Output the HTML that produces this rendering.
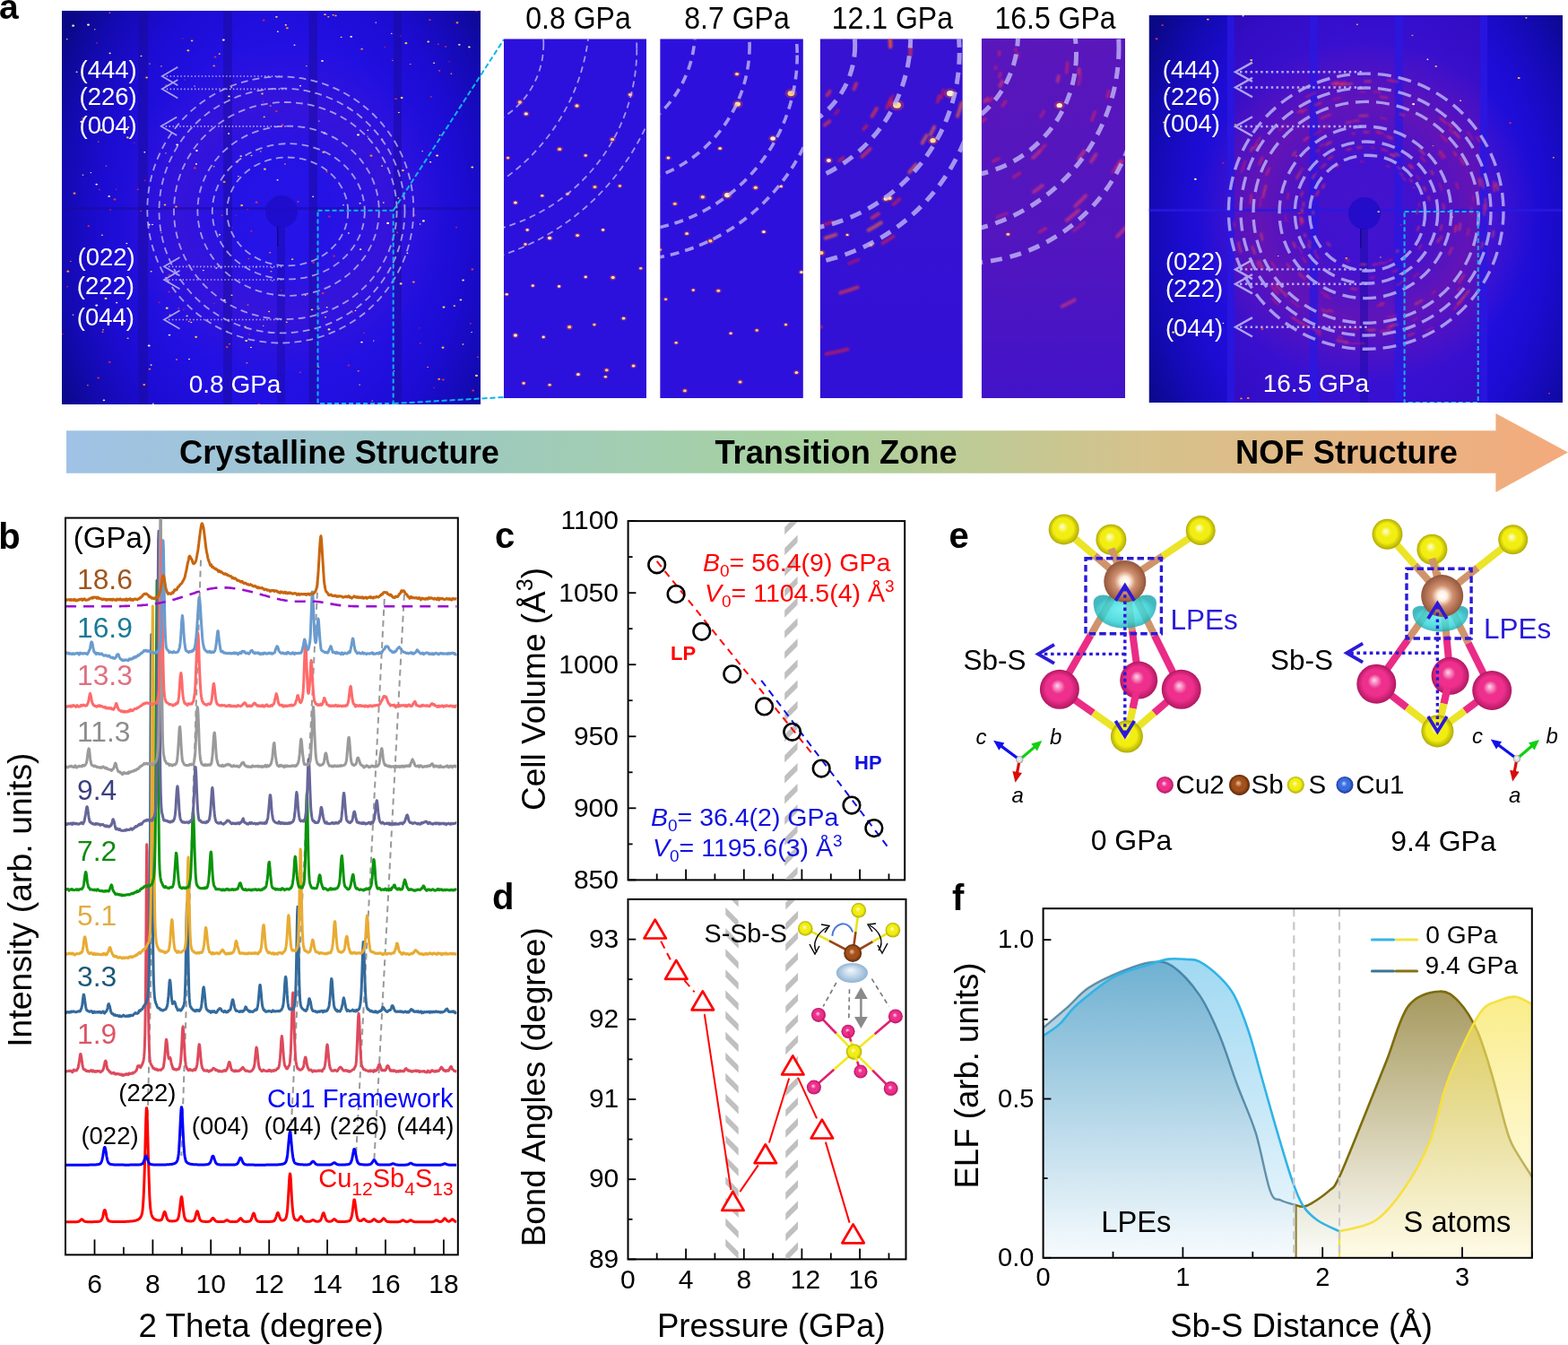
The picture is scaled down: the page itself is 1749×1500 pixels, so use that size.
<!DOCTYPE html>
<html><head><meta charset="utf-8"><title>Figure</title><style>html,body{margin:0;padding:0;background:#fff;}svg{display:block;}</style></head><body>
<svg width="1749" height="1500" viewBox="0 0 1749 1500" font-family="'Liberation Sans', Arial, sans-serif">
<defs><radialGradient id="spS" cx="0.5" cy="0.5" r="0.5" fx="0.44" fy="0.4"><stop offset="0" stop-color="#ffffd8"/><stop offset="0.36" stop-color="#f2ee12"/><stop offset="0.66" stop-color="#f2ee12"/><stop offset="1" stop-color="#b0aa00"/></radialGradient>
<radialGradient id="spSb" cx="0.5" cy="0.5" r="0.5" fx="0.44" fy="0.4"><stop offset="0" stop-color="#fff4ea"/><stop offset="0.36" stop-color="#c88c68"/><stop offset="0.66" stop-color="#c88c68"/><stop offset="1" stop-color="#8a5236"/></radialGradient>
<radialGradient id="spSbd" cx="0.5" cy="0.5" r="0.5" fx="0.44" fy="0.4"><stop offset="0" stop-color="#f0c0a0"/><stop offset="0.36" stop-color="#a4501a"/><stop offset="0.66" stop-color="#a4501a"/><stop offset="1" stop-color="#5a2808"/></radialGradient>
<radialGradient id="spCu2" cx="0.5" cy="0.5" r="0.5" fx="0.44" fy="0.4"><stop offset="0" stop-color="#ffd8ec"/><stop offset="0.36" stop-color="#ee2f8c"/><stop offset="0.66" stop-color="#ee2f8c"/><stop offset="1" stop-color="#b01862"/></radialGradient>
<radialGradient id="spCu1" cx="0.5" cy="0.5" r="0.5" fx="0.44" fy="0.4"><stop offset="0" stop-color="#c0d8ff"/><stop offset="0.36" stop-color="#3a6ee0"/><stop offset="0.66" stop-color="#3a6ee0"/><stop offset="1" stop-color="#1a3490"/></radialGradient>
<radialGradient id="spW" cx="0.5" cy="0.5" r="0.5" fx="0.44" fy="0.4"><stop offset="0" stop-color="#ffffff"/><stop offset="0.36" stop-color="#e0e0e0"/><stop offset="0.66" stop-color="#e0e0e0"/><stop offset="1" stop-color="#909090"/></radialGradient>
<radialGradient id="spSbC" cx="0.5" cy="0.5" r="0.5" fx="0.5" fy="0.5"><stop offset="0" stop-color="#ffffff"/><stop offset="0.22" stop-color="#fff0e0"/><stop offset="0.5" stop-color="#d09070"/><stop offset="0.95" stop-color="#9a5c40"/><stop offset="1" stop-color="#8a5236"/></radialGradient>
<radialGradient id="lobe" cx="0.5" cy="0.5" r="0.5" fx="0.5" fy="0.4"><stop offset="0" stop-color="#60f0f0"/><stop offset="0.7" stop-color="#30d4d8"/><stop offset="1" stop-color="#1aa8b0"/></radialGradient>
<radialGradient id="lobe2" cx="0.5" cy="0.5" r="0.5" fx="0.45" fy="0.35"><stop offset="0" stop-color="#f4f8fc"/><stop offset="0.5" stop-color="#c4d8ea"/><stop offset="1" stop-color="#90b4d4"/></radialGradient>
<clipPath id="clipL"><rect x="69" y="12" width="467" height="439"/></clipPath>
<radialGradient id="bgL" gradientUnits="userSpaceOnUse" cx="0" cy="0" r="1" gradientTransform="translate(316 248) scale(289.5 403.9)"><stop offset="0" stop-color="#2614e8"/><stop offset="0.5" stop-color="#2210e2"/><stop offset="0.7" stop-color="#1c0cd2"/><stop offset="0.85" stop-color="#140ab2"/><stop offset="1" stop-color="#0a0884"/></radialGradient>
<radialGradient id="tnL" gradientUnits="userSpaceOnUse" cx="316" cy="234" r="185.6"><stop offset="0.3" stop-color="#a020a0" stop-opacity="0"/><stop offset="0.62" stop-color="#a020a0" stop-opacity="0.14"/><stop offset="1" stop-color="#a020a0" stop-opacity="0"/></radialGradient>
<clipPath id="clipR"><rect x="1281.5" y="17" width="461.5" height="432"/></clipPath>
<radialGradient id="bgR" gradientUnits="userSpaceOnUse" cx="0" cy="0" r="1" gradientTransform="translate(1524 250) scale(286.1 397.4)"><stop offset="0" stop-color="#2614e8"/><stop offset="0.5" stop-color="#2210e2"/><stop offset="0.7" stop-color="#1c0cd2"/><stop offset="0.85" stop-color="#140ab2"/><stop offset="1" stop-color="#0a0884"/></radialGradient>
<radialGradient id="tnR" gradientUnits="userSpaceOnUse" cx="1524" cy="236" r="191.6"><stop offset="0.3" stop-color="#c02080" stop-opacity="0"/><stop offset="0.62" stop-color="#c02080" stop-opacity="0.3"/><stop offset="1" stop-color="#c02080" stop-opacity="0"/></radialGradient>
<linearGradient id="mtR" gradientUnits="userSpaceOnUse" x1="0" y1="17" x2="0" y2="449"><stop offset="0" stop-color="#8a1090" stop-opacity="0.2"/><stop offset="0.45" stop-color="#8a1090" stop-opacity="0.3"/><stop offset="1" stop-color="#8a1090" stop-opacity="0.2"/></linearGradient>
<filter id="fblur" x="-20%" y="-20%" width="140%" height="140%"><feGaussianBlur stdDeviation="1.3"/></filter>
<clipPath id="sclip1"><rect x="561.9" y="43.3" width="159.1" height="400.7"/></clipPath>
<clipPath id="sclip2"><rect x="736.2" y="43.3" width="159.7" height="400.7"/></clipPath>
<clipPath id="sclip3"><rect x="914.7" y="43.3" width="159.1" height="400.7"/></clipPath>
<linearGradient id="stt3" x1="0" y1="0" x2="0" y2="1"><stop offset="0" stop-color="#8020a0" stop-opacity="0.12"/><stop offset="0.55" stop-color="#8020a0" stop-opacity="0.096"/><stop offset="1" stop-color="#8020a0" stop-opacity="0.03"/></linearGradient>
<clipPath id="sclip4"><rect x="1094.8" y="42.7" width="160.2" height="401.3"/></clipPath>
<linearGradient id="stt4" x1="0" y1="0" x2="0" y2="1"><stop offset="0" stop-color="#9a2098" stop-opacity="0.32"/><stop offset="0.55" stop-color="#9a2098" stop-opacity="0.256"/><stop offset="1" stop-color="#9a2098" stop-opacity="0.08"/></linearGradient>
<linearGradient id="abar" gradientUnits="userSpaceOnUse" x1="74" y1="0" x2="1749" y2="0"><stop offset="0" stop-color="#a0c2e6"/><stop offset="0.28" stop-color="#9ecabe"/><stop offset="0.5" stop-color="#a8d29e"/><stop offset="0.72" stop-color="#d6c28c"/><stop offset="1" stop-color="#f4aa7c"/></linearGradient>
<clipPath id="bclip"><rect x="74" y="578.6" width="435.8" height="819.8"/></clipPath>
<clipPath id="hc1"><rect x="875.2" y="582.1" width="14.4" height="398.3"/></clipPath>
<clipPath id="hc2"><rect x="809.3" y="1003.9" width="14.4" height="399.5"/></clipPath>
<clipPath id="hc3"><rect x="876.3" y="1003.9" width="13.8" height="399.5"/></clipPath>
<linearGradient id="g9" gradientUnits="userSpaceOnUse" x1="0" y1="1060" x2="0" y2="1402"><stop offset="0" stop-color="#2a7aa6" stop-opacity="1"/><stop offset="1" stop-color="#ffffff" stop-opacity="1"/></linearGradient>
<linearGradient id="gs9" gradientUnits="userSpaceOnUse" x1="0" y1="1060" x2="0" y2="1402"><stop offset="0" stop-color="#7e6c18" stop-opacity="1"/><stop offset="1" stop-color="#fffef8" stop-opacity="1"/></linearGradient>
<linearGradient id="g0" gradientUnits="userSpaceOnUse" x1="0" y1="1060" x2="0" y2="1402"><stop offset="0" stop-color="#9ed8f2" stop-opacity="1"/><stop offset="1" stop-color="#f0f8fd" stop-opacity="1"/></linearGradient>
<linearGradient id="gs0" gradientUnits="userSpaceOnUse" x1="0" y1="1060" x2="0" y2="1402"><stop offset="0" stop-color="#f6e03a" stop-opacity="1"/><stop offset="1" stop-color="#fff8d0" stop-opacity="0.6"/></linearGradient></defs>
<rect width="1749" height="1500" fill="#fff"/>
<g clip-path="url(#clipL)">
<rect x="69" y="12" width="467" height="439" fill="url(#bgL)"/>
<rect x="69" y="12" width="467" height="439" fill="url(#tnL)"/>
<rect x="154" y="12" width="11" height="439" fill="#1a0a9a" opacity="0.5"/>
<rect x="249" y="12" width="10" height="439" fill="#1a0a9a" opacity="0.5"/>
<rect x="344.5" y="12" width="9.5" height="439" fill="#1a0a9a" opacity="0.5"/>
<rect x="439" y="12" width="9" height="439" fill="#1a0a9a" opacity="0.5"/>
<rect x="69" y="231" width="467" height="3" fill="#1a0a9a" opacity="0.5"/>
<circle cx="314" cy="236" r="18" fill="#1e0cc8" opacity="0.85"/>
<rect x="309" y="253" width="9" height="198" fill="#1a0aa8" opacity="0.5"/>
<rect x="309" y="253" width="1.5" height="22" fill="#10067a" opacity="0.8"/>
<ellipse cx="280.3" cy="257.7" rx="1.3" ry="0.9" fill="#c02060"/>
<ellipse cx="280" cy="387.4" rx="1" ry="0.7" fill="#fff0b0"/>
<ellipse cx="444.4" cy="220.9" rx="1" ry="0.7" fill="#ffffe0"/>
<ellipse cx="113" cy="145.2" rx="1.5" ry="1.1" fill="#ffe070"/>
<ellipse cx="447.1" cy="316.4" rx="1.5" ry="1.1" fill="#ffe070"/>
<ellipse cx="527.7" cy="435.5" rx="1.5" ry="1.1" fill="#e03050"/>
<ellipse cx="372.6" cy="285.6" rx="1.5" ry="1.1" fill="#c02060"/>
<ellipse cx="98.5" cy="27.7" rx="1.5" ry="1.1" fill="#fff0b0"/>
<ellipse cx="83" cy="215.7" rx="1.5" ry="1.1" fill="#ff9030"/>
<ellipse cx="462.4" cy="239.9" rx="1.1" ry="0.8" fill="#e03050"/>
<ellipse cx="302.4" cy="302.8" rx="1.1" ry="0.8" fill="#ff9030"/>
<ellipse cx="259" cy="254" rx="0.8" ry="0.6" fill="#c02060"/>
<ellipse cx="399.5" cy="150.4" rx="1.5" ry="1.1" fill="#fff0b0"/>
<ellipse cx="204" cy="42.8" rx="0.8" ry="0.6" fill="#c02060"/>
<ellipse cx="256" cy="383.7" rx="0.8" ry="0.6" fill="#ff9030"/>
<ellipse cx="516.4" cy="384" rx="1" ry="0.7" fill="#ffe070"/>
<ellipse cx="166.9" cy="411.6" rx="1.3" ry="0.9" fill="#ff9030"/>
<ellipse cx="526.8" cy="186.5" rx="1.5" ry="1.1" fill="#ffe070"/>
<ellipse cx="363" cy="353.8" rx="1.1" ry="0.8" fill="#ffc040"/>
<ellipse cx="109.7" cy="158" rx="0.8" ry="0.6" fill="#ff9030"/>
<ellipse cx="131.9" cy="322.4" rx="0.8" ry="0.6" fill="#ffe070"/>
<ellipse cx="286.1" cy="225.7" rx="1.5" ry="1.1" fill="#e03050"/>
<ellipse cx="157" cy="235.4" rx="1" ry="0.7" fill="#e03050"/>
<ellipse cx="264.8" cy="180.5" rx="1.3" ry="0.9" fill="#ff9030"/>
<ellipse cx="531.4" cy="12.2" rx="1.5" ry="1.1" fill="#c02060"/>
<ellipse cx="211" cy="400.5" rx="1" ry="0.7" fill="#fff0b0"/>
<ellipse cx="253.1" cy="387.1" rx="1.5" ry="1.1" fill="#e03050"/>
<ellipse cx="115.9" cy="446.3" rx="1.3" ry="0.9" fill="#fff0b0"/>
<ellipse cx="189.6" cy="351.2" rx="1.1" ry="0.8" fill="#ffc040"/>
<ellipse cx="249.3" cy="44.6" rx="1.5" ry="1.1" fill="#fff0b0"/>
<ellipse cx="366.3" cy="18.8" rx="1.1" ry="0.8" fill="#ffc040"/>
<ellipse cx="359.5" cy="67.9" rx="1.3" ry="0.9" fill="#ffffe0"/>
<ellipse cx="457.7" cy="71.6" rx="1" ry="0.7" fill="#ff9030"/>
<ellipse cx="361.9" cy="148.4" rx="1.5" ry="1.1" fill="#fff0b0"/>
<ellipse cx="185.5" cy="95.3" rx="1.5" ry="1.1" fill="#e03050"/>
<ellipse cx="160.8" cy="429.1" rx="1.5" ry="1.1" fill="#ff9030"/>
<ellipse cx="105.7" cy="32.8" rx="0.8" ry="0.6" fill="#ffe070"/>
<ellipse cx="308.3" cy="124" rx="1.3" ry="0.9" fill="#e03050"/>
<ellipse cx="189" cy="373.6" rx="1.3" ry="0.9" fill="#ffffe0"/>
<ellipse cx="206" cy="89" rx="0.8" ry="0.6" fill="#e03050"/>
<ellipse cx="128" cy="222.4" rx="1.5" ry="1.1" fill="#e03050"/>
<ellipse cx="355.9" cy="135" rx="0.8" ry="0.6" fill="#fff0b0"/>
<ellipse cx="101.3" cy="192.6" rx="0.8" ry="0.6" fill="#fff0b0"/>
<ellipse cx="90.8" cy="135.8" rx="1.5" ry="1.1" fill="#ffffe0"/>
<ellipse cx="523.4" cy="52.5" rx="1.3" ry="0.9" fill="#fff0b0"/>
<ellipse cx="526.9" cy="300.4" rx="1.5" ry="1.1" fill="#e03050"/>
<ellipse cx="341.9" cy="73.6" rx="0.8" ry="0.6" fill="#ffe070"/>
<ellipse cx="290.7" cy="168.9" rx="0.8" ry="0.6" fill="#ffc040"/>
<ellipse cx="78.9" cy="291.3" rx="0.8" ry="0.6" fill="#ff9030"/>
<ellipse cx="410.1" cy="152" rx="0.8" ry="0.6" fill="#ffe070"/>
<ellipse cx="280.6" cy="173.5" rx="1" ry="0.7" fill="#ffe070"/>
<ellipse cx="439.5" cy="413.7" rx="0.8" ry="0.6" fill="#ffc040"/>
<ellipse cx="389" cy="407.5" rx="1.3" ry="0.9" fill="#c02060"/>
<ellipse cx="510" cy="25.3" rx="1.5" ry="1.1" fill="#ff9030"/>
<ellipse cx="75.8" cy="302.7" rx="1.5" ry="1.1" fill="#ff9030"/>
<ellipse cx="74.8" cy="43.7" rx="0.8" ry="0.6" fill="#ffe070"/>
<ellipse cx="532.9" cy="398.2" rx="1.1" ry="0.8" fill="#e03050"/>
<ellipse cx="250.4" cy="334.7" rx="1.3" ry="0.9" fill="#ffffe0"/>
<ellipse cx="274.7" cy="380" rx="1.5" ry="1.1" fill="#ffe070"/>
<ellipse cx="419.3" cy="25.1" rx="0.8" ry="0.6" fill="#ffffe0"/>
<ellipse cx="293.6" cy="113.1" rx="0.8" ry="0.6" fill="#e03050"/>
<ellipse cx="301.2" cy="281.8" rx="1.1" ry="0.8" fill="#ff9030"/>
<ellipse cx="487.6" cy="173.5" rx="1.5" ry="1.1" fill="#fff0b0"/>
<ellipse cx="163.6" cy="86.5" rx="1.3" ry="0.9" fill="#ffc040"/>
<ellipse cx="301.7" cy="118" rx="1.1" ry="0.8" fill="#ff9030"/>
<ellipse cx="161.7" cy="201.2" rx="1" ry="0.7" fill="#c02060"/>
<ellipse cx="480.1" cy="180.8" rx="1.1" ry="0.8" fill="#ffffe0"/>
<ellipse cx="167" cy="71.1" rx="0.8" ry="0.6" fill="#ffc040"/>
<ellipse cx="401.1" cy="429.1" rx="1" ry="0.7" fill="#ffc040"/>
<ellipse cx="121.7" cy="218.9" rx="1.3" ry="0.9" fill="#fff0b0"/>
<ellipse cx="247.6" cy="240.3" rx="1.1" ry="0.8" fill="#e03050"/>
<ellipse cx="403.5" cy="381.6" rx="1.3" ry="0.9" fill="#ffffe0"/>
<ellipse cx="218.6" cy="375.8" rx="1.5" ry="1.1" fill="#ffc040"/>
<ellipse cx="88.4" cy="323.1" rx="1.1" ry="0.8" fill="#ffffe0"/>
<ellipse cx="213.3" cy="359.5" rx="1" ry="0.7" fill="#ffe070"/>
<ellipse cx="258.2" cy="95.4" rx="1.1" ry="0.8" fill="#c02060"/>
<ellipse cx="179.9" cy="73.8" rx="0.8" ry="0.6" fill="#ffe070"/>
<ellipse cx="277.5" cy="288.6" rx="1.1" ry="0.8" fill="#e03050"/>
<ellipse cx="516.6" cy="312.5" rx="1.3" ry="0.9" fill="#fff0b0"/>
<ellipse cx="188.6" cy="325.5" rx="1.3" ry="0.9" fill="#c02060"/>
<ellipse cx="318.8" cy="27.9" rx="1.1" ry="0.8" fill="#fff0b0"/>
<ellipse cx="432.6" cy="248.9" rx="1.5" ry="1.1" fill="#ffffe0"/>
<ellipse cx="355.9" cy="344" rx="1" ry="0.7" fill="#ff9030"/>
<ellipse cx="109.7" cy="421.4" rx="1.3" ry="0.9" fill="#e03050"/>
<ellipse cx="129.7" cy="211.1" rx="0.8" ry="0.6" fill="#e03050"/>
<ellipse cx="245" cy="261.7" rx="1.1" ry="0.8" fill="#ffffe0"/>
<ellipse cx="285.6" cy="297.9" rx="0.8" ry="0.6" fill="#fff0b0"/>
<ellipse cx="406.1" cy="371.3" rx="0.8" ry="0.6" fill="#e03050"/>
<ellipse cx="168.6" cy="407.1" rx="1.1" ry="0.8" fill="#ffe070"/>
<ellipse cx="319.8" cy="359.2" rx="1.1" ry="0.8" fill="#ffc040"/>
<ellipse cx="494" cy="387.7" rx="1.5" ry="1.1" fill="#ffc040"/>
<ellipse cx="107.7" cy="205.6" rx="1.3" ry="0.9" fill="#ffffe0"/>
<ellipse cx="427.8" cy="226" rx="1" ry="0.7" fill="#ffe070"/>
<ellipse cx="446.9" cy="40.1" rx="0.8" ry="0.6" fill="#c02060"/>
<ellipse cx="149.7" cy="159.1" rx="1" ry="0.7" fill="#c02060"/>
<ellipse cx="288.8" cy="450.9" rx="1.5" ry="1.1" fill="#e03050"/>
<ellipse cx="461.3" cy="314.6" rx="1.5" ry="1.1" fill="#ff9030"/>
<ellipse cx="512.3" cy="49.8" rx="1.3" ry="0.9" fill="#fff0b0"/>
<ellipse cx="315" cy="139.4" rx="1.5" ry="1.1" fill="#e03050"/>
<ellipse cx="367.4" cy="241.5" rx="1.5" ry="1.1" fill="#c02060"/>
<ellipse cx="188.8" cy="306.7" rx="1.5" ry="1.1" fill="#c02060"/>
<ellipse cx="166.2" cy="385.5" rx="1.5" ry="1.1" fill="#ffffe0"/>
<ellipse cx="196.5" cy="230.5" rx="1.5" ry="1.1" fill="#ff9030"/>
<ellipse cx="122.4" cy="14.2" rx="0.8" ry="0.6" fill="#ff9030"/>
<ellipse cx="320.4" cy="31.3" rx="1.5" ry="1.1" fill="#ff9030"/>
<ellipse cx="443.1" cy="259.1" rx="0.8" ry="0.6" fill="#ff9030"/>
<ellipse cx="391.7" cy="40.9" rx="1.3" ry="0.9" fill="#ffffe0"/>
<ellipse cx="262.2" cy="432.1" rx="1.1" ry="0.8" fill="#ff9030"/>
<ellipse cx="184" cy="228.4" rx="1.3" ry="0.9" fill="#ffc040"/>
<ellipse cx="489.7" cy="422.8" rx="1.5" ry="1.1" fill="#ff9030"/>
<ellipse cx="217.1" cy="96" rx="0.8" ry="0.6" fill="#ffffe0"/>
<ellipse cx="501.1" cy="68.8" rx="0.8" ry="0.6" fill="#c02060"/>
<ellipse cx="85.6" cy="80.3" rx="1.1" ry="0.8" fill="#ffe070"/>
<ellipse cx="219.4" cy="168" rx="1.3" ry="0.9" fill="#ffffe0"/>
<ellipse cx="118" cy="332.9" rx="1.5" ry="1.1" fill="#ffe070"/>
<ellipse cx="360.2" cy="327.1" rx="1.5" ry="1.1" fill="#e03050"/>
<ellipse cx="479.4" cy="22.2" rx="1.3" ry="0.9" fill="#e03050"/>
<ellipse cx="454.4" cy="282.3" rx="1" ry="0.7" fill="#ffffe0"/>
<ellipse cx="472.4" cy="246.4" rx="1.5" ry="1.1" fill="#fff0b0"/>
<ellipse cx="170" cy="250.4" rx="1" ry="0.7" fill="#ffffe0"/>
<ellipse cx="177.7" cy="337.2" rx="1.1" ry="0.8" fill="#c02060"/>
<ellipse cx="490.6" cy="150.7" rx="1" ry="0.7" fill="#ffc040"/>
<ellipse cx="170.9" cy="450.3" rx="1" ry="0.7" fill="#ffe070"/>
<ellipse cx="484.1" cy="70.2" rx="1.1" ry="0.8" fill="#ffe070"/>
<ellipse cx="250.1" cy="202.9" rx="1.5" ry="1.1" fill="#ff9030"/>
<ellipse cx="437.9" cy="67.3" rx="0.8" ry="0.6" fill="#ff9030"/>
<ellipse cx="113.9" cy="262.2" rx="1.1" ry="0.8" fill="#ffc040"/>
<ellipse cx="122.9" cy="234" rx="1.1" ry="0.8" fill="#c02060"/>
<ellipse cx="303.8" cy="313" rx="0.8" ry="0.6" fill="#fff0b0"/>
<ellipse cx="294.1" cy="22.7" rx="1.5" ry="1.1" fill="#c02060"/>
<ellipse cx="355.4" cy="409.3" rx="1" ry="0.7" fill="#ff9030"/>
<ellipse cx="157.5" cy="62.5" rx="1" ry="0.7" fill="#fff0b0"/>
<ellipse cx="531.5" cy="418.9" rx="1.5" ry="1.1" fill="#ffe070"/>
<ellipse cx="97.9" cy="429.7" rx="0.8" ry="0.6" fill="#ff9030"/>
<ellipse cx="426.1" cy="155.5" rx="1.3" ry="0.9" fill="#ff9030"/>
<ellipse cx="309.6" cy="200.8" rx="1.1" ry="0.8" fill="#ffffe0"/>
<ellipse cx="75.2" cy="319.8" rx="1" ry="0.7" fill="#c02060"/>
<ellipse cx="153.7" cy="211.3" rx="1.1" ry="0.8" fill="#e03050"/>
<ellipse cx="258.3" cy="97.7" rx="0.8" ry="0.6" fill="#fff0b0"/>
<ellipse cx="308.4" cy="18.8" rx="1.3" ry="0.9" fill="#ffe070"/>
<ellipse cx="335" cy="95.8" rx="1.1" ry="0.8" fill="#ffffe0"/>
<ellipse cx="444.9" cy="125.4" rx="1" ry="0.7" fill="#ffe070"/>
<ellipse cx="449.4" cy="190.1" rx="1.5" ry="1.1" fill="#ffc040"/>
<ellipse cx="393.5" cy="348.8" rx="1" ry="0.7" fill="#c02060"/>
<ellipse cx="258.5" cy="329.2" rx="1.1" ry="0.8" fill="#ffe070"/>
<ellipse cx="209.9" cy="56.3" rx="1.5" ry="1.1" fill="#ffc040"/>
<ellipse cx="92.1" cy="131.8" rx="1.1" ry="0.8" fill="#e03050"/>
<ellipse cx="226.8" cy="301.6" rx="1" ry="0.7" fill="#ffffe0"/>
<ellipse cx="317.9" cy="183" rx="1" ry="0.7" fill="#ff9030"/>
<ellipse cx="396.5" cy="346.4" rx="0.8" ry="0.6" fill="#ffffe0"/>
<ellipse cx="122.6" cy="59.4" rx="1.1" ry="0.8" fill="#fff0b0"/>
<ellipse cx="276.2" cy="233.6" rx="1" ry="0.7" fill="#c02060"/>
<ellipse cx="371.6" cy="16.7" rx="1.1" ry="0.8" fill="#ffc040"/>
<ellipse cx="197.7" cy="161.6" rx="1.5" ry="1.1" fill="#ffffe0"/>
<ellipse cx="263.1" cy="240.6" rx="0.8" ry="0.6" fill="#c02060"/>
<ellipse cx="367" cy="367.4" rx="1.5" ry="1.1" fill="#ffe070"/>
<ellipse cx="348" cy="345.3" rx="1.3" ry="0.9" fill="#ffe070"/>
<ellipse cx="503.4" cy="82.2" rx="1" ry="0.7" fill="#ff9030"/>
<ellipse cx="468.6" cy="249.9" rx="0.8" ry="0.6" fill="#ffffe0"/>
<ellipse cx="269.6" cy="229.1" rx="1.5" ry="1.1" fill="#ffc040"/>
<ellipse cx="255.1" cy="149.1" rx="1.1" ry="0.8" fill="#ffffe0"/>
<ellipse cx="294.7" cy="130.4" rx="1.1" ry="0.8" fill="#ffc040"/>
<ellipse cx="81.5" cy="351.1" rx="0.8" ry="0.6" fill="#ffffe0"/>
<ellipse cx="364.6" cy="191.5" rx="1.3" ry="0.9" fill="#e03050"/>
<ellipse cx="93.7" cy="150.3" rx="0.8" ry="0.6" fill="#ff9030"/>
<ellipse cx="340.7" cy="329.4" rx="0.8" ry="0.6" fill="#ffc040"/>
<ellipse cx="441.5" cy="110.2" rx="1.3" ry="0.9" fill="#e03050"/>
<ellipse cx="186.2" cy="343.7" rx="1.5" ry="1.1" fill="#ffe070"/>
<ellipse cx="115" cy="367.7" rx="1" ry="0.7" fill="#ff9030"/>
<ellipse cx="526.1" cy="370.5" rx="0.8" ry="0.6" fill="#ffffe0"/>
<ellipse cx="92.5" cy="195.1" rx="1" ry="0.7" fill="#ffe070"/>
<ellipse cx="471.1" cy="168.6" rx="0.8" ry="0.6" fill="#fff0b0"/>
<ellipse cx="238.7" cy="73.4" rx="1.3" ry="0.9" fill="#ff9030"/>
<ellipse cx="349.7" cy="292.8" rx="1.3" ry="0.9" fill="#e03050"/>
<ellipse cx="239" cy="338.6" rx="1" ry="0.7" fill="#c02060"/>
<ellipse cx="513.9" cy="334.4" rx="1.3" ry="0.9" fill="#fff0b0"/>
<ellipse cx="122.2" cy="403.9" rx="1.5" ry="1.1" fill="#c02060"/>
<ellipse cx="360.9" cy="169.7" rx="1.5" ry="1.1" fill="#ffc040"/>
<ellipse cx="388.9" cy="260" rx="1" ry="0.7" fill="#ffffe0"/>
<ellipse cx="364.7" cy="342.7" rx="1" ry="0.7" fill="#fff0b0"/>
<ellipse cx="303.5" cy="298.6" rx="0.8" ry="0.6" fill="#fff0b0"/>
<ellipse cx="362.5" cy="16.2" rx="1.3" ry="0.9" fill="#ffc040"/>
<ellipse cx="81.6" cy="28.7" rx="1.5" ry="1.1" fill="#fff0b0"/>
<ellipse cx="199" cy="343.8" rx="1" ry="0.7" fill="#e03050"/>
<ellipse cx="326.1" cy="289.1" rx="1.3" ry="0.9" fill="#ffc040"/>
<ellipse cx="292.5" cy="104.5" rx="1.3" ry="0.9" fill="#ffc040"/>
<ellipse cx="416.8" cy="380.1" rx="0.8" ry="0.6" fill="#ffe070"/>
<ellipse cx="277.9" cy="372.9" rx="1" ry="0.7" fill="#c02060"/>
<ellipse cx="276.5" cy="340.1" rx="1" ry="0.7" fill="#ff9030"/>
<ellipse cx="241.3" cy="299" rx="1.1" ry="0.8" fill="#ffffe0"/>
<ellipse cx="204.8" cy="345.2" rx="1" ry="0.7" fill="#c02060"/>
<ellipse cx="268.7" cy="174.1" rx="1.3" ry="0.9" fill="#ffe070"/>
<ellipse cx="477.7" cy="46.5" rx="1.3" ry="0.9" fill="#ffe070"/>
<ellipse cx="332.5" cy="224.9" rx="1.3" ry="0.9" fill="#e03050"/>
<ellipse cx="208.6" cy="352.4" rx="1.1" ry="0.8" fill="#ffe070"/>
<ellipse cx="168.6" cy="302.7" rx="1.1" ry="0.8" fill="#ffe070"/>
<ellipse cx="300.1" cy="347.5" rx="1.1" ry="0.8" fill="#ffc040"/>
<ellipse cx="480.8" cy="108" rx="1.1" ry="0.8" fill="#e03050"/>
<ellipse cx="240.1" cy="63.5" rx="1.3" ry="0.9" fill="#e03050"/>
<ellipse cx="334.9" cy="415.2" rx="1.1" ry="0.8" fill="#e03050"/>
<ellipse cx="273.5" cy="364.5" rx="1.3" ry="0.9" fill="#ffc040"/>
<ellipse cx="217.3" cy="187.4" rx="1.5" ry="1.1" fill="#e03050"/>
<ellipse cx="185" cy="170.8" rx="0.8" ry="0.6" fill="#ffc040"/>
<ellipse cx="238.7" cy="185.7" rx="1" ry="0.7" fill="#ff9030"/>
<ellipse cx="414" cy="173.7" rx="1.5" ry="1.1" fill="#ff9030"/>
<ellipse cx="141.3" cy="271.5" rx="1" ry="0.7" fill="#fff0b0"/>
<ellipse cx="110.9" cy="211.5" rx="1.1" ry="0.8" fill="#c02060"/>
<ellipse cx="448.1" cy="109.1" rx="1.5" ry="1.1" fill="#ffe070"/>
<ellipse cx="143.1" cy="141.9" rx="1.3" ry="0.9" fill="#ffe070"/>
<ellipse cx="98.9" cy="252.1" rx="1.5" ry="1.1" fill="#c02060"/>
<ellipse cx="108.2" cy="47.9" rx="0.8" ry="0.6" fill="#e03050"/>
<ellipse cx="488.9" cy="49.2" rx="1" ry="0.7" fill="#e03050"/>
<ellipse cx="114.5" cy="370.3" rx="1" ry="0.7" fill="#ff9030"/>
<ellipse cx="401.6" cy="226.7" rx="1.1" ry="0.8" fill="#ffffe0"/>
<ellipse cx="426.1" cy="185.1" rx="1.1" ry="0.8" fill="#ffc040"/>
<ellipse cx="383" cy="228.7" rx="0.8" ry="0.6" fill="#ffffe0"/>
<ellipse cx="399.7" cy="413.7" rx="1.1" ry="0.8" fill="#ff9030"/>
<ellipse cx="467.6" cy="365.8" rx="0.8" ry="0.6" fill="#c02060"/>
<ellipse cx="484" cy="432.5" rx="0.8" ry="0.6" fill="#e03050"/>
<ellipse cx="313.6" cy="323.7" rx="0.8" ry="0.6" fill="#c02060"/>
<ellipse cx="265.9" cy="196.6" rx="1" ry="0.7" fill="#fff0b0"/>
<ellipse cx="415.2" cy="447.1" rx="1" ry="0.7" fill="#ff9030"/>
<ellipse cx="218.9" cy="182.9" rx="1.1" ry="0.8" fill="#ffffe0"/>
<ellipse cx="197" cy="401" rx="1.1" ry="0.8" fill="#ff9030"/>
<ellipse cx="410.3" cy="145.2" rx="1" ry="0.7" fill="#fff0b0"/>
<ellipse cx="495" cy="342.6" rx="1.5" ry="1.1" fill="#ffe070"/>
<ellipse cx="293.7" cy="363.4" rx="0.8" ry="0.6" fill="#ffc040"/>
<ellipse cx="161.3" cy="169.7" rx="1" ry="0.7" fill="#ffffe0"/>
<ellipse cx="349.2" cy="219.2" rx="1" ry="0.7" fill="#ffffe0"/>
<ellipse cx="275.4" cy="404.7" rx="1" ry="0.7" fill="#ff9030"/>
<ellipse cx="494.3" cy="423.5" rx="1.5" ry="1.1" fill="#e03050"/>
<ellipse cx="508.9" cy="253.6" rx="1.1" ry="0.8" fill="#c02060"/>
<ellipse cx="295.4" cy="188.7" rx="1.5" ry="1.1" fill="#ffc040"/>
<ellipse cx="429.4" cy="52.6" rx="1" ry="0.7" fill="#c02060"/>
<ellipse cx="255.5" cy="107.4" rx="1.3" ry="0.9" fill="#fff0b0"/>
<ellipse cx="524.8" cy="360.9" rx="1.1" ry="0.8" fill="#c02060"/>
<ellipse cx="436.8" cy="37.4" rx="0.8" ry="0.6" fill="#fff0b0"/>
<ellipse cx="477.2" cy="409.4" rx="1" ry="0.7" fill="#ff9030"/>
<ellipse cx="402.1" cy="278.1" rx="1.3" ry="0.9" fill="#fff0b0"/>
<ellipse cx="142.3" cy="153.3" rx="1.5" ry="1.1" fill="#ffc040"/>
<ellipse cx="130.2" cy="337.6" rx="1.1" ry="0.8" fill="#ffffe0"/>
<ellipse cx="309.9" cy="35.2" rx="1" ry="0.7" fill="#ffffe0"/>
<ellipse cx="69.6" cy="372.6" rx="1" ry="0.7" fill="#c02060"/>
<ellipse cx="452.9" cy="48.2" rx="1.5" ry="1.1" fill="#ffc040"/>
<ellipse cx="403.6" cy="54.7" rx="1.3" ry="0.9" fill="#ff9030"/>
<ellipse cx="107.7" cy="340.6" rx="1.5" ry="1.1" fill="#ffffe0"/>
<ellipse cx="210.8" cy="358.5" rx="1" ry="0.7" fill="#ff9030"/>
<ellipse cx="497.1" cy="51.9" rx="1.3" ry="0.9" fill="#c02060"/>
<ellipse cx="166.3" cy="250.5" rx="1.3" ry="0.9" fill="#ffffe0"/>
<ellipse cx="142.6" cy="377.3" rx="1.1" ry="0.8" fill="#ffc040"/>
<ellipse cx="214.1" cy="45.4" rx="1.3" ry="0.9" fill="#ffc040"/>
<ellipse cx="380.6" cy="41.4" rx="1" ry="0.7" fill="#ffe070"/>
<ellipse cx="118.4" cy="185.1" rx="0.8" ry="0.6" fill="#ff9030"/>
<ellipse cx="374.4" cy="17.4" rx="1.3" ry="0.9" fill="#ff9030"/>
<ellipse cx="179.9" cy="259.6" rx="0.8" ry="0.6" fill="#ff9030"/>
<ellipse cx="468.8" cy="382.7" rx="1" ry="0.7" fill="#e03050"/>
<ellipse cx="490" cy="78.8" rx="1.3" ry="0.9" fill="#e03050"/>
<ellipse cx="506.8" cy="341.1" rx="1.3" ry="0.9" fill="#ffc040"/>
<ellipse cx="328.5" cy="50.2" rx="1" ry="0.7" fill="#fff0b0"/>
<ellipse cx="244.8" cy="60.1" rx="1.1" ry="0.8" fill="#ffc040"/>
<ellipse cx="320.7" cy="235.9" rx="67.5" ry="60.4" fill="none" stroke="#b4acf4" stroke-opacity="0.88" stroke-width="1.8" stroke-dasharray="7.8 5.3"/>
<ellipse cx="321.8" cy="235.8" rx="85" ry="75.6" fill="none" stroke="#b4acf4" stroke-opacity="0.88" stroke-width="1.8" stroke-dasharray="7.8 5.3"/>
<ellipse cx="321.6" cy="235.2" rx="101.2" ry="94.6" fill="none" stroke="#b4acf4" stroke-opacity="0.88" stroke-width="1.8" stroke-dasharray="7.8 5.3"/>
<ellipse cx="318.3" cy="235" rx="124.3" ry="121" fill="none" stroke="#b4acf4" stroke-opacity="0.88" stroke-width="1.8" stroke-dasharray="7.8 5.3"/>
<ellipse cx="314.5" cy="235" rx="137" ry="136.4" fill="none" stroke="#b4acf4" stroke-opacity="0.88" stroke-width="1.8" stroke-dasharray="7.8 5.3"/>
<ellipse cx="312.8" cy="234" rx="148.5" ry="148.5" fill="none" stroke="#b4acf4" stroke-opacity="0.88" stroke-width="1.8" stroke-dasharray="7.8 5.3"/>
<path d="M185.8 85 L311.7 85" stroke="#b4acf4" stroke-width="1.7" stroke-dasharray="1.4 2.5" fill="none"/>
<path d="M198.3 74.8 L180.8 85 L198.3 95.2" stroke="#aca4f2" stroke-width="1.7" fill="none"/>
<path d="M185.8 99.3 L320.5 99.3" stroke="#b4acf4" stroke-width="1.7" stroke-dasharray="1.4 2.5" fill="none"/>
<path d="M198.3 89.1 L180.8 99.3 L198.3 109.5" stroke="#aca4f2" stroke-width="1.7" fill="none"/>
<path d="M184.7 140.8 L321.6 140.8" stroke="#b4acf4" stroke-width="1.7" stroke-dasharray="1.4 2.5" fill="none"/>
<path d="M197.2 130.6 L179.7 140.8 L197.2 151" stroke="#aca4f2" stroke-width="1.7" fill="none"/>
<path d="M188 297.3 L315 297.3" stroke="#b4acf4" stroke-width="1.7" stroke-dasharray="1.4 2.5" fill="none"/>
<path d="M200.5 287.1 L183 297.3 L200.5 307.5" stroke="#aca4f2" stroke-width="1.7" fill="none"/>
<path d="M188 312 L317 312" stroke="#b4acf4" stroke-width="1.7" stroke-dasharray="1.4 2.5" fill="none"/>
<path d="M200.5 301.8 L183 312 L200.5 322.2" stroke="#aca4f2" stroke-width="1.7" fill="none"/>
<path d="M188 356.5 L314 356.5" stroke="#b4acf4" stroke-width="1.7" stroke-dasharray="1.4 2.5" fill="none"/>
<path d="M200.5 346.3 L183 356.5 L200.5 366.7" stroke="#aca4f2" stroke-width="1.7" fill="none"/>
<text x="88.5" y="86.8" font-size="27.5" fill="#fff">(444)</text>
<text x="88.5" y="117.4" font-size="27.5" fill="#fff">(226)</text>
<text x="88.5" y="148.7" font-size="27.5" fill="#fff">(004)</text>
<text x="86.5" y="296.4" font-size="27.5" fill="#fff">(022)</text>
<text x="85.8" y="328.2" font-size="27.5" fill="#fff">(222)</text>
<text x="85.8" y="363.4" font-size="27.5" fill="#fff">(044)</text>
<text x="210.7" y="438" font-size="28" fill="#fff">0.8 GPa</text>
<rect x="354.5" y="234.8" width="84.2" height="215.2" fill="none" stroke="#10b4ec" stroke-width="2" stroke-dasharray="5 3"/>
</g>
<g clip-path="url(#clipR)">
<rect x="1281.5" y="17" width="461.5" height="432" fill="url(#bgR)"/>
<rect x="1281.5" y="17" width="461.5" height="432" fill="url(#tnR)"/>
<rect x="1376.5" y="17" width="274.5" height="432" fill="url(#mtR)"/>
<rect x="1368.8" y="17" width="8" height="432" fill="#2a18e0" opacity="0.8"/>
<rect x="1460.8" y="17" width="9" height="432" fill="#2a18e0" opacity="0.8"/>
<rect x="1555.8" y="17" width="9" height="432" fill="#2a18e0" opacity="0.8"/>
<rect x="1651" y="17" width="8" height="432" fill="#2a18e0" opacity="0.8"/>
<rect x="1281.5" y="233" width="461.5" height="3" fill="#2a18e0" opacity="0.8"/>
<circle cx="1522" cy="238" r="18" fill="#1e0cc8" opacity="0.85"/>
<rect x="1517" y="255" width="9" height="194" fill="#1a0aa8" opacity="0.5"/>
<rect x="1517" y="255" width="1.5" height="22" fill="#10067a" opacity="0.8"/>
<ellipse cx="1500.5" cy="301" rx="1.1" ry="0.8" fill="#e03050"/>
<ellipse cx="1347.3" cy="21.7" rx="1.3" ry="0.9" fill="#ffc040"/>
<ellipse cx="1408" cy="367.1" rx="1.5" ry="1.1" fill="#e03050"/>
<ellipse cx="1386.6" cy="17.7" rx="1" ry="0.7" fill="#ffffe0"/>
<ellipse cx="1732.9" cy="175.8" rx="1" ry="0.7" fill="#ffc040"/>
<ellipse cx="1308.6" cy="370.7" rx="1.5" ry="1.1" fill="#ffe070"/>
<ellipse cx="1598.5" cy="162.6" rx="0.8" ry="0.6" fill="#ff9030"/>
<ellipse cx="1290.1" cy="43.3" rx="1.5" ry="1.1" fill="#e03050"/>
<ellipse cx="1384.5" cy="444.4" rx="1.3" ry="0.9" fill="#ff9030"/>
<ellipse cx="1333.4" cy="199.8" rx="1.5" ry="1.1" fill="#fff0b0"/>
<ellipse cx="1425.7" cy="285.5" rx="0.8" ry="0.6" fill="#fff0b0"/>
<ellipse cx="1537.7" cy="236.1" rx="1.3" ry="0.9" fill="#ffe070"/>
<ellipse cx="1561.8" cy="305.6" rx="1.3" ry="0.9" fill="#ff9030"/>
<ellipse cx="1562.7" cy="250.8" rx="0.8" ry="0.6" fill="#e03050"/>
<ellipse cx="1728" cy="438.8" rx="1.1" ry="0.8" fill="#e03050"/>
<ellipse cx="1446" cy="173.9" rx="1.3" ry="0.9" fill="#e03050"/>
<ellipse cx="1592.4" cy="66.2" rx="1.1" ry="0.8" fill="#fff0b0"/>
<ellipse cx="1449.2" cy="237.9" rx="1.5" ry="1.1" fill="#c02060"/>
<ellipse cx="1364.3" cy="181.6" rx="1.3" ry="0.9" fill="#c02060"/>
<ellipse cx="1296.6" cy="28.1" rx="1.3" ry="0.9" fill="#e03050"/>
<ellipse cx="1301.6" cy="105.3" rx="0.8" ry="0.6" fill="#ffffe0"/>
<ellipse cx="1629.1" cy="112.3" rx="1.1" ry="0.8" fill="#ffe070"/>
<ellipse cx="1298.5" cy="136.5" rx="1.5" ry="1.1" fill="#ffc040"/>
<ellipse cx="1575.4" cy="39.5" rx="1.1" ry="0.8" fill="#ff9030"/>
<ellipse cx="1377.9" cy="138.8" rx="1.3" ry="0.9" fill="#ff9030"/>
<ellipse cx="1392.2" cy="444" rx="1.5" ry="1.1" fill="#ff9030"/>
<ellipse cx="1449.6" cy="98.7" rx="1" ry="0.7" fill="#e03050"/>
<ellipse cx="1702.4" cy="19.9" rx="1.1" ry="0.8" fill="#ffc040"/>
<ellipse cx="1364.4" cy="360.4" rx="0.8" ry="0.6" fill="#ffffe0"/>
<ellipse cx="1395.7" cy="67.1" rx="1.5" ry="1.1" fill="#ffc040"/>
<ellipse cx="1513.9" cy="27.3" rx="1.1" ry="0.8" fill="#ffc040"/>
<ellipse cx="1576.6" cy="116.2" rx="1.5" ry="1.1" fill="#ffffe0"/>
<ellipse cx="1501.8" cy="287.9" rx="1.3" ry="0.9" fill="#ffc040"/>
<ellipse cx="1694.2" cy="87" rx="1.5" ry="1.1" fill="#ffc040"/>
<ellipse cx="1684.5" cy="137.2" rx="1.5" ry="1.1" fill="#c02060"/>
<ellipse cx="1577" cy="209.3" rx="1" ry="0.7" fill="#c02060"/>
<ellipse cx="1620.2" cy="242.1" rx="0.8" ry="0.6" fill="#ffe070"/>
<ellipse cx="1601.8" cy="73.9" rx="1.3" ry="0.9" fill="#ffc040"/>
<ellipse cx="1345.4" cy="103.5" rx="0.8" ry="0.6" fill="#ff9030"/>
<ellipse cx="1539.9" cy="286.9" rx="0.8" ry="0.6" fill="#ffc040"/>
<g filter="url(#fblur)"><path d="M1461.8 271.2 A71.5 71.5 0 0 1 1460.2 268.3" stroke="#ff3050" stroke-opacity="0.5" stroke-width="2.4" stroke-linecap="round" fill="none"/>
<path d="M1666 202.6 A145.8 145.8 0 0 1 1667.2 208.4" stroke="#ff3050" stroke-opacity="0.5" stroke-width="2.4" stroke-linecap="round" fill="none"/>
<path d="M1425.4 339.6 A143 143 0 0 1 1418.9 333" stroke="#e02060" stroke-opacity="0.5" stroke-width="2.4" stroke-linecap="round" fill="none"/>
<path d="M1532.2 309.3 A73.8 73.8 0 0 1 1529 309.6" stroke="#e02060" stroke-opacity="0.5" stroke-width="2.4" stroke-linecap="round" fill="none"/>
<path d="M1516.4 129.3 A107 107 0 0 1 1525.2 129" stroke="#ff5040" stroke-opacity="0.5" stroke-width="2.4" stroke-linecap="round" fill="none"/>
<path d="M1465.2 220.8 A60.7 60.7 0 0 1 1466.4 216.7" stroke="#c01880" stroke-opacity="0.5" stroke-width="2.4" stroke-linecap="round" fill="none"/>
<path d="M1547 185 A55.9 55.9 0 0 1 1548.9 185.9" stroke="#e02060" stroke-opacity="0.5" stroke-width="2.4" stroke-linecap="round" fill="none"/>
<path d="M1510.2 135 A102 102 0 0 1 1515.7 134.4" stroke="#ff3050" stroke-opacity="0.5" stroke-width="2.4" stroke-linecap="round" fill="none"/>
<path d="M1452.3 249.7 A73 73 0 0 1 1451.4 244" stroke="#e02060" stroke-opacity="0.5" stroke-width="2.4" stroke-linecap="round" fill="none"/>
<path d="M1457.6 108 A144.2 144.2 0 0 1 1467.8 103.2" stroke="#e02060" stroke-opacity="0.5" stroke-width="2.4" stroke-linecap="round" fill="none"/>
<path d="M1469.6 214.9 A58.4 58.4 0 0 1 1470.8 212" stroke="#c01880" stroke-opacity="0.5" stroke-width="2.4" stroke-linecap="round" fill="none"/>
<path d="M1461.3 276 A74.3 74.3 0 0 1 1459.4 272.7" stroke="#ff5040" stroke-opacity="0.5" stroke-width="2.4" stroke-linecap="round" fill="none"/>
<path d="M1641.3 232.2 A117.3 117.3 0 0 1 1641.3 238.4" stroke="#e02060" stroke-opacity="0.5" stroke-width="2.4" stroke-linecap="round" fill="none"/>
<path d="M1495.4 95.3 A143.6 143.6 0 0 1 1508.1 93.3" stroke="#ff5040" stroke-opacity="0.5" stroke-width="2.4" stroke-linecap="round" fill="none"/>
<path d="M1468.9 217.9 A57.9 57.9 0 0 1 1470.4 213.9" stroke="#ff3050" stroke-opacity="0.5" stroke-width="2.4" stroke-linecap="round" fill="none"/>
<path d="M1412.7 194.8 A118.7 118.7 0 0 1 1415.8 187.4" stroke="#ff3050" stroke-opacity="0.5" stroke-width="2.4" stroke-linecap="round" fill="none"/>
<path d="M1448.8 342 A130 130 0 0 1 1440 335.2" stroke="#c01880" stroke-opacity="0.5" stroke-width="2.4" stroke-linecap="round" fill="none"/>
<path d="M1473 373.4 A146.6 146.6 0 0 1 1468 371.5" stroke="#e02060" stroke-opacity="0.5" stroke-width="2.4" stroke-linecap="round" fill="none"/>
<path d="M1394.2 298.4 A144 144 0 0 1 1391.8 293.2" stroke="#e02060" stroke-opacity="0.5" stroke-width="2.4" stroke-linecap="round" fill="none"/>
<path d="M1451.8 125.4 A132.1 132.1 0 0 1 1456.8 122.3" stroke="#ff3050" stroke-opacity="0.5" stroke-width="2.4" stroke-linecap="round" fill="none"/>
<path d="M1622.4 147.2 A132.5 132.5 0 0 1 1627.5 153.2" stroke="#ff5040" stroke-opacity="0.5" stroke-width="2.4" stroke-linecap="round" fill="none"/>
<path d="M1616.9 144.4 A130.5 130.5 0 0 1 1620.5 148.2" stroke="#e02060" stroke-opacity="0.5" stroke-width="2.4" stroke-linecap="round" fill="none"/>
<path d="M1539.8 131.4 A105.8 105.8 0 0 1 1546 132.5" stroke="#c01880" stroke-opacity="0.5" stroke-width="2.4" stroke-linecap="round" fill="none"/>
<path d="M1491.3 185.6 A60.1 60.1 0 0 1 1492.9 184.5" stroke="#ff3050" stroke-opacity="0.5" stroke-width="2.4" stroke-linecap="round" fill="none"/>
<path d="M1573 184.1 A71.4 71.4 0 0 1 1576.4 187.6" stroke="#ff3050" stroke-opacity="0.5" stroke-width="2.4" stroke-linecap="round" fill="none"/>
<path d="M1451.2 245.7 A73.5 73.5 0 0 1 1450.8 242.4" stroke="#ff5040" stroke-opacity="0.5" stroke-width="2.4" stroke-linecap="round" fill="none"/>
<path d="M1573 200.1 A60.7 60.7 0 0 1 1574.8 202.7" stroke="#ff3050" stroke-opacity="0.5" stroke-width="2.4" stroke-linecap="round" fill="none"/>
<path d="M1444.8 275.7 A88.6 88.6 0 0 1 1442.4 270.5" stroke="#ff5040" stroke-opacity="0.5" stroke-width="2.4" stroke-linecap="round" fill="none"/>
<path d="M1451.1 190.7 A85.8 85.8 0 0 1 1452.9 188" stroke="#e02060" stroke-opacity="0.5" stroke-width="2.4" stroke-linecap="round" fill="none"/>
<path d="M1624.7 206 A105.1 105.1 0 0 1 1625.6 209.2" stroke="#c01880" stroke-opacity="0.5" stroke-width="2.4" stroke-linecap="round" fill="none"/>
<path d="M1649.5 200.1 A130.5 130.5 0 0 1 1651.3 207.1" stroke="#ff5040" stroke-opacity="0.5" stroke-width="2.4" stroke-linecap="round" fill="none"/>
<path d="M1647.3 152.9 A148.8 148.8 0 0 1 1650.4 157.6" stroke="#e02060" stroke-opacity="0.5" stroke-width="2.4" stroke-linecap="round" fill="none"/>
<path d="M1624.3 252.1 A101.6 101.6 0 0 1 1623.2 257.8" stroke="#ff3050" stroke-opacity="0.5" stroke-width="2.4" stroke-linecap="round" fill="none"/>
<path d="M1490.3 186.1 A60.2 60.2 0 0 1 1492.2 184.9" stroke="#c01880" stroke-opacity="0.5" stroke-width="2.4" stroke-linecap="round" fill="none"/>
<path d="M1543.7 338.1 A104 104 0 0 1 1539.6 338.8" stroke="#ff3050" stroke-opacity="0.5" stroke-width="2.4" stroke-linecap="round" fill="none"/>
<path d="M1487.9 95.3 A145.3 145.3 0 0 1 1496.8 93.3" stroke="#e02060" stroke-opacity="0.5" stroke-width="2.4" stroke-linecap="round" fill="none"/>
<path d="M1607.7 151.1 A119.3 119.3 0 0 1 1614 157.7" stroke="#e02060" stroke-opacity="0.5" stroke-width="2.4" stroke-linecap="round" fill="none"/>
<path d="M1619.6 276.3 A103.8 103.8 0 0 1 1616.3 283.4" stroke="#ff3050" stroke-opacity="0.5" stroke-width="2.4" stroke-linecap="round" fill="none"/>
<path d="M1521.3 383.2 A147.3 147.3 0 0 1 1510.8 382.7" stroke="#c01880" stroke-opacity="0.5" stroke-width="2.4" stroke-linecap="round" fill="none"/>
<path d="M1425 319.1 A129.3 129.3 0 0 1 1421.1 314.2" stroke="#c01880" stroke-opacity="0.5" stroke-width="2.4" stroke-linecap="round" fill="none"/>
<path d="M1384.9 191.5 A146 146 0 0 1 1389.3 179.6" stroke="#e02060" stroke-opacity="0.5" stroke-width="2.4" stroke-linecap="round" fill="none"/>
<path d="M1405.6 229.9 A118.6 118.6 0 0 1 1406.3 221.1" stroke="#c01880" stroke-opacity="0.5" stroke-width="2.4" stroke-linecap="round" fill="none"/>
<path d="M1436 221.6 A89.2 89.2 0 0 1 1437.1 216" stroke="#e02060" stroke-opacity="0.5" stroke-width="2.4" stroke-linecap="round" fill="none"/>
<path d="M1642.6 218.6 A119.9 119.9 0 0 1 1643.4 224.7" stroke="#c01880" stroke-opacity="0.5" stroke-width="2.4" stroke-linecap="round" fill="none"/>
<path d="M1629.3 320.5 A135 135 0 0 1 1626.3 324" stroke="#e02060" stroke-opacity="0.5" stroke-width="2.4" stroke-linecap="round" fill="none"/>
<path d="M1532.3 102.4 A133.9 133.9 0 0 1 1539.9 103.1" stroke="#e02060" stroke-opacity="0.5" stroke-width="2.4" stroke-linecap="round" fill="none"/>
<path d="M1399.7 282.9 A132.9 132.9 0 0 1 1397 275.2" stroke="#ff5040" stroke-opacity="0.5" stroke-width="2.4" stroke-linecap="round" fill="none"/>
<path d="M1624.2 251.8 A101.4 101.4 0 0 1 1622.8 258.8" stroke="#e02060" stroke-opacity="0.5" stroke-width="2.4" stroke-linecap="round" fill="none"/>
<path d="M1464.2 198.4 A70.7 70.7 0 0 1 1466.3 195.2" stroke="#ff5040" stroke-opacity="0.5" stroke-width="2.4" stroke-linecap="round" fill="none"/>
<path d="M1438.8 298.7 A105.8 105.8 0 0 1 1435.8 294.4" stroke="#ff3050" stroke-opacity="0.5" stroke-width="2.4" stroke-linecap="round" fill="none"/>
<path d="M1447.9 125.1 A134.5 134.5 0 0 1 1451.6 122.7" stroke="#ff3050" stroke-opacity="0.5" stroke-width="2.4" stroke-linecap="round" fill="none"/>
<path d="M1442.3 172.9 A103.2 103.2 0 0 1 1445 169.5" stroke="#ff5040" stroke-opacity="0.5" stroke-width="2.4" stroke-linecap="round" fill="none"/>
<path d="M1426.9 145.4 A132.8 132.8 0 0 1 1433.9 138.5" stroke="#c01880" stroke-opacity="0.5" stroke-width="2.4" stroke-linecap="round" fill="none"/>
<path d="M1452.1 236.6 A71.9 71.9 0 0 1 1452.2 233.1" stroke="#ff5040" stroke-opacity="0.5" stroke-width="2.4" stroke-linecap="round" fill="none"/>
<path d="M1488.9 94.1 A146.1 146.1 0 0 1 1501 91.7" stroke="#ff3050" stroke-opacity="0.5" stroke-width="2.4" stroke-linecap="round" fill="none"/>
<path d="M1585.2 175.3 A86.2 86.2 0 0 1 1589.5 179.9" stroke="#e02060" stroke-opacity="0.5" stroke-width="2.4" stroke-linecap="round" fill="none"/>
<path d="M1409.1 219.7 A116.1 116.1 0 0 1 1410.4 212.1" stroke="#ff5040" stroke-opacity="0.5" stroke-width="2.4" stroke-linecap="round" fill="none"/>
<path d="M1656.7 221.8 A133.5 133.5 0 0 1 1657.4 233.7" stroke="#ff3050" stroke-opacity="0.5" stroke-width="2.4" stroke-linecap="round" fill="none"/>
<path d="M1467 117.4 A131.6 131.6 0 0 1 1473.3 114.6" stroke="#ff3050" stroke-opacity="0.5" stroke-width="2.4" stroke-linecap="round" fill="none"/>
<path d="M1608.1 251.3 A85.5 85.5 0 0 1 1607 256.4" stroke="#ff3050" stroke-opacity="0.5" stroke-width="2.4" stroke-linecap="round" fill="none"/>
<path d="M1533.6 367.7 A132 132 0 0 1 1524.2 368" stroke="#ff5040" stroke-opacity="0.5" stroke-width="2.4" stroke-linecap="round" fill="none"/>
<path d="M1451 251.4 A74.6 74.6 0 0 1 1450.2 247.3" stroke="#c01880" stroke-opacity="0.5" stroke-width="2.4" stroke-linecap="round" fill="none"/>
<path d="M1426.6 322.2 A130 130 0 0 1 1422.8 317.6" stroke="#ff3050" stroke-opacity="0.5" stroke-width="2.4" stroke-linecap="round" fill="none"/>
<path d="M1549.7 171.7 A69.2 69.2 0 0 1 1555.1 174.2" stroke="#c01880" stroke-opacity="0.5" stroke-width="2.4" stroke-linecap="round" fill="none"/>
<path d="M1475.4 209.3 A55.4 55.4 0 0 1 1476.9 206.7" stroke="#ff5040" stroke-opacity="0.5" stroke-width="2.4" stroke-linecap="round" fill="none"/>
<path d="M1655.5 228.4 A131.7 131.7 0 0 1 1655.6 239.8" stroke="#ff3050" stroke-opacity="0.5" stroke-width="2.4" stroke-linecap="round" fill="none"/>
<path d="M1546.3 292.6 A60.8 60.8 0 0 1 1543.3 293.7" stroke="#e02060" stroke-opacity="0.5" stroke-width="2.4" stroke-linecap="round" fill="none"/>
<path d="M1446.4 199 A86 86 0 0 1 1449.8 192.6" stroke="#ff5040" stroke-opacity="0.5" stroke-width="2.4" stroke-linecap="round" fill="none"/>
<path d="M1480.8 348 A120 120 0 0 1 1474.7 345.4" stroke="#ff3050" stroke-opacity="0.5" stroke-width="2.4" stroke-linecap="round" fill="none"/>
<path d="M1556.4 171.2 A72.4 72.4 0 0 1 1560.5 173.4" stroke="#ff5040" stroke-opacity="0.5" stroke-width="2.4" stroke-linecap="round" fill="none"/>
<path d="M1399.5 165.4 A143.1 143.1 0 0 1 1402 161.1" stroke="#ff3050" stroke-opacity="0.5" stroke-width="2.4" stroke-linecap="round" fill="none"/>
<path d="M1551.6 172.4 A69.4 69.4 0 0 1 1555.8 174.4" stroke="#ff5040" stroke-opacity="0.5" stroke-width="2.4" stroke-linecap="round" fill="none"/>
<path d="M1477 142 A105.1 105.1 0 0 1 1480.7 140.3" stroke="#ff3050" stroke-opacity="0.5" stroke-width="2.4" stroke-linecap="round" fill="none"/>
<path d="M1468.7 169.2 A86.7 86.7 0 0 1 1470.8 167.5" stroke="#e02060" stroke-opacity="0.5" stroke-width="2.4" stroke-linecap="round" fill="none"/>
<path d="M1394.9 226.5 A129.4 129.4 0 0 1 1395.9 217.4" stroke="#ff3050" stroke-opacity="0.5" stroke-width="2.4" stroke-linecap="round" fill="none"/>
<path d="M1604.8 267.3 A86.6 86.6 0 0 1 1603.7 269.8" stroke="#ff5040" stroke-opacity="0.5" stroke-width="2.4" stroke-linecap="round" fill="none"/>
<path d="M1473.1 162.9 A89.1 89.1 0 0 1 1476 160.9" stroke="#e02060" stroke-opacity="0.5" stroke-width="2.4" stroke-linecap="round" fill="none"/>
<path d="M1451.6 218.1 A74.6 74.6 0 0 1 1452.7 214.2" stroke="#ff3050" stroke-opacity="0.5" stroke-width="2.4" stroke-linecap="round" fill="none"/>
<path d="M1404.6 298.3 A134.7 134.7 0 0 1 1401.6 292.3" stroke="#ff3050" stroke-opacity="0.5" stroke-width="2.4" stroke-linecap="round" fill="none"/>
<path d="M1514 164.7 A72 72 0 0 1 1518.7 164.2" stroke="#ff3050" stroke-opacity="0.5" stroke-width="2.4" stroke-linecap="round" fill="none"/>
<path d="M1464.8 238.3 A59.3 59.3 0 0 1 1464.7 236" stroke="#ff5040" stroke-opacity="0.5" stroke-width="2.4" stroke-linecap="round" fill="none"/>
<path d="M1497.6 376.6 A143.1 143.1 0 0 1 1492.9 375.7" stroke="#e02060" stroke-opacity="0.5" stroke-width="2.4" stroke-linecap="round" fill="none"/>
<path d="M1605.6 204.8 A87.3 87.3 0 0 1 1608 211.9" stroke="#c01880" stroke-opacity="0.5" stroke-width="2.4" stroke-linecap="round" fill="none"/>
<path d="M1552 289.6 A60.5 60.5 0 0 1 1549.5 290.8" stroke="#e02060" stroke-opacity="0.5" stroke-width="2.4" stroke-linecap="round" fill="none"/>
<path d="M1522.6 90.7 A145.3 145.3 0 0 1 1528.6 90.8" stroke="#ff5040" stroke-opacity="0.5" stroke-width="2.4" stroke-linecap="round" fill="none"/>
<path d="M1453.9 229.5 A70.4 70.4 0 0 1 1454.3 226.2" stroke="#ff5040" stroke-opacity="0.5" stroke-width="2.4" stroke-linecap="round" fill="none"/>
<path d="M1652.3 198.8 A133.6 133.6 0 0 1 1655 209.7" stroke="#ff3050" stroke-opacity="0.5" stroke-width="2.4" stroke-linecap="round" fill="none"/>
<path d="M1461.5 319.9 A104.6 104.6 0 0 1 1455.8 315.3" stroke="#c01880" stroke-opacity="0.5" stroke-width="2.4" stroke-linecap="round" fill="none"/>
<path d="M1638.1 255.5 A115.8 115.8 0 0 1 1636.9 261.8" stroke="#e02060" stroke-opacity="0.5" stroke-width="2.4" stroke-linecap="round" fill="none"/>
<path d="M1517.1 102.7 A133.4 133.4 0 0 1 1522.8 102.6" stroke="#c01880" stroke-opacity="0.5" stroke-width="2.4" stroke-linecap="round" fill="none"/>
<path d="M1585.9 335 A116.8 116.8 0 0 1 1578.8 339.1" stroke="#ff5040" stroke-opacity="0.5" stroke-width="2.4" stroke-linecap="round" fill="none"/>
<path d="M1577.1 372 A146 146 0 0 1 1571.2 374.1" stroke="#ff3050" stroke-opacity="0.5" stroke-width="2.4" stroke-linecap="round" fill="none"/>
<path d="M1542.4 340.4 A106 106 0 0 1 1536.2 341.3" stroke="#e02060" stroke-opacity="0.5" stroke-width="2.4" stroke-linecap="round" fill="none"/>
<path d="M1556.9 351.6 A120.2 120.2 0 0 1 1547.9 353.8" stroke="#c01880" stroke-opacity="0.5" stroke-width="2.4" stroke-linecap="round" fill="none"/>
<path d="M1486.3 347.4 A117.6 117.6 0 0 1 1482.1 345.9" stroke="#ff3050" stroke-opacity="0.5" stroke-width="2.4" stroke-linecap="round" fill="none"/>
<path d="M1468.1 280.2 A71.3 71.3 0 0 1 1466.8 278.5" stroke="#c01880" stroke-opacity="0.5" stroke-width="2.4" stroke-linecap="round" fill="none"/>
<path d="M1408.2 267.4 A120 120 0 0 1 1406.5 260.5" stroke="#ff5040" stroke-opacity="0.5" stroke-width="2.4" stroke-linecap="round" fill="none"/>
<path d="M1435.2 330 A129.3 129.3 0 0 1 1428 322.7" stroke="#ff5040" stroke-opacity="0.5" stroke-width="2.4" stroke-linecap="round" fill="none"/>
<path d="M1456.6 292.2 A87.8 87.8 0 0 1 1452.9 287.5" stroke="#e02060" stroke-opacity="0.5" stroke-width="2.4" stroke-linecap="round" fill="none"/>
<path d="M1638.4 324.3 A144.5 144.5 0 0 1 1632.1 332" stroke="#ff5040" stroke-opacity="0.5" stroke-width="2.4" stroke-linecap="round" fill="none"/>
<path d="M1637.2 147.4 A143.7 143.7 0 0 1 1642.8 155.1" stroke="#c01880" stroke-opacity="0.5" stroke-width="2.4" stroke-linecap="round" fill="none"/>
<path d="M1472.9 370 A143.5 143.5 0 0 1 1463.9 366.3" stroke="#ff3050" stroke-opacity="0.5" stroke-width="2.4" stroke-linecap="round" fill="none"/>
<path d="M1510.2 383.3 A148 148 0 0 1 1499.8 382" stroke="#c01880" stroke-opacity="0.5" stroke-width="2.4" stroke-linecap="round" fill="none"/>
<path d="M1558.8 361.6 A130.3 130.3 0 0 1 1551.2 363.4" stroke="#ff5040" stroke-opacity="0.5" stroke-width="2.4" stroke-linecap="round" fill="none"/>
<path d="M1580.1 195.5 A69.2 69.2 0 0 1 1583.3 200.4" stroke="#c01880" stroke-opacity="0.5" stroke-width="2.4" stroke-linecap="round" fill="none"/>
<path d="M1559.5 279.5 A56.2 56.2 0 0 1 1558 280.7" stroke="#ff5040" stroke-opacity="0.5" stroke-width="2.4" stroke-linecap="round" fill="none"/>
<path d="M1564.8 198 A55.7 55.7 0 0 1 1567.3 200.9" stroke="#e02060" stroke-opacity="0.5" stroke-width="2.4" stroke-linecap="round" fill="none"/>
<path d="M1487.2 110.9 A130.4 130.4 0 0 1 1494.6 109" stroke="#c01880" stroke-opacity="0.5" stroke-width="2.4" stroke-linecap="round" fill="none"/>
<path d="M1455 157.1 A104.8 104.8 0 0 1 1459.2 153.6" stroke="#c01880" stroke-opacity="0.5" stroke-width="2.4" stroke-linecap="round" fill="none"/>
<path d="M1454.6 156.5 A105.5 105.5 0 0 1 1459.3 152.7" stroke="#ff3050" stroke-opacity="0.5" stroke-width="2.4" stroke-linecap="round" fill="none"/>
<path d="M1628.9 249.2 A105.7 105.7 0 0 1 1627.8 256.3" stroke="#ff5040" stroke-opacity="0.5" stroke-width="2.4" stroke-linecap="round" fill="none"/>
<path d="M1400.6 161.1 A144.3 144.3 0 0 1 1405.7 153.3" stroke="#e02060" stroke-opacity="0.5" stroke-width="2.4" stroke-linecap="round" fill="none"/>
<path d="M1568.7 311.7 A87.9 87.9 0 0 1 1562.7 315" stroke="#c01880" stroke-opacity="0.5" stroke-width="2.4" stroke-linecap="round" fill="none"/>
<path d="M1552.3 363.9 A131 131 0 0 1 1548 364.7" stroke="#ff3050" stroke-opacity="0.5" stroke-width="2.4" stroke-linecap="round" fill="none"/>
<path d="M1474.3 186.8 A69.9 69.9 0 0 1 1478.4 183" stroke="#ff3050" stroke-opacity="0.5" stroke-width="2.4" stroke-linecap="round" fill="none"/>
<path d="M1411 211.1 A115.7 115.7 0 0 1 1412 207" stroke="#ff5040" stroke-opacity="0.5" stroke-width="2.4" stroke-linecap="round" fill="none"/>
<path d="M1541.3 293 A59.6 59.6 0 0 1 1537.1 294.1" stroke="#e02060" stroke-opacity="0.5" stroke-width="2.4" stroke-linecap="round" fill="none"/>
<path d="M1535.3 294.6 A59.7 59.7 0 0 1 1531.6 295.2" stroke="#ff3050" stroke-opacity="0.5" stroke-width="2.4" stroke-linecap="round" fill="none"/>
<path d="M1541.2 166.5 A71.6 71.6 0 0 1 1547.1 168.2" stroke="#e02060" stroke-opacity="0.5" stroke-width="2.4" stroke-linecap="round" fill="none"/>
<path d="M1481.3 329.5 A102.8 102.8 0 0 1 1473.5 325.6" stroke="#c01880" stroke-opacity="0.5" stroke-width="2.4" stroke-linecap="round" fill="none"/>
<path d="M1395.2 168.3 A145.5 145.5 0 0 1 1397.5 164.1" stroke="#ff5040" stroke-opacity="0.5" stroke-width="2.4" stroke-linecap="round" fill="none"/>
<path d="M1377.1 252.5 A147.8 147.8 0 0 1 1376.6 247.8" stroke="#e02060" stroke-opacity="0.5" stroke-width="2.4" stroke-linecap="round" fill="none"/>
<path d="M1548.4 89.2 A148.8 148.8 0 0 1 1559.1 91.4" stroke="#ff3050" stroke-opacity="0.5" stroke-width="2.4" stroke-linecap="round" fill="none"/>
<path d="M1479.2 161.4 A87 87 0 0 1 1484.5 158.4" stroke="#ff5040" stroke-opacity="0.5" stroke-width="2.4" stroke-linecap="round" fill="none"/>
<path d="M1632.3 332 A144.8 144.8 0 0 1 1625.8 338.9" stroke="#ff5040" stroke-opacity="0.5" stroke-width="2.4" stroke-linecap="round" fill="none"/>
<path d="M1582.2 304.6 A89.9 89.9 0 0 1 1577 308.6" stroke="#c01880" stroke-opacity="0.5" stroke-width="2.4" stroke-linecap="round" fill="none"/>
<path d="M1513.2 322.7 A87.3 87.3 0 0 1 1507.1 321.7" stroke="#ff3050" stroke-opacity="0.5" stroke-width="2.4" stroke-linecap="round" fill="none"/>
<path d="M1561.9 193.1 A57.2 57.2 0 0 1 1564.2 195.3" stroke="#e02060" stroke-opacity="0.5" stroke-width="2.4" stroke-linecap="round" fill="none"/>
<path d="M1551 368.1 A134.8 134.8 0 0 1 1539.9 369.9" stroke="#ff3050" stroke-opacity="0.5" stroke-width="2.4" stroke-linecap="round" fill="none"/>
<path d="M1504.5 290.6 A58 58 0 0 1 1501.8 289.6" stroke="#ff3050" stroke-opacity="0.5" stroke-width="2.4" stroke-linecap="round" fill="none"/>
<path d="M1391.5 303 A148.5 148.5 0 0 1 1388.8 297.4" stroke="#e02060" stroke-opacity="0.5" stroke-width="2.4" stroke-linecap="round" fill="none"/>
<path d="M1571.6 184.3 A70.3 70.3 0 0 1 1574.2 186.8" stroke="#ff3050" stroke-opacity="0.5" stroke-width="2.4" stroke-linecap="round" fill="none"/>
<path d="M1384.2 281.2 A146.9 146.9 0 0 1 1381.3 270.7" stroke="#ff5040" stroke-opacity="0.5" stroke-width="2.4" stroke-linecap="round" fill="none"/>
<path d="M1465.4 196.5 A70.7 70.7 0 0 1 1468.7 192" stroke="#c01880" stroke-opacity="0.5" stroke-width="2.4" stroke-linecap="round" fill="none"/>
<path d="M1455.3 311.2 A101.9 101.9 0 0 1 1449.2 305.1" stroke="#ff3050" stroke-opacity="0.5" stroke-width="2.4" stroke-linecap="round" fill="none"/>
<path d="M1536.3 147.8 A89.1 89.1 0 0 1 1542.5 148.9" stroke="#e02060" stroke-opacity="0.5" stroke-width="2.4" stroke-linecap="round" fill="none"/>
<path d="M1580.5 234.8 A56.5 56.5 0 0 1 1580.5 237.6" stroke="#ff5040" stroke-opacity="0.5" stroke-width="2.4" stroke-linecap="round" fill="none"/>
<path d="M1597.9 365.2 A148.9 148.9 0 0 1 1590.9 369" stroke="#c01880" stroke-opacity="0.5" stroke-width="2.4" stroke-linecap="round" fill="none"/>
<path d="M1609.9 227.6 A86.3 86.3 0 0 1 1610.3 234.1" stroke="#ff3050" stroke-opacity="0.5" stroke-width="2.4" stroke-linecap="round" fill="none"/>
<path d="M1666 258 A143.7 143.7 0 0 1 1665 264" stroke="#ff5040" stroke-opacity="0.5" stroke-width="2.4" stroke-linecap="round" fill="none"/>
<path d="M1502.4 167.3 A72 72 0 0 1 1506.7 166.1" stroke="#ff3050" stroke-opacity="0.5" stroke-width="2.4" stroke-linecap="round" fill="none"/>
<path d="M1425.6 327.5 A134.4 134.4 0 0 1 1418.1 318.8" stroke="#ff3050" stroke-opacity="0.5" stroke-width="2.4" stroke-linecap="round" fill="none"/>
<path d="M1600.5 324.9 A117.3 117.3 0 0 1 1597.8 327.2" stroke="#e02060" stroke-opacity="0.5" stroke-width="2.4" stroke-linecap="round" fill="none"/>
<path d="M1530 164.5 A71.7 71.7 0 0 1 1532.4 164.8" stroke="#c01880" stroke-opacity="0.5" stroke-width="2.4" stroke-linecap="round" fill="none"/>
<path d="M1475.4 208.1 A56.1 56.1 0 0 1 1477.4 204.8" stroke="#c01880" stroke-opacity="0.5" stroke-width="2.4" stroke-linecap="round" fill="none"/>
<path d="M1624.6 204 A105.6 105.6 0 0 1 1626.5 210.4" stroke="#c01880" stroke-opacity="0.5" stroke-width="2.4" stroke-linecap="round" fill="none"/>
<path d="M1452.4 281.9 A85 85 0 0 1 1449.1 276.2" stroke="#c01880" stroke-opacity="0.5" stroke-width="2.4" stroke-linecap="round" fill="none"/>
<path d="M1483.8 332.7 A104.8 104.8 0 0 1 1477 329.6" stroke="#c01880" stroke-opacity="0.5" stroke-width="2.4" stroke-linecap="round" fill="none"/>
<path d="M1482.1 177.2 A72.2 72.2 0 0 1 1486.2 174.5" stroke="#ff3050" stroke-opacity="0.5" stroke-width="2.4" stroke-linecap="round" fill="none"/>
<path d="M1633 306.8 A130 130 0 0 1 1627.2 315" stroke="#ff3050" stroke-opacity="0.5" stroke-width="2.4" stroke-linecap="round" fill="none"/>
<path d="M1582.6 252.3 A60.8 60.8 0 0 1 1581.1 256.8" stroke="#ff3050" stroke-opacity="0.5" stroke-width="2.4" stroke-linecap="round" fill="none"/>
<path d="M1561.7 127.2 A115.2 115.2 0 0 1 1566.1 128.8" stroke="#ff3050" stroke-opacity="0.5" stroke-width="2.4" stroke-linecap="round" fill="none"/>
<path d="M1460.8 365.1 A143.8 143.8 0 0 1 1451.5 360.2" stroke="#ff3050" stroke-opacity="0.5" stroke-width="2.4" stroke-linecap="round" fill="none"/>
<path d="M1517.7 180.3 A56 56 0 0 1 1520.7 180.1" stroke="#c01880" stroke-opacity="0.5" stroke-width="2.4" stroke-linecap="round" fill="none"/>
<path d="M1469.3 284.8 A73.4 73.4 0 0 1 1465.6 280.5" stroke="#c01880" stroke-opacity="0.5" stroke-width="2.4" stroke-linecap="round" fill="none"/>
<path d="M1654.1 270.3 A134.6 134.6 0 0 1 1652.3 276.5" stroke="#ff3050" stroke-opacity="0.5" stroke-width="2.4" stroke-linecap="round" fill="none"/>
<path d="M1535.2 146.8 A89.9 89.9 0 0 1 1538.8 147.3" stroke="#e02060" stroke-opacity="0.5" stroke-width="2.4" stroke-linecap="round" fill="none"/>
<path d="M1629.2 176.7 A120.8 120.8 0 0 1 1632.5 182.9" stroke="#ff3050" stroke-opacity="0.5" stroke-width="2.4" stroke-linecap="round" fill="none"/>
<path d="M1456.1 263.7 A73.3 73.3 0 0 1 1455.3 261.5" stroke="#ff5040" stroke-opacity="0.5" stroke-width="2.4" stroke-linecap="round" fill="none"/>
<path d="M1501.6 137 A101.5 101.5 0 0 1 1507.5 135.8" stroke="#ff3050" stroke-opacity="0.5" stroke-width="2.4" stroke-linecap="round" fill="none"/>
<path d="M1630.3 336.5 A146.3 146.3 0 0 1 1622.1 344.5" stroke="#e02060" stroke-opacity="0.5" stroke-width="2.4" stroke-linecap="round" fill="none"/>
<path d="M1508.4 149.3 A88.1 88.1 0 0 1 1511.1 148.8" stroke="#e02060" stroke-opacity="0.5" stroke-width="2.4" stroke-linecap="round" fill="none"/>
<path d="M1669.2 203.8 A148.7 148.7 0 0 1 1670.8 212" stroke="#ff5040" stroke-opacity="0.5" stroke-width="2.4" stroke-linecap="round" fill="none"/>
<path d="M1583.5 167.2 A90.9 90.9 0 0 1 1588.6 172" stroke="#ff5040" stroke-opacity="0.5" stroke-width="2.4" stroke-linecap="round" fill="none"/>
<path d="M1404.4 183.6 A130.6 130.6 0 0 1 1408.2 175.6" stroke="#ff3050" stroke-opacity="0.5" stroke-width="2.4" stroke-linecap="round" fill="none"/>
<path d="M1596.6 190.9 A85.4 85.4 0 0 1 1598.3 193.8" stroke="#ff5040" stroke-opacity="0.5" stroke-width="2.4" stroke-linecap="round" fill="none"/>
<path d="M1514.4 366.5 A130.9 130.9 0 0 1 1507.7 365.9" stroke="#e02060" stroke-opacity="0.5" stroke-width="2.4" stroke-linecap="round" fill="none"/>
<path d="M1607.7 263.8 A88.2 88.2 0 0 1 1606.7 266.7" stroke="#ff3050" stroke-opacity="0.5" stroke-width="2.4" stroke-linecap="round" fill="none"/>
<path d="M1453.3 248.3 A71.8 71.8 0 0 1 1452.7 243.9" stroke="#ff3050" stroke-opacity="0.5" stroke-width="2.4" stroke-linecap="round" fill="none"/>
<path d="M1499.6 366 A132.3 132.3 0 0 1 1494.2 364.9" stroke="#c01880" stroke-opacity="0.5" stroke-width="2.4" stroke-linecap="round" fill="none"/>
<path d="M1521.5 147.3 A88.7 88.7 0 0 1 1527 147.4" stroke="#ff3050" stroke-opacity="0.5" stroke-width="2.4" stroke-linecap="round" fill="none"/>
<path d="M1616 138 A134.4 134.4 0 0 1 1620.1 142" stroke="#ff3050" stroke-opacity="0.5" stroke-width="2.4" stroke-linecap="round" fill="none"/>
<path d="M1621.8 169.7 A118.2 118.2 0 0 1 1624.1 173.3" stroke="#ff3050" stroke-opacity="0.5" stroke-width="2.4" stroke-linecap="round" fill="none"/>
<path d="M1434.6 246.7 A90 90 0 0 1 1434.1 240.8" stroke="#c01880" stroke-opacity="0.5" stroke-width="2.4" stroke-linecap="round" fill="none"/>
<path d="M1585.5 273.4 A72 72 0 0 1 1582.9 277.4" stroke="#e02060" stroke-opacity="0.5" stroke-width="2.4" stroke-linecap="round" fill="none"/>
<path d="M1665.9 207.2 A144.8 144.8 0 0 1 1667 213.2" stroke="#ff3050" stroke-opacity="0.5" stroke-width="2.4" stroke-linecap="round" fill="none"/>
<path d="M1539.8 107.9 A129.1 129.1 0 0 1 1547.5 109.1" stroke="#ff3050" stroke-opacity="0.5" stroke-width="2.4" stroke-linecap="round" fill="none"/>
<path d="M1408.8 299.6 A131.6 131.6 0 0 1 1404.6 291.3" stroke="#ff5040" stroke-opacity="0.5" stroke-width="2.4" stroke-linecap="round" fill="none"/>
<path d="M1561.7 316.3 A88.7 88.7 0 0 1 1558.3 317.8" stroke="#c01880" stroke-opacity="0.5" stroke-width="2.4" stroke-linecap="round" fill="none"/>
<path d="M1604.5 170.9 A103.5 103.5 0 0 1 1608.8 176.7" stroke="#c01880" stroke-opacity="0.5" stroke-width="2.4" stroke-linecap="round" fill="none"/>
<path d="M1606.8 132.2 A132.8 132.8 0 0 1 1612.9 137.3" stroke="#ff3050" stroke-opacity="0.5" stroke-width="2.4" stroke-linecap="round" fill="none"/>
<path d="M1523.3 295 A59 59 0 0 1 1518.1 294.7" stroke="#ff5040" stroke-opacity="0.5" stroke-width="2.4" stroke-linecap="round" fill="none"/>
<path d="M1474.3 131.9 A115.3 115.3 0 0 1 1483.5 128" stroke="#ff3050" stroke-opacity="0.5" stroke-width="2.4" stroke-linecap="round" fill="none"/>
<path d="M1450.9 360.2 A144.1 144.1 0 0 1 1441.5 354.1" stroke="#ff3050" stroke-opacity="0.5" stroke-width="2.4" stroke-linecap="round" fill="none"/>
<path d="M1558.4 301.1 A73.6 73.6 0 0 1 1554 303.2" stroke="#e02060" stroke-opacity="0.5" stroke-width="2.4" stroke-linecap="round" fill="none"/>
<path d="M1559.1 186.4 A60.7 60.7 0 0 1 1561.9 188.6" stroke="#ff3050" stroke-opacity="0.5" stroke-width="2.4" stroke-linecap="round" fill="none"/>
<path d="M1470.5 288.2 A74.8 74.8 0 0 1 1468 285.6" stroke="#e02060" stroke-opacity="0.5" stroke-width="2.4" stroke-linecap="round" fill="none"/>
<path d="M1588.4 208.8 A69.9 69.9 0 0 1 1589.7 212.3" stroke="#ff5040" stroke-opacity="0.5" stroke-width="2.4" stroke-linecap="round" fill="none"/>
<path d="M1593.5 219.5 A71.4 71.4 0 0 1 1594.2 223" stroke="#ff3050" stroke-opacity="0.5" stroke-width="2.4" stroke-linecap="round" fill="none"/>
<path d="M1580.5 355.4 A132.1 132.1 0 0 1 1576.1 357.4" stroke="#c01880" stroke-opacity="0.5" stroke-width="2.4" stroke-linecap="round" fill="none"/>
<path d="M1483.1 273.8 A55.7 55.7 0 0 1 1480.6 270.9" stroke="#ff5040" stroke-opacity="0.5" stroke-width="2.4" stroke-linecap="round" fill="none"/>
<path d="M1502.7 381.8 A147.4 147.4 0 0 1 1491.3 379.7" stroke="#ff5040" stroke-opacity="0.5" stroke-width="2.4" stroke-linecap="round" fill="none"/>
<path d="M1582.8 226.8 A59.5 59.5 0 0 1 1583.3 230.5" stroke="#c01880" stroke-opacity="0.5" stroke-width="2.4" stroke-linecap="round" fill="none"/>
<path d="M1452.9 236.7 A71.1 71.1 0 0 1 1452.9 233.2" stroke="#e02060" stroke-opacity="0.5" stroke-width="2.4" stroke-linecap="round" fill="none"/>
<path d="M1466.5 150.1 A103.4 103.4 0 0 1 1473.5 145.8" stroke="#c01880" stroke-opacity="0.5" stroke-width="2.4" stroke-linecap="round" fill="none"/>
<path d="M1422.3 299.3 A119.8 119.8 0 0 1 1418.2 292.2" stroke="#e02060" stroke-opacity="0.5" stroke-width="2.4" stroke-linecap="round" fill="none"/>
<path d="M1485.4 93.4 A147.8 147.8 0 0 1 1492 91.7" stroke="#ff5040" stroke-opacity="0.5" stroke-width="2.4" stroke-linecap="round" fill="none"/>
<path d="M1548.2 152.8 A86.6 86.6 0 0 1 1552.8 154.3" stroke="#ff5040" stroke-opacity="0.5" stroke-width="2.4" stroke-linecap="round" fill="none"/>
<path d="M1606.1 168.4 A106.4 106.4 0 0 1 1611.4 175.4" stroke="#ff3050" stroke-opacity="0.5" stroke-width="2.4" stroke-linecap="round" fill="none"/>
<path d="M1544.7 151.3 A87.2 87.2 0 0 1 1551 153.1" stroke="#c01880" stroke-opacity="0.5" stroke-width="2.4" stroke-linecap="round" fill="none"/></g>
<ellipse cx="1525.2" cy="237.6" rx="64.4" ry="64.4" fill="none" stroke="#b4acf4" stroke-opacity="0.88" stroke-width="3.4" stroke-dasharray="15 8"/>
<ellipse cx="1524" cy="237" rx="79.7" ry="79" fill="none" stroke="#b4acf4" stroke-opacity="0.88" stroke-width="3.4" stroke-dasharray="15 8"/>
<ellipse cx="1522.9" cy="236.8" rx="95.8" ry="95.8" fill="none" stroke="#b4acf4" stroke-opacity="0.88" stroke-width="3.4" stroke-dasharray="15 8"/>
<ellipse cx="1523.7" cy="236.8" rx="125.7" ry="123.4" fill="none" stroke="#b4acf4" stroke-opacity="0.88" stroke-width="3.4" stroke-dasharray="15 8"/>
<ellipse cx="1523.5" cy="236" rx="139.5" ry="138" fill="none" stroke="#b4acf4" stroke-opacity="0.88" stroke-width="3.4" stroke-dasharray="15 8"/>
<ellipse cx="1523.7" cy="235.7" rx="153.3" ry="153.6" fill="none" stroke="#b4acf4" stroke-opacity="0.88" stroke-width="3.4" stroke-dasharray="15 8"/>
<path d="M1383 80.3 L1522 80.3" stroke="#b4acf4" stroke-width="2.4" stroke-dasharray="2.4 3.4" fill="none"/>
<path d="M1397 69.6 L1378 80.3 L1397 91" stroke="#aca4f2" stroke-width="2.4" fill="none"/>
<path d="M1383 97.5 L1522 97.5" stroke="#b4acf4" stroke-width="2.4" stroke-dasharray="2.4 3.4" fill="none"/>
<path d="M1397 86.8 L1378 97.5 L1397 108.2" stroke="#aca4f2" stroke-width="2.4" fill="none"/>
<path d="M1383 141 L1522 141" stroke="#b4acf4" stroke-width="2.4" stroke-dasharray="2.4 3.4" fill="none"/>
<path d="M1397 130.3 L1378 141 L1397 151.7" stroke="#aca4f2" stroke-width="2.4" fill="none"/>
<path d="M1383 300.4 L1525 300.4" stroke="#b4acf4" stroke-width="2.4" stroke-dasharray="2.4 3.4" fill="none"/>
<path d="M1397 289.7 L1378 300.4 L1397 311.1" stroke="#aca4f2" stroke-width="2.4" fill="none"/>
<path d="M1383 316.7 L1525 316.7" stroke="#b4acf4" stroke-width="2.4" stroke-dasharray="2.4 3.4" fill="none"/>
<path d="M1397 306 L1378 316.7 L1397 327.4" stroke="#aca4f2" stroke-width="2.4" fill="none"/>
<path d="M1383 364.8 L1525 364.8" stroke="#b4acf4" stroke-width="2.4" stroke-dasharray="2.4 3.4" fill="none"/>
<path d="M1397 354.1 L1378 364.8 L1397 375.5" stroke="#aca4f2" stroke-width="2.4" fill="none"/>
<text x="1296.8" y="87.4" font-size="27.5" fill="#fff">(444)</text>
<text x="1296.8" y="116.8" font-size="27.5" fill="#fff">(226)</text>
<text x="1296.8" y="147.3" font-size="27.5" fill="#fff">(004)</text>
<text x="1299.9" y="300.6" font-size="27.5" fill="#fff">(022)</text>
<text x="1299.9" y="331" font-size="27.5" fill="#fff">(222)</text>
<text x="1299.9" y="375.3" font-size="27.5" fill="#fff">(044)</text>
<text x="1408.7" y="436.8" font-size="28" fill="#fff">16.5 GPa</text>
<rect x="1566.6" y="236" width="82.1" height="213" fill="none" stroke="#10b4ec" stroke-width="2" stroke-dasharray="5 3"/>
</g>
<path d="M438.7 234.8 L562 44 M438.7 450 L562 443" stroke="#10b4ec" stroke-width="2" stroke-dasharray="6 3" fill="none"/>
<g clip-path="url(#sclip1)">
<rect x="561.9" y="43.3" width="159.1" height="400.7" fill="#2c10dc"/>
<ellipse cx="703" cy="105.6" rx="3.8" ry="3.1" fill="#ff502055"/>
<ellipse cx="643.5" cy="118" rx="3.8" ry="3.1" fill="#ff502055"/>
<ellipse cx="683.1" cy="155.4" rx="3.8" ry="3.1" fill="#ff502055"/>
<ellipse cx="624.2" cy="166.4" rx="3.8" ry="3.1" fill="#ff502055"/>
<ellipse cx="613.1" cy="265.5" rx="3.8" ry="3.1" fill="#ff502055"/>
<ellipse cx="683.7" cy="309.5" rx="3.8" ry="3.1" fill="#ff502055"/>
<ellipse cx="635.2" cy="364.8" rx="3.8" ry="3.1" fill="#ff502055"/>
<ellipse cx="574.9" cy="374" rx="3.8" ry="3.1" fill="#ff502055"/>
<ellipse cx="586.8" cy="126.9" rx="3.8" ry="3.1" fill="#ff502055"/>
<ellipse cx="579.9" cy="113.9" rx="3.8" ry="3.1" fill="#ff502055"/>
<ellipse cx="574.9" cy="225.9" rx="3.4" ry="2.7" fill="#ff502055"/>
<ellipse cx="663.5" cy="208.5" rx="3.4" ry="2.7" fill="#ff502055"/>
<ellipse cx="644.1" cy="262.4" rx="3.4" ry="2.7" fill="#ff502055"/>
<ellipse cx="695.6" cy="355.1" rx="3.4" ry="2.7" fill="#ff502055"/>
<ellipse cx="706.6" cy="408" rx="3.4" ry="2.7" fill="#ff502055"/>
<ellipse cx="644.9" cy="417.4" rx="3.4" ry="2.7" fill="#ff502055"/>
<ellipse cx="676.7" cy="412.7" rx="3.4" ry="2.7" fill="#ff502055"/>
<ellipse cx="653.2" cy="173.4" rx="2.9" ry="2.3" fill="#ff502055"/>
<ellipse cx="566.6" cy="176.1" rx="2.9" ry="2.3" fill="#ff502055"/>
<ellipse cx="604.8" cy="218.2" rx="2.9" ry="2.3" fill="#ff502055"/>
<ellipse cx="633" cy="216.2" rx="2.9" ry="2.3" fill="#ff502055"/>
<ellipse cx="691.4" cy="207.4" rx="2.9" ry="2.3" fill="#ff502055"/>
<ellipse cx="672.6" cy="256.4" rx="2.9" ry="2.3" fill="#ff502055"/>
<ellipse cx="586" cy="272.4" rx="2.9" ry="2.3" fill="#ff502055"/>
<ellipse cx="588.2" cy="256.4" rx="2.9" ry="2.3" fill="#ff502055"/>
<ellipse cx="714.7" cy="299.3" rx="2.9" ry="2.3" fill="#ff502055"/>
<ellipse cx="653.2" cy="308.9" rx="2.9" ry="2.3" fill="#ff502055"/>
<ellipse cx="623.6" cy="319.4" rx="2.9" ry="2.3" fill="#ff502055"/>
<ellipse cx="594.3" cy="318.6" rx="2.9" ry="2.3" fill="#ff502055"/>
<ellipse cx="565.2" cy="328.3" rx="2.9" ry="2.3" fill="#ff502055"/>
<ellipse cx="662.9" cy="362.1" rx="2.9" ry="2.3" fill="#ff502055"/>
<ellipse cx="606.2" cy="375.9" rx="2.9" ry="2.3" fill="#ff502055"/>
<ellipse cx="675.4" cy="420.2" rx="2.9" ry="2.3" fill="#ff502055"/>
<ellipse cx="613.1" cy="429.3" rx="2.9" ry="2.3" fill="#ff502055"/>
<ellipse cx="584.1" cy="427.4" rx="2.9" ry="2.3" fill="#ff502055"/>
<ellipse cx="703" cy="105.6" rx="2.1" ry="1.7" fill="#ffe090"/>
<ellipse cx="643.5" cy="118" rx="2.1" ry="1.7" fill="#ffe090"/>
<ellipse cx="683.1" cy="155.4" rx="2.1" ry="1.7" fill="#ffd070"/>
<ellipse cx="624.2" cy="166.4" rx="2.1" ry="1.7" fill="#ffd070"/>
<ellipse cx="613.1" cy="265.5" rx="2.1" ry="1.7" fill="#fff4c0"/>
<ellipse cx="683.7" cy="309.5" rx="2.1" ry="1.7" fill="#ffe090"/>
<ellipse cx="635.2" cy="364.8" rx="2.1" ry="1.7" fill="#ffd070"/>
<ellipse cx="574.9" cy="374" rx="2.1" ry="1.7" fill="#fff4c0"/>
<ellipse cx="586.8" cy="126.9" rx="2.1" ry="1.7" fill="#fff4c0"/>
<ellipse cx="579.9" cy="113.9" rx="2.1" ry="1.7" fill="#ffd070"/>
<ellipse cx="574.9" cy="225.9" rx="1.9" ry="1.5" fill="#fff4c0"/>
<ellipse cx="663.5" cy="208.5" rx="1.9" ry="1.5" fill="#ffd070"/>
<ellipse cx="644.1" cy="262.4" rx="1.9" ry="1.5" fill="#ffe090"/>
<ellipse cx="695.6" cy="355.1" rx="1.9" ry="1.5" fill="#ffe090"/>
<ellipse cx="706.6" cy="408" rx="1.9" ry="1.5" fill="#ffe090"/>
<ellipse cx="644.9" cy="417.4" rx="1.9" ry="1.5" fill="#fff4c0"/>
<ellipse cx="676.7" cy="412.7" rx="1.9" ry="1.5" fill="#ffd070"/>
<ellipse cx="653.2" cy="173.4" rx="1.6" ry="1.3" fill="#ffe090"/>
<ellipse cx="566.6" cy="176.1" rx="1.6" ry="1.3" fill="#ffd070"/>
<ellipse cx="604.8" cy="218.2" rx="1.6" ry="1.3" fill="#fff4c0"/>
<ellipse cx="633" cy="216.2" rx="1.6" ry="1.3" fill="#ffe090"/>
<ellipse cx="691.4" cy="207.4" rx="1.6" ry="1.3" fill="#ffd070"/>
<ellipse cx="672.6" cy="256.4" rx="1.6" ry="1.3" fill="#fff4c0"/>
<ellipse cx="586" cy="272.4" rx="1.6" ry="1.3" fill="#ffe090"/>
<ellipse cx="588.2" cy="256.4" rx="1.6" ry="1.3" fill="#fff4c0"/>
<ellipse cx="714.7" cy="299.3" rx="1.6" ry="1.3" fill="#ffd070"/>
<ellipse cx="653.2" cy="308.9" rx="1.6" ry="1.3" fill="#fff4c0"/>
<ellipse cx="623.6" cy="319.4" rx="1.6" ry="1.3" fill="#fff4c0"/>
<ellipse cx="594.3" cy="318.6" rx="1.6" ry="1.3" fill="#fff4c0"/>
<ellipse cx="565.2" cy="328.3" rx="1.6" ry="1.3" fill="#fff4c0"/>
<ellipse cx="662.9" cy="362.1" rx="1.6" ry="1.3" fill="#ffd070"/>
<ellipse cx="606.2" cy="375.9" rx="1.6" ry="1.3" fill="#fff4c0"/>
<ellipse cx="675.4" cy="420.2" rx="1.6" ry="1.3" fill="#ffe090"/>
<ellipse cx="613.1" cy="429.3" rx="1.6" ry="1.3" fill="#ffe090"/>
<ellipse cx="584.1" cy="427.4" rx="1.6" ry="1.3" fill="#ffe090"/>
<circle cx="509.6" cy="49.1" r="96.7" fill="none" stroke="#c0b6f6" stroke-opacity="0.8" stroke-width="1.8" stroke-dasharray="7 5"/>
<circle cx="432.2" cy="15" r="225.6" fill="none" stroke="#c0b6f6" stroke-opacity="0.8" stroke-width="1.8" stroke-dasharray="7 5"/>
<circle cx="502.8" cy="54.7" r="207.5" fill="none" stroke="#c0b6f6" stroke-opacity="0.8" stroke-width="1.8" stroke-dasharray="7 5"/>
<circle cx="474.4" cy="27.4" r="271.1" fill="none" stroke="#c0b6f6" stroke-opacity="0.8" stroke-width="1.8" stroke-dasharray="7 5"/>
</g>
<text transform="translate(645 31.8) scale(1 1.09)" font-size="32" fill="#000" text-anchor="middle">0.8 GPa</text>
<g clip-path="url(#sclip2)">
<rect x="736.2" y="43.3" width="159.7" height="400.7" fill="#2e10dc"/>
<ellipse cx="882.3" cy="104.2" rx="6.8" ry="5.4" fill="#ff502055"/>
<ellipse cx="822.8" cy="116.1" rx="5.9" ry="4.7" fill="#ff502055"/>
<ellipse cx="811.2" cy="217.6" rx="5.9" ry="4.7" fill="#ff502055"/>
<ellipse cx="862.1" cy="154.5" rx="5" ry="4" fill="#ff502055"/>
<ellipse cx="783.8" cy="219.8" rx="4.1" ry="3.2" fill="#ff502055"/>
<ellipse cx="792.4" cy="268.8" rx="4.1" ry="3.2" fill="#ff502055"/>
<ellipse cx="842.8" cy="209.3" rx="3.8" ry="3.1" fill="#ff502055"/>
<ellipse cx="822" cy="82.6" rx="3.8" ry="3.1" fill="#ff502055"/>
<ellipse cx="882.3" cy="104.2" rx="3.8" ry="3" fill="#ffd070"/>
<ellipse cx="803.2" cy="165.6" rx="3.4" ry="2.7" fill="#ff502055"/>
<ellipse cx="745.4" cy="176.1" rx="3.4" ry="2.7" fill="#ff502055"/>
<ellipse cx="752.8" cy="227.3" rx="3.4" ry="2.7" fill="#ff502055"/>
<ellipse cx="851.9" cy="258.6" rx="3.4" ry="2.7" fill="#ff502055"/>
<ellipse cx="766.1" cy="260.5" rx="3.4" ry="2.7" fill="#ff502055"/>
<ellipse cx="894" cy="303.4" rx="3.4" ry="2.7" fill="#ff502055"/>
<ellipse cx="801.3" cy="324.2" rx="3.4" ry="2.7" fill="#ff502055"/>
<ellipse cx="825.6" cy="426" rx="3.4" ry="2.7" fill="#ff502055"/>
<ellipse cx="763.9" cy="435.7" rx="3.4" ry="2.7" fill="#ff502055"/>
<ellipse cx="888.4" cy="415.5" rx="3.4" ry="2.7" fill="#ff502055"/>
<ellipse cx="822.8" cy="116.1" rx="3.2" ry="2.6" fill="#ffe090"/>
<ellipse cx="811.2" cy="217.6" rx="3.2" ry="2.6" fill="#fff4c0"/>
<ellipse cx="871.3" cy="207.9" rx="2.9" ry="2.3" fill="#ff502055"/>
<ellipse cx="736.2" cy="278.5" rx="2.9" ry="2.3" fill="#ff502055"/>
<ellipse cx="773.3" cy="323.6" rx="2.9" ry="2.3" fill="#ff502055"/>
<ellipse cx="742.6" cy="333.8" rx="2.9" ry="2.3" fill="#ff502055"/>
<ellipse cx="876.5" cy="362.1" rx="2.9" ry="2.3" fill="#ff502055"/>
<ellipse cx="815.1" cy="371.7" rx="2.9" ry="2.3" fill="#ff502055"/>
<ellipse cx="754.2" cy="382.3" rx="2.9" ry="2.3" fill="#ff502055"/>
<ellipse cx="844.2" cy="368.4" rx="2.9" ry="2.3" fill="#ff502055"/>
<ellipse cx="862.1" cy="154.5" rx="2.8" ry="2.2" fill="#fff4c0"/>
<ellipse cx="783.8" cy="219.8" rx="2.2" ry="1.8" fill="#ffe090"/>
<ellipse cx="792.4" cy="268.8" rx="2.2" ry="1.8" fill="#ffd070"/>
<ellipse cx="842.8" cy="209.3" rx="2.1" ry="1.7" fill="#ffe090"/>
<ellipse cx="822" cy="82.6" rx="2.1" ry="1.7" fill="#ffe090"/>
<ellipse cx="803.2" cy="165.6" rx="1.9" ry="1.5" fill="#ffe090"/>
<ellipse cx="745.4" cy="176.1" rx="1.9" ry="1.5" fill="#ffe090"/>
<ellipse cx="752.8" cy="227.3" rx="1.9" ry="1.5" fill="#ffd070"/>
<ellipse cx="851.9" cy="258.6" rx="1.9" ry="1.5" fill="#fff4c0"/>
<ellipse cx="766.1" cy="260.5" rx="1.9" ry="1.5" fill="#ffe090"/>
<ellipse cx="894" cy="303.4" rx="1.9" ry="1.5" fill="#ffe090"/>
<ellipse cx="801.3" cy="324.2" rx="1.9" ry="1.5" fill="#ffd070"/>
<ellipse cx="825.6" cy="426" rx="1.9" ry="1.5" fill="#ffd070"/>
<ellipse cx="763.9" cy="435.7" rx="1.9" ry="1.5" fill="#ffd070"/>
<ellipse cx="888.4" cy="415.5" rx="1.9" ry="1.5" fill="#ffe090"/>
<ellipse cx="871.3" cy="207.9" rx="1.6" ry="1.3" fill="#fff4c0"/>
<ellipse cx="736.2" cy="278.5" rx="1.6" ry="1.3" fill="#ffd070"/>
<ellipse cx="773.3" cy="323.6" rx="1.6" ry="1.3" fill="#ffe090"/>
<ellipse cx="742.6" cy="333.8" rx="1.6" ry="1.3" fill="#ffd070"/>
<ellipse cx="876.5" cy="362.1" rx="1.6" ry="1.3" fill="#ffd070"/>
<ellipse cx="815.1" cy="371.7" rx="1.6" ry="1.3" fill="#fff4c0"/>
<ellipse cx="754.2" cy="382.3" rx="1.6" ry="1.3" fill="#ffe090"/>
<ellipse cx="844.2" cy="368.4" rx="1.6" ry="1.3" fill="#ffd070"/>
<circle cx="647.9" cy="34.4" r="127.4" fill="none" stroke="#c0b6f6" stroke-opacity="0.8" stroke-width="3.6" stroke-dasharray="10 7"/>
<circle cx="681.2" cy="50.7" r="154.9" fill="none" stroke="#c0b6f6" stroke-opacity="0.8" stroke-width="3.6" stroke-dasharray="10 7"/>
<circle cx="692.3" cy="61.6" r="196.9" fill="none" stroke="#c0b6f6" stroke-opacity="0.8" stroke-width="3.6" stroke-dasharray="10 7"/>
<circle cx="693.9" cy="65.7" r="225.1" fill="none" stroke="#c0b6f6" stroke-opacity="0.8" stroke-width="3.6" stroke-dasharray="10 7"/>
</g>
<text transform="translate(822 31.8) scale(1 1.09)" font-size="32" fill="#000" text-anchor="middle">8.7 GPa</text>
<g clip-path="url(#sclip3)">
<rect x="914.7" y="43.3" width="159.1" height="400.7" fill="#2e10d8"/>
<rect x="914.7" y="43.3" width="159.1" height="400.7" fill="url(#stt3)"/>
<g filter="url(#fblur)"><path d="M873.9 132.8 A78.8 78.8 0 0 1 871 133.3" stroke="#e02040" stroke-opacity="0.6" stroke-width="4" stroke-linecap="round" fill="none"/>
<path d="M925.3 135.2 A103.7 103.7 0 0 1 919.9 139.4" stroke="#ff4030" stroke-opacity="0.6" stroke-width="4" stroke-linecap="round" fill="none"/>
<path d="M960.2 32.1 A103.9 103.9 0 0 1 960.9 35.4" stroke="#ff4030" stroke-opacity="0.6" stroke-width="4" stroke-linecap="round" fill="none"/>
<path d="M1003.4 222.2 A220.5 220.5 0 0 1 996.5 227.9" stroke="#e02040" stroke-opacity="0.6" stroke-width="4" stroke-linecap="round" fill="none"/>
<path d="M842.6 137.9 A84.1 84.1 0 0 1 838.5 137" stroke="#ff4030" stroke-opacity="0.6" stroke-width="4" stroke-linecap="round" fill="none"/>
<path d="M977.9 120.8 A135.7 135.7 0 0 1 972.5 129.9" stroke="#ff4030" stroke-opacity="0.6" stroke-width="4" stroke-linecap="round" fill="none"/>
<path d="M996.7 263.7 A249.7 249.7 0 0 1 984.5 271.3" stroke="#e02040" stroke-opacity="0.6" stroke-width="4" stroke-linecap="round" fill="none"/>
<path d="M1170.5 54.3 A311.4 311.4 0 0 1 1170.3 66" stroke="#ff7030" stroke-opacity="0.6" stroke-width="4" stroke-linecap="round" fill="none"/>
<path d="M908.4 113.9 A76.5 76.5 0 0 1 905.3 116.3" stroke="#ff4030" stroke-opacity="0.6" stroke-width="4" stroke-linecap="round" fill="none"/>
<path d="M895.3 189.1 A138.5 138.5 0 0 1 890 190.4" stroke="#ff4030" stroke-opacity="0.6" stroke-width="4" stroke-linecap="round" fill="none"/>
<path d="M1042.2 141.5 A202.4 202.4 0 0 1 1038 150" stroke="#ff7030" stroke-opacity="0.6" stroke-width="4" stroke-linecap="round" fill="none"/>
<path d="M865.5 261.4 A206 206 0 0 1 849.4 261.3" stroke="#e02040" stroke-opacity="0.6" stroke-width="4" stroke-linecap="round" fill="none"/>
<path d="M830.2 339 A285 285 0 0 1 813.8 336.8" stroke="#c01860" stroke-opacity="0.6" stroke-width="4" stroke-linecap="round" fill="none"/>
<path d="M941.7 35.5 A85 85 0 0 1 942.9 41.3" stroke="#c01860" stroke-opacity="0.6" stroke-width="4" stroke-linecap="round" fill="none"/>
<path d="M957.4 289.7 A254.1 254.1 0 0 1 947 293.8" stroke="#c01860" stroke-opacity="0.6" stroke-width="4" stroke-linecap="round" fill="none"/>
<path d="M840.9 294.2 A239.4 239.4 0 0 1 832.4 293.4" stroke="#ff4030" stroke-opacity="0.6" stroke-width="4" stroke-linecap="round" fill="none"/>
<path d="M1094.2 211.7 A282.4 282.4 0 0 1 1089 219.3" stroke="#e02040" stroke-opacity="0.6" stroke-width="4" stroke-linecap="round" fill="none"/>
<path d="M818.1 191.7 A142.3 142.3 0 0 1 813.2 190.2" stroke="#ff4030" stroke-opacity="0.6" stroke-width="4" stroke-linecap="round" fill="none"/>
<path d="M899.3 185 A135.7 135.7 0 0 1 889.8 187.6" stroke="#ff7030" stroke-opacity="0.6" stroke-width="4" stroke-linecap="round" fill="none"/>
<path d="M869.7 133.7 A79 79 0 0 1 866.3 134.1" stroke="#c01860" stroke-opacity="0.6" stroke-width="4" stroke-linecap="round" fill="none"/>
<path d="M983 248.3 A229.3 229.3 0 0 1 968.7 256.8" stroke="#ff7030" stroke-opacity="0.6" stroke-width="4" stroke-linecap="round" fill="none"/>
<path d="M911.6 143.8 A102.8 102.8 0 0 1 906.7 146.5" stroke="#e02040" stroke-opacity="0.6" stroke-width="4" stroke-linecap="round" fill="none"/>
<path d="M880.8 198.4 A144.6 144.6 0 0 1 873.1 199.4" stroke="#ff4030" stroke-opacity="0.6" stroke-width="4" stroke-linecap="round" fill="none"/>
<path d="M901.5 119.1 A76.6 76.6 0 0 1 898.2 121.3" stroke="#e02040" stroke-opacity="0.6" stroke-width="4" stroke-linecap="round" fill="none"/>
<path d="M855.8 154.1 A98.7 98.7 0 0 1 852.6 154" stroke="#ff4030" stroke-opacity="0.6" stroke-width="4" stroke-linecap="round" fill="none"/>
<path d="M877.4 336.4 A281.5 281.5 0 0 1 864.7 336.9" stroke="#ff4030" stroke-opacity="0.6" stroke-width="4" stroke-linecap="round" fill="none"/>
<path d="M932.4 261.7 A218.9 218.9 0 0 1 920.7 265.5" stroke="#ff7030" stroke-opacity="0.6" stroke-width="4" stroke-linecap="round" fill="none"/>
<path d="M898.6 186.4 A136.8 136.8 0 0 1 891.6 188.4" stroke="#ff7030" stroke-opacity="0.6" stroke-width="4" stroke-linecap="round" fill="none"/>
<path d="M1015.5 51 A156.5 156.5 0 0 1 1015.4 61.8" stroke="#ff4030" stroke-opacity="0.6" stroke-width="4" stroke-linecap="round" fill="none"/>
<path d="M940.8 176.2 A145.8 145.8 0 0 1 936.1 179.2" stroke="#e02040" stroke-opacity="0.6" stroke-width="4" stroke-linecap="round" fill="none"/>
<path d="M1109.9 57.8 A250.9 250.9 0 0 1 1109.5 70.1" stroke="#c01860" stroke-opacity="0.6" stroke-width="4" stroke-linecap="round" fill="none"/>
<path d="M900.1 185.4 A136.2 136.2 0 0 1 892.6 187.5" stroke="#ff4030" stroke-opacity="0.6" stroke-width="4" stroke-linecap="round" fill="none"/>
<path d="M945.6 389.5 A345 345 0 0 1 921.5 394.8" stroke="#e02040" stroke-opacity="0.6" stroke-width="4" stroke-linecap="round" fill="none"/>
<path d="M838.7 260.3 A205.8 205.8 0 0 1 829.9 259.2" stroke="#ff4030" stroke-opacity="0.6" stroke-width="4" stroke-linecap="round" fill="none"/>
<path d="M1033.6 151 A199 199 0 0 1 1028.6 159.6" stroke="#ff7030" stroke-opacity="0.6" stroke-width="4" stroke-linecap="round" fill="none"/>
<path d="M1052.3 100.3 A198.4 198.4 0 0 1 1050 109.2" stroke="#c01860" stroke-opacity="0.6" stroke-width="4" stroke-linecap="round" fill="none"/>
<path d="M1112.8 42 A254.1 254.1 0 0 1 1113.1 52.4" stroke="#ff4030" stroke-opacity="0.6" stroke-width="4" stroke-linecap="round" fill="none"/>
<path d="M1109.6 291.3 A344.1 344.1 0 0 1 1096.3 304.7" stroke="#c01860" stroke-opacity="0.6" stroke-width="4" stroke-linecap="round" fill="none"/>
<path d="M1088.5 2.8 A235.4 235.4 0 0 1 1091 15.2" stroke="#c01860" stroke-opacity="0.6" stroke-width="4" stroke-linecap="round" fill="none"/>
<path d="M1130.6 -24.9 A283.2 283.2 0 0 1 1132.9 -16.7" stroke="#ff7030" stroke-opacity="0.6" stroke-width="4" stroke-linecap="round" fill="none"/>
<path d="M995.8 107.1 A146.2 146.2 0 0 1 991.5 117.3" stroke="#c01860" stroke-opacity="0.6" stroke-width="4" stroke-linecap="round" fill="none"/>
<path d="M807.4 248.2 A199.5 199.5 0 0 1 799.3 245.8" stroke="#ff4030" stroke-opacity="0.6" stroke-width="4" stroke-linecap="round" fill="none"/>
<path d="M915.4 364.5 A314.2 314.2 0 0 1 892.9 367.8" stroke="#ff4030" stroke-opacity="0.6" stroke-width="4" stroke-linecap="round" fill="none"/>
<path d="M908 116.4 A78.2 78.2 0 0 1 903.2 120" stroke="#ff7030" stroke-opacity="0.6" stroke-width="4" stroke-linecap="round" fill="none"/>
<path d="M1072.7 114.9 A221.8 221.8 0 0 1 1068 129.6" stroke="#ff7030" stroke-opacity="0.6" stroke-width="4" stroke-linecap="round" fill="none"/>
<path d="M840.3 290.4 A235.6 235.6 0 0 1 824.3 288.5" stroke="#e02040" stroke-opacity="0.6" stroke-width="4" stroke-linecap="round" fill="none"/>
<path d="M784.7 360.3 A313.8 313.8 0 0 1 772 356.9" stroke="#ff7030" stroke-opacity="0.6" stroke-width="4" stroke-linecap="round" fill="none"/>
<path d="M1088.1 126.4 A239.8 239.8 0 0 1 1085.5 134.5" stroke="#e02040" stroke-opacity="0.6" stroke-width="4" stroke-linecap="round" fill="none"/>
<path d="M970.6 166.2 A157.2 157.2 0 0 1 961.4 174.7" stroke="#ff4030" stroke-opacity="0.6" stroke-width="4" stroke-linecap="round" fill="none"/>
<path d="M1118.8 161.6 A280.6 280.6 0 0 1 1115.3 169.9" stroke="#ff7030" stroke-opacity="0.6" stroke-width="4" stroke-linecap="round" fill="none"/>
<path d="M966.4 140.4 A136.9 136.9 0 0 1 963.2 144.3" stroke="#e02040" stroke-opacity="0.6" stroke-width="4" stroke-linecap="round" fill="none"/>
<path d="M1021.5 183.7 A207 207 0 0 1 1014.3 192.2" stroke="#ff7030" stroke-opacity="0.6" stroke-width="4" stroke-linecap="round" fill="none"/>
<path d="M832.6 292.5 A238.5 238.5 0 0 1 815.8 290" stroke="#c01860" stroke-opacity="0.6" stroke-width="4" stroke-linecap="round" fill="none"/>
<path d="M993 41.7 A134.7 134.7 0 0 1 993.7 51.5" stroke="#e02040" stroke-opacity="0.6" stroke-width="4" stroke-linecap="round" fill="none"/>
<path d="M814.2 396.3 A343.8 343.8 0 0 1 798.6 393.9" stroke="#ff7030" stroke-opacity="0.6" stroke-width="4" stroke-linecap="round" fill="none"/>
<path d="M831 188.7 A136.2 136.2 0 0 1 822.5 186.7" stroke="#ff7030" stroke-opacity="0.6" stroke-width="4" stroke-linecap="round" fill="none"/>
<path d="M925.8 101.8 A81.3 81.3 0 0 1 922.5 106.2" stroke="#ff4030" stroke-opacity="0.6" stroke-width="4" stroke-linecap="round" fill="none"/>
<path d="M903.1 368.5 A316.1 316.1 0 0 1 878.6 371" stroke="#c01860" stroke-opacity="0.6" stroke-width="4" stroke-linecap="round" fill="none"/>
<path d="M1047.7 107 A195.6 195.6 0 0 1 1045.8 113.5" stroke="#e02040" stroke-opacity="0.6" stroke-width="4" stroke-linecap="round" fill="none"/>
<path d="M955.1 93.2 A103.2 103.2 0 0 1 952.4 99.4" stroke="#ff4030" stroke-opacity="0.6" stroke-width="4" stroke-linecap="round" fill="none"/>
<path d="M934.9 123.4 A101.8 101.8 0 0 1 931.9 126.6" stroke="#c01860" stroke-opacity="0.6" stroke-width="4" stroke-linecap="round" fill="none"/>
<path d="M1176.3 185.5 A342.9 342.9 0 0 1 1170.3 199.2" stroke="#ff7030" stroke-opacity="0.6" stroke-width="4" stroke-linecap="round" fill="none"/>
<path d="M1141.6 193.2 A314.4 314.4 0 0 1 1136 204.2" stroke="#ff4030" stroke-opacity="0.6" stroke-width="4" stroke-linecap="round" fill="none"/>
<path d="M817.1 394.8 A341.9 341.9 0 0 1 804.1 392.9" stroke="#e02040" stroke-opacity="0.6" stroke-width="4" stroke-linecap="round" fill="none"/>
<path d="M1101.9 126.6 A253.1 253.1 0 0 1 1096.4 143.2" stroke="#ff7030" stroke-opacity="0.6" stroke-width="4" stroke-linecap="round" fill="none"/>
<path d="M992.6 43.1 A134.2 134.2 0 0 1 993.1 52.5" stroke="#ff7030" stroke-opacity="0.6" stroke-width="4" stroke-linecap="round" fill="none"/>
<path d="M929 247.3 A204.3 204.3 0 0 1 918.5 250.8" stroke="#e02040" stroke-opacity="0.6" stroke-width="4" stroke-linecap="round" fill="none"/>
<path d="M993.4 110.7 A145.3 145.3 0 0 1 989.1 120.3" stroke="#e02040" stroke-opacity="0.6" stroke-width="4" stroke-linecap="round" fill="none"/>
<path d="M956.6 320.4 A282.3 282.3 0 0 1 937.2 326.7" stroke="#ff4030" stroke-opacity="0.6" stroke-width="4" stroke-linecap="round" fill="none"/>
<path d="M979.9 238.3 A219.2 219.2 0 0 1 972.7 242.9" stroke="#ff4030" stroke-opacity="0.6" stroke-width="4" stroke-linecap="round" fill="none"/></g>
<ellipse cx="1000.5" cy="117.2" rx="7.9" ry="6.3" fill="#ff502055"/>
<ellipse cx="1060" cy="104.2" rx="7.2" ry="5.8" fill="#ff502055"/>
<ellipse cx="1040.6" cy="156.7" rx="5.9" ry="4.7" fill="#ff502055"/>
<ellipse cx="924.4" cy="178.9" rx="4.5" ry="3.6" fill="#ff502055"/>
<ellipse cx="988" cy="221.8" rx="4.5" ry="3.6" fill="#ff502055"/>
<ellipse cx="992.2" cy="220.9" rx="4.5" ry="3.6" fill="#ff502055"/>
<ellipse cx="916.1" cy="282.1" rx="4.5" ry="3.6" fill="#ff502055"/>
<ellipse cx="1000.5" cy="117.2" rx="4.4" ry="3.5" fill="#ffe090"/>
<ellipse cx="1060" cy="104.2" rx="4" ry="3.2" fill="#fff4c0"/>
<ellipse cx="971.4" cy="273" rx="3.6" ry="2.9" fill="#ff502055"/>
<ellipse cx="1040.6" cy="156.7" rx="3.2" ry="2.6" fill="#ffe090"/>
<ellipse cx="945.1" cy="261.9" rx="2.7" ry="2.2" fill="#ff502055"/>
<ellipse cx="924.4" cy="178.9" rx="2.5" ry="2" fill="#fff4c0"/>
<ellipse cx="988" cy="221.8" rx="2.5" ry="2" fill="#fff4c0"/>
<ellipse cx="992.2" cy="220.9" rx="2.5" ry="2" fill="#ffe090"/>
<ellipse cx="916.1" cy="282.1" rx="2.5" ry="2" fill="#ffd070"/>
<ellipse cx="971.4" cy="273" rx="2" ry="1.6" fill="#ffd070"/>
<ellipse cx="945.1" cy="261.9" rx="1.5" ry="1.2" fill="#ffe090"/>
<circle cx="853.5" cy="50.7" r="100.2" fill="none" stroke="#c0b6f6" stroke-opacity="0.8" stroke-width="5" stroke-dasharray="13 9"/>
<circle cx="844.2" cy="40.5" r="171.5" fill="none" stroke="#c0b6f6" stroke-opacity="0.8" stroke-width="5" stroke-dasharray="13 9"/>
<circle cx="871" cy="58.9" r="199.2" fill="none" stroke="#c0b6f6" stroke-opacity="0.8" stroke-width="5" stroke-dasharray="13 9"/>
<circle cx="867.4" cy="71.7" r="225.2" fill="none" stroke="#c0b6f6" stroke-opacity="0.8" stroke-width="5" stroke-dasharray="13 9"/>
</g>
<text transform="translate(995.4 31.8) scale(1 1.09)" font-size="32" fill="#000" text-anchor="middle">12.1 GPa</text>
<g clip-path="url(#sclip4)">
<rect x="1094.8" y="42.7" width="160.2" height="401.3" fill="#3a12cc"/>
<rect x="1094.8" y="42.7" width="160.2" height="401.3" fill="url(#stt4)"/>
<g filter="url(#fblur)"><path d="M993.3 234.3 A180.7 180.7 0 0 1 980.6 229.6" stroke="#ff4060" stroke-opacity="0.5" stroke-width="4" stroke-linecap="round" fill="none"/>
<path d="M1264.8 134.8 A227.7 227.7 0 0 1 1261.4 144.1" stroke="#c02080" stroke-opacity="0.5" stroke-width="4" stroke-linecap="round" fill="none"/>
<path d="M1091.3 338.9 A279.8 279.8 0 0 1 1073.8 341" stroke="#e02060" stroke-opacity="0.5" stroke-width="4" stroke-linecap="round" fill="none"/>
<path d="M992.1 246.2 A192.4 192.4 0 0 1 977.8 241.1" stroke="#ff4060" stroke-opacity="0.5" stroke-width="4" stroke-linecap="round" fill="none"/>
<path d="M1078.1 142.2 A85 85 0 0 1 1073.3 143.8" stroke="#e02060" stroke-opacity="0.5" stroke-width="4" stroke-linecap="round" fill="none"/>
<path d="M1271.4 232.1 A279.9 279.9 0 0 1 1263.7 241.7" stroke="#c02080" stroke-opacity="0.5" stroke-width="4" stroke-linecap="round" fill="none"/>
<path d="M1164.3 124.2 A130.9 130.9 0 0 1 1160.8 130.4" stroke="#c02080" stroke-opacity="0.5" stroke-width="4" stroke-linecap="round" fill="none"/>
<path d="M1278.6 43.3 A230.4 230.4 0 0 1 1279.1 51.8" stroke="#e02060" stroke-opacity="0.5" stroke-width="4" stroke-linecap="round" fill="none"/>
<path d="M1110.8 74.6 A63.1 63.1 0 0 1 1110.4 76.5" stroke="#c02080" stroke-opacity="0.5" stroke-width="4" stroke-linecap="round" fill="none"/>
<path d="M1059.1 147.8 A86.1 86.1 0 0 1 1056.3 148.1" stroke="#ff4060" stroke-opacity="0.5" stroke-width="4" stroke-linecap="round" fill="none"/>
<path d="M1132.7 54.4 A84.1 84.1 0 0 1 1132.9 57" stroke="#c02080" stroke-opacity="0.5" stroke-width="4" stroke-linecap="round" fill="none"/>
<path d="M1236.7 101.8 A191.9 191.9 0 0 1 1235.2 108.2" stroke="#e02060" stroke-opacity="0.5" stroke-width="4" stroke-linecap="round" fill="none"/>
<path d="M1209.4 168.4 A192.4 192.4 0 0 1 1203.2 177.3" stroke="#ff4060" stroke-opacity="0.5" stroke-width="4" stroke-linecap="round" fill="none"/>
<path d="M1242.6 9 A200.9 200.9 0 0 1 1245.2 19.4" stroke="#e02060" stroke-opacity="0.5" stroke-width="4" stroke-linecap="round" fill="none"/>
<path d="M1074.6 146.8 A88.3 88.3 0 0 1 1069 148.3" stroke="#c02080" stroke-opacity="0.5" stroke-width="4" stroke-linecap="round" fill="none"/>
<path d="M1056.9 373.7 A311.4 311.4 0 0 1 1032.2 373.3" stroke="#c02080" stroke-opacity="0.5" stroke-width="4" stroke-linecap="round" fill="none"/>
<path d="M1121.8 113.2 A88.8 88.8 0 0 1 1118.3 117.8" stroke="#e02060" stroke-opacity="0.5" stroke-width="4" stroke-linecap="round" fill="none"/>
<path d="M1166.4 254.8 A225.5 225.5 0 0 1 1159.6 258.8" stroke="#e02060" stroke-opacity="0.5" stroke-width="4" stroke-linecap="round" fill="none"/>
<path d="M1082.8 191.1 A133.1 133.1 0 0 1 1074.5 193" stroke="#ff4060" stroke-opacity="0.5" stroke-width="4" stroke-linecap="round" fill="none"/>
<path d="M977.7 332.1 A279 279 0 0 1 966 328.8" stroke="#e02060" stroke-opacity="0.5" stroke-width="4" stroke-linecap="round" fill="none"/>
<path d="M1249 179.5 A231.8 231.8 0 0 1 1240.9 192.3" stroke="#c02080" stroke-opacity="0.5" stroke-width="4" stroke-linecap="round" fill="none"/>
<path d="M1221.3 125 A183.4 183.4 0 0 1 1217.9 133.9" stroke="#e02060" stroke-opacity="0.5" stroke-width="4" stroke-linecap="round" fill="none"/>
<path d="M1180.8 85 A133.8 133.8 0 0 1 1179.7 90.5" stroke="#ff4060" stroke-opacity="0.5" stroke-width="4" stroke-linecap="round" fill="none"/>
<path d="M979.9 283.6 A231.8 231.8 0 0 1 967.4 279.3" stroke="#c02080" stroke-opacity="0.5" stroke-width="4" stroke-linecap="round" fill="none"/>
<path d="M1135.3 59.6 A86.4 86.4 0 0 1 1135.3 63.9" stroke="#c02080" stroke-opacity="0.5" stroke-width="4" stroke-linecap="round" fill="none"/>
<path d="M1106.6 109.4 A74.4 74.4 0 0 1 1103.3 113.1" stroke="#e02060" stroke-opacity="0.5" stroke-width="4" stroke-linecap="round" fill="none"/>
<path d="M1222.5 172.1 A205.4 205.4 0 0 1 1217 180.3" stroke="#ff4060" stroke-opacity="0.5" stroke-width="4" stroke-linecap="round" fill="none"/>
<path d="M1356 91 A308.4 308.4 0 0 1 1353.5 111" stroke="#e02060" stroke-opacity="0.5" stroke-width="4" stroke-linecap="round" fill="none"/>
<path d="M1203.3 234.6 A231.2 231.2 0 0 1 1189.7 245.8" stroke="#ff4060" stroke-opacity="0.5" stroke-width="4" stroke-linecap="round" fill="none"/>
<path d="M988.4 305.1 A250.2 250.2 0 0 1 980.6 303" stroke="#c02080" stroke-opacity="0.5" stroke-width="4" stroke-linecap="round" fill="none"/>
<path d="M1272.1 100.9 A226.5 226.5 0 0 1 1269.9 112" stroke="#ff4060" stroke-opacity="0.5" stroke-width="4" stroke-linecap="round" fill="none"/>
<path d="M1047.8 201.7 A139.4 139.4 0 0 1 1039.4 201.4" stroke="#e02060" stroke-opacity="0.5" stroke-width="4" stroke-linecap="round" fill="none"/>
<path d="M1198.7 334.4 A310.6 310.6 0 0 1 1184.6 341.7" stroke="#ff4060" stroke-opacity="0.5" stroke-width="4" stroke-linecap="round" fill="none"/>
<path d="M1048.6 341.6 A279.3 279.3 0 0 1 1038.9 341.4" stroke="#ff4060" stroke-opacity="0.5" stroke-width="4" stroke-linecap="round" fill="none"/>
<path d="M1211.3 218 A225 225 0 0 1 1199.2 229.8" stroke="#ff4060" stroke-opacity="0.5" stroke-width="4" stroke-linecap="round" fill="none"/>
<path d="M1101.4 110.1 A70.9 70.9 0 0 1 1098.6 113" stroke="#ff4060" stroke-opacity="0.5" stroke-width="4" stroke-linecap="round" fill="none"/>
<path d="M1028 124 A65.1 65.1 0 0 1 1023.7 122.4" stroke="#c02080" stroke-opacity="0.5" stroke-width="4" stroke-linecap="round" fill="none"/>
<path d="M1079.6 120.8 A66 66 0 0 1 1076.6 122.3" stroke="#ff4060" stroke-opacity="0.5" stroke-width="4" stroke-linecap="round" fill="none"/>
<path d="M1137.5 193.2 A158 158 0 0 1 1130.7 197.5" stroke="#e02060" stroke-opacity="0.5" stroke-width="4" stroke-linecap="round" fill="none"/>
<path d="M1113.9 176.7 A131.5 131.5 0 0 1 1108.1 179.8" stroke="#e02060" stroke-opacity="0.5" stroke-width="4" stroke-linecap="round" fill="none"/>
<path d="M1251.3 179.6 A233.9 233.9 0 0 1 1246.2 187.9" stroke="#ff4060" stroke-opacity="0.5" stroke-width="4" stroke-linecap="round" fill="none"/>
<path d="M1089.8 281 A222.5 222.5 0 0 1 1075.2 283.3" stroke="#ff4060" stroke-opacity="0.5" stroke-width="4" stroke-linecap="round" fill="none"/>
<path d="M1209.2 248.2 A245.4 245.4 0 0 1 1197.9 257.4" stroke="#c02080" stroke-opacity="0.5" stroke-width="4" stroke-linecap="round" fill="none"/>
<path d="M1099.2 132.6 A86.4 86.4 0 0 1 1094.5 135.8" stroke="#e02060" stroke-opacity="0.5" stroke-width="4" stroke-linecap="round" fill="none"/>
<path d="M1159.6 168.8 A153.6 153.6 0 0 1 1152.2 176" stroke="#ff4060" stroke-opacity="0.5" stroke-width="4" stroke-linecap="round" fill="none"/>
<path d="M1114.5 58 A65.7 65.7 0 0 1 1114.7 61.2" stroke="#e02060" stroke-opacity="0.5" stroke-width="4" stroke-linecap="round" fill="none"/>
<path d="M982.5 257.1 A205.7 205.7 0 0 1 970.3 252.5" stroke="#c02080" stroke-opacity="0.5" stroke-width="4" stroke-linecap="round" fill="none"/>
<path d="M1203.8 76.9 A155.6 155.6 0 0 1 1203.2 82.1" stroke="#ff4060" stroke-opacity="0.5" stroke-width="4" stroke-linecap="round" fill="none"/>
<path d="M1165.7 161.9 A153.4 153.4 0 0 1 1161.3 166.9" stroke="#e02060" stroke-opacity="0.5" stroke-width="4" stroke-linecap="round" fill="none"/>
<path d="M1117.7 90.9 A74.5 74.5 0 0 1 1115.4 96" stroke="#ff4060" stroke-opacity="0.5" stroke-width="4" stroke-linecap="round" fill="none"/>
<path d="M1205.1 82.6 A157.5 157.5 0 0 1 1203.2 94.3" stroke="#c02080" stroke-opacity="0.5" stroke-width="4" stroke-linecap="round" fill="none"/>
<path d="M1038.4 136.4 A74.8 74.8 0 0 1 1032.7 135.4" stroke="#ff4060" stroke-opacity="0.5" stroke-width="4" stroke-linecap="round" fill="none"/>
<path d="M1080.8 265.7 A205.8 205.8 0 0 1 1071.2 267" stroke="#e02060" stroke-opacity="0.5" stroke-width="4" stroke-linecap="round" fill="none"/>
<path d="M1257.1 252.1 A281.7 281.7 0 0 1 1246.1 263.6" stroke="#ff4060" stroke-opacity="0.5" stroke-width="4" stroke-linecap="round" fill="none"/>
<path d="M1122.9 238.1 A190.7 190.7 0 0 1 1112 242.3" stroke="#c02080" stroke-opacity="0.5" stroke-width="4" stroke-linecap="round" fill="none"/>
<path d="M1190.6 70.1 A141.9 141.9 0 0 1 1189.6 81" stroke="#e02060" stroke-opacity="0.5" stroke-width="4" stroke-linecap="round" fill="none"/>
<path d="M1322.3 11.7 A278 278 0 0 1 1325.2 31.3" stroke="#ff4060" stroke-opacity="0.5" stroke-width="4" stroke-linecap="round" fill="none"/>
<path d="M1025.6 200.6 A140.2 140.2 0 0 1 1019.5 199.4" stroke="#ff4060" stroke-opacity="0.5" stroke-width="4" stroke-linecap="round" fill="none"/>
<path d="M1116 81.8 A69.9 69.9 0 0 1 1114.8 85.7" stroke="#e02060" stroke-opacity="0.5" stroke-width="4" stroke-linecap="round" fill="none"/>
<path d="M1162.7 206.9 A184 184 0 0 1 1152.9 214.1" stroke="#ff4060" stroke-opacity="0.5" stroke-width="4" stroke-linecap="round" fill="none"/></g>
<ellipse cx="1181.7" cy="117.5" rx="5.9" ry="4.7" fill="#ff502055"/>
<ellipse cx="1181.7" cy="117.5" rx="3.2" ry="2.6" fill="#fff4c0"/>
<ellipse cx="1124.4" cy="261.3" rx="3.1" ry="2.5" fill="#ff502055"/>
<ellipse cx="1124.4" cy="261.3" rx="1.8" ry="1.4" fill="#ffe090"/>
<circle cx="1018.2" cy="38.5" r="117.3" fill="none" stroke="#c0b6f6" stroke-opacity="0.8" stroke-width="5" stroke-dasharray="13 9"/>
<circle cx="1063.5" cy="60.3" r="137" fill="none" stroke="#c0b6f6" stroke-opacity="0.8" stroke-width="5" stroke-dasharray="13 9"/>
<circle cx="1039.8" cy="53.1" r="208.2" fill="none" stroke="#c0b6f6" stroke-opacity="0.8" stroke-width="5" stroke-dasharray="13 9"/>
<circle cx="1074.3" cy="97.4" r="196.1" fill="none" stroke="#c0b6f6" stroke-opacity="0.8" stroke-width="5" stroke-dasharray="13 9"/>
</g>
<text transform="translate(1177 31.8) scale(1 1.09)" font-size="32" fill="#000" text-anchor="middle">16.5 GPa</text>
<text x="-1" y="21.3" font-size="39" fill="#000" font-weight="bold">a</text>
<path d="M74 480.3 L1668.4 480.3 L1668.4 461 L1749 504.5 L1668.4 549 L1668.4 527.8 L74 527.8 Z" fill="url(#abar)"/>
<text x="378.5" y="517" font-size="36.3" fill="#000" text-anchor="middle" font-weight="bold">Crystalline Structure</text>
<text x="932.5" y="517" font-size="36.3" fill="#000" text-anchor="middle" font-weight="bold">Transition Zone</text>
<text x="1502" y="517" font-size="36.3" fill="#000" text-anchor="middle" font-weight="bold">NOF Structure</text>
<rect x="73" y="577.6" width="437.8" height="821.8" fill="none" stroke="#000" stroke-width="2"/>
<path d="M105.5 1399.4 V1382.4" stroke="#000" stroke-width="1.8"/>
<text x="105.5" y="1442.2" font-size="30" fill="#000" text-anchor="middle">6</text>
<path d="M137.9 1399.4 V1390.7" stroke="#000" stroke-width="1.8"/>
<path d="M170.4 1399.4 V1382.4" stroke="#000" stroke-width="1.8"/>
<text x="170.4" y="1442.2" font-size="30" fill="#000" text-anchor="middle">8</text>
<path d="M202.8 1399.4 V1390.7" stroke="#000" stroke-width="1.8"/>
<path d="M235.2 1399.4 V1382.4" stroke="#000" stroke-width="1.8"/>
<text x="235.2" y="1442.2" font-size="30" fill="#000" text-anchor="middle">10</text>
<path d="M267.7 1399.4 V1390.7" stroke="#000" stroke-width="1.8"/>
<path d="M300.2 1399.4 V1382.4" stroke="#000" stroke-width="1.8"/>
<text x="300.2" y="1442.2" font-size="30" fill="#000" text-anchor="middle">12</text>
<path d="M332.6 1399.4 V1390.7" stroke="#000" stroke-width="1.8"/>
<path d="M365.1 1399.4 V1382.4" stroke="#000" stroke-width="1.8"/>
<text x="365.1" y="1442.2" font-size="30" fill="#000" text-anchor="middle">14</text>
<path d="M397.5 1399.4 V1390.7" stroke="#000" stroke-width="1.8"/>
<path d="M430 1399.4 V1382.4" stroke="#000" stroke-width="1.8"/>
<text x="430" y="1442.2" font-size="30" fill="#000" text-anchor="middle">16</text>
<path d="M462.4 1399.4 V1390.7" stroke="#000" stroke-width="1.8"/>
<path d="M494.9 1399.4 V1382.4" stroke="#000" stroke-width="1.8"/>
<text x="494.9" y="1442.2" font-size="30" fill="#000" text-anchor="middle">18</text>
<text x="291.3" y="1490.5" font-size="36.8" fill="#000" text-anchor="middle">2 Theta (degree)</text>
<text transform="translate(34.6 1003.6) rotate(-90)" font-size="37.4" text-anchor="middle">Intensity (arb. units)</text>
<text x="-1.8" y="612" font-size="40" fill="#000" font-weight="bold">b</text>
<g clip-path="url(#bclip)">
<path d="M180 578 L163.6 1296.8" stroke="#999" stroke-width="2" stroke-dasharray="7 5" fill="none"/>
<path d="M224 624.6 L202.3 1289" stroke="#999" stroke-width="2" stroke-dasharray="7 5" fill="none"/>
<path d="M354.5 648.8 L324.5 1263.7" stroke="#999" stroke-width="2" stroke-dasharray="7 5" fill="none"/>
<path d="M428.8 667.9 L397 1291.7" stroke="#999" stroke-width="2" stroke-dasharray="7 5" fill="none"/>
<path d="M450.9 662.8 L417.3 1295.5" stroke="#999" stroke-width="2" stroke-dasharray="7 5" fill="none"/>
<path d="M73.0 1362.8 L73.4 1362.8 L73.8 1362.8 L74.2 1362.8 L74.6 1362.8 L74.9 1362.8 L75.3 1362.8 L75.7 1362.8 L76.1 1362.8 L76.5 1362.8 L76.9 1362.8 L77.3 1362.8 L77.7 1362.8 L78.1 1362.8 L78.5 1362.8 L78.8 1362.8 L79.2 1362.8 L79.6 1362.8 L80.0 1362.8 L80.4 1362.8 L80.8 1362.8 L81.2 1362.8 L81.6 1362.8 L82.0 1362.8 L82.3 1362.8 L82.7 1362.8 L83.1 1362.8 L83.5 1362.7 L83.9 1362.7 L84.3 1362.7 L84.7 1362.7 L85.1 1362.7 L85.5 1362.7 L85.9 1362.7 L86.2 1362.6 L86.6 1362.6 L87.0 1362.5 L87.4 1362.4 L87.8 1362.3 L88.2 1362.1 L88.6 1361.8 L89.0 1361.5 L89.4 1361.2 L89.7 1360.8 L90.1 1360.4 L90.5 1360.1 L90.9 1359.8 L91.3 1359.8 L91.7 1360.0 L92.1 1360.3 L92.5 1360.7 L92.9 1361.0 L93.2 1361.4 L93.6 1361.7 L94.0 1362.0 L94.4 1362.2 L94.8 1362.3 L95.2 1362.4 L95.6 1362.5 L96.0 1362.6 L96.4 1362.6 L96.8 1362.6 L97.1 1362.6 L97.5 1362.7 L97.9 1362.7 L98.3 1362.7 L98.7 1362.7 L99.1 1362.7 L99.5 1362.7 L99.9 1362.7 L100.3 1362.7 L100.6 1362.7 L101.0 1362.7 L101.4 1362.7 L101.8 1362.7 L102.2 1362.7 L102.6 1362.7 L103.0 1362.7 L103.4 1362.7 L103.8 1362.7 L104.2 1362.6 L104.5 1362.6 L104.9 1362.6 L105.3 1362.6 L105.7 1362.6 L106.1 1362.6 L106.5 1362.6 L106.9 1362.6 L107.3 1362.5 L107.7 1362.5 L108.0 1362.5 L108.4 1362.5 L108.8 1362.4 L109.2 1362.4 L109.6 1362.4 L110.0 1362.3 L110.4 1362.3 L110.8 1362.2 L111.2 1362.1 L111.6 1362.0 L111.9 1361.8 L112.3 1361.6 L112.7 1361.3 L113.1 1360.8 L113.5 1360.2 L113.9 1359.3 L114.3 1358.2 L114.7 1356.8 L115.1 1355.2 L115.4 1353.4 L115.8 1351.7 L116.2 1350.2 L116.6 1349.4 L117.0 1349.4 L117.4 1350.2 L117.8 1351.6 L118.2 1353.4 L118.6 1355.2 L118.9 1356.8 L119.3 1358.2 L119.7 1359.3 L120.1 1360.2 L120.5 1360.8 L120.9 1361.3 L121.3 1361.6 L121.7 1361.8 L122.1 1361.9 L122.5 1362.1 L122.8 1362.1 L123.2 1362.2 L123.6 1362.3 L124.0 1362.3 L124.4 1362.3 L124.8 1362.4 L125.2 1362.4 L125.6 1362.4 L126.0 1362.4 L126.3 1362.4 L126.7 1362.5 L127.1 1362.5 L127.5 1362.5 L127.9 1362.5 L128.3 1362.5 L128.7 1362.5 L129.1 1362.5 L129.5 1362.5 L129.9 1362.5 L130.2 1362.5 L130.6 1362.5 L131.0 1362.5 L131.4 1362.5 L131.8 1362.5 L132.2 1362.5 L132.6 1362.5 L133.0 1362.5 L133.4 1362.5 L133.7 1362.5 L134.1 1362.5 L134.5 1362.5 L134.9 1362.5 L135.3 1362.5 L135.7 1362.5 L136.1 1362.5 L136.5 1362.5 L136.9 1362.5 L137.3 1362.4 L137.6 1362.4 L138.0 1362.4 L138.4 1362.4 L138.8 1362.4 L139.2 1362.4 L139.6 1362.4 L140.0 1362.4 L140.4 1362.4 L140.8 1362.3 L141.1 1362.3 L141.5 1362.3 L141.9 1362.3 L142.3 1362.3 L142.7 1362.2 L143.1 1362.2 L143.5 1362.2 L143.9 1362.2 L144.3 1362.1 L144.6 1362.1 L145.0 1362.1 L145.4 1362.1 L145.8 1362.0 L146.2 1362.0 L146.6 1362.0 L147.0 1361.9 L147.4 1361.9 L147.8 1361.8 L148.2 1361.8 L148.5 1361.7 L148.9 1361.7 L149.3 1361.6 L149.7 1361.5 L150.1 1361.4 L150.5 1361.4 L150.9 1361.3 L151.3 1361.2 L151.7 1361.1 L152.0 1361.0 L152.4 1360.8 L152.8 1360.7 L153.2 1360.5 L153.6 1360.3 L154.0 1360.1 L154.4 1359.9 L154.8 1359.7 L155.2 1359.4 L155.6 1359.1 L155.9 1358.7 L156.3 1358.3 L156.7 1357.7 L157.1 1357.1 L157.5 1356.3 L157.9 1355.3 L158.3 1353.9 L158.7 1352.0 L159.1 1349.3 L159.4 1345.5 L159.8 1340.3 L160.2 1333.4 L160.6 1324.4 L161.0 1313.3 L161.4 1300.0 L161.8 1285.1 L162.2 1269.5 L162.6 1254.6 L163.0 1242.5 L163.3 1235.7 L163.7 1235.7 L164.1 1242.5 L164.5 1254.6 L164.9 1269.4 L165.3 1285.1 L165.7 1300.0 L166.1 1313.2 L166.5 1324.4 L166.8 1333.4 L167.2 1340.3 L167.6 1345.5 L168.0 1349.2 L168.4 1351.9 L168.8 1353.8 L169.2 1355.2 L169.6 1356.2 L170.0 1357.0 L170.3 1357.6 L170.7 1358.1 L171.1 1358.6 L171.5 1358.9 L171.9 1359.3 L172.3 1359.5 L172.7 1359.8 L173.1 1360.0 L173.5 1360.2 L173.9 1360.3 L174.2 1360.5 L174.6 1360.6 L175.0 1360.7 L175.4 1360.8 L175.8 1360.9 L176.2 1360.9 L176.6 1361.0 L177.0 1361.0 L177.4 1361.1 L177.7 1361.1 L178.1 1361.1 L178.5 1361.0 L178.9 1360.9 L179.3 1360.8 L179.7 1360.5 L180.1 1360.2 L180.5 1359.7 L180.9 1358.9 L181.3 1358.0 L181.6 1356.8 L182.0 1355.5 L182.4 1354.1 L182.8 1352.8 L183.2 1351.8 L183.6 1351.4 L184.0 1351.7 L184.4 1352.5 L184.8 1353.8 L185.1 1355.2 L185.5 1356.6 L185.9 1357.9 L186.3 1358.9 L186.7 1359.7 L187.1 1360.4 L187.5 1360.8 L187.9 1361.1 L188.3 1361.4 L188.7 1361.5 L189.0 1361.6 L189.4 1361.7 L189.8 1361.8 L190.2 1361.8 L190.6 1361.8 L191.0 1361.8 L191.4 1361.9 L191.8 1361.9 L192.2 1361.9 L192.5 1361.9 L192.9 1361.8 L193.3 1361.8 L193.7 1361.8 L194.1 1361.8 L194.5 1361.7 L194.9 1361.7 L195.3 1361.6 L195.7 1361.5 L196.1 1361.4 L196.4 1361.3 L196.8 1361.1 L197.2 1360.9 L197.6 1360.6 L198.0 1360.1 L198.4 1359.5 L198.8 1358.6 L199.2 1357.2 L199.6 1355.4 L199.9 1353.1 L200.3 1350.2 L200.7 1346.8 L201.1 1343.2 L201.5 1339.6 L201.9 1336.6 L202.3 1334.8 L202.7 1334.8 L203.1 1336.6 L203.4 1339.6 L203.8 1343.2 L204.2 1346.8 L204.6 1350.2 L205.0 1353.1 L205.4 1355.5 L205.8 1357.3 L206.2 1358.6 L206.6 1359.5 L207.0 1360.2 L207.3 1360.6 L207.7 1361.0 L208.1 1361.2 L208.5 1361.4 L208.9 1361.5 L209.3 1361.6 L209.7 1361.7 L210.1 1361.7 L210.5 1361.8 L210.8 1361.8 L211.2 1361.9 L211.6 1361.9 L212.0 1361.9 L212.4 1361.9 L212.8 1361.9 L213.2 1361.9 L213.6 1361.9 L214.0 1361.9 L214.4 1361.8 L214.7 1361.7 L215.1 1361.6 L215.5 1361.4 L215.9 1361.2 L216.3 1360.8 L216.7 1360.2 L217.1 1359.5 L217.5 1358.5 L217.9 1357.3 L218.2 1355.8 L218.6 1354.3 L219.0 1352.7 L219.4 1351.4 L219.8 1350.7 L220.2 1350.7 L220.6 1351.5 L221.0 1352.7 L221.4 1354.3 L221.8 1355.9 L222.1 1357.3 L222.5 1358.6 L222.9 1359.6 L223.3 1360.4 L223.7 1360.9 L224.1 1361.3 L224.5 1361.6 L224.9 1361.8 L225.3 1362.0 L225.6 1362.1 L226.0 1362.1 L226.4 1362.2 L226.8 1362.2 L227.2 1362.3 L227.6 1362.3 L228.0 1362.3 L228.4 1362.4 L228.8 1362.4 L229.1 1362.4 L229.5 1362.4 L229.9 1362.4 L230.3 1362.4 L230.7 1362.4 L231.1 1362.4 L231.5 1362.4 L231.9 1362.4 L232.3 1362.4 L232.7 1362.3 L233.0 1362.3 L233.4 1362.2 L233.8 1362.0 L234.2 1361.8 L234.6 1361.6 L235.0 1361.2 L235.4 1360.8 L235.8 1360.3 L236.2 1359.7 L236.5 1359.1 L236.9 1358.7 L237.3 1358.4 L237.7 1358.4 L238.1 1358.7 L238.5 1359.2 L238.9 1359.7 L239.3 1360.3 L239.7 1360.8 L240.1 1361.3 L240.4 1361.6 L240.8 1361.9 L241.2 1362.1 L241.6 1362.2 L242.0 1362.3 L242.4 1362.4 L242.8 1362.5 L243.2 1362.5 L243.6 1362.5 L243.9 1362.5 L244.3 1362.6 L244.7 1362.6 L245.1 1362.6 L245.5 1362.6 L245.9 1362.6 L246.3 1362.6 L246.7 1362.6 L247.1 1362.6 L247.5 1362.6 L247.8 1362.6 L248.2 1362.6 L248.6 1362.5 L249.0 1362.5 L249.4 1362.4 L249.8 1362.3 L250.2 1362.2 L250.6 1362.0 L251.0 1361.8 L251.3 1361.6 L251.7 1361.3 L252.1 1361.1 L252.5 1360.9 L252.9 1360.7 L253.3 1360.7 L253.7 1360.9 L254.1 1361.1 L254.5 1361.3 L254.8 1361.6 L255.2 1361.8 L255.6 1362.0 L256.0 1362.2 L256.4 1362.3 L256.8 1362.4 L257.2 1362.5 L257.6 1362.5 L258.0 1362.6 L258.4 1362.6 L258.7 1362.6 L259.1 1362.6 L259.5 1362.6 L259.9 1362.6 L260.3 1362.6 L260.7 1362.6 L261.1 1362.6 L261.5 1362.6 L261.9 1362.6 L262.2 1362.5 L262.6 1362.5 L263.0 1362.5 L263.4 1362.5 L263.8 1362.4 L264.2 1362.3 L264.6 1362.2 L265.0 1362.0 L265.4 1361.8 L265.8 1361.4 L266.1 1361.0 L266.5 1360.6 L266.9 1360.0 L267.3 1359.5 L267.7 1359.1 L268.1 1358.8 L268.5 1358.7 L268.9 1358.9 L269.3 1359.3 L269.6 1359.8 L270.0 1360.4 L270.4 1360.8 L270.8 1361.3 L271.2 1361.6 L271.6 1361.9 L272.0 1362.1 L272.4 1362.2 L272.8 1362.3 L273.2 1362.3 L273.5 1362.4 L273.9 1362.4 L274.3 1362.4 L274.7 1362.4 L275.1 1362.4 L275.5 1362.4 L275.9 1362.4 L276.3 1362.3 L276.7 1362.3 L277.0 1362.3 L277.4 1362.2 L277.8 1362.1 L278.2 1362.0 L278.6 1361.8 L279.0 1361.6 L279.4 1361.2 L279.8 1360.7 L280.2 1360.0 L280.6 1359.1 L280.9 1358.1 L281.3 1356.9 L281.7 1355.6 L282.1 1354.4 L282.5 1353.5 L282.9 1353.0 L283.3 1353.3 L283.7 1354.0 L284.1 1355.2 L284.4 1356.4 L284.8 1357.7 L285.2 1358.8 L285.6 1359.7 L286.0 1360.5 L286.4 1361.1 L286.8 1361.5 L287.2 1361.8 L287.6 1362.0 L287.9 1362.1 L288.3 1362.2 L288.7 1362.3 L289.1 1362.3 L289.5 1362.4 L289.9 1362.4 L290.3 1362.4 L290.7 1362.4 L291.1 1362.5 L291.5 1362.5 L291.8 1362.5 L292.2 1362.5 L292.6 1362.5 L293.0 1362.5 L293.4 1362.5 L293.8 1362.5 L294.2 1362.5 L294.6 1362.5 L295.0 1362.5 L295.3 1362.5 L295.7 1362.5 L296.1 1362.5 L296.5 1362.5 L296.9 1362.5 L297.3 1362.5 L297.7 1362.5 L298.1 1362.5 L298.5 1362.5 L298.9 1362.5 L299.2 1362.5 L299.6 1362.5 L300.0 1362.5 L300.4 1362.4 L300.8 1362.4 L301.2 1362.4 L301.6 1362.4 L302.0 1362.3 L302.4 1362.3 L302.7 1362.3 L303.1 1362.2 L303.5 1362.2 L303.9 1362.1 L304.3 1362.1 L304.7 1362.0 L305.1 1361.8 L305.5 1361.6 L305.9 1361.4 L306.3 1361.0 L306.6 1360.5 L307.0 1359.8 L307.4 1358.9 L307.8 1357.8 L308.2 1356.6 L308.6 1355.3 L309.0 1354.0 L309.4 1352.9 L309.8 1352.4 L310.1 1352.5 L310.5 1353.1 L310.9 1354.2 L311.3 1355.5 L311.7 1356.8 L312.1 1357.9 L312.5 1358.9 L312.9 1359.6 L313.3 1360.2 L313.6 1360.5 L314.0 1360.8 L314.4 1360.9 L314.8 1361.0 L315.2 1361.0 L315.6 1360.9 L316.0 1360.9 L316.4 1360.8 L316.8 1360.6 L317.2 1360.4 L317.5 1360.2 L317.9 1359.8 L318.3 1359.4 L318.7 1358.7 L319.1 1357.8 L319.5 1356.5 L319.9 1354.6 L320.3 1351.9 L320.7 1348.3 L321.0 1343.6 L321.4 1337.8 L321.8 1331.2 L322.2 1324.0 L322.6 1317.2 L323.0 1311.7 L323.4 1308.9 L323.8 1309.5 L324.2 1313.3 L324.6 1319.4 L324.9 1326.4 L325.3 1333.5 L325.7 1339.9 L326.1 1345.3 L326.5 1349.6 L326.9 1352.9 L327.3 1355.3 L327.7 1357.0 L328.1 1358.2 L328.4 1359.0 L328.8 1359.6 L329.2 1360.0 L329.6 1360.3 L330.0 1360.5 L330.4 1360.7 L330.8 1360.8 L331.2 1360.9 L331.6 1360.9 L332.0 1360.9 L332.3 1360.7 L332.7 1360.5 L333.1 1360.2 L333.5 1359.7 L333.9 1359.2 L334.3 1358.5 L334.7 1357.8 L335.1 1357.2 L335.5 1356.7 L335.8 1356.6 L336.2 1356.8 L336.6 1357.3 L337.0 1358.0 L337.4 1358.8 L337.8 1359.5 L338.2 1360.2 L338.6 1360.7 L339.0 1361.2 L339.3 1361.5 L339.7 1361.7 L340.1 1361.9 L340.5 1362.0 L340.9 1362.1 L341.3 1362.2 L341.7 1362.2 L342.1 1362.2 L342.5 1362.3 L342.9 1362.3 L343.2 1362.3 L343.6 1362.3 L344.0 1362.3 L344.4 1362.3 L344.8 1362.3 L345.2 1362.2 L345.6 1362.2 L346.0 1362.1 L346.4 1361.9 L346.7 1361.8 L347.1 1361.6 L347.5 1361.3 L347.9 1361.0 L348.3 1360.8 L348.7 1360.6 L349.1 1360.5 L349.5 1360.6 L349.9 1360.7 L350.3 1361.0 L350.6 1361.2 L351.0 1361.5 L351.4 1361.7 L351.8 1361.9 L352.2 1362.0 L352.6 1362.1 L353.0 1362.2 L353.4 1362.2 L353.8 1362.2 L354.1 1362.2 L354.5 1362.2 L354.9 1362.2 L355.3 1362.1 L355.7 1362.0 L356.1 1361.9 L356.5 1361.7 L356.9 1361.5 L357.3 1361.1 L357.7 1360.6 L358.0 1359.9 L358.4 1359.0 L358.8 1357.9 L359.2 1356.6 L359.6 1355.3 L360.0 1354.1 L360.4 1353.1 L360.8 1352.7 L361.2 1352.9 L361.5 1353.7 L361.9 1354.9 L362.3 1356.2 L362.7 1357.5 L363.1 1358.6 L363.5 1359.6 L363.9 1360.4 L364.3 1361.0 L364.7 1361.4 L365.0 1361.7 L365.4 1361.9 L365.8 1362.0 L366.2 1362.1 L366.6 1362.2 L367.0 1362.2 L367.4 1362.2 L367.8 1362.2 L368.2 1362.2 L368.6 1362.2 L368.9 1362.1 L369.3 1362.0 L369.7 1361.9 L370.1 1361.7 L370.5 1361.4 L370.9 1361.1 L371.3 1360.7 L371.7 1360.3 L372.1 1360.0 L372.4 1359.7 L372.8 1359.6 L373.2 1359.7 L373.6 1360.0 L374.0 1360.4 L374.4 1360.8 L374.8 1361.1 L375.2 1361.5 L375.6 1361.8 L376.0 1362.0 L376.3 1362.1 L376.7 1362.3 L377.1 1362.3 L377.5 1362.4 L377.9 1362.4 L378.3 1362.5 L378.7 1362.5 L379.1 1362.5 L379.5 1362.5 L379.8 1362.5 L380.2 1362.5 L380.6 1362.5 L381.0 1362.5 L381.4 1362.5 L381.8 1362.5 L382.2 1362.5 L382.6 1362.5 L383.0 1362.5 L383.4 1362.5 L383.7 1362.4 L384.1 1362.4 L384.5 1362.4 L384.9 1362.4 L385.3 1362.4 L385.7 1362.3 L386.1 1362.3 L386.5 1362.2 L386.9 1362.2 L387.2 1362.2 L387.6 1362.1 L388.0 1362.0 L388.4 1361.9 L388.8 1361.8 L389.2 1361.7 L389.6 1361.6 L390.0 1361.3 L390.4 1361.1 L390.8 1360.6 L391.1 1360.1 L391.5 1359.2 L391.9 1358.0 L392.3 1356.4 L392.7 1354.3 L393.1 1351.8 L393.5 1348.7 L393.9 1345.4 L394.3 1342.2 L394.6 1339.5 L395.0 1338.0 L395.4 1338.0 L395.8 1339.5 L396.2 1342.2 L396.6 1345.4 L397.0 1348.7 L397.4 1351.7 L397.8 1354.3 L398.1 1356.4 L398.5 1358.0 L398.9 1359.2 L399.3 1360.0 L399.7 1360.6 L400.1 1361.0 L400.5 1361.2 L400.9 1361.4 L401.3 1361.5 L401.7 1361.6 L402.0 1361.6 L402.4 1361.6 L402.8 1361.5 L403.2 1361.3 L403.6 1361.1 L404.0 1360.8 L404.4 1360.4 L404.8 1360.1 L405.2 1359.8 L405.5 1359.5 L405.9 1359.4 L406.3 1359.6 L406.7 1359.8 L407.1 1360.2 L407.5 1360.6 L407.9 1361.0 L408.3 1361.4 L408.7 1361.7 L409.1 1361.9 L409.4 1362.1 L409.8 1362.2 L410.2 1362.3 L410.6 1362.3 L411.0 1362.4 L411.4 1362.4 L411.8 1362.4 L412.2 1362.4 L412.6 1362.4 L412.9 1362.3 L413.3 1362.3 L413.7 1362.2 L414.1 1362.0 L414.5 1361.8 L414.9 1361.5 L415.3 1361.2 L415.7 1360.8 L416.1 1360.5 L416.5 1360.1 L416.8 1359.8 L417.2 1359.7 L417.6 1359.7 L418.0 1360.0 L418.4 1360.3 L418.8 1360.7 L419.2 1361.1 L419.6 1361.5 L420.0 1361.7 L420.3 1362.0 L420.7 1362.1 L421.1 1362.3 L421.5 1362.3 L421.9 1362.4 L422.3 1362.4 L422.7 1362.4 L423.1 1362.4 L423.5 1362.3 L423.8 1362.3 L424.2 1362.2 L424.6 1362.0 L425.0 1361.8 L425.4 1361.4 L425.8 1361.0 L426.2 1360.6 L426.6 1360.1 L427.0 1359.5 L427.4 1359.1 L427.7 1358.8 L428.1 1358.8 L428.5 1359.0 L428.9 1359.4 L429.3 1359.9 L429.7 1360.4 L430.1 1360.9 L430.5 1361.4 L430.9 1361.7 L431.2 1362.0 L431.6 1362.2 L432.0 1362.3 L432.4 1362.4 L432.8 1362.5 L433.2 1362.6 L433.6 1362.6 L434.0 1362.6 L434.4 1362.6 L434.8 1362.7 L435.1 1362.7 L435.5 1362.7 L435.9 1362.7 L436.3 1362.7 L436.7 1362.7 L437.1 1362.7 L437.5 1362.7 L437.9 1362.7 L438.3 1362.7 L438.6 1362.7 L439.0 1362.7 L439.4 1362.7 L439.8 1362.7 L440.2 1362.7 L440.6 1362.7 L441.0 1362.7 L441.4 1362.7 L441.8 1362.7 L442.2 1362.7 L442.5 1362.7 L442.9 1362.7 L443.3 1362.7 L443.7 1362.7 L444.1 1362.7 L444.5 1362.7 L444.9 1362.6 L445.3 1362.6 L445.7 1362.5 L446.0 1362.4 L446.4 1362.3 L446.8 1362.2 L447.2 1362.0 L447.6 1361.7 L448.0 1361.5 L448.4 1361.2 L448.8 1361.0 L449.2 1360.8 L449.5 1360.8 L449.9 1360.9 L450.3 1361.1 L450.7 1361.4 L451.1 1361.6 L451.5 1361.9 L451.9 1362.1 L452.3 1362.2 L452.7 1362.3 L453.1 1362.4 L453.4 1362.5 L453.8 1362.5 L454.2 1362.5 L454.6 1362.4 L455.0 1362.3 L455.4 1362.2 L455.8 1362.0 L456.2 1361.8 L456.6 1361.6 L456.9 1361.3 L457.3 1361.1 L457.7 1360.9 L458.1 1360.8 L458.5 1360.9 L458.9 1361.0 L459.3 1361.3 L459.7 1361.5 L460.1 1361.8 L460.5 1362.0 L460.8 1362.2 L461.2 1362.4 L461.6 1362.5 L462.0 1362.6 L462.4 1362.6 L462.8 1362.7 L463.2 1362.7 L463.6 1362.7 L464.0 1362.7 L464.3 1362.8 L464.7 1362.8 L465.1 1362.8 L465.5 1362.8 L465.9 1362.8 L466.3 1362.8 L466.7 1362.8 L467.1 1362.8 L467.5 1362.8 L467.9 1362.8 L468.2 1362.8 L468.6 1362.8 L469.0 1362.8 L469.4 1362.8 L469.8 1362.8 L470.2 1362.8 L470.6 1362.8 L471.0 1362.8 L471.4 1362.8 L471.7 1362.8 L472.1 1362.8 L472.5 1362.8 L472.9 1362.8 L473.3 1362.8 L473.7 1362.8 L474.1 1362.8 L474.5 1362.8 L474.9 1362.8 L475.3 1362.8 L475.6 1362.8 L476.0 1362.8 L476.4 1362.8 L476.8 1362.8 L477.2 1362.8 L477.6 1362.8 L478.0 1362.8 L478.4 1362.8 L478.8 1362.8 L479.1 1362.8 L479.5 1362.8 L479.9 1362.8 L480.3 1362.8 L480.7 1362.7 L481.1 1362.7 L481.5 1362.7 L481.9 1362.7 L482.3 1362.7 L482.6 1362.6 L483.0 1362.5 L483.4 1362.4 L483.8 1362.3 L484.2 1362.1 L484.6 1361.9 L485.0 1361.7 L485.4 1361.4 L485.8 1361.2 L486.2 1360.9 L486.5 1360.8 L486.9 1360.8 L487.3 1360.9 L487.7 1361.1 L488.1 1361.4 L488.5 1361.6 L488.9 1361.9 L489.3 1362.0 L489.7 1362.2 L490.0 1362.3 L490.4 1362.4 L490.8 1362.4 L491.2 1362.4 L491.6 1362.4 L492.0 1362.3 L492.4 1362.2 L492.8 1362.0 L493.2 1361.8 L493.6 1361.5 L493.9 1361.1 L494.3 1360.6 L494.7 1360.1 L495.1 1359.6 L495.5 1359.1 L495.9 1358.8 L496.3 1358.8 L496.7 1359.0 L497.1 1359.4 L497.4 1359.9 L497.8 1360.4 L498.2 1360.9 L498.6 1361.3 L499.0 1361.6 L499.4 1361.9 L499.8 1362.0 L500.2 1362.1 L500.6 1362.2 L501.0 1362.1 L501.3 1362.0 L501.7 1361.9 L502.1 1361.6 L502.5 1361.3 L502.9 1361.0 L503.3 1360.6 L503.7 1360.2 L504.1 1359.9 L504.5 1359.8 L504.8 1359.8 L505.2 1360.1 L505.6 1360.4 L506.0 1360.8 L506.4 1361.2 L506.8 1361.5 L507.2 1361.9 L507.6 1362.1 L508.0 1362.3 L508.3 1362.4 L508.7 1362.5 L509.1 1362.6" stroke="#ff0000" stroke-width="3" fill="none" stroke-linejoin="round"/>
<path d="M73.0 1299.3 L73.4 1299.3 L73.8 1299.3 L74.2 1299.3 L74.6 1299.3 L74.9 1299.3 L75.3 1299.3 L75.7 1299.3 L76.1 1299.3 L76.5 1299.3 L76.9 1299.3 L77.3 1299.3 L77.7 1299.3 L78.1 1299.3 L78.5 1299.3 L78.8 1299.3 L79.2 1299.3 L79.6 1299.3 L80.0 1299.3 L80.4 1299.3 L80.8 1299.3 L81.2 1299.3 L81.6 1299.3 L82.0 1299.3 L82.3 1299.3 L82.7 1299.3 L83.1 1299.3 L83.5 1299.2 L83.9 1299.2 L84.3 1299.2 L84.7 1299.2 L85.1 1299.2 L85.5 1299.2 L85.9 1299.2 L86.2 1299.2 L86.6 1299.2 L87.0 1299.2 L87.4 1299.2 L87.8 1299.2 L88.2 1299.2 L88.6 1299.2 L89.0 1299.2 L89.4 1299.2 L89.7 1299.2 L90.1 1299.2 L90.5 1299.2 L90.9 1299.2 L91.3 1299.2 L91.7 1299.2 L92.1 1299.2 L92.5 1299.2 L92.9 1299.2 L93.2 1299.2 L93.6 1299.2 L94.0 1299.2 L94.4 1299.2 L94.8 1299.2 L95.2 1299.2 L95.6 1299.2 L96.0 1299.2 L96.4 1299.2 L96.8 1299.2 L97.1 1299.2 L97.5 1299.2 L97.9 1299.2 L98.3 1299.2 L98.7 1299.2 L99.1 1299.2 L99.5 1299.1 L99.9 1299.1 L100.3 1299.1 L100.6 1299.1 L101.0 1299.1 L101.4 1299.1 L101.8 1299.1 L102.2 1299.1 L102.6 1299.1 L103.0 1299.1 L103.4 1299.1 L103.8 1299.0 L104.2 1299.0 L104.5 1299.0 L104.9 1299.0 L105.3 1299.0 L105.7 1299.0 L106.1 1298.9 L106.5 1298.9 L106.9 1298.9 L107.3 1298.9 L107.7 1298.8 L108.0 1298.8 L108.4 1298.7 L108.8 1298.7 L109.2 1298.6 L109.6 1298.6 L110.0 1298.5 L110.4 1298.4 L110.8 1298.3 L111.2 1298.1 L111.6 1297.9 L111.9 1297.6 L112.3 1297.2 L112.7 1296.6 L113.1 1295.8 L113.5 1294.7 L113.9 1293.3 L114.3 1291.5 L114.7 1289.5 L115.1 1287.1 L115.4 1284.7 L115.8 1282.4 L116.2 1280.5 L116.6 1279.4 L117.0 1279.4 L117.4 1280.5 L117.8 1282.4 L118.2 1284.7 L118.6 1287.1 L118.9 1289.5 L119.3 1291.5 L119.7 1293.3 L120.1 1294.7 L120.5 1295.8 L120.9 1296.6 L121.3 1297.1 L121.7 1297.6 L122.1 1297.9 L122.5 1298.1 L122.8 1298.2 L123.2 1298.4 L123.6 1298.5 L124.0 1298.5 L124.4 1298.6 L124.8 1298.7 L125.2 1298.7 L125.6 1298.8 L126.0 1298.8 L126.3 1298.8 L126.7 1298.9 L127.1 1298.9 L127.5 1298.9 L127.9 1298.9 L128.3 1299.0 L128.7 1299.0 L129.1 1299.0 L129.5 1299.0 L129.9 1299.0 L130.2 1299.0 L130.6 1299.0 L131.0 1299.1 L131.4 1299.1 L131.8 1299.1 L132.2 1299.1 L132.6 1299.1 L133.0 1299.1 L133.4 1299.1 L133.7 1299.1 L134.1 1299.1 L134.5 1299.1 L134.9 1299.1 L135.3 1299.1 L135.7 1299.1 L136.1 1299.1 L136.5 1299.1 L136.9 1299.1 L137.3 1299.1 L137.6 1299.1 L138.0 1299.1 L138.4 1299.1 L138.8 1299.2 L139.2 1299.2 L139.6 1299.2 L140.0 1299.2 L140.4 1299.2 L140.8 1299.2 L141.1 1299.2 L141.5 1299.2 L141.9 1299.2 L142.3 1299.2 L142.7 1299.2 L143.1 1299.2 L143.5 1299.2 L143.9 1299.2 L144.3 1299.2 L144.6 1299.1 L145.0 1299.1 L145.4 1299.1 L145.8 1299.1 L146.2 1299.1 L146.6 1299.1 L147.0 1299.1 L147.4 1299.1 L147.8 1299.1 L148.2 1299.1 L148.5 1299.1 L148.9 1299.1 L149.3 1299.1 L149.7 1299.1 L150.1 1299.1 L150.5 1299.1 L150.9 1299.1 L151.3 1299.1 L151.7 1299.1 L152.0 1299.1 L152.4 1299.0 L152.8 1299.0 L153.2 1299.0 L153.6 1299.0 L154.0 1299.0 L154.4 1299.0 L154.8 1298.9 L155.2 1298.9 L155.6 1298.9 L155.9 1298.8 L156.3 1298.8 L156.7 1298.7 L157.1 1298.7 L157.5 1298.6 L157.9 1298.4 L158.3 1298.2 L158.7 1298.0 L159.1 1297.6 L159.4 1297.1 L159.8 1296.5 L160.2 1295.6 L160.6 1294.7 L161.0 1293.5 L161.4 1292.3 L161.8 1291.1 L162.2 1290.1 L162.6 1289.4 L163.0 1289.2 L163.3 1289.6 L163.7 1290.4 L164.1 1291.5 L164.5 1292.7 L164.9 1293.9 L165.3 1295.0 L165.7 1295.9 L166.1 1296.7 L166.5 1297.3 L166.8 1297.7 L167.2 1298.0 L167.6 1298.3 L168.0 1298.4 L168.4 1298.6 L168.8 1298.6 L169.2 1298.7 L169.6 1298.8 L170.0 1298.8 L170.3 1298.8 L170.7 1298.9 L171.1 1298.9 L171.5 1298.9 L171.9 1298.9 L172.3 1298.9 L172.7 1299.0 L173.1 1299.0 L173.5 1299.0 L173.9 1299.0 L174.2 1299.0 L174.6 1299.0 L175.0 1299.0 L175.4 1299.0 L175.8 1299.0 L176.2 1299.0 L176.6 1299.0 L177.0 1299.0 L177.4 1299.0 L177.7 1299.0 L178.1 1299.0 L178.5 1299.0 L178.9 1299.0 L179.3 1299.0 L179.7 1299.0 L180.1 1299.0 L180.5 1299.0 L180.9 1299.0 L181.3 1299.0 L181.6 1299.0 L182.0 1299.0 L182.4 1299.0 L182.8 1298.9 L183.2 1298.9 L183.6 1298.9 L184.0 1298.9 L184.4 1298.9 L184.8 1298.9 L185.1 1298.9 L185.5 1298.9 L185.9 1298.8 L186.3 1298.8 L186.7 1298.8 L187.1 1298.8 L187.5 1298.8 L187.9 1298.7 L188.3 1298.7 L188.7 1298.7 L189.0 1298.6 L189.4 1298.6 L189.8 1298.6 L190.2 1298.5 L190.6 1298.5 L191.0 1298.4 L191.4 1298.4 L191.8 1298.3 L192.2 1298.2 L192.5 1298.2 L192.9 1298.1 L193.3 1298.0 L193.7 1297.9 L194.1 1297.8 L194.5 1297.6 L194.9 1297.4 L195.3 1297.3 L195.7 1297.0 L196.1 1296.8 L196.4 1296.5 L196.8 1296.0 L197.2 1295.5 L197.6 1294.8 L198.0 1293.7 L198.4 1292.2 L198.8 1290.0 L199.2 1286.9 L199.6 1282.7 L199.9 1277.3 L200.3 1270.6 L200.7 1262.7 L201.1 1254.2 L201.5 1245.8 L201.9 1238.8 L202.3 1234.8 L202.7 1234.8 L203.1 1238.8 L203.4 1245.8 L203.8 1254.2 L204.2 1262.7 L204.6 1270.6 L205.0 1277.3 L205.4 1282.7 L205.8 1286.9 L206.2 1290.0 L206.6 1292.2 L207.0 1293.7 L207.3 1294.7 L207.7 1295.5 L208.1 1296.0 L208.5 1296.4 L208.9 1296.8 L209.3 1297.0 L209.7 1297.3 L210.1 1297.4 L210.5 1297.6 L210.8 1297.7 L211.2 1297.9 L211.6 1298.0 L212.0 1298.1 L212.4 1298.2 L212.8 1298.2 L213.2 1298.3 L213.6 1298.4 L214.0 1298.4 L214.4 1298.5 L214.7 1298.5 L215.1 1298.6 L215.5 1298.6 L215.9 1298.6 L216.3 1298.7 L216.7 1298.7 L217.1 1298.7 L217.5 1298.7 L217.9 1298.8 L218.2 1298.8 L218.6 1298.8 L219.0 1298.8 L219.4 1298.8 L219.8 1298.8 L220.2 1298.9 L220.6 1298.9 L221.0 1298.9 L221.4 1298.9 L221.8 1298.9 L222.1 1298.9 L222.5 1298.9 L222.9 1298.9 L223.3 1298.9 L223.7 1298.9 L224.1 1298.9 L224.5 1298.9 L224.9 1298.9 L225.3 1298.9 L225.6 1298.9 L226.0 1298.9 L226.4 1298.9 L226.8 1298.9 L227.2 1298.9 L227.6 1298.9 L228.0 1298.9 L228.4 1298.9 L228.8 1298.9 L229.1 1298.8 L229.5 1298.8 L229.9 1298.8 L230.3 1298.8 L230.7 1298.7 L231.1 1298.7 L231.5 1298.6 L231.9 1298.6 L232.3 1298.4 L232.7 1298.3 L233.0 1298.1 L233.4 1297.8 L233.8 1297.4 L234.2 1296.9 L234.6 1296.2 L235.0 1295.3 L235.4 1294.3 L235.8 1293.1 L236.2 1291.9 L236.5 1290.7 L236.9 1289.8 L237.3 1289.2 L237.7 1289.2 L238.1 1289.8 L238.5 1290.7 L238.9 1291.9 L239.3 1293.1 L239.7 1294.3 L240.1 1295.3 L240.4 1296.2 L240.8 1296.9 L241.2 1297.4 L241.6 1297.8 L242.0 1298.1 L242.4 1298.3 L242.8 1298.5 L243.2 1298.6 L243.6 1298.7 L243.9 1298.7 L244.3 1298.8 L244.7 1298.8 L245.1 1298.9 L245.5 1298.9 L245.9 1298.9 L246.3 1298.9 L246.7 1299.0 L247.1 1299.0 L247.5 1299.0 L247.8 1299.0 L248.2 1299.0 L248.6 1299.0 L249.0 1299.0 L249.4 1299.0 L249.8 1299.1 L250.2 1299.1 L250.6 1299.1 L251.0 1299.1 L251.3 1299.1 L251.7 1299.1 L252.1 1299.1 L252.5 1299.1 L252.9 1299.1 L253.3 1299.1 L253.7 1299.1 L254.1 1299.1 L254.5 1299.1 L254.8 1299.1 L255.2 1299.1 L255.6 1299.1 L256.0 1299.1 L256.4 1299.1 L256.8 1299.1 L257.2 1299.1 L257.6 1299.1 L258.0 1299.0 L258.4 1299.0 L258.7 1299.0 L259.1 1299.0 L259.5 1299.0 L259.9 1299.0 L260.3 1299.0 L260.7 1298.9 L261.1 1298.9 L261.5 1298.9 L261.9 1298.9 L262.2 1298.8 L262.6 1298.8 L263.0 1298.7 L263.4 1298.6 L263.8 1298.4 L264.2 1298.2 L264.6 1297.9 L265.0 1297.5 L265.4 1296.9 L265.8 1296.2 L266.1 1295.4 L266.5 1294.5 L266.9 1293.5 L267.3 1292.6 L267.7 1291.8 L268.1 1291.3 L268.5 1291.2 L268.9 1291.6 L269.3 1292.3 L269.6 1293.2 L270.0 1294.2 L270.4 1295.1 L270.8 1296.0 L271.2 1296.7 L271.6 1297.3 L272.0 1297.8 L272.4 1298.1 L272.8 1298.3 L273.2 1298.5 L273.5 1298.6 L273.9 1298.7 L274.3 1298.8 L274.7 1298.9 L275.1 1298.9 L275.5 1298.9 L275.9 1299.0 L276.3 1299.0 L276.7 1299.0 L277.0 1299.0 L277.4 1299.0 L277.8 1299.1 L278.2 1299.1 L278.6 1299.1 L279.0 1299.1 L279.4 1299.1 L279.8 1299.1 L280.2 1299.1 L280.6 1299.1 L280.9 1299.1 L281.3 1299.1 L281.7 1299.1 L282.1 1299.1 L282.5 1299.1 L282.9 1299.1 L283.3 1299.1 L283.7 1299.2 L284.1 1299.2 L284.4 1299.2 L284.8 1299.2 L285.2 1299.2 L285.6 1299.2 L286.0 1299.2 L286.4 1299.2 L286.8 1299.2 L287.2 1299.2 L287.6 1299.2 L287.9 1299.2 L288.3 1299.2 L288.7 1299.2 L289.1 1299.2 L289.5 1299.2 L289.9 1299.2 L290.3 1299.2 L290.7 1299.2 L291.1 1299.2 L291.5 1299.2 L291.8 1299.2 L292.2 1299.2 L292.6 1299.2 L293.0 1299.2 L293.4 1299.2 L293.8 1299.2 L294.2 1299.2 L294.6 1299.2 L295.0 1299.2 L295.3 1299.2 L295.7 1299.2 L296.1 1299.2 L296.5 1299.1 L296.9 1299.1 L297.3 1299.1 L297.7 1299.1 L298.1 1299.1 L298.5 1299.1 L298.9 1299.1 L299.2 1299.1 L299.6 1299.1 L300.0 1299.1 L300.4 1299.1 L300.8 1299.1 L301.2 1299.1 L301.6 1299.1 L302.0 1299.1 L302.4 1299.1 L302.7 1299.1 L303.1 1299.1 L303.5 1299.1 L303.9 1299.1 L304.3 1299.1 L304.7 1299.1 L305.1 1299.0 L305.5 1299.0 L305.9 1299.0 L306.3 1299.0 L306.6 1299.0 L307.0 1299.0 L307.4 1299.0 L307.8 1299.0 L308.2 1299.0 L308.6 1298.9 L309.0 1298.9 L309.4 1298.9 L309.8 1298.9 L310.1 1298.9 L310.5 1298.8 L310.9 1298.8 L311.3 1298.8 L311.7 1298.7 L312.1 1298.7 L312.5 1298.7 L312.9 1298.6 L313.3 1298.6 L313.6 1298.5 L314.0 1298.5 L314.4 1298.4 L314.8 1298.3 L315.2 1298.3 L315.6 1298.2 L316.0 1298.0 L316.4 1297.9 L316.8 1297.8 L317.2 1297.6 L317.5 1297.3 L317.9 1297.0 L318.3 1296.6 L318.7 1296.0 L319.1 1295.2 L319.5 1294.0 L319.9 1292.5 L320.3 1290.4 L320.7 1287.7 L321.0 1284.3 L321.4 1280.4 L321.8 1276.0 L322.2 1271.5 L322.6 1267.3 L323.0 1264.0 L323.4 1262.4 L323.8 1262.7 L324.2 1265.0 L324.6 1268.7 L324.9 1273.0 L325.3 1277.5 L325.7 1281.8 L326.1 1285.5 L326.5 1288.6 L326.9 1291.1 L327.3 1293.0 L327.7 1294.5 L328.1 1295.5 L328.4 1296.2 L328.8 1296.7 L329.2 1297.1 L329.6 1297.4 L330.0 1297.6 L330.4 1297.8 L330.8 1297.9 L331.2 1298.1 L331.6 1298.2 L332.0 1298.3 L332.3 1298.3 L332.7 1298.4 L333.1 1298.5 L333.5 1298.5 L333.9 1298.6 L334.3 1298.6 L334.7 1298.7 L335.1 1298.7 L335.5 1298.7 L335.8 1298.8 L336.2 1298.8 L336.6 1298.8 L337.0 1298.8 L337.4 1298.8 L337.8 1298.9 L338.2 1298.9 L338.6 1298.9 L339.0 1298.9 L339.3 1298.9 L339.7 1298.9 L340.1 1298.9 L340.5 1298.9 L340.9 1298.9 L341.3 1298.9 L341.7 1298.9 L342.1 1298.9 L342.5 1298.9 L342.9 1298.9 L343.2 1298.9 L343.6 1298.8 L344.0 1298.8 L344.4 1298.7 L344.8 1298.6 L345.2 1298.5 L345.6 1298.3 L346.0 1298.1 L346.4 1297.8 L346.7 1297.4 L347.1 1297.0 L347.5 1296.5 L347.9 1296.1 L348.3 1295.6 L348.7 1295.3 L349.1 1295.2 L349.5 1295.2 L349.9 1295.5 L350.3 1295.9 L350.6 1296.4 L351.0 1296.9 L351.4 1297.3 L351.8 1297.7 L352.2 1298.1 L352.6 1298.3 L353.0 1298.5 L353.4 1298.7 L353.8 1298.8 L354.1 1298.9 L354.5 1298.9 L354.9 1299.0 L355.3 1299.0 L355.7 1299.0 L356.1 1299.0 L356.5 1299.0 L356.9 1299.1 L357.3 1299.1 L357.7 1299.1 L358.0 1299.1 L358.4 1299.1 L358.8 1299.1 L359.2 1299.1 L359.6 1299.1 L360.0 1299.1 L360.4 1299.1 L360.8 1299.1 L361.2 1299.1 L361.5 1299.1 L361.9 1299.1 L362.3 1299.1 L362.7 1299.1 L363.1 1299.1 L363.5 1299.1 L363.9 1299.1 L364.3 1299.1 L364.7 1299.1 L365.0 1299.1 L365.4 1299.1 L365.8 1299.1 L366.2 1299.1 L366.6 1299.1 L367.0 1299.0 L367.4 1299.0 L367.8 1299.0 L368.2 1298.9 L368.6 1298.9 L368.9 1298.8 L369.3 1298.7 L369.7 1298.5 L370.1 1298.3 L370.5 1298.1 L370.9 1297.8 L371.3 1297.5 L371.7 1297.2 L372.1 1296.9 L372.4 1296.7 L372.8 1296.7 L373.2 1296.7 L373.6 1296.9 L374.0 1297.2 L374.4 1297.5 L374.8 1297.8 L375.2 1298.1 L375.6 1298.3 L376.0 1298.5 L376.3 1298.6 L376.7 1298.8 L377.1 1298.8 L377.5 1298.9 L377.9 1298.9 L378.3 1299.0 L378.7 1299.0 L379.1 1299.0 L379.5 1299.0 L379.8 1299.0 L380.2 1299.0 L380.6 1299.0 L381.0 1299.0 L381.4 1299.0 L381.8 1299.0 L382.2 1299.0 L382.6 1299.0 L383.0 1299.0 L383.4 1299.0 L383.7 1298.9 L384.1 1298.9 L384.5 1298.9 L384.9 1298.9 L385.3 1298.9 L385.7 1298.8 L386.1 1298.8 L386.5 1298.8 L386.9 1298.7 L387.2 1298.7 L387.6 1298.7 L388.0 1298.6 L388.4 1298.5 L388.8 1298.4 L389.2 1298.3 L389.6 1298.2 L390.0 1298.0 L390.4 1297.7 L390.8 1297.3 L391.1 1296.8 L391.5 1296.1 L391.9 1295.1 L392.3 1293.8 L392.7 1292.3 L393.1 1290.4 L393.5 1288.3 L393.9 1286.1 L394.3 1284.0 L394.6 1282.3 L395.0 1281.4 L395.4 1281.4 L395.8 1282.3 L396.2 1284.0 L396.6 1286.1 L397.0 1288.3 L397.4 1290.4 L397.8 1292.3 L398.1 1293.8 L398.5 1295.1 L398.9 1296.1 L399.3 1296.8 L399.7 1297.3 L400.1 1297.7 L400.5 1298.0 L400.9 1298.2 L401.3 1298.3 L401.7 1298.4 L402.0 1298.5 L402.4 1298.6 L402.8 1298.6 L403.2 1298.7 L403.6 1298.7 L404.0 1298.8 L404.4 1298.8 L404.8 1298.8 L405.2 1298.8 L405.5 1298.9 L405.9 1298.9 L406.3 1298.9 L406.7 1298.9 L407.1 1298.9 L407.5 1298.9 L407.9 1298.9 L408.3 1298.9 L408.7 1298.9 L409.1 1298.9 L409.4 1298.9 L409.8 1298.9 L410.2 1298.9 L410.6 1298.9 L411.0 1298.9 L411.4 1298.8 L411.8 1298.8 L412.2 1298.7 L412.6 1298.6 L412.9 1298.5 L413.3 1298.3 L413.7 1298.1 L414.1 1297.8 L414.5 1297.3 L414.9 1296.8 L415.3 1296.2 L415.7 1295.6 L416.1 1294.9 L416.5 1294.3 L416.8 1293.8 L417.2 1293.6 L417.6 1293.7 L418.0 1294.1 L418.4 1294.7 L418.8 1295.4 L419.2 1296.0 L419.6 1296.7 L420.0 1297.2 L420.3 1297.7 L420.7 1298.0 L421.1 1298.3 L421.5 1298.5 L421.9 1298.7 L422.3 1298.8 L422.7 1298.9 L423.1 1298.9 L423.5 1299.0 L423.8 1299.0 L424.2 1299.0 L424.6 1299.0 L425.0 1299.0 L425.4 1299.1 L425.8 1299.1 L426.2 1299.1 L426.6 1299.1 L427.0 1299.1 L427.4 1299.1 L427.7 1299.1 L428.1 1299.1 L428.5 1299.1 L428.9 1299.1 L429.3 1299.1 L429.7 1299.1 L430.1 1299.1 L430.5 1299.1 L430.9 1299.1 L431.2 1299.1 L431.6 1299.1 L432.0 1299.1 L432.4 1299.1 L432.8 1299.1 L433.2 1299.1 L433.6 1299.1 L434.0 1299.1 L434.4 1299.0 L434.8 1298.9 L435.1 1298.9 L435.5 1298.8 L435.9 1298.6 L436.3 1298.5 L436.7 1298.3 L437.1 1298.1 L437.5 1297.9 L437.9 1297.8 L438.3 1297.7 L438.6 1297.8 L439.0 1297.8 L439.4 1298.0 L439.8 1298.2 L440.2 1298.4 L440.6 1298.5 L441.0 1298.7 L441.4 1298.8 L441.8 1298.9 L442.2 1299.0 L442.5 1299.0 L442.9 1299.1 L443.3 1299.1 L443.7 1299.1 L444.1 1299.2 L444.5 1299.2 L444.9 1299.2 L445.3 1299.2 L445.7 1299.2 L446.0 1299.2 L446.4 1299.2 L446.8 1299.2 L447.2 1299.2 L447.6 1299.2 L448.0 1299.2 L448.4 1299.2 L448.8 1299.2 L449.2 1299.2 L449.5 1299.2 L449.9 1299.2 L450.3 1299.2 L450.7 1299.2 L451.1 1299.2 L451.5 1299.2 L451.9 1299.2 L452.3 1299.1 L452.7 1299.1 L453.1 1299.1 L453.4 1299.1 L453.8 1299.0 L454.2 1299.0 L454.6 1298.9 L455.0 1298.8 L455.4 1298.6 L455.8 1298.4 L456.2 1298.2 L456.6 1298.0 L456.9 1297.7 L457.3 1297.5 L457.7 1297.3 L458.1 1297.3 L458.5 1297.3 L458.9 1297.4 L459.3 1297.7 L459.7 1297.9 L460.1 1298.1 L460.5 1298.4 L460.8 1298.6 L461.2 1298.7 L461.6 1298.8 L462.0 1298.9 L462.4 1299.0 L462.8 1299.1 L463.2 1299.1 L463.6 1299.1 L464.0 1299.2 L464.3 1299.2 L464.7 1299.2 L465.1 1299.2 L465.5 1299.2 L465.9 1299.2 L466.3 1299.2 L466.7 1299.2 L467.1 1299.2 L467.5 1299.2 L467.9 1299.2 L468.2 1299.2 L468.6 1299.2 L469.0 1299.2 L469.4 1299.2 L469.8 1299.2 L470.2 1299.2 L470.6 1299.2 L471.0 1299.3 L471.4 1299.3 L471.7 1299.3 L472.1 1299.3 L472.5 1299.3 L472.9 1299.3 L473.3 1299.3 L473.7 1299.3 L474.1 1299.3 L474.5 1299.3 L474.9 1299.3 L475.3 1299.3 L475.6 1299.3 L476.0 1299.3 L476.4 1299.3 L476.8 1299.3 L477.2 1299.3 L477.6 1299.3 L478.0 1299.3 L478.4 1299.3 L478.8 1299.3 L479.1 1299.3 L479.5 1299.3 L479.9 1299.3 L480.3 1299.3 L480.7 1299.3 L481.1 1299.3 L481.5 1299.3 L481.9 1299.3 L482.3 1299.3 L482.6 1299.3 L483.0 1299.3 L483.4 1299.3 L483.8 1299.3 L484.2 1299.3 L484.6 1299.3 L485.0 1299.3 L485.4 1299.3 L485.8 1299.3 L486.2 1299.3 L486.5 1299.2 L486.9 1299.2 L487.3 1299.2 L487.7 1299.2 L488.1 1299.2 L488.5 1299.2 L488.9 1299.2 L489.3 1299.2 L489.7 1299.2 L490.0 1299.2 L490.4 1299.2 L490.8 1299.2 L491.2 1299.2 L491.6 1299.1 L492.0 1299.1 L492.4 1299.0 L492.8 1299.0 L493.2 1298.9 L493.6 1298.7 L493.9 1298.6 L494.3 1298.4 L494.7 1298.2 L495.1 1298.0 L495.5 1297.9 L495.9 1297.8 L496.3 1297.8 L496.7 1297.9 L497.1 1298.0 L497.4 1298.2 L497.8 1298.3 L498.2 1298.5 L498.6 1298.7 L499.0 1298.8 L499.4 1298.9 L499.8 1299.0 L500.2 1299.1 L500.6 1299.1 L501.0 1299.2 L501.3 1299.2 L501.7 1299.2 L502.1 1299.2 L502.5 1299.2 L502.9 1299.2 L503.3 1299.2 L503.7 1299.2 L504.1 1299.2 L504.5 1299.2 L504.8 1299.3 L505.2 1299.3 L505.6 1299.3 L506.0 1299.3 L506.4 1299.3 L506.8 1299.3 L507.2 1299.3 L507.6 1299.3 L508.0 1299.3 L508.3 1299.3 L508.7 1299.3 L509.1 1299.3" stroke="#0000ff" stroke-width="3" fill="none" stroke-linejoin="round"/>
<path d="M73.0 1194.1 L73.4 1194.5 L73.8 1194.9 L74.2 1194.9 L74.6 1194.7 L74.9 1194.6 L75.3 1194.7 L75.7 1194.5 L76.1 1194.6 L76.5 1194.6 L76.9 1194.2 L77.3 1194.4 L77.7 1194.3 L78.1 1194.5 L78.5 1194.1 L78.8 1194.7 L79.2 1194.7 L79.6 1194.4 L80.0 1194.4 L80.4 1194.9 L80.8 1195.8 L81.2 1195.4 L81.6 1194.2 L82.0 1193.4 L82.3 1193.0 L82.7 1193.5 L83.1 1193.4 L83.5 1193.9 L83.9 1193.7 L84.3 1194.0 L84.7 1194.0 L85.1 1194.0 L85.5 1193.8 L85.9 1193.1 L86.2 1192.6 L86.6 1191.7 L87.0 1191.2 L87.4 1189.5 L87.8 1187.7 L88.2 1184.9 L88.6 1182.3 L89.0 1179.2 L89.4 1176.8 L89.7 1175.4 L90.1 1175.6 L90.5 1177.5 L90.9 1180.1 L91.3 1183.1 L91.7 1185.9 L92.1 1188.4 L92.5 1190.3 L92.9 1191.7 L93.2 1192.4 L93.6 1192.8 L94.0 1193.0 L94.4 1192.7 L94.8 1192.9 L95.2 1193.1 L95.6 1193.9 L96.0 1194.3 L96.4 1194.5 L96.8 1194.2 L97.1 1194.3 L97.5 1194.3 L97.9 1194.7 L98.3 1194.3 L98.7 1194.7 L99.1 1194.7 L99.5 1195.0 L99.9 1194.5 L100.3 1194.3 L100.6 1194.4 L101.0 1194.2 L101.4 1194.3 L101.8 1193.6 L102.2 1194.3 L102.6 1194.2 L103.0 1195.1 L103.4 1195.0 L103.8 1194.6 L104.2 1193.9 L104.5 1194.2 L104.9 1194.8 L105.3 1195.2 L105.7 1195.3 L106.1 1195.3 L106.5 1195.2 L106.9 1194.6 L107.3 1195.1 L107.7 1194.9 L108.0 1194.9 L108.4 1194.4 L108.8 1194.9 L109.2 1194.8 L109.6 1194.5 L110.0 1194.5 L110.4 1194.6 L110.8 1194.6 L111.2 1195.0 L111.6 1195.0 L111.9 1195.7 L112.3 1195.4 L112.7 1195.3 L113.1 1194.8 L113.5 1194.5 L113.9 1194.5 L114.3 1194.0 L114.7 1193.3 L115.1 1192.7 L115.4 1191.8 L115.8 1190.8 L116.2 1188.2 L116.6 1186.5 L117.0 1184.5 L117.4 1183.7 L117.8 1183.1 L118.2 1183.6 L118.6 1185.1 L118.9 1187.4 L119.3 1189.7 L119.7 1192.0 L120.1 1192.7 L120.5 1193.0 L120.9 1193.1 L121.3 1193.9 L121.7 1194.7 L122.1 1195.3 L122.5 1195.1 L122.8 1195.4 L123.2 1195.6 L123.6 1196.5 L124.0 1197.0 L124.4 1197.0 L124.8 1197.1 L125.2 1197.1 L125.6 1196.9 L126.0 1196.7 L126.3 1196.2 L126.7 1196.2 L127.1 1196.4 L127.5 1197.4 L127.9 1197.9 L128.3 1198.0 L128.7 1197.6 L129.1 1197.2 L129.5 1197.5 L129.9 1197.7 L130.2 1198.1 L130.6 1197.6 L131.0 1197.4 L131.4 1197.5 L131.8 1197.5 L132.2 1197.5 L132.6 1197.7 L133.0 1198.1 L133.4 1198.5 L133.7 1198.3 L134.1 1198.1 L134.5 1198.8 L134.9 1198.6 L135.3 1198.9 L135.7 1198.0 L136.1 1198.2 L136.5 1198.8 L136.9 1199.2 L137.3 1199.5 L137.6 1199.1 L138.0 1198.7 L138.4 1198.7 L138.8 1199.0 L139.2 1198.8 L139.6 1198.4 L140.0 1197.8 L140.4 1198.1 L140.8 1198.4 L141.1 1198.4 L141.5 1198.0 L141.9 1197.6 L142.3 1197.8 L142.7 1198.2 L143.1 1198.6 L143.5 1198.3 L143.9 1197.7 L144.3 1196.8 L144.6 1196.9 L145.0 1196.9 L145.4 1197.5 L145.8 1197.5 L146.2 1197.3 L146.6 1197.0 L147.0 1196.9 L147.4 1197.3 L147.8 1197.3 L148.2 1197.2 L148.5 1196.4 L148.9 1196.0 L149.3 1196.0 L149.7 1195.8 L150.1 1196.0 L150.5 1195.4 L150.9 1195.1 L151.3 1194.7 L151.7 1194.1 L152.0 1193.9 L152.4 1193.2 L152.8 1191.8 L153.2 1190.3 L153.6 1188.9 L154.0 1188.8 L154.4 1188.7 L154.8 1188.4 L155.2 1188.4 L155.6 1188.9 L155.9 1189.9 L156.3 1190.2 L156.7 1190.5 L157.1 1189.8 L157.5 1189.3 L157.9 1188.0 L158.3 1187.8 L158.7 1186.8 L159.1 1186.0 L159.4 1185.0 L159.8 1183.6 L160.2 1181.8 L160.6 1178.7 L161.0 1174.3 L161.4 1166.3 L161.8 1151.4 L162.2 1126.0 L162.6 1086.0 L163.0 1033.1 L163.3 977.2 L163.7 941.8 L164.1 949.7 L164.5 995.4 L164.9 1052.3 L165.3 1101.9 L165.7 1136.7 L166.1 1158.6 L166.5 1170.4 L166.8 1177.7 L167.2 1181.4 L167.6 1184.3 L168.0 1185.8 L168.4 1186.6 L168.8 1187.9 L169.2 1188.3 L169.6 1188.9 L170.0 1189.1 L170.3 1190.2 L170.7 1191.2 L171.1 1191.4 L171.5 1191.7 L171.9 1191.3 L172.3 1191.9 L172.7 1192.0 L173.1 1192.6 L173.5 1192.8 L173.9 1192.5 L174.2 1192.5 L174.6 1192.2 L175.0 1193.1 L175.4 1193.4 L175.8 1193.6 L176.2 1193.5 L176.6 1193.2 L177.0 1193.1 L177.4 1193.1 L177.7 1193.2 L178.1 1193.3 L178.5 1193.1 L178.9 1193.4 L179.3 1193.5 L179.7 1193.3 L180.1 1192.6 L180.5 1192.4 L180.9 1191.9 L181.3 1191.8 L181.6 1191.4 L182.0 1190.8 L182.4 1189.4 L182.8 1187.1 L183.2 1183.8 L183.6 1180.3 L184.0 1175.4 L184.4 1170.6 L184.8 1164.9 L185.1 1161.2 L185.5 1159.2 L185.9 1160.4 L186.3 1163.2 L186.7 1167.8 L187.1 1172.2 L187.5 1176.2 L187.9 1178.9 L188.3 1180.6 L188.7 1180.9 L189.0 1180.3 L189.4 1179.5 L189.8 1179.4 L190.2 1180.6 L190.6 1182.7 L191.0 1185.1 L191.4 1187.0 L191.8 1188.1 L192.2 1189.3 L192.5 1190.3 L192.9 1191.9 L193.3 1191.8 L193.7 1192.5 L194.1 1191.8 L194.5 1192.8 L194.9 1192.3 L195.3 1192.7 L195.7 1192.5 L196.1 1192.8 L196.4 1193.3 L196.8 1193.2 L197.2 1192.8 L197.6 1192.4 L198.0 1192.5 L198.4 1192.3 L198.8 1192.5 L199.2 1192.0 L199.6 1192.1 L199.9 1191.4 L200.3 1190.3 L200.7 1188.8 L201.1 1186.9 L201.5 1184.2 L201.9 1179.5 L202.3 1173.4 L202.7 1165.8 L203.1 1158.0 L203.4 1150.6 L203.8 1145.8 L204.2 1144.8 L204.6 1149.0 L205.0 1155.6 L205.4 1163.7 L205.8 1170.7 L206.2 1177.1 L206.6 1182.1 L207.0 1185.7 L207.3 1188.0 L207.7 1189.6 L208.1 1190.2 L208.5 1191.3 L208.9 1192.2 L209.3 1192.8 L209.7 1193.1 L210.1 1193.2 L210.5 1193.8 L210.8 1193.7 L211.2 1193.2 L211.6 1192.4 L212.0 1192.5 L212.4 1192.9 L212.8 1193.3 L213.2 1193.5 L213.6 1193.3 L214.0 1193.5 L214.4 1193.8 L214.7 1194.1 L215.1 1193.8 L215.5 1193.5 L215.9 1193.4 L216.3 1192.8 L216.7 1192.4 L217.1 1192.6 L217.5 1192.9 L217.9 1193.4 L218.2 1192.5 L218.6 1191.9 L219.0 1190.4 L219.4 1189.3 L219.8 1187.5 L220.2 1184.4 L220.6 1180.5 L221.0 1175.5 L221.4 1171.0 L221.8 1166.9 L222.1 1164.7 L222.5 1165.0 L222.9 1167.9 L223.3 1172.5 L223.7 1177.1 L224.1 1181.5 L224.5 1185.1 L224.9 1187.9 L225.3 1189.7 L225.6 1191.0 L226.0 1191.7 L226.4 1192.1 L226.8 1192.9 L227.2 1193.6 L227.6 1194.1 L228.0 1194.0 L228.4 1193.6 L228.8 1194.0 L229.1 1194.0 L229.5 1194.1 L229.9 1194.2 L230.3 1194.2 L230.7 1194.0 L231.1 1193.6 L231.5 1194.0 L231.9 1194.5 L232.3 1194.6 L232.7 1194.5 L233.0 1195.2 L233.4 1194.8 L233.8 1194.8 L234.2 1194.0 L234.6 1194.1 L235.0 1193.8 L235.4 1193.8 L235.8 1193.9 L236.2 1193.6 L236.5 1193.0 L236.9 1192.6 L237.3 1192.1 L237.7 1191.6 L238.1 1191.3 L238.5 1191.7 L238.9 1191.9 L239.3 1192.0 L239.7 1192.3 L240.1 1193.0 L240.4 1193.4 L240.8 1193.6 L241.2 1193.4 L241.6 1193.6 L242.0 1193.1 L242.4 1193.4 L242.8 1193.8 L243.2 1194.5 L243.6 1194.7 L243.9 1194.9 L244.3 1194.7 L244.7 1194.7 L245.1 1194.2 L245.5 1194.6 L245.9 1194.9 L246.3 1194.9 L246.7 1195.0 L247.1 1194.7 L247.5 1194.9 L247.8 1195.0 L248.2 1195.0 L248.6 1194.7 L249.0 1194.1 L249.4 1194.1 L249.8 1193.7 L250.2 1194.0 L250.6 1193.7 L251.0 1194.2 L251.3 1194.2 L251.7 1194.4 L252.1 1194.0 L252.5 1193.1 L252.9 1192.6 L253.3 1192.1 L253.7 1191.2 L254.1 1189.7 L254.5 1188.3 L254.8 1186.8 L255.2 1185.3 L255.6 1184.4 L256.0 1184.4 L256.4 1185.3 L256.8 1186.9 L257.2 1188.6 L257.6 1191.0 L258.0 1191.9 L258.4 1193.2 L258.7 1193.0 L259.1 1193.7 L259.5 1193.5 L259.9 1194.1 L260.3 1194.1 L260.7 1194.7 L261.1 1194.5 L261.5 1194.8 L261.9 1194.4 L262.2 1194.7 L262.6 1193.7 L263.0 1194.0 L263.4 1194.0 L263.8 1194.5 L264.2 1194.7 L264.6 1194.3 L265.0 1194.5 L265.4 1194.2 L265.8 1194.3 L266.1 1194.0 L266.5 1194.3 L266.9 1194.4 L267.3 1194.1 L267.7 1193.4 L268.1 1192.8 L268.5 1193.1 L268.9 1192.7 L269.3 1192.5 L269.6 1191.8 L270.0 1191.2 L270.4 1190.6 L270.8 1190.3 L271.2 1190.7 L271.6 1191.2 L272.0 1192.0 L272.4 1192.6 L272.8 1193.0 L273.2 1193.3 L273.5 1193.9 L273.9 1194.2 L274.3 1194.4 L274.7 1194.2 L275.1 1194.1 L275.5 1193.9 L275.9 1194.2 L276.3 1194.5 L276.7 1194.7 L277.0 1194.7 L277.4 1194.9 L277.8 1194.9 L278.2 1195.0 L278.6 1194.9 L279.0 1195.1 L279.4 1194.9 L279.8 1194.8 L280.2 1194.6 L280.6 1194.3 L280.9 1193.7 L281.3 1193.6 L281.7 1193.0 L282.1 1192.8 L282.5 1191.8 L282.9 1191.3 L283.3 1190.2 L283.7 1188.4 L284.1 1185.7 L284.4 1182.6 L284.8 1178.7 L285.2 1174.4 L285.6 1170.4 L286.0 1168.1 L286.4 1168.6 L286.8 1171.1 L287.2 1175.0 L287.6 1179.0 L287.9 1182.8 L288.3 1186.1 L288.7 1188.4 L289.1 1190.3 L289.5 1191.6 L289.9 1192.3 L290.3 1192.9 L290.7 1193.3 L291.1 1193.6 L291.5 1194.0 L291.8 1194.5 L292.2 1194.6 L292.6 1194.7 L293.0 1193.8 L293.4 1193.7 L293.8 1193.1 L294.2 1193.3 L294.6 1193.6 L295.0 1193.9 L295.3 1194.0 L295.7 1194.3 L296.1 1194.2 L296.5 1194.6 L296.9 1194.6 L297.3 1194.6 L297.7 1194.5 L298.1 1194.4 L298.5 1194.3 L298.9 1194.6 L299.2 1194.6 L299.6 1194.6 L300.0 1193.4 L300.4 1193.2 L300.8 1193.2 L301.2 1194.2 L301.6 1193.6 L302.0 1194.0 L302.4 1194.5 L302.7 1195.0 L303.1 1194.8 L303.5 1194.2 L303.9 1194.1 L304.3 1193.8 L304.7 1193.9 L305.1 1193.8 L305.5 1194.4 L305.9 1193.6 L306.3 1193.5 L306.6 1193.3 L307.0 1193.5 L307.4 1193.7 L307.8 1193.3 L308.2 1193.2 L308.6 1192.6 L309.0 1191.9 L309.4 1191.6 L309.8 1191.4 L310.1 1191.6 L310.5 1191.2 L310.9 1190.3 L311.3 1188.7 L311.7 1186.2 L312.1 1183.1 L312.5 1179.2 L312.9 1173.7 L313.3 1167.6 L313.6 1161.3 L314.0 1157.4 L314.4 1155.4 L314.8 1157.9 L315.2 1162.1 L315.6 1168.3 L316.0 1173.7 L316.4 1179.1 L316.8 1183.0 L317.2 1185.9 L317.5 1187.8 L317.9 1188.8 L318.3 1189.5 L318.7 1189.9 L319.1 1190.7 L319.5 1191.7 L319.9 1191.9 L320.3 1191.9 L320.7 1191.5 L321.0 1191.1 L321.4 1190.2 L321.8 1189.3 L322.2 1188.7 L322.6 1188.5 L323.0 1186.8 L323.4 1184.4 L323.8 1179.8 L324.2 1174.4 L324.6 1166.0 L324.9 1155.8 L325.3 1143.1 L325.7 1129.6 L326.1 1116.6 L326.5 1108.0 L326.9 1107.1 L327.3 1114.3 L327.7 1126.4 L328.1 1140.1 L328.4 1152.8 L328.8 1164.0 L329.2 1172.5 L329.6 1179.0 L330.0 1183.2 L330.4 1186.1 L330.8 1187.6 L331.2 1189.2 L331.6 1190.6 L332.0 1191.7 L332.3 1191.7 L332.7 1191.7 L333.1 1192.0 L333.5 1192.7 L333.9 1193.0 L334.3 1193.1 L334.7 1193.3 L335.1 1193.2 L335.5 1193.2 L335.8 1192.8 L336.2 1192.7 L336.6 1192.7 L337.0 1192.1 L337.4 1191.6 L337.8 1191.0 L338.2 1190.4 L338.6 1189.4 L339.0 1187.0 L339.3 1184.8 L339.7 1182.6 L340.1 1180.7 L340.5 1179.2 L340.9 1179.0 L341.3 1180.6 L341.7 1183.1 L342.1 1185.4 L342.5 1187.8 L342.9 1189.1 L343.2 1190.6 L343.6 1190.7 L344.0 1192.1 L344.4 1192.6 L344.8 1193.5 L345.2 1193.4 L345.6 1193.2 L346.0 1193.1 L346.4 1193.2 L346.7 1193.2 L347.1 1193.1 L347.5 1193.5 L347.9 1194.2 L348.3 1194.9 L348.7 1195.2 L349.1 1195.0 L349.5 1195.0 L349.9 1194.6 L350.3 1194.1 L350.6 1193.9 L351.0 1194.3 L351.4 1194.5 L351.8 1194.5 L352.2 1194.2 L352.6 1194.5 L353.0 1194.8 L353.4 1194.6 L353.8 1194.3 L354.1 1194.3 L354.5 1194.1 L354.9 1194.1 L355.3 1194.0 L355.7 1193.8 L356.1 1194.3 L356.5 1194.0 L356.9 1194.3 L357.3 1193.9 L357.7 1193.9 L358.0 1193.7 L358.4 1194.2 L358.8 1194.5 L359.2 1194.8 L359.6 1194.2 L360.0 1193.5 L360.4 1192.7 L360.8 1192.1 L361.2 1191.8 L361.5 1191.7 L361.9 1190.4 L362.3 1188.8 L362.7 1186.5 L363.1 1183.8 L363.5 1179.5 L363.9 1174.3 L364.3 1169.9 L364.7 1166.2 L365.0 1165.0 L365.4 1165.9 L365.8 1170.3 L366.2 1174.4 L366.6 1179.1 L367.0 1183.0 L367.4 1186.9 L367.8 1189.2 L368.2 1190.9 L368.6 1191.8 L368.9 1192.5 L369.3 1193.1 L369.7 1193.8 L370.1 1194.3 L370.5 1194.2 L370.9 1194.3 L371.3 1194.0 L371.7 1193.9 L372.1 1193.9 L372.4 1194.2 L372.8 1194.0 L373.2 1194.1 L373.6 1193.4 L374.0 1193.8 L374.4 1193.7 L374.8 1193.9 L375.2 1194.0 L375.6 1194.2 L376.0 1194.7 L376.3 1194.3 L376.7 1193.9 L377.1 1193.2 L377.5 1192.4 L377.9 1192.0 L378.3 1191.5 L378.7 1190.9 L379.1 1190.5 L379.5 1190.1 L379.8 1190.4 L380.2 1190.3 L380.6 1190.8 L381.0 1191.2 L381.4 1191.9 L381.8 1192.0 L382.2 1193.0 L382.6 1193.2 L383.0 1193.9 L383.4 1194.3 L383.7 1194.2 L384.1 1194.3 L384.5 1193.9 L384.9 1193.8 L385.3 1193.8 L385.7 1193.6 L386.1 1194.2 L386.5 1194.3 L386.9 1194.2 L387.2 1193.9 L387.6 1194.1 L388.0 1194.7 L388.4 1194.9 L388.8 1194.9 L389.2 1194.4 L389.6 1194.9 L390.0 1194.7 L390.4 1195.2 L390.8 1194.7 L391.1 1194.6 L391.5 1194.5 L391.9 1193.9 L392.3 1193.9 L392.7 1193.6 L393.1 1193.3 L393.5 1192.9 L393.9 1192.5 L394.3 1192.5 L394.6 1192.6 L395.0 1192.2 L395.4 1191.1 L395.8 1190.2 L396.2 1189.5 L396.6 1189.0 L397.0 1187.0 L397.4 1183.2 L397.8 1177.7 L398.1 1169.9 L398.5 1161.0 L398.9 1150.7 L399.3 1141.0 L399.7 1133.0 L400.1 1130.3 L400.5 1133.1 L400.9 1141.0 L401.3 1151.1 L401.7 1161.6 L402.0 1170.4 L402.4 1177.2 L402.8 1182.7 L403.2 1186.4 L403.6 1188.7 L404.0 1189.6 L404.4 1190.3 L404.8 1191.1 L405.2 1192.1 L405.5 1192.7 L405.9 1192.8 L406.3 1192.5 L406.7 1192.7 L407.1 1192.8 L407.5 1193.3 L407.9 1193.6 L408.3 1193.8 L408.7 1193.9 L409.1 1193.9 L409.4 1193.9 L409.8 1193.9 L410.2 1194.3 L410.6 1194.4 L411.0 1194.7 L411.4 1194.7 L411.8 1194.3 L412.2 1194.3 L412.6 1193.9 L412.9 1194.8 L413.3 1194.6 L413.7 1194.4 L414.1 1193.8 L414.5 1194.0 L414.9 1194.0 L415.3 1194.3 L415.7 1194.4 L416.1 1194.9 L416.5 1195.4 L416.8 1195.0 L417.2 1194.4 L417.6 1193.4 L418.0 1193.6 L418.4 1193.8 L418.8 1194.4 L419.2 1194.1 L419.6 1193.8 L420.0 1193.7 L420.3 1193.3 L420.7 1192.6 L421.1 1191.2 L421.5 1190.4 L421.9 1189.8 L422.3 1188.6 L422.7 1187.5 L423.1 1186.7 L423.5 1186.9 L423.8 1187.8 L424.2 1188.9 L424.6 1190.2 L425.0 1191.4 L425.4 1192.6 L425.8 1193.6 L426.2 1193.8 L426.6 1193.9 L427.0 1193.6 L427.4 1193.7 L427.7 1193.8 L428.1 1193.4 L428.5 1193.6 L428.9 1193.5 L429.3 1193.9 L429.7 1193.6 L430.1 1193.5 L430.5 1192.6 L430.9 1191.9 L431.2 1190.6 L431.6 1189.5 L432.0 1188.6 L432.4 1188.5 L432.8 1188.8 L433.2 1189.2 L433.6 1189.8 L434.0 1191.2 L434.4 1191.8 L434.8 1192.9 L435.1 1193.5 L435.5 1194.1 L435.9 1194.3 L436.3 1194.0 L436.7 1194.3 L437.1 1193.8 L437.5 1193.8 L437.9 1193.8 L438.3 1194.4 L438.6 1194.6 L439.0 1194.6 L439.4 1194.3 L439.8 1193.7 L440.2 1194.2 L440.6 1194.3 L441.0 1194.5 L441.4 1194.7 L441.8 1195.2 L442.2 1195.3 L442.5 1194.7 L442.9 1194.6 L443.3 1194.5 L443.7 1194.8 L444.1 1195.0 L444.5 1195.2 L444.9 1194.9 L445.3 1194.3 L445.7 1194.3 L446.0 1194.1 L446.4 1194.6 L446.8 1194.4 L447.2 1194.9 L447.6 1194.4 L448.0 1194.6 L448.4 1194.3 L448.8 1194.7 L449.2 1194.6 L449.5 1194.6 L449.9 1194.8 L450.3 1194.8 L450.7 1194.6 L451.1 1193.8 L451.5 1193.0 L451.9 1192.5 L452.3 1192.0 L452.7 1191.7 L453.1 1191.6 L453.4 1192.5 L453.8 1193.0 L454.2 1193.0 L454.6 1193.0 L455.0 1193.2 L455.4 1194.1 L455.8 1194.3 L456.2 1194.1 L456.6 1194.1 L456.9 1194.2 L457.3 1194.5 L457.7 1194.4 L458.1 1194.1 L458.5 1194.9 L458.9 1195.1 L459.3 1195.2 L459.7 1194.8 L460.1 1195.0 L460.5 1195.1 L460.8 1194.7 L461.2 1194.5 L461.6 1194.2 L462.0 1194.2 L462.4 1194.2 L462.8 1194.4 L463.2 1194.5 L463.6 1194.1 L464.0 1193.9 L464.3 1194.5 L464.7 1194.7 L465.1 1194.8 L465.5 1194.4 L465.9 1194.1 L466.3 1194.4 L466.7 1194.0 L467.1 1194.9 L467.5 1195.0 L467.9 1195.5 L468.2 1195.1 L468.6 1194.7 L469.0 1194.5 L469.4 1194.7 L469.8 1194.9 L470.2 1195.0 L470.6 1195.1 L471.0 1195.1 L471.4 1195.1 L471.7 1194.7 L472.1 1194.7 L472.5 1194.4 L472.9 1194.6 L473.3 1194.5 L473.7 1195.2 L474.1 1195.5 L474.5 1195.6 L474.9 1195.5 L475.3 1195.4 L475.6 1195.5 L476.0 1196.0 L476.4 1195.6 L476.8 1195.1 L477.2 1194.1 L477.6 1194.3 L478.0 1194.6 L478.4 1195.3 L478.8 1195.4 L479.1 1195.8 L479.5 1195.4 L479.9 1195.7 L480.3 1195.3 L480.7 1194.4 L481.1 1194.1 L481.5 1193.8 L481.9 1194.4 L482.3 1193.8 L482.6 1193.8 L483.0 1194.5 L483.4 1194.6 L483.8 1194.7 L484.2 1194.5 L484.6 1194.7 L485.0 1195.2 L485.4 1194.9 L485.8 1194.7 L486.2 1194.2 L486.5 1194.6 L486.9 1194.9 L487.3 1194.9 L487.7 1194.3 L488.1 1194.2 L488.5 1194.3 L488.9 1194.6 L489.3 1194.4 L489.7 1193.7 L490.0 1193.1 L490.4 1193.0 L490.8 1192.6 L491.2 1192.2 L491.6 1191.0 L492.0 1190.8 L492.4 1190.1 L492.8 1190.6 L493.2 1190.9 L493.6 1191.4 L493.9 1192.3 L494.3 1192.8 L494.7 1193.8 L495.1 1193.8 L495.5 1194.1 L495.9 1193.5 L496.3 1193.6 L496.7 1194.0 L497.1 1194.7 L497.4 1194.7 L497.8 1194.4 L498.2 1194.1 L498.6 1193.9 L499.0 1193.5 L499.4 1193.9 L499.8 1194.2 L500.2 1194.2 L500.6 1194.0 L501.0 1193.1 L501.3 1192.6 L501.7 1191.4 L502.1 1190.7 L502.5 1190.1 L502.9 1189.4 L503.3 1189.5 L503.7 1190.2 L504.1 1191.3 L504.5 1192.5 L504.8 1192.6 L505.2 1193.0 L505.6 1192.9 L506.0 1193.6 L506.4 1194.1 L506.8 1194.5 L507.2 1194.4 L507.6 1194.5 L508.0 1194.4 L508.3 1194.6 L508.7 1195.1 L509.1 1195.3" stroke="#dd4a5c" stroke-width="3" fill="none" stroke-linejoin="round"/>
<path d="M73.0 1128.2 L73.4 1128.3 L73.8 1129.5 L74.2 1129.4 L74.6 1129.4 L74.9 1128.8 L75.3 1128.7 L75.7 1128.5 L76.1 1128.7 L76.5 1129.0 L76.9 1129.2 L77.3 1128.7 L77.7 1128.4 L78.1 1128.6 L78.5 1129.0 L78.8 1129.0 L79.2 1128.2 L79.6 1127.9 L80.0 1128.3 L80.4 1128.4 L80.8 1128.5 L81.2 1128.1 L81.6 1128.0 L82.0 1127.7 L82.3 1127.9 L82.7 1128.1 L83.1 1128.4 L83.5 1128.4 L83.9 1128.8 L84.3 1128.6 L84.7 1128.7 L85.1 1128.6 L85.5 1128.6 L85.9 1128.4 L86.2 1128.3 L86.6 1128.1 L87.0 1127.7 L87.4 1128.0 L87.8 1127.7 L88.2 1128.0 L88.6 1127.8 L89.0 1128.0 L89.4 1127.7 L89.7 1126.7 L90.1 1126.4 L90.5 1125.4 L90.9 1124.4 L91.3 1122.7 L91.7 1120.8 L92.1 1117.8 L92.5 1114.2 L92.9 1110.9 L93.2 1109.2 L93.6 1109.3 L94.0 1111.2 L94.4 1113.7 L94.8 1117.1 L95.2 1120.0 L95.6 1122.6 L96.0 1124.6 L96.4 1125.5 L96.8 1126.7 L97.1 1126.9 L97.5 1127.0 L97.9 1127.3 L98.3 1127.6 L98.7 1127.8 L99.1 1128.0 L99.5 1128.1 L99.9 1128.4 L100.3 1128.1 L100.6 1127.8 L101.0 1127.9 L101.4 1127.7 L101.8 1127.6 L102.2 1127.6 L102.6 1128.2 L103.0 1128.7 L103.4 1129.4 L103.8 1129.0 L104.2 1129.3 L104.5 1128.6 L104.9 1128.3 L105.3 1128.1 L105.7 1128.6 L106.1 1129.2 L106.5 1128.7 L106.9 1128.8 L107.3 1128.7 L107.7 1129.1 L108.0 1129.0 L108.4 1128.6 L108.8 1128.8 L109.2 1128.7 L109.6 1129.0 L110.0 1128.5 L110.4 1128.9 L110.8 1128.7 L111.2 1128.9 L111.6 1128.3 L111.9 1128.6 L112.3 1129.2 L112.7 1129.6 L113.1 1129.5 L113.5 1129.0 L113.9 1128.9 L114.3 1128.7 L114.7 1128.1 L115.1 1128.1 L115.4 1128.1 L115.8 1129.3 L116.2 1129.8 L116.6 1130.1 L117.0 1129.5 L117.4 1128.7 L117.8 1128.7 L118.2 1128.3 L118.6 1127.8 L118.9 1127.1 L119.3 1126.4 L119.7 1125.1 L120.1 1123.5 L120.5 1121.0 L120.9 1120.0 L121.3 1119.5 L121.7 1120.5 L122.1 1121.5 L122.5 1122.8 L122.8 1124.4 L123.2 1126.2 L123.6 1127.9 L124.0 1128.8 L124.4 1129.7 L124.8 1130.4 L125.2 1130.6 L125.6 1130.3 L126.0 1130.5 L126.3 1131.2 L126.7 1131.6 L127.1 1132.2 L127.5 1131.9 L127.9 1131.9 L128.3 1131.6 L128.7 1132.3 L129.1 1132.7 L129.5 1132.7 L129.9 1132.4 L130.2 1132.4 L130.6 1132.5 L131.0 1132.4 L131.4 1132.5 L131.8 1132.9 L132.2 1133.4 L132.6 1133.6 L133.0 1133.3 L133.4 1133.0 L133.7 1132.7 L134.1 1133.2 L134.5 1133.7 L134.9 1133.8 L135.3 1133.7 L135.7 1133.4 L136.1 1133.6 L136.5 1133.3 L136.9 1132.9 L137.3 1132.3 L137.6 1132.0 L138.0 1132.5 L138.4 1132.6 L138.8 1133.1 L139.2 1132.9 L139.6 1133.2 L140.0 1133.2 L140.4 1133.6 L140.8 1133.3 L141.1 1133.0 L141.5 1132.8 L141.9 1133.2 L142.3 1133.2 L142.7 1133.5 L143.1 1132.8 L143.5 1132.8 L143.9 1132.3 L144.3 1132.6 L144.6 1132.9 L145.0 1133.2 L145.4 1133.1 L145.8 1132.2 L146.2 1132.0 L146.6 1132.1 L147.0 1132.4 L147.4 1132.5 L147.8 1132.6 L148.2 1132.6 L148.5 1132.0 L148.9 1131.6 L149.3 1130.9 L149.7 1130.8 L150.1 1130.4 L150.5 1130.3 L150.9 1129.6 L151.3 1130.0 L151.7 1130.3 L152.0 1130.3 L152.4 1130.0 L152.8 1129.9 L153.2 1130.4 L153.6 1130.1 L154.0 1129.9 L154.4 1129.2 L154.8 1128.2 L155.2 1127.2 L155.6 1126.9 L155.9 1127.5 L156.3 1127.5 L156.7 1127.2 L157.1 1126.2 L157.5 1125.8 L157.9 1125.8 L158.3 1125.4 L158.7 1125.4 L159.1 1124.7 L159.4 1124.3 L159.8 1123.2 L160.2 1122.1 L160.6 1122.3 L161.0 1121.8 L161.4 1121.4 L161.8 1120.3 L162.2 1119.6 L162.6 1119.3 L163.0 1118.2 L163.3 1117.2 L163.7 1116.0 L164.1 1114.9 L164.5 1113.2 L164.9 1110.7 L165.3 1106.7 L165.7 1101.2 L166.1 1091.1 L166.5 1073.2 L166.8 1040.7 L167.2 987.0 L167.6 909.2 L168.0 815.6 L168.4 733.9 L168.8 707.8 L169.2 757.2 L169.6 847.7 L170.0 938.6 L170.3 1009.3 L170.7 1056.0 L171.1 1082.7 L171.5 1096.9 L171.9 1105.1 L172.3 1110.4 L172.7 1114.1 L173.1 1116.4 L173.5 1117.8 L173.9 1118.9 L174.2 1119.7 L174.6 1120.6 L175.0 1121.7 L175.4 1122.7 L175.8 1123.7 L176.2 1123.8 L176.6 1124.2 L177.0 1124.3 L177.4 1124.6 L177.7 1124.5 L178.1 1124.8 L178.5 1125.5 L178.9 1126.3 L179.3 1126.3 L179.7 1126.1 L180.1 1126.0 L180.5 1126.5 L180.9 1126.8 L181.3 1127.1 L181.6 1126.9 L182.0 1127.0 L182.4 1126.6 L182.8 1126.4 L183.2 1126.2 L183.6 1125.9 L184.0 1125.9 L184.4 1125.7 L184.8 1125.6 L185.1 1124.9 L185.5 1124.4 L185.9 1123.3 L186.3 1122.8 L186.7 1120.7 L187.1 1118.4 L187.5 1114.7 L187.9 1110.9 L188.3 1105.1 L188.7 1099.7 L189.0 1094.8 L189.4 1093.0 L189.8 1093.7 L190.2 1097.1 L190.6 1102.4 L191.0 1108.1 L191.4 1112.6 L191.8 1116.4 L192.2 1118.2 L192.5 1119.5 L192.9 1119.1 L193.3 1118.6 L193.7 1117.9 L194.1 1117.2 L194.5 1117.0 L194.9 1117.4 L195.3 1118.6 L195.7 1119.9 L196.1 1121.3 L196.4 1122.7 L196.8 1123.3 L197.2 1123.9 L197.6 1125.0 L198.0 1125.9 L198.4 1126.8 L198.8 1126.4 L199.2 1126.4 L199.6 1126.0 L199.9 1126.0 L200.3 1125.8 L200.7 1126.1 L201.1 1126.8 L201.5 1127.2 L201.9 1127.2 L202.3 1126.4 L202.7 1126.1 L203.1 1125.2 L203.4 1124.7 L203.8 1123.6 L204.2 1123.5 L204.6 1122.2 L205.0 1121.6 L205.4 1119.4 L205.8 1116.9 L206.2 1110.9 L206.6 1101.2 L207.0 1086.9 L207.3 1067.5 L207.7 1044.2 L208.1 1021.1 L208.5 1007.6 L208.9 1010.3 L209.3 1028.0 L209.7 1051.1 L210.1 1074.0 L210.5 1092.4 L210.8 1105.5 L211.2 1113.2 L211.6 1118.0 L212.0 1120.7 L212.4 1122.6 L212.8 1123.0 L213.2 1123.5 L213.6 1124.6 L214.0 1124.8 L214.4 1125.4 L214.7 1125.4 L215.1 1126.2 L215.5 1126.4 L215.9 1126.8 L216.3 1127.1 L216.7 1126.8 L217.1 1127.0 L217.5 1127.6 L217.9 1127.9 L218.2 1127.5 L218.6 1126.7 L219.0 1126.4 L219.4 1126.7 L219.8 1126.9 L220.2 1127.2 L220.6 1126.6 L221.0 1126.4 L221.4 1126.7 L221.8 1127.3 L222.1 1127.5 L222.5 1127.5 L222.9 1126.6 L223.3 1126.2 L223.7 1125.1 L224.1 1124.6 L224.5 1122.5 L224.9 1120.0 L225.3 1116.8 L225.6 1113.2 L226.0 1109.1 L226.4 1104.8 L226.8 1101.6 L227.2 1100.9 L227.6 1102.5 L228.0 1106.2 L228.4 1110.1 L228.8 1114.2 L229.1 1117.9 L229.5 1121.3 L229.9 1123.4 L230.3 1125.2 L230.7 1125.8 L231.1 1126.4 L231.5 1126.4 L231.9 1127.0 L232.3 1127.4 L232.7 1128.0 L233.0 1127.7 L233.4 1127.6 L233.8 1127.5 L234.2 1128.4 L234.6 1128.4 L235.0 1129.3 L235.4 1128.5 L235.8 1128.6 L236.2 1127.7 L236.5 1128.5 L236.9 1128.7 L237.3 1128.6 L237.7 1128.3 L238.1 1127.9 L238.5 1127.7 L238.9 1127.5 L239.3 1128.1 L239.7 1128.7 L240.1 1129.1 L240.4 1128.9 L240.8 1129.1 L241.2 1129.3 L241.6 1129.1 L242.0 1128.6 L242.4 1127.7 L242.8 1127.2 L243.2 1126.2 L243.6 1126.2 L243.9 1125.9 L244.3 1125.6 L244.7 1124.8 L245.1 1124.6 L245.5 1124.8 L245.9 1125.0 L246.3 1125.0 L246.7 1125.9 L247.1 1126.7 L247.5 1127.4 L247.8 1127.6 L248.2 1127.5 L248.6 1127.8 L249.0 1127.8 L249.4 1128.7 L249.8 1128.4 L250.2 1128.1 L250.6 1127.5 L251.0 1127.4 L251.3 1128.3 L251.7 1128.4 L252.1 1129.0 L252.5 1128.5 L252.9 1128.2 L253.3 1128.2 L253.7 1128.4 L254.1 1128.7 L254.5 1127.6 L254.8 1127.3 L255.2 1127.0 L255.6 1127.3 L256.0 1126.9 L256.4 1126.5 L256.8 1126.2 L257.2 1125.4 L257.6 1123.4 L258.0 1121.1 L258.4 1118.9 L258.7 1117.5 L259.1 1115.8 L259.5 1114.8 L259.9 1115.1 L260.3 1116.4 L260.7 1118.7 L261.1 1120.7 L261.5 1122.7 L261.9 1124.1 L262.2 1125.0 L262.6 1126.1 L263.0 1126.8 L263.4 1127.4 L263.8 1127.5 L264.2 1127.2 L264.6 1127.3 L265.0 1127.5 L265.4 1127.7 L265.8 1127.7 L266.1 1128.0 L266.5 1128.2 L266.9 1128.5 L267.3 1127.9 L267.7 1128.0 L268.1 1127.6 L268.5 1128.3 L268.9 1128.2 L269.3 1128.1 L269.6 1127.8 L270.0 1127.5 L270.4 1128.2 L270.8 1128.0 L271.2 1128.1 L271.6 1127.2 L272.0 1127.2 L272.4 1126.5 L272.8 1126.3 L273.2 1124.9 L273.5 1124.2 L273.9 1122.9 L274.3 1123.1 L274.7 1123.8 L275.1 1124.9 L275.5 1125.8 L275.9 1126.0 L276.3 1126.6 L276.7 1126.9 L277.0 1127.3 L277.4 1127.0 L277.8 1127.8 L278.2 1128.2 L278.6 1128.4 L279.0 1127.7 L279.4 1127.8 L279.8 1128.0 L280.2 1128.3 L280.6 1128.1 L280.9 1128.1 L281.3 1128.2 L281.7 1128.5 L282.1 1128.5 L282.5 1127.9 L282.9 1127.8 L283.3 1127.3 L283.7 1127.1 L284.1 1126.7 L284.4 1126.2 L284.8 1126.6 L285.2 1126.0 L285.6 1126.4 L286.0 1126.3 L286.4 1126.1 L286.8 1124.6 L287.2 1123.1 L287.6 1121.0 L287.9 1118.9 L288.3 1115.2 L288.7 1110.8 L289.1 1105.8 L289.5 1101.2 L289.9 1098.4 L290.3 1098.6 L290.7 1101.6 L291.1 1106.1 L291.5 1110.0 L291.8 1114.3 L292.2 1118.2 L292.6 1121.5 L293.0 1123.0 L293.4 1124.4 L293.8 1125.5 L294.2 1126.6 L294.6 1126.6 L295.0 1126.2 L295.3 1126.8 L295.7 1127.6 L296.1 1128.2 L296.5 1127.8 L296.9 1128.1 L297.3 1128.3 L297.7 1128.3 L298.1 1127.9 L298.5 1127.6 L298.9 1127.9 L299.2 1127.6 L299.6 1127.6 L300.0 1127.6 L300.4 1127.5 L300.8 1127.8 L301.2 1127.8 L301.6 1127.8 L302.0 1127.8 L302.4 1128.0 L302.7 1128.5 L303.1 1128.6 L303.5 1127.9 L303.9 1127.6 L304.3 1126.9 L304.7 1127.2 L305.1 1127.3 L305.5 1127.9 L305.9 1128.0 L306.3 1128.0 L306.6 1127.6 L307.0 1127.9 L307.4 1127.9 L307.8 1127.9 L308.2 1127.7 L308.6 1127.8 L309.0 1127.8 L309.4 1127.5 L309.8 1127.4 L310.1 1127.5 L310.5 1127.8 L310.9 1127.5 L311.3 1127.5 L311.7 1127.6 L312.1 1127.8 L312.5 1127.4 L312.9 1126.8 L313.3 1126.7 L313.6 1126.5 L314.0 1126.1 L314.4 1125.2 L314.8 1124.3 L315.2 1123.5 L315.6 1122.0 L316.0 1120.1 L316.4 1116.3 L316.8 1111.7 L317.2 1106.0 L317.5 1099.9 L317.9 1094.5 L318.3 1090.2 L318.7 1089.4 L319.1 1091.0 L319.5 1095.8 L319.9 1101.9 L320.3 1109.2 L320.7 1114.3 L321.0 1118.2 L321.4 1120.3 L321.8 1123.0 L322.2 1124.0 L322.6 1125.2 L323.0 1125.2 L323.4 1125.6 L323.8 1125.2 L324.2 1125.6 L324.6 1125.2 L324.9 1125.6 L325.3 1125.1 L325.7 1125.8 L326.1 1126.0 L326.5 1125.6 L326.9 1125.1 L327.3 1124.3 L327.7 1124.0 L328.1 1123.1 L328.4 1121.6 L328.8 1119.7 L329.2 1116.0 L329.6 1109.4 L330.0 1098.7 L330.4 1082.7 L330.8 1062.3 L331.2 1038.6 L331.6 1018.8 L332.0 1011.2 L332.3 1020.0 L332.7 1040.2 L333.1 1062.4 L333.5 1082.7 L333.9 1098.3 L334.3 1109.0 L334.7 1115.6 L335.1 1119.1 L335.5 1121.4 L335.8 1122.4 L336.2 1123.4 L336.6 1123.8 L337.0 1124.6 L337.4 1124.9 L337.8 1125.6 L338.2 1125.6 L338.6 1126.0 L339.0 1126.1 L339.3 1126.5 L339.7 1126.8 L340.1 1126.7 L340.5 1127.2 L340.9 1126.7 L341.3 1127.4 L341.7 1126.6 L342.1 1126.6 L342.5 1125.1 L342.9 1123.9 L343.2 1122.4 L343.6 1120.8 L344.0 1118.5 L344.4 1115.7 L344.8 1113.8 L345.2 1113.8 L345.6 1115.0 L346.0 1116.6 L346.4 1117.3 L346.7 1119.6 L347.1 1121.8 L347.5 1124.2 L347.9 1125.1 L348.3 1126.2 L348.7 1126.7 L349.1 1127.5 L349.5 1127.5 L349.9 1127.5 L350.3 1127.7 L350.6 1127.8 L351.0 1127.7 L351.4 1127.5 L351.8 1127.8 L352.2 1128.4 L352.6 1128.1 L353.0 1128.3 L353.4 1128.3 L353.8 1129.0 L354.1 1128.9 L354.5 1128.4 L354.9 1128.0 L355.3 1127.8 L355.7 1128.1 L356.1 1128.3 L356.5 1128.5 L356.9 1128.3 L357.3 1127.8 L357.7 1127.7 L358.0 1127.8 L358.4 1127.7 L358.8 1127.3 L359.2 1127.3 L359.6 1128.0 L360.0 1128.2 L360.4 1128.8 L360.8 1128.1 L361.2 1128.1 L361.5 1127.2 L361.9 1127.6 L362.3 1127.3 L362.7 1128.0 L363.1 1127.8 L363.5 1127.8 L363.9 1127.2 L364.3 1126.9 L364.7 1127.3 L365.0 1126.8 L365.4 1126.3 L365.8 1125.1 L366.2 1124.4 L366.6 1123.6 L367.0 1122.0 L367.4 1119.1 L367.8 1115.7 L368.2 1111.1 L368.6 1106.4 L368.9 1099.9 L369.3 1094.7 L369.7 1091.6 L370.1 1092.2 L370.5 1095.9 L370.9 1101.4 L371.3 1107.9 L371.7 1113.2 L372.1 1117.4 L372.4 1120.2 L372.8 1122.8 L373.2 1124.1 L373.6 1124.8 L374.0 1125.6 L374.4 1126.4 L374.8 1126.9 L375.2 1126.2 L375.6 1126.3 L376.0 1127.1 L376.3 1127.9 L376.7 1127.9 L377.1 1127.3 L377.5 1127.5 L377.9 1127.5 L378.3 1127.7 L378.7 1127.8 L379.1 1128.1 L379.5 1127.7 L379.8 1126.9 L380.2 1126.2 L380.6 1125.3 L381.0 1124.2 L381.4 1122.4 L381.8 1120.8 L382.2 1118.8 L382.6 1116.3 L383.0 1114.1 L383.4 1112.9 L383.7 1113.7 L384.1 1115.3 L384.5 1117.6 L384.9 1119.8 L385.3 1121.8 L385.7 1123.9 L386.1 1124.8 L386.5 1126.2 L386.9 1126.7 L387.2 1127.6 L387.6 1127.1 L388.0 1126.6 L388.4 1126.5 L388.8 1127.0 L389.2 1127.0 L389.6 1127.2 L390.0 1127.6 L390.4 1127.8 L390.8 1127.5 L391.1 1127.5 L391.5 1127.3 L391.9 1127.3 L392.3 1127.0 L392.7 1126.8 L393.1 1126.8 L393.5 1126.2 L393.9 1126.8 L394.3 1126.9 L394.6 1127.6 L395.0 1127.4 L395.4 1127.1 L395.8 1126.9 L396.2 1127.5 L396.6 1127.9 L397.0 1128.0 L397.4 1127.3 L397.8 1126.4 L398.1 1126.8 L398.5 1126.9 L398.9 1127.2 L399.3 1126.3 L399.7 1125.9 L400.1 1125.6 L400.5 1125.4 L400.9 1124.4 L401.3 1122.9 L401.7 1121.0 L402.0 1118.8 L402.4 1115.3 L402.8 1109.9 L403.2 1101.9 L403.6 1091.8 L404.0 1080.0 L404.4 1068.0 L404.8 1056.8 L405.2 1050.6 L405.5 1051.6 L405.9 1059.7 L406.3 1071.1 L406.7 1083.3 L407.1 1095.0 L407.5 1104.6 L407.9 1112.1 L408.3 1116.7 L408.7 1120.0 L409.1 1122.6 L409.4 1123.7 L409.8 1124.6 L410.2 1125.2 L410.6 1125.7 L411.0 1126.1 L411.4 1125.8 L411.8 1126.4 L412.2 1126.6 L412.6 1127.0 L412.9 1127.6 L413.3 1128.0 L413.7 1127.9 L414.1 1127.6 L414.5 1127.3 L414.9 1127.5 L415.3 1128.2 L415.7 1128.2 L416.1 1128.5 L416.5 1128.3 L416.8 1128.6 L417.2 1128.8 L417.6 1128.4 L418.0 1128.6 L418.4 1127.7 L418.8 1127.9 L419.2 1127.8 L419.6 1128.5 L420.0 1129.1 L420.3 1129.2 L420.7 1129.2 L421.1 1128.7 L421.5 1129.1 L421.9 1128.8 L422.3 1128.4 L422.7 1127.9 L423.1 1127.8 L423.5 1128.0 L423.8 1128.0 L424.2 1127.9 L424.6 1127.5 L425.0 1126.8 L425.4 1126.5 L425.8 1126.6 L426.2 1125.2 L426.6 1124.0 L427.0 1123.3 L427.4 1123.7 L427.7 1123.9 L428.1 1124.0 L428.5 1125.3 L428.9 1125.8 L429.3 1126.3 L429.7 1126.4 L430.1 1127.1 L430.5 1127.6 L430.9 1127.8 L431.2 1127.9 L431.6 1128.4 L432.0 1128.1 L432.4 1128.2 L432.8 1127.5 L433.2 1127.4 L433.6 1127.1 L434.0 1126.8 L434.4 1126.6 L434.8 1126.8 L435.1 1126.6 L435.5 1126.3 L435.9 1125.7 L436.3 1124.7 L436.7 1123.4 L437.1 1121.8 L437.5 1121.8 L437.9 1121.6 L438.3 1122.3 L438.6 1122.6 L439.0 1123.5 L439.4 1125.0 L439.8 1125.8 L440.2 1127.0 L440.6 1127.3 L441.0 1128.0 L441.4 1128.2 L441.8 1128.2 L442.2 1128.0 L442.5 1127.9 L442.9 1128.3 L443.3 1128.0 L443.7 1128.3 L444.1 1128.1 L444.5 1128.4 L444.9 1128.3 L445.3 1128.1 L445.7 1128.2 L446.0 1127.7 L446.4 1127.8 L446.8 1127.7 L447.2 1128.4 L447.6 1128.4 L448.0 1128.3 L448.4 1128.0 L448.8 1128.3 L449.2 1128.8 L449.5 1128.9 L449.9 1128.7 L450.3 1128.9 L450.7 1128.4 L451.1 1128.4 L451.5 1128.0 L451.9 1128.6 L452.3 1128.6 L452.7 1128.1 L453.1 1128.2 L453.4 1128.3 L453.8 1129.1 L454.2 1129.0 L454.6 1128.4 L455.0 1128.3 L455.4 1128.2 L455.8 1129.0 L456.2 1128.8 L456.6 1128.5 L456.9 1127.8 L457.3 1127.5 L457.7 1126.9 L458.1 1126.1 L458.5 1125.6 L458.9 1125.8 L459.3 1126.3 L459.7 1126.0 L460.1 1126.6 L460.5 1126.5 L460.8 1127.5 L461.2 1127.6 L461.6 1127.9 L462.0 1128.2 L462.4 1127.9 L462.8 1128.5 L463.2 1128.2 L463.6 1128.2 L464.0 1128.3 L464.3 1127.8 L464.7 1128.0 L465.1 1128.3 L465.5 1128.5 L465.9 1128.2 L466.3 1127.7 L466.7 1128.2 L467.1 1128.6 L467.5 1129.0 L467.9 1128.9 L468.2 1128.8 L468.6 1128.4 L469.0 1128.2 L469.4 1127.8 L469.8 1128.2 L470.2 1129.0 L470.6 1129.8 L471.0 1129.1 L471.4 1128.5 L471.7 1128.6 L472.1 1129.1 L472.5 1129.4 L472.9 1128.7 L473.3 1128.6 L473.7 1128.6 L474.1 1128.8 L474.5 1128.6 L474.9 1128.7 L475.3 1128.6 L475.6 1128.4 L476.0 1128.3 L476.4 1128.8 L476.8 1128.7 L477.2 1128.6 L477.6 1128.4 L478.0 1128.4 L478.4 1128.0 L478.8 1128.6 L479.1 1129.0 L479.5 1129.3 L479.9 1128.8 L480.3 1128.5 L480.7 1128.1 L481.1 1128.2 L481.5 1128.7 L481.9 1129.0 L482.3 1129.0 L482.6 1128.2 L483.0 1128.2 L483.4 1128.0 L483.8 1128.2 L484.2 1128.5 L484.6 1128.6 L485.0 1128.9 L485.4 1128.6 L485.8 1128.1 L486.2 1127.9 L486.5 1127.8 L486.9 1128.2 L487.3 1128.3 L487.7 1128.6 L488.1 1128.2 L488.5 1128.5 L488.9 1128.5 L489.3 1128.7 L489.7 1128.3 L490.0 1128.5 L490.4 1128.6 L490.8 1129.0 L491.2 1129.2 L491.6 1128.8 L492.0 1128.5 L492.4 1128.5 L492.8 1129.0 L493.2 1129.0 L493.6 1128.7 L493.9 1128.7 L494.3 1128.5 L494.7 1128.4 L495.1 1128.1 L495.5 1128.0 L495.9 1127.8 L496.3 1127.4 L496.7 1127.0 L497.1 1126.2 L497.4 1125.9 L497.8 1125.4 L498.2 1125.5 L498.6 1125.0 L499.0 1125.6 L499.4 1126.4 L499.8 1127.4 L500.2 1128.2 L500.6 1128.3 L501.0 1128.4 L501.3 1128.0 L501.7 1128.1 L502.1 1128.4 L502.5 1128.4 L502.9 1128.6 L503.3 1128.3 L503.7 1128.2 L504.1 1127.8 L504.5 1128.0 L504.8 1128.5 L505.2 1128.5 L505.6 1128.0 L506.0 1127.8 L506.4 1128.0 L506.8 1128.8 L507.2 1129.0 L507.6 1129.7 L508.0 1129.3 L508.3 1129.3 L508.7 1128.8 L509.1 1128.6" stroke="#336a9c" stroke-width="3" fill="none" stroke-linejoin="round"/>
<path d="M73.0 1063.8 L73.4 1063.7 L73.8 1064.3 L74.2 1063.9 L74.6 1064.4 L74.9 1063.9 L75.3 1064.1 L75.7 1063.9 L76.1 1063.2 L76.5 1063.3 L76.9 1063.0 L77.3 1063.4 L77.7 1063.6 L78.1 1063.3 L78.5 1063.7 L78.8 1063.1 L79.2 1063.7 L79.6 1063.9 L80.0 1063.8 L80.4 1063.5 L80.8 1063.1 L81.2 1063.3 L81.6 1063.3 L82.0 1063.6 L82.3 1064.4 L82.7 1064.9 L83.1 1065.1 L83.5 1065.1 L83.9 1064.8 L84.3 1064.4 L84.7 1063.9 L85.1 1063.6 L85.5 1063.5 L85.9 1063.6 L86.2 1063.6 L86.6 1063.7 L87.0 1063.8 L87.4 1063.8 L87.8 1063.7 L88.2 1063.6 L88.6 1063.5 L89.0 1062.9 L89.4 1062.6 L89.7 1062.6 L90.1 1062.9 L90.5 1062.8 L90.9 1061.8 L91.3 1062.0 L91.7 1061.1 L92.1 1060.4 L92.5 1057.7 L92.9 1056.0 L93.2 1052.8 L93.6 1049.8 L94.0 1046.6 L94.4 1045.1 L94.8 1044.9 L95.2 1046.0 L95.6 1048.6 L96.0 1051.1 L96.4 1053.9 L96.8 1056.5 L97.1 1058.5 L97.5 1059.9 L97.9 1060.9 L98.3 1062.1 L98.7 1062.4 L99.1 1063.1 L99.5 1063.1 L99.9 1063.6 L100.3 1063.2 L100.6 1062.7 L101.0 1063.2 L101.4 1063.0 L101.8 1063.0 L102.2 1062.7 L102.6 1063.2 L103.0 1063.8 L103.4 1063.9 L103.8 1064.2 L104.2 1064.5 L104.5 1064.5 L104.9 1064.1 L105.3 1063.1 L105.7 1063.4 L106.1 1064.0 L106.5 1064.5 L106.9 1064.4 L107.3 1063.8 L107.7 1063.9 L108.0 1064.2 L108.4 1064.5 L108.8 1064.2 L109.2 1063.8 L109.6 1063.9 L110.0 1063.9 L110.4 1064.4 L110.8 1064.3 L111.2 1064.5 L111.6 1064.5 L111.9 1064.7 L112.3 1064.8 L112.7 1064.5 L113.1 1064.3 L113.5 1064.4 L113.9 1064.7 L114.3 1064.9 L114.7 1064.0 L115.1 1063.9 L115.4 1063.3 L115.8 1064.3 L116.2 1063.8 L116.6 1063.9 L117.0 1063.6 L117.4 1064.2 L117.8 1064.9 L118.2 1064.7 L118.6 1064.8 L118.9 1064.7 L119.3 1064.3 L119.7 1063.1 L120.1 1062.2 L120.5 1061.8 L120.9 1061.2 L121.3 1059.7 L121.7 1058.2 L122.1 1057.1 L122.5 1056.6 L122.8 1056.5 L123.2 1057.5 L123.6 1059.0 L124.0 1060.7 L124.4 1061.4 L124.8 1062.4 L125.2 1063.5 L125.6 1064.2 L126.0 1065.1 L126.3 1065.7 L126.7 1066.2 L127.1 1065.9 L127.5 1065.7 L127.9 1066.8 L128.3 1067.0 L128.7 1067.1 L129.1 1066.5 L129.5 1066.6 L129.9 1066.5 L130.2 1066.6 L130.6 1067.1 L131.0 1068.0 L131.4 1068.1 L131.8 1068.1 L132.2 1067.9 L132.6 1068.2 L133.0 1068.0 L133.4 1067.7 L133.7 1067.4 L134.1 1067.8 L134.5 1067.8 L134.9 1067.8 L135.3 1068.2 L135.7 1068.3 L136.1 1069.0 L136.5 1068.6 L136.9 1068.5 L137.3 1067.8 L137.6 1067.7 L138.0 1068.2 L138.4 1068.3 L138.8 1068.6 L139.2 1068.2 L139.6 1068.4 L140.0 1067.7 L140.4 1067.8 L140.8 1068.0 L141.1 1068.1 L141.5 1068.1 L141.9 1068.1 L142.3 1068.4 L142.7 1068.6 L143.1 1068.1 L143.5 1067.5 L143.9 1067.2 L144.3 1067.5 L144.6 1067.7 L145.0 1067.5 L145.4 1066.8 L145.8 1066.8 L146.2 1066.8 L146.6 1067.1 L147.0 1067.4 L147.4 1067.7 L147.8 1067.6 L148.2 1067.1 L148.5 1066.7 L148.9 1066.6 L149.3 1066.3 L149.7 1066.3 L150.1 1066.4 L150.5 1066.3 L150.9 1066.0 L151.3 1065.3 L151.7 1065.5 L152.0 1064.8 L152.4 1065.1 L152.8 1065.0 L153.2 1065.0 L153.6 1064.0 L154.0 1063.6 L154.4 1063.1 L154.8 1062.9 L155.2 1062.2 L155.6 1062.4 L155.9 1063.1 L156.3 1063.4 L156.7 1063.3 L157.1 1062.2 L157.5 1061.5 L157.9 1061.1 L158.3 1060.8 L158.7 1060.9 L159.1 1060.2 L159.4 1060.1 L159.8 1059.0 L160.2 1058.7 L160.6 1058.3 L161.0 1058.4 L161.4 1058.6 L161.8 1058.0 L162.2 1057.7 L162.6 1057.0 L163.0 1056.3 L163.3 1055.6 L163.7 1054.9 L164.1 1054.0 L164.5 1053.3 L164.9 1052.3 L165.3 1052.1 L165.7 1051.4 L166.1 1050.1 L166.5 1048.2 L166.8 1045.8 L167.2 1041.1 L167.6 1032.8 L168.0 1017.5 L168.4 990.1 L168.8 944.1 L169.2 875.5 L169.6 791.0 L170.0 710.9 L170.3 676.0 L170.7 711.0 L171.1 791.4 L171.5 876.8 L171.9 945.8 L172.3 992.2 L172.7 1019.7 L173.1 1034.0 L173.5 1042.3 L173.9 1046.6 L174.2 1050.1 L174.6 1052.2 L175.0 1054.2 L175.4 1055.4 L175.8 1056.3 L176.2 1057.0 L176.6 1057.7 L177.0 1058.7 L177.4 1059.6 L177.7 1059.6 L178.1 1059.6 L178.5 1060.4 L178.9 1061.0 L179.3 1060.8 L179.7 1060.1 L180.1 1060.3 L180.5 1060.8 L180.9 1061.1 L181.3 1061.2 L181.6 1061.5 L182.0 1061.3 L182.4 1061.4 L182.8 1061.1 L183.2 1062.0 L183.6 1062.1 L184.0 1062.7 L184.4 1062.1 L184.8 1062.1 L185.1 1061.9 L185.5 1062.2 L185.9 1061.9 L186.3 1061.3 L186.7 1061.1 L187.1 1060.7 L187.5 1060.6 L187.9 1060.0 L188.3 1059.2 L188.7 1057.5 L189.0 1055.9 L189.4 1052.8 L189.8 1048.7 L190.2 1043.0 L190.6 1037.2 L191.0 1031.7 L191.4 1027.1 L191.8 1025.6 L192.2 1027.2 L192.5 1031.4 L192.9 1037.2 L193.3 1043.1 L193.7 1048.7 L194.1 1052.9 L194.5 1056.0 L194.9 1057.9 L195.3 1059.4 L195.7 1060.0 L196.1 1060.5 L196.4 1060.5 L196.8 1061.4 L197.2 1061.9 L197.6 1062.4 L198.0 1062.2 L198.4 1061.7 L198.8 1060.9 L199.2 1060.8 L199.6 1061.2 L199.9 1061.9 L200.3 1062.1 L200.7 1062.0 L201.1 1062.0 L201.5 1062.1 L201.9 1062.1 L202.3 1061.9 L202.7 1061.4 L203.1 1061.4 L203.4 1060.9 L203.8 1060.6 L204.2 1060.2 L204.6 1060.1 L205.0 1059.9 L205.4 1059.6 L205.8 1058.8 L206.2 1057.7 L206.6 1056.2 L207.0 1053.3 L207.3 1049.3 L207.7 1042.2 L208.1 1031.6 L208.5 1015.2 L208.9 995.4 L209.3 974.7 L209.7 959.1 L210.1 956.1 L210.5 967.8 L210.8 988.4 L211.2 1009.2 L211.6 1026.7 L212.0 1039.4 L212.4 1048.2 L212.8 1053.5 L213.2 1055.9 L213.6 1057.5 L214.0 1058.7 L214.4 1060.0 L214.7 1060.2 L215.1 1060.2 L215.5 1060.6 L215.9 1061.5 L216.3 1062.1 L216.7 1062.0 L217.1 1062.0 L217.5 1062.2 L217.9 1062.3 L218.2 1062.5 L218.6 1062.7 L219.0 1063.2 L219.4 1063.3 L219.8 1063.3 L220.2 1062.9 L220.6 1062.6 L221.0 1062.7 L221.4 1062.4 L221.8 1062.8 L222.1 1062.3 L222.5 1062.9 L222.9 1062.6 L223.3 1062.6 L223.7 1062.0 L224.1 1062.0 L224.5 1062.1 L224.9 1062.4 L225.3 1062.0 L225.6 1061.6 L226.0 1060.9 L226.4 1059.6 L226.8 1058.2 L227.2 1055.9 L227.6 1053.7 L228.0 1050.3 L228.4 1046.1 L228.8 1041.1 L229.1 1036.8 L229.5 1034.5 L229.9 1034.9 L230.3 1038.0 L230.7 1041.4 L231.1 1045.5 L231.5 1049.1 L231.9 1053.3 L232.3 1055.8 L232.7 1058.1 L233.0 1059.3 L233.4 1060.9 L233.8 1062.0 L234.2 1062.2 L234.6 1062.3 L235.0 1062.2 L235.4 1062.9 L235.8 1063.5 L236.2 1063.9 L236.5 1063.4 L236.9 1062.4 L237.3 1062.4 L237.7 1062.8 L238.1 1063.7 L238.5 1063.9 L238.9 1063.7 L239.3 1063.5 L239.7 1063.3 L240.1 1063.0 L240.4 1062.9 L240.8 1063.3 L241.2 1063.1 L241.6 1062.9 L242.0 1062.6 L242.4 1062.9 L242.8 1063.2 L243.2 1063.0 L243.6 1063.5 L243.9 1063.4 L244.3 1063.8 L244.7 1063.4 L245.1 1063.0 L245.5 1062.6 L245.9 1061.8 L246.3 1061.5 L246.7 1061.1 L247.1 1060.9 L247.5 1060.2 L247.8 1059.4 L248.2 1059.3 L248.6 1059.6 L249.0 1059.9 L249.4 1061.0 L249.8 1061.4 L250.2 1062.3 L250.6 1062.3 L251.0 1063.1 L251.3 1062.8 L251.7 1063.5 L252.1 1063.7 L252.5 1064.2 L252.9 1063.5 L253.3 1063.5 L253.7 1063.3 L254.1 1063.2 L254.5 1063.1 L254.8 1063.9 L255.2 1064.0 L255.6 1063.8 L256.0 1063.1 L256.4 1063.0 L256.8 1062.7 L257.2 1062.8 L257.6 1063.0 L258.0 1063.4 L258.4 1063.1 L258.7 1063.0 L259.1 1062.5 L259.5 1062.6 L259.9 1062.2 L260.3 1061.8 L260.7 1060.7 L261.1 1059.7 L261.5 1058.8 L261.9 1057.0 L262.2 1055.2 L262.6 1052.2 L263.0 1050.5 L263.4 1049.4 L263.8 1050.2 L264.2 1051.3 L264.6 1053.6 L265.0 1055.3 L265.4 1057.3 L265.8 1057.8 L266.1 1059.1 L266.5 1060.4 L266.9 1062.0 L267.3 1062.9 L267.7 1063.5 L268.1 1063.1 L268.5 1062.9 L268.9 1062.9 L269.3 1063.1 L269.6 1063.2 L270.0 1062.7 L270.4 1062.8 L270.8 1063.2 L271.2 1063.4 L271.6 1063.3 L272.0 1063.0 L272.4 1063.0 L272.8 1063.6 L273.2 1063.8 L273.5 1063.9 L273.9 1063.3 L274.3 1063.3 L274.7 1063.4 L275.1 1063.1 L275.5 1063.2 L275.9 1063.1 L276.3 1064.0 L276.7 1063.7 L277.0 1063.4 L277.4 1063.0 L277.8 1062.9 L278.2 1062.7 L278.6 1063.0 L279.0 1062.9 L279.4 1063.5 L279.8 1063.2 L280.2 1063.5 L280.6 1062.9 L280.9 1063.5 L281.3 1063.2 L281.7 1063.5 L282.1 1063.1 L282.5 1063.2 L282.9 1062.8 L283.3 1062.8 L283.7 1063.0 L284.1 1063.6 L284.4 1063.3 L284.8 1063.2 L285.2 1062.5 L285.6 1062.9 L286.0 1063.1 L286.4 1063.3 L286.8 1063.4 L287.2 1063.8 L287.6 1064.0 L287.9 1063.9 L288.3 1062.8 L288.7 1062.4 L289.1 1061.7 L289.5 1061.5 L289.9 1061.7 L290.3 1060.9 L290.7 1059.8 L291.1 1057.8 L291.5 1056.3 L291.8 1053.4 L292.2 1049.2 L292.6 1044.0 L293.0 1038.5 L293.4 1034.2 L293.8 1031.7 L294.2 1031.6 L294.6 1034.3 L295.0 1038.2 L295.3 1043.2 L295.7 1048.1 L296.1 1052.5 L296.5 1055.7 L296.9 1057.7 L297.3 1059.3 L297.7 1060.2 L298.1 1061.0 L298.5 1061.2 L298.9 1062.4 L299.2 1062.8 L299.6 1062.7 L300.0 1062.4 L300.4 1062.0 L300.8 1062.0 L301.2 1062.4 L301.6 1062.9 L302.0 1063.3 L302.4 1063.3 L302.7 1063.5 L303.1 1063.7 L303.5 1063.8 L303.9 1063.6 L304.3 1063.3 L304.7 1062.7 L305.1 1063.0 L305.5 1063.2 L305.9 1064.4 L306.3 1064.2 L306.6 1064.0 L307.0 1063.3 L307.4 1063.3 L307.8 1063.5 L308.2 1063.6 L308.6 1064.0 L309.0 1064.0 L309.4 1064.3 L309.8 1063.6 L310.1 1063.1 L310.5 1062.5 L310.9 1062.9 L311.3 1062.6 L311.7 1062.5 L312.1 1062.6 L312.5 1062.9 L312.9 1062.9 L313.3 1062.6 L313.6 1062.5 L314.0 1062.9 L314.4 1063.2 L314.8 1063.7 L315.2 1063.0 L315.6 1062.8 L316.0 1062.4 L316.4 1061.7 L316.8 1061.1 L317.2 1060.5 L317.5 1060.5 L317.9 1060.3 L318.3 1059.0 L318.7 1057.5 L319.1 1055.2 L319.5 1052.1 L319.9 1047.4 L320.3 1041.3 L320.7 1035.3 L321.0 1029.1 L321.4 1023.7 L321.8 1020.8 L322.2 1021.9 L322.6 1026.8 L323.0 1033.8 L323.4 1040.3 L323.8 1046.3 L324.2 1050.5 L324.6 1054.8 L324.9 1056.8 L325.3 1058.7 L325.7 1059.3 L326.1 1060.1 L326.5 1059.8 L326.9 1059.6 L327.3 1059.5 L327.7 1059.7 L328.1 1060.1 L328.4 1060.2 L328.8 1060.6 L329.2 1060.3 L329.6 1060.7 L330.0 1059.9 L330.4 1059.6 L330.8 1058.5 L331.2 1057.7 L331.6 1057.0 L332.0 1055.5 L332.3 1052.5 L332.7 1046.7 L333.1 1037.3 L333.5 1023.7 L333.9 1005.0 L334.3 982.4 L334.7 960.4 L335.1 947.0 L335.5 949.8 L335.8 966.3 L336.2 989.5 L336.6 1011.6 L337.0 1029.0 L337.4 1041.1 L337.8 1048.6 L338.2 1053.2 L338.6 1055.5 L339.0 1057.0 L339.3 1058.4 L339.7 1059.7 L340.1 1060.2 L340.5 1060.4 L340.9 1060.1 L341.3 1060.7 L341.7 1061.1 L342.1 1061.2 L342.5 1061.4 L342.9 1061.7 L343.2 1062.2 L343.6 1062.0 L344.0 1062.2 L344.4 1062.0 L344.8 1061.7 L345.2 1061.6 L345.6 1061.3 L346.0 1060.7 L346.4 1059.2 L346.7 1057.2 L347.1 1055.9 L347.5 1053.8 L347.9 1051.5 L348.3 1049.5 L348.7 1048.1 L349.1 1048.8 L349.5 1049.6 L349.9 1052.2 L350.3 1054.5 L350.6 1056.8 L351.0 1058.0 L351.4 1059.3 L351.8 1060.3 L352.2 1061.5 L352.6 1061.4 L353.0 1061.8 L353.4 1061.6 L353.8 1061.7 L354.1 1061.9 L354.5 1062.2 L354.9 1062.5 L355.3 1062.3 L355.7 1062.7 L356.1 1063.4 L356.5 1063.6 L356.9 1063.3 L357.3 1062.9 L357.7 1062.5 L358.0 1062.6 L358.4 1062.6 L358.8 1062.8 L359.2 1063.0 L359.6 1063.0 L360.0 1063.3 L360.4 1063.1 L360.8 1063.1 L361.2 1063.3 L361.5 1063.5 L361.9 1063.7 L362.3 1063.8 L362.7 1063.5 L363.1 1063.5 L363.5 1063.4 L363.9 1064.0 L364.3 1063.9 L364.7 1063.9 L365.0 1063.3 L365.4 1062.9 L365.8 1062.6 L366.2 1062.8 L366.6 1063.1 L367.0 1062.7 L367.4 1062.6 L367.8 1062.2 L368.2 1062.4 L368.6 1062.6 L368.9 1062.0 L369.3 1061.2 L369.7 1059.9 L370.1 1059.3 L370.5 1057.9 L370.9 1055.1 L371.3 1051.9 L371.7 1047.6 L372.1 1042.9 L372.4 1037.3 L372.8 1031.9 L373.2 1028.1 L373.6 1027.6 L374.0 1029.7 L374.4 1035.5 L374.8 1040.6 L375.2 1047.0 L375.6 1051.0 L376.0 1054.9 L376.3 1056.9 L376.7 1058.1 L377.1 1059.8 L377.5 1060.2 L377.9 1061.3 L378.3 1061.2 L378.7 1061.6 L379.1 1061.5 L379.5 1061.7 L379.8 1061.9 L380.2 1061.9 L380.6 1062.2 L381.0 1062.2 L381.4 1061.8 L381.8 1061.3 L382.2 1061.4 L382.6 1061.2 L383.0 1060.7 L383.4 1060.0 L383.7 1059.4 L384.1 1059.1 L384.5 1057.5 L384.9 1055.1 L385.3 1051.6 L385.7 1048.2 L386.1 1045.8 L386.5 1044.6 L386.9 1044.2 L387.2 1044.8 L387.6 1046.6 L388.0 1050.3 L388.4 1053.1 L388.8 1055.9 L389.2 1057.1 L389.6 1059.1 L390.0 1059.7 L390.4 1061.7 L390.8 1062.1 L391.1 1062.9 L391.5 1062.8 L391.9 1063.2 L392.3 1062.3 L392.7 1062.2 L393.1 1062.7 L393.5 1063.2 L393.9 1063.3 L394.3 1062.9 L394.6 1062.8 L395.0 1062.3 L395.4 1062.1 L395.8 1062.2 L396.2 1062.6 L396.6 1063.1 L397.0 1063.4 L397.4 1063.6 L397.8 1063.2 L398.1 1063.2 L398.5 1062.9 L398.9 1062.7 L399.3 1062.8 L399.7 1063.0 L400.1 1063.1 L400.5 1062.6 L400.9 1062.6 L401.3 1063.1 L401.7 1063.1 L402.0 1063.3 L402.4 1062.8 L402.8 1063.1 L403.2 1062.5 L403.6 1062.7 L404.0 1062.0 L404.4 1062.1 L404.8 1061.0 L405.2 1061.0 L405.5 1059.5 L405.9 1058.8 L406.3 1057.3 L406.7 1056.0 L407.1 1053.5 L407.5 1048.6 L407.9 1043.2 L408.3 1036.0 L408.7 1029.6 L409.1 1023.7 L409.4 1021.2 L409.8 1022.9 L410.2 1027.6 L410.6 1033.9 L411.0 1040.8 L411.4 1047.2 L411.8 1051.8 L412.2 1054.7 L412.6 1057.7 L412.9 1059.5 L413.3 1060.9 L413.7 1060.7 L414.1 1061.2 L414.5 1061.6 L414.9 1061.8 L415.3 1061.7 L415.7 1061.5 L416.1 1061.9 L416.5 1062.2 L416.8 1062.1 L417.2 1062.2 L417.6 1062.6 L418.0 1063.0 L418.4 1063.3 L418.8 1062.9 L419.2 1063.3 L419.6 1063.2 L420.0 1063.1 L420.3 1063.2 L420.7 1063.2 L421.1 1063.4 L421.5 1063.1 L421.9 1063.4 L422.3 1063.3 L422.7 1063.5 L423.1 1063.1 L423.5 1063.1 L423.8 1062.9 L424.2 1062.9 L424.6 1062.8 L425.0 1063.0 L425.4 1063.4 L425.8 1064.0 L426.2 1064.4 L426.6 1064.3 L427.0 1064.1 L427.4 1064.5 L427.7 1064.2 L428.1 1063.9 L428.5 1063.1 L428.9 1063.1 L429.3 1063.6 L429.7 1063.2 L430.1 1063.4 L430.5 1063.3 L430.9 1063.8 L431.2 1064.0 L431.6 1064.3 L432.0 1064.3 L432.4 1063.6 L432.8 1063.3 L433.2 1063.2 L433.6 1063.3 L434.0 1063.1 L434.4 1063.5 L434.8 1063.3 L435.1 1063.4 L435.5 1063.4 L435.9 1064.0 L436.3 1063.6 L436.7 1063.3 L437.1 1063.2 L437.5 1063.1 L437.9 1062.9 L438.3 1062.6 L438.6 1063.0 L439.0 1063.1 L439.4 1062.7 L439.8 1062.2 L440.2 1060.8 L440.6 1060.0 L441.0 1058.7 L441.4 1058.1 L441.8 1055.9 L442.2 1053.8 L442.5 1052.0 L442.9 1051.9 L443.3 1052.2 L443.7 1053.6 L444.1 1055.5 L444.5 1057.7 L444.9 1059.8 L445.3 1060.7 L445.7 1061.6 L446.0 1061.7 L446.4 1062.1 L446.8 1062.2 L447.2 1063.1 L447.6 1063.6 L448.0 1064.2 L448.4 1064.2 L448.8 1064.3 L449.2 1063.7 L449.5 1063.1 L449.9 1062.5 L450.3 1062.7 L450.7 1062.8 L451.1 1063.3 L451.5 1063.5 L451.9 1063.8 L452.3 1064.0 L452.7 1064.2 L453.1 1064.1 L453.4 1063.5 L453.8 1063.5 L454.2 1063.8 L454.6 1063.9 L455.0 1063.7 L455.4 1063.8 L455.8 1064.1 L456.2 1064.8 L456.6 1064.2 L456.9 1064.3 L457.3 1064.0 L457.7 1064.0 L458.1 1064.0 L458.5 1063.3 L458.9 1063.5 L459.3 1063.2 L459.7 1063.8 L460.1 1063.4 L460.5 1063.3 L460.8 1062.7 L461.2 1062.3 L461.6 1062.5 L462.0 1061.8 L462.4 1061.1 L462.8 1060.1 L463.2 1060.0 L463.6 1059.6 L464.0 1059.8 L464.3 1060.1 L464.7 1060.7 L465.1 1060.7 L465.5 1061.1 L465.9 1062.1 L466.3 1062.5 L466.7 1062.7 L467.1 1062.5 L467.5 1063.1 L467.9 1063.7 L468.2 1064.0 L468.6 1063.8 L469.0 1063.8 L469.4 1063.9 L469.8 1063.9 L470.2 1063.5 L470.6 1063.6 L471.0 1064.3 L471.4 1064.5 L471.7 1064.8 L472.1 1064.7 L472.5 1064.4 L472.9 1063.9 L473.3 1063.8 L473.7 1064.1 L474.1 1064.2 L474.5 1063.7 L474.9 1063.4 L475.3 1063.2 L475.6 1064.0 L476.0 1064.2 L476.4 1064.4 L476.8 1063.8 L477.2 1063.9 L477.6 1063.9 L478.0 1064.0 L478.4 1063.7 L478.8 1063.3 L479.1 1062.8 L479.5 1062.8 L479.9 1062.9 L480.3 1063.2 L480.7 1063.8 L481.1 1063.7 L481.5 1063.9 L481.9 1063.6 L482.3 1064.3 L482.6 1064.3 L483.0 1063.5 L483.4 1063.2 L483.8 1062.8 L484.2 1063.3 L484.6 1063.1 L485.0 1063.4 L485.4 1063.8 L485.8 1063.8 L486.2 1063.8 L486.5 1064.1 L486.9 1064.5 L487.3 1064.0 L487.7 1063.4 L488.1 1062.9 L488.5 1063.1 L488.9 1063.2 L489.3 1063.7 L489.7 1063.3 L490.0 1063.5 L490.4 1063.1 L490.8 1063.7 L491.2 1063.3 L491.6 1063.4 L492.0 1063.8 L492.4 1064.6 L492.8 1064.8 L493.2 1064.2 L493.6 1063.4 L493.9 1063.2 L494.3 1063.5 L494.7 1063.7 L495.1 1063.6 L495.5 1063.7 L495.9 1064.1 L496.3 1064.1 L496.7 1063.7 L497.1 1063.1 L497.4 1062.9 L497.8 1063.3 L498.2 1063.3 L498.6 1064.1 L499.0 1063.9 L499.4 1064.0 L499.8 1063.7 L500.2 1064.1 L500.6 1063.9 L501.0 1063.7 L501.3 1063.4 L501.7 1063.5 L502.1 1063.2 L502.5 1063.5 L502.9 1063.8 L503.3 1064.0 L503.7 1063.4 L504.1 1063.0 L504.5 1063.5 L504.8 1063.9 L505.2 1063.9 L505.6 1063.4 L506.0 1063.3 L506.4 1063.9 L506.8 1063.7 L507.2 1063.9 L507.6 1063.7 L508.0 1063.8 L508.3 1063.9 L508.7 1064.2 L509.1 1064.3" stroke="#e8ab32" stroke-width="3" fill="none" stroke-linejoin="round"/>
<path d="M73.0 992.4 L73.4 992.4 L73.8 992.1 L74.2 991.9 L74.6 991.8 L74.9 991.5 L75.3 991.7 L75.7 991.4 L76.1 992.1 L76.5 992.5 L76.9 993.2 L77.3 992.8 L77.7 992.6 L78.1 992.1 L78.5 992.1 L78.8 992.0 L79.2 991.7 L79.6 991.6 L80.0 991.6 L80.4 992.5 L80.8 992.3 L81.2 992.0 L81.6 992.1 L82.0 992.4 L82.3 992.6 L82.7 992.7 L83.1 992.8 L83.5 992.4 L83.9 992.4 L84.3 992.2 L84.7 992.1 L85.1 991.8 L85.5 992.0 L85.9 992.4 L86.2 992.1 L86.6 991.9 L87.0 992.3 L87.4 992.6 L87.8 992.7 L88.2 992.3 L88.6 991.8 L89.0 991.8 L89.4 991.8 L89.7 991.5 L90.1 991.4 L90.5 991.4 L90.9 991.8 L91.3 991.6 L91.7 990.9 L92.1 990.4 L92.5 989.7 L92.9 989.0 L93.2 987.8 L93.6 985.4 L94.0 982.2 L94.4 979.0 L94.8 976.1 L95.2 973.8 L95.6 972.5 L96.0 973.1 L96.4 975.3 L96.8 978.6 L97.1 981.8 L97.5 984.5 L97.9 986.1 L98.3 987.8 L98.7 989.3 L99.1 990.2 L99.5 990.2 L99.9 990.7 L100.3 991.3 L100.6 992.2 L101.0 991.9 L101.4 992.0 L101.8 991.9 L102.2 992.3 L102.6 992.0 L103.0 992.2 L103.4 992.2 L103.8 992.2 L104.2 992.5 L104.5 992.6 L104.9 992.7 L105.3 992.2 L105.7 992.0 L106.1 992.8 L106.5 992.8 L106.9 992.8 L107.3 992.3 L107.7 993.1 L108.0 993.0 L108.4 992.5 L108.8 991.8 L109.2 991.8 L109.6 992.4 L110.0 992.6 L110.4 993.1 L110.8 993.3 L111.2 993.5 L111.6 993.6 L111.9 993.5 L112.3 993.7 L112.7 993.6 L113.1 993.5 L113.5 993.3 L113.9 993.6 L114.3 993.5 L114.7 994.1 L115.1 993.8 L115.4 993.9 L115.8 994.1 L116.2 994.3 L116.6 994.1 L117.0 993.4 L117.4 993.5 L117.8 994.0 L118.2 994.1 L118.6 993.9 L118.9 993.6 L119.3 993.7 L119.7 993.5 L120.1 993.6 L120.5 993.8 L120.9 994.1 L121.3 994.1 L121.7 993.3 L122.1 992.6 L122.5 991.2 L122.8 990.5 L123.2 989.1 L123.6 988.3 L124.0 987.1 L124.4 986.9 L124.8 987.5 L125.2 989.2 L125.6 991.0 L126.0 992.6 L126.3 993.3 L126.7 994.3 L127.1 994.7 L127.5 995.3 L127.9 995.8 L128.3 996.3 L128.7 997.4 L129.1 997.5 L129.5 997.3 L129.9 997.1 L130.2 997.0 L130.6 997.1 L131.0 996.9 L131.4 997.2 L131.8 997.5 L132.2 997.8 L132.6 997.9 L133.0 997.4 L133.4 997.4 L133.7 997.6 L134.1 998.2 L134.5 998.1 L134.9 997.7 L135.3 998.0 L135.7 998.4 L136.1 998.9 L136.5 998.5 L136.9 998.0 L137.3 997.9 L137.6 998.3 L138.0 998.6 L138.4 998.6 L138.8 998.6 L139.2 998.3 L139.6 998.4 L140.0 998.1 L140.4 998.0 L140.8 998.0 L141.1 997.7 L141.5 998.0 L141.9 997.8 L142.3 997.8 L142.7 997.7 L143.1 997.5 L143.5 997.8 L143.9 998.0 L144.3 998.0 L144.6 997.8 L145.0 997.3 L145.4 997.1 L145.8 996.9 L146.2 997.1 L146.6 996.8 L147.0 996.8 L147.4 996.2 L147.8 996.1 L148.2 996.4 L148.5 996.7 L148.9 996.7 L149.3 995.9 L149.7 995.7 L150.1 995.2 L150.5 995.1 L150.9 995.2 L151.3 995.3 L151.7 995.3 L152.0 995.2 L152.4 994.1 L152.8 993.7 L153.2 993.6 L153.6 994.6 L154.0 994.5 L154.4 994.0 L154.8 993.8 L155.2 994.0 L155.6 993.6 L155.9 993.0 L156.3 992.2 L156.7 991.9 L157.1 991.2 L157.5 991.4 L157.9 990.9 L158.3 991.1 L158.7 990.6 L159.1 990.2 L159.4 990.2 L159.8 989.7 L160.2 989.7 L160.6 988.7 L161.0 988.8 L161.4 988.4 L161.8 988.5 L162.2 987.9 L162.6 987.9 L163.0 987.9 L163.3 988.3 L163.7 988.4 L164.1 988.8 L164.5 988.1 L164.9 987.7 L165.3 987.6 L165.7 987.5 L166.1 987.7 L166.5 987.7 L166.8 988.2 L167.2 987.9 L167.6 987.3 L168.0 987.2 L168.4 986.9 L168.8 986.6 L169.2 986.0 L169.6 985.8 L170.0 984.9 L170.3 983.5 L170.7 982.1 L171.1 980.7 L171.5 978.6 L171.9 974.9 L172.3 969.6 L172.7 959.1 L173.1 940.5 L173.5 907.1 L173.9 855.4 L174.2 783.3 L174.6 704.4 L175.0 647.6 L175.4 647.9 L175.8 705.3 L176.2 784.1 L176.6 856.0 L177.0 908.6 L177.4 941.0 L177.7 959.3 L178.1 969.4 L178.5 975.0 L178.9 978.4 L179.3 981.1 L179.7 982.7 L180.1 984.2 L180.5 984.4 L180.9 985.2 L181.3 986.2 L181.6 987.2 L182.0 988.0 L182.4 988.5 L182.8 988.5 L183.2 989.5 L183.6 989.8 L184.0 989.5 L184.4 989.0 L184.8 988.7 L185.1 989.5 L185.5 989.8 L185.9 989.9 L186.3 989.9 L186.7 990.0 L187.1 990.3 L187.5 990.4 L187.9 990.5 L188.3 990.7 L188.7 990.6 L189.0 990.0 L189.4 989.8 L189.8 989.7 L190.2 989.7 L190.6 989.4 L191.0 989.8 L191.4 989.7 L191.8 989.7 L192.2 989.3 L192.5 989.1 L192.9 987.9 L193.3 986.6 L193.7 984.5 L194.1 981.9 L194.5 977.3 L194.9 972.0 L195.3 966.5 L195.7 960.7 L196.1 955.1 L196.4 951.3 L196.8 951.6 L197.2 954.7 L197.6 960.2 L198.0 966.1 L198.4 972.6 L198.8 977.6 L199.2 981.7 L199.6 984.5 L199.9 986.7 L200.3 988.3 L200.7 989.4 L201.1 989.8 L201.5 990.2 L201.9 990.1 L202.3 990.5 L202.7 990.2 L203.1 990.8 L203.4 990.5 L203.8 990.5 L204.2 989.9 L204.6 990.2 L205.0 990.1 L205.4 990.4 L205.8 990.1 L206.2 990.4 L206.6 990.8 L207.0 990.7 L207.3 990.5 L207.7 989.7 L208.1 990.0 L208.5 989.7 L208.9 989.8 L209.3 989.6 L209.7 989.8 L210.1 989.2 L210.5 988.5 L210.8 987.1 L211.2 985.9 L211.6 984.0 L212.0 982.2 L212.4 979.2 L212.8 974.6 L213.2 967.0 L213.6 956.3 L214.0 943.1 L214.4 929.6 L214.7 916.6 L215.1 907.1 L215.5 904.2 L215.9 909.6 L216.3 921.2 L216.7 934.7 L217.1 948.2 L217.5 959.8 L217.9 969.1 L218.2 976.2 L218.6 980.7 L219.0 984.6 L219.4 986.3 L219.8 987.4 L220.2 987.7 L220.6 988.5 L221.0 989.1 L221.4 989.3 L221.8 989.8 L222.1 990.2 L222.5 990.0 L222.9 990.4 L223.3 990.5 L223.7 990.6 L224.1 990.7 L224.5 990.8 L224.9 990.7 L225.3 990.4 L225.6 990.5 L226.0 990.5 L226.4 990.7 L226.8 990.7 L227.2 990.7 L227.6 990.1 L228.0 990.3 L228.4 990.6 L228.8 990.9 L229.1 990.1 L229.5 989.8 L229.9 989.9 L230.3 989.8 L230.7 990.2 L231.1 989.5 L231.5 988.8 L231.9 986.7 L232.3 984.9 L232.7 982.8 L233.0 979.0 L233.4 974.3 L233.8 967.9 L234.2 961.2 L234.6 955.5 L235.0 950.6 L235.4 950.0 L235.8 952.4 L236.2 958.7 L236.5 965.4 L236.9 971.8 L237.3 977.2 L237.7 982.0 L238.1 985.1 L238.5 987.2 L238.9 987.9 L239.3 988.8 L239.7 989.4 L240.1 990.0 L240.4 990.8 L240.8 991.6 L241.2 991.8 L241.6 991.8 L242.0 991.3 L242.4 991.7 L242.8 991.8 L243.2 991.8 L243.6 991.5 L243.9 991.7 L244.3 991.8 L244.7 991.7 L245.1 991.8 L245.5 992.2 L245.9 992.2 L246.3 992.0 L246.7 992.0 L247.1 992.2 L247.5 992.9 L247.8 992.7 L248.2 992.5 L248.6 991.8 L249.0 992.5 L249.4 992.7 L249.8 992.7 L250.2 992.3 L250.6 992.2 L251.0 992.8 L251.3 992.6 L251.7 992.4 L252.1 991.7 L252.5 991.5 L252.9 991.6 L253.3 991.4 L253.7 992.1 L254.1 992.0 L254.5 992.4 L254.8 991.7 L255.2 992.0 L255.6 992.1 L256.0 992.6 L256.4 992.4 L256.8 992.5 L257.2 992.1 L257.6 992.0 L258.0 991.8 L258.4 991.9 L258.7 992.3 L259.1 991.8 L259.5 991.6 L259.9 991.8 L260.3 992.0 L260.7 992.5 L261.1 992.1 L261.5 992.2 L261.9 991.9 L262.2 992.1 L262.6 992.2 L263.0 991.9 L263.4 991.6 L263.8 991.5 L264.2 991.8 L264.6 991.5 L265.0 991.5 L265.4 990.4 L265.8 989.8 L266.1 988.7 L266.5 987.7 L266.9 986.3 L267.3 985.2 L267.7 984.7 L268.1 984.8 L268.5 985.9 L268.9 986.7 L269.3 988.2 L269.6 989.2 L270.0 990.5 L270.4 991.1 L270.8 991.5 L271.2 991.9 L271.6 992.3 L272.0 992.0 L272.4 992.5 L272.8 992.4 L273.2 992.4 L273.5 991.8 L273.9 991.6 L274.3 992.3 L274.7 992.7 L275.1 992.9 L275.5 992.8 L275.9 992.7 L276.3 992.5 L276.7 992.1 L277.0 992.0 L277.4 992.3 L277.8 992.5 L278.2 992.5 L278.6 992.1 L279.0 992.2 L279.4 992.4 L279.8 992.8 L280.2 993.0 L280.6 992.7 L280.9 992.7 L281.3 992.2 L281.7 992.0 L282.1 991.9 L282.5 992.1 L282.9 992.4 L283.3 992.3 L283.7 992.3 L284.1 991.9 L284.4 992.1 L284.8 991.8 L285.2 991.9 L285.6 991.7 L286.0 992.3 L286.4 992.7 L286.8 992.8 L287.2 992.5 L287.6 992.5 L287.9 992.0 L288.3 992.0 L288.7 991.7 L289.1 992.0 L289.5 992.2 L289.9 992.7 L290.3 992.8 L290.7 992.8 L291.1 992.2 L291.5 992.1 L291.8 992.3 L292.2 992.4 L292.6 992.2 L293.0 991.3 L293.4 991.0 L293.8 991.1 L294.2 991.3 L294.6 991.1 L295.0 990.2 L295.3 989.7 L295.7 989.6 L296.1 989.9 L296.5 989.4 L296.9 988.1 L297.3 986.2 L297.7 984.1 L298.1 981.3 L298.5 977.9 L298.9 973.8 L299.2 968.9 L299.6 964.2 L300.0 961.7 L300.4 961.4 L300.8 965.0 L301.2 969.5 L301.6 974.7 L302.0 978.3 L302.4 982.1 L302.7 985.2 L303.1 987.5 L303.5 989.1 L303.9 989.8 L304.3 990.5 L304.7 990.5 L305.1 990.7 L305.5 990.9 L305.9 991.2 L306.3 991.2 L306.6 991.5 L307.0 991.0 L307.4 992.1 L307.8 991.7 L308.2 992.2 L308.6 991.5 L309.0 991.7 L309.4 991.4 L309.8 991.7 L310.1 991.9 L310.5 992.2 L310.9 991.9 L311.3 991.9 L311.7 991.7 L312.1 991.8 L312.5 992.2 L312.9 992.3 L313.3 992.4 L313.6 991.9 L314.0 991.2 L314.4 991.0 L314.8 990.7 L315.2 991.5 L315.6 991.5 L316.0 991.3 L316.4 991.3 L316.8 991.7 L317.2 992.5 L317.5 992.7 L317.9 992.1 L318.3 992.1 L318.7 991.7 L319.1 991.9 L319.5 991.5 L319.9 991.3 L320.3 991.5 L320.7 991.3 L321.0 991.6 L321.4 991.7 L321.8 991.9 L322.2 991.9 L322.6 991.9 L323.0 991.8 L323.4 990.8 L323.8 990.6 L324.2 990.0 L324.6 990.4 L324.9 989.4 L325.3 989.3 L325.7 988.0 L326.1 986.5 L326.5 984.3 L326.9 981.4 L327.3 978.8 L327.7 974.1 L328.1 968.7 L328.4 962.6 L328.8 957.6 L329.2 955.3 L329.6 956.0 L330.0 960.0 L330.4 965.5 L330.8 971.0 L331.2 976.2 L331.6 980.1 L332.0 983.1 L332.3 984.9 L332.7 986.7 L333.1 988.3 L333.5 989.3 L333.9 989.5 L334.3 989.2 L334.7 988.7 L335.1 988.9 L335.5 989.7 L335.8 989.7 L336.2 990.1 L336.6 989.4 L337.0 990.0 L337.4 988.9 L337.8 988.5 L338.2 987.4 L338.6 986.9 L339.0 985.3 L339.3 982.7 L339.7 978.2 L340.1 970.7 L340.5 959.7 L340.9 943.9 L341.3 924.1 L341.7 902.1 L342.1 886.5 L342.5 884.3 L342.9 897.3 L343.2 917.2 L343.6 937.9 L344.0 955.5 L344.4 968.4 L344.8 977.2 L345.2 981.9 L345.6 984.9 L346.0 986.2 L346.4 987.4 L346.7 988.1 L347.1 989.2 L347.5 989.7 L347.9 990.2 L348.3 990.0 L348.7 990.4 L349.1 990.6 L349.5 990.5 L349.9 990.2 L350.3 990.4 L350.6 990.7 L351.0 990.9 L351.4 990.7 L351.8 990.7 L352.2 990.8 L352.6 990.7 L353.0 990.7 L353.4 989.8 L353.8 988.9 L354.1 987.1 L354.5 986.1 L354.9 984.3 L355.3 982.0 L355.7 979.0 L356.1 976.8 L356.5 975.8 L356.9 975.9 L357.3 977.6 L357.7 980.5 L358.0 983.1 L358.4 984.9 L358.8 986.2 L359.2 987.5 L359.6 988.6 L360.0 989.7 L360.4 990.6 L360.8 991.5 L361.2 991.4 L361.5 990.8 L361.9 990.5 L362.3 990.7 L362.7 990.9 L363.1 991.1 L363.5 991.1 L363.9 991.6 L364.3 991.9 L364.7 992.1 L365.0 992.3 L365.4 992.7 L365.8 992.8 L366.2 992.2 L366.6 991.8 L367.0 991.9 L367.4 992.2 L367.8 991.5 L368.2 991.2 L368.6 990.6 L368.9 991.0 L369.3 991.5 L369.7 992.1 L370.1 991.7 L370.5 991.0 L370.9 991.3 L371.3 991.8 L371.7 991.5 L372.1 991.6 L372.4 991.6 L372.8 991.8 L373.2 991.1 L373.6 991.1 L374.0 991.4 L374.4 991.4 L374.8 991.1 L375.2 990.8 L375.6 990.9 L376.0 990.6 L376.3 990.5 L376.7 989.5 L377.1 989.3 L377.5 988.2 L377.9 987.4 L378.3 985.5 L378.7 983.5 L379.1 980.0 L379.5 975.5 L379.8 970.2 L380.2 964.5 L380.6 958.8 L381.0 955.3 L381.4 954.4 L381.8 957.8 L382.2 962.4 L382.6 968.8 L383.0 974.5 L383.4 979.5 L383.7 983.5 L384.1 985.7 L384.5 987.7 L384.9 988.6 L385.3 989.4 L385.7 989.4 L386.1 990.0 L386.5 989.9 L386.9 990.9 L387.2 991.1 L387.6 991.7 L388.0 991.7 L388.4 991.9 L388.8 991.6 L389.2 991.6 L389.6 991.1 L390.0 990.7 L390.4 989.4 L390.8 988.5 L391.1 987.3 L391.5 985.7 L391.9 983.3 L392.3 981.1 L392.7 978.9 L393.1 977.1 L393.5 975.4 L393.9 975.3 L394.3 976.7 L394.6 979.6 L395.0 982.2 L395.4 984.4 L395.8 986.4 L396.2 988.5 L396.6 989.6 L397.0 990.4 L397.4 991.0 L397.8 991.2 L398.1 990.8 L398.5 990.5 L398.9 990.9 L399.3 991.6 L399.7 991.8 L400.1 992.0 L400.5 992.2 L400.9 992.4 L401.3 992.5 L401.7 992.3 L402.0 992.1 L402.4 991.8 L402.8 992.1 L403.2 992.0 L403.6 992.3 L404.0 992.3 L404.4 992.4 L404.8 992.6 L405.2 992.4 L405.5 993.0 L405.9 992.7 L406.3 992.4 L406.7 991.7 L407.1 991.8 L407.5 992.2 L407.9 992.0 L408.3 991.6 L408.7 990.9 L409.1 991.7 L409.4 991.3 L409.8 991.5 L410.2 991.4 L410.6 991.6 L411.0 991.2 L411.4 990.6 L411.8 990.7 L412.2 991.3 L412.6 990.9 L412.9 990.2 L413.3 989.2 L413.7 988.6 L414.1 987.0 L414.5 984.7 L414.9 981.2 L415.3 976.6 L415.7 971.5 L416.1 965.7 L416.5 961.4 L416.8 958.4 L417.2 959.0 L417.6 961.9 L418.0 966.6 L418.4 972.7 L418.8 978.4 L419.2 983.3 L419.6 986.1 L420.0 987.6 L420.3 989.0 L420.7 990.1 L421.1 990.9 L421.5 991.2 L421.9 990.6 L422.3 991.0 L422.7 990.5 L423.1 990.6 L423.5 990.5 L423.8 991.1 L424.2 991.8 L424.6 992.0 L425.0 992.2 L425.4 992.6 L425.8 992.3 L426.2 992.0 L426.6 991.9 L427.0 991.8 L427.4 992.2 L427.7 992.2 L428.1 992.4 L428.5 992.4 L428.9 991.7 L429.3 991.4 L429.7 991.0 L430.1 991.2 L430.5 991.9 L430.9 992.4 L431.2 992.7 L431.6 991.9 L432.0 991.9 L432.4 991.6 L432.8 992.6 L433.2 992.5 L433.6 992.9 L434.0 992.0 L434.4 991.6 L434.8 991.5 L435.1 991.6 L435.5 992.2 L435.9 992.6 L436.3 992.3 L436.7 991.0 L437.1 989.9 L437.5 989.8 L437.9 989.8 L438.3 989.9 L438.6 989.0 L439.0 988.5 L439.4 987.2 L439.8 987.0 L440.2 987.0 L440.6 988.4 L441.0 989.3 L441.4 990.5 L441.8 990.6 L442.2 990.9 L442.5 991.0 L442.9 992.0 L443.3 991.8 L443.7 992.0 L444.1 991.5 L444.5 991.3 L444.9 990.8 L445.3 990.8 L445.7 991.3 L446.0 992.0 L446.4 992.2 L446.8 992.1 L447.2 991.8 L447.6 991.6 L448.0 992.0 L448.4 991.7 L448.8 991.3 L449.2 990.3 L449.5 988.6 L449.9 987.1 L450.3 985.3 L450.7 983.7 L451.1 982.2 L451.5 981.1 L451.9 981.9 L452.3 982.9 L452.7 984.5 L453.1 985.9 L453.4 987.3 L453.8 988.9 L454.2 989.6 L454.6 990.2 L455.0 990.7 L455.4 991.5 L455.8 992.3 L456.2 992.4 L456.6 992.2 L456.9 992.4 L457.3 992.2 L457.7 991.9 L458.1 991.5 L458.5 991.7 L458.9 992.0 L459.3 992.3 L459.7 992.4 L460.1 992.4 L460.5 992.2 L460.8 992.6 L461.2 993.1 L461.6 993.2 L462.0 993.1 L462.4 992.9 L462.8 993.3 L463.2 993.2 L463.6 993.2 L464.0 992.6 L464.3 992.9 L464.7 992.6 L465.1 992.6 L465.5 992.0 L465.9 992.3 L466.3 992.1 L466.7 992.3 L467.1 992.1 L467.5 992.3 L467.9 992.5 L468.2 992.4 L468.6 992.4 L469.0 992.0 L469.4 991.7 L469.8 991.2 L470.2 991.0 L470.6 990.4 L471.0 990.6 L471.4 989.9 L471.7 989.0 L472.1 988.0 L472.5 987.9 L472.9 988.3 L473.3 989.4 L473.7 990.0 L474.1 991.6 L474.5 991.7 L474.9 992.1 L475.3 992.6 L475.6 993.2 L476.0 993.3 L476.4 992.7 L476.8 992.2 L477.2 991.9 L477.6 992.0 L478.0 992.3 L478.4 992.0 L478.8 992.3 L479.1 992.0 L479.5 992.7 L479.9 992.6 L480.3 992.8 L480.7 992.9 L481.1 992.6 L481.5 992.5 L481.9 992.0 L482.3 991.9 L482.6 991.7 L483.0 991.9 L483.4 992.1 L483.8 992.5 L484.2 992.4 L484.6 993.1 L485.0 993.2 L485.4 993.1 L485.8 993.0 L486.2 992.7 L486.5 992.7 L486.9 992.3 L487.3 992.6 L487.7 992.5 L488.1 992.0 L488.5 991.4 L488.9 992.0 L489.3 992.1 L489.7 992.6 L490.0 991.8 L490.4 992.3 L490.8 991.9 L491.2 992.0 L491.6 992.2 L492.0 992.0 L492.4 992.4 L492.8 991.9 L493.2 992.3 L493.6 992.4 L493.9 993.0 L494.3 993.0 L494.7 992.7 L495.1 992.6 L495.5 992.2 L495.9 992.2 L496.3 992.3 L496.7 992.7 L497.1 992.8 L497.4 992.4 L497.8 992.3 L498.2 992.2 L498.6 992.2 L499.0 992.2 L499.4 992.5 L499.8 992.7 L500.2 992.7 L500.6 992.8 L501.0 992.6 L501.3 992.5 L501.7 992.9 L502.1 992.7 L502.5 992.8 L502.9 992.2 L503.3 992.2 L503.7 992.3 L504.1 992.2 L504.5 992.7 L504.8 993.0 L505.2 993.0 L505.6 992.6 L506.0 992.5 L506.4 992.8 L506.8 992.2 L507.2 992.3 L507.6 991.8 L508.0 992.1 L508.3 992.2 L508.7 992.5 L509.1 992.8" stroke="#0a940a" stroke-width="3" fill="none" stroke-linejoin="round"/>
<path d="M73.0 918.2 L73.4 918.1 L73.8 918.6 L74.2 919.1 L74.6 919.1 L74.9 919.5 L75.3 918.9 L75.7 919.1 L76.1 918.4 L76.5 918.5 L76.9 918.4 L77.3 918.9 L77.7 918.7 L78.1 918.8 L78.5 918.3 L78.8 918.3 L79.2 918.0 L79.6 918.2 L80.0 918.9 L80.4 919.5 L80.8 919.2 L81.2 918.4 L81.6 917.7 L82.0 918.1 L82.3 918.6 L82.7 918.7 L83.1 918.3 L83.5 918.0 L83.9 918.3 L84.3 918.9 L84.7 918.9 L85.1 918.6 L85.5 918.4 L85.9 918.5 L86.2 918.9 L86.6 918.7 L87.0 919.0 L87.4 919.1 L87.8 919.2 L88.2 918.7 L88.6 918.7 L89.0 918.5 L89.4 918.6 L89.7 918.0 L90.1 918.1 L90.5 917.4 L90.9 917.4 L91.3 917.2 L91.7 917.8 L92.1 918.6 L92.5 918.9 L92.9 918.4 L93.2 917.4 L93.6 916.7 L94.0 915.9 L94.4 913.9 L94.8 911.8 L95.2 909.6 L95.6 907.3 L96.0 904.4 L96.4 901.8 L96.8 900.0 L97.1 899.6 L97.5 900.4 L97.9 902.7 L98.3 905.7 L98.7 908.9 L99.1 911.6 L99.5 914.2 L99.9 915.7 L100.3 916.8 L100.6 916.5 L101.0 916.7 L101.4 917.5 L101.8 918.0 L102.2 918.0 L102.6 917.9 L103.0 918.2 L103.4 918.8 L103.8 919.1 L104.2 919.1 L104.5 918.9 L104.9 919.0 L105.3 919.0 L105.7 919.4 L106.1 919.0 L106.5 918.6 L106.9 918.4 L107.3 919.0 L107.7 919.3 L108.0 919.1 L108.4 918.8 L108.8 918.6 L109.2 919.0 L109.6 919.3 L110.0 919.2 L110.4 919.2 L110.8 919.1 L111.2 920.1 L111.6 920.2 L111.9 920.3 L112.3 919.7 L112.7 919.5 L113.1 919.4 L113.5 919.7 L113.9 919.7 L114.3 919.7 L114.7 919.3 L115.1 919.7 L115.4 919.9 L115.8 920.5 L116.2 920.9 L116.6 921.2 L117.0 921.1 L117.4 920.8 L117.8 921.6 L118.2 921.6 L118.6 922.0 L118.9 920.9 L119.3 921.0 L119.7 921.1 L120.1 921.4 L120.5 921.3 L120.9 921.7 L121.3 922.1 L121.7 922.2 L122.1 921.6 L122.5 921.2 L122.8 920.9 L123.2 921.1 L123.6 920.6 L124.0 920.5 L124.4 919.1 L124.8 918.1 L125.2 916.6 L125.6 914.8 L126.0 913.7 L126.3 913.7 L126.7 914.8 L127.1 916.1 L127.5 917.1 L127.9 919.3 L128.3 921.0 L128.7 923.2 L129.1 924.0 L129.5 924.8 L129.9 924.2 L130.2 924.2 L130.6 923.8 L131.0 924.4 L131.4 924.6 L131.8 924.9 L132.2 925.5 L132.6 925.2 L133.0 925.4 L133.4 924.6 L133.7 924.9 L134.1 925.3 L134.5 925.9 L134.9 926.3 L135.3 926.2 L135.7 926.3 L136.1 926.2 L136.5 926.3 L136.9 926.4 L137.3 926.4 L137.6 926.2 L138.0 926.1 L138.4 926.1 L138.8 926.2 L139.2 925.9 L139.6 926.0 L140.0 925.5 L140.4 926.1 L140.8 925.6 L141.1 926.0 L141.5 925.1 L141.9 925.6 L142.3 925.5 L142.7 925.6 L143.1 925.5 L143.5 925.5 L143.9 925.6 L144.3 925.0 L144.6 925.2 L145.0 925.1 L145.4 925.0 L145.8 924.4 L146.2 923.9 L146.6 924.7 L147.0 924.9 L147.4 925.3 L147.8 924.8 L148.2 924.5 L148.5 924.0 L148.9 924.0 L149.3 923.5 L149.7 923.5 L150.1 923.0 L150.5 922.4 L150.9 922.3 L151.3 921.5 L151.7 922.1 L152.0 921.6 L152.4 921.9 L152.8 921.7 L153.2 921.4 L153.6 920.9 L154.0 920.2 L154.4 920.1 L154.8 919.8 L155.2 919.5 L155.6 919.1 L155.9 919.9 L156.3 919.9 L156.7 919.4 L157.1 918.6 L157.5 919.1 L157.9 919.3 L158.3 918.7 L158.7 918.0 L159.1 917.6 L159.4 917.1 L159.8 916.7 L160.2 916.5 L160.6 915.9 L161.0 915.5 L161.4 915.4 L161.8 915.5 L162.2 915.2 L162.6 914.7 L163.0 914.8 L163.3 915.1 L163.7 914.3 L164.1 914.5 L164.5 914.3 L164.9 914.9 L165.3 914.3 L165.7 914.5 L166.1 914.6 L166.5 915.1 L166.8 914.9 L167.2 915.5 L167.6 915.0 L168.0 914.9 L168.4 914.2 L168.8 914.4 L169.2 914.9 L169.6 915.2 L170.0 915.0 L170.3 913.7 L170.7 912.9 L171.1 912.0 L171.5 911.6 L171.9 910.8 L172.3 910.0 L172.7 908.4 L173.1 905.9 L173.5 903.0 L173.9 898.3 L174.2 890.1 L174.6 874.0 L175.0 845.6 L175.4 800.2 L175.8 736.3 L176.2 663.0 L176.6 602.7 L177.0 592.2 L177.4 638.7 L177.7 711.4 L178.1 780.7 L178.5 832.4 L178.9 866.5 L179.3 885.4 L179.7 896.3 L180.1 902.1 L180.5 905.5 L180.9 907.3 L181.3 909.0 L181.6 910.7 L182.0 912.3 L182.4 914.0 L182.8 915.0 L183.2 915.1 L183.6 914.7 L184.0 914.7 L184.4 915.2 L184.8 915.0 L185.1 915.0 L185.5 915.4 L185.9 915.3 L186.3 915.4 L186.7 915.5 L187.1 916.1 L187.5 916.4 L187.9 916.3 L188.3 916.6 L188.7 916.1 L189.0 916.3 L189.4 916.2 L189.8 917.0 L190.2 916.8 L190.6 916.9 L191.0 916.4 L191.4 915.7 L191.8 915.7 L192.2 915.7 L192.5 916.2 L192.9 916.1 L193.3 915.6 L193.7 915.0 L194.1 913.9 L194.5 913.1 L194.9 911.2 L195.3 908.9 L195.7 905.1 L196.1 900.4 L196.4 894.6 L196.8 888.1 L197.2 881.9 L197.6 877.8 L198.0 876.8 L198.4 879.3 L198.8 884.2 L199.2 890.4 L199.6 896.9 L199.9 902.8 L200.3 907.3 L200.7 910.5 L201.1 912.8 L201.5 914.2 L201.9 914.8 L202.3 915.2 L202.7 916.2 L203.1 916.8 L203.4 916.9 L203.8 917.1 L204.2 917.1 L204.6 917.2 L205.0 916.7 L205.4 917.0 L205.8 917.1 L206.2 917.4 L206.6 917.0 L207.0 917.2 L207.3 917.2 L207.7 917.0 L208.1 916.8 L208.5 917.1 L208.9 917.2 L209.3 916.9 L209.7 917.0 L210.1 917.2 L210.5 917.8 L210.8 917.2 L211.2 916.9 L211.6 916.1 L212.0 916.2 L212.4 916.5 L212.8 916.0 L213.2 915.1 L213.6 914.4 L214.0 913.9 L214.4 913.1 L214.7 911.5 L215.1 909.0 L215.5 904.3 L215.9 897.9 L216.3 889.4 L216.7 879.8 L217.1 869.3 L217.5 860.6 L217.9 855.4 L218.2 855.7 L218.6 861.0 L219.0 869.6 L219.4 879.5 L219.8 888.5 L220.2 896.6 L220.6 903.0 L221.0 908.3 L221.4 911.6 L221.8 913.7 L222.1 914.5 L222.5 915.1 L222.9 914.7 L223.3 915.1 L223.7 915.2 L224.1 916.1 L224.5 916.7 L224.9 916.9 L225.3 916.8 L225.6 916.9 L226.0 917.3 L226.4 917.4 L226.8 917.0 L227.2 916.8 L227.6 917.0 L228.0 917.3 L228.4 917.2 L228.8 917.1 L229.1 917.4 L229.5 917.7 L229.9 917.5 L230.3 916.7 L230.7 916.1 L231.1 916.3 L231.5 916.8 L231.9 916.3 L232.3 915.7 L232.7 915.1 L233.0 915.0 L233.4 913.9 L233.8 912.2 L234.2 909.8 L234.6 906.1 L235.0 901.7 L235.4 896.2 L235.8 890.2 L236.2 884.0 L236.5 879.6 L236.9 878.4 L237.3 881.0 L237.7 886.1 L238.1 892.6 L238.5 898.1 L238.9 903.7 L239.3 907.7 L239.7 910.9 L240.1 913.1 L240.4 914.4 L240.8 915.8 L241.2 916.4 L241.6 917.1 L242.0 917.3 L242.4 917.4 L242.8 918.1 L243.2 918.0 L243.6 918.1 L243.9 917.8 L244.3 918.2 L244.7 918.3 L245.1 918.2 L245.5 917.4 L245.9 917.1 L246.3 917.1 L246.7 917.8 L247.1 918.1 L247.5 918.5 L247.8 918.8 L248.2 918.7 L248.6 918.9 L249.0 918.7 L249.4 919.1 L249.8 918.5 L250.2 918.3 L250.6 918.1 L251.0 917.8 L251.3 917.8 L251.7 917.3 L252.1 917.2 L252.5 916.4 L252.9 915.7 L253.3 915.1 L253.7 915.6 L254.1 915.8 L254.5 915.5 L254.8 915.1 L255.2 915.4 L255.6 915.6 L256.0 916.1 L256.4 916.5 L256.8 917.0 L257.2 917.5 L257.6 918.1 L258.0 918.6 L258.4 918.7 L258.7 918.5 L259.1 918.4 L259.5 917.9 L259.9 918.1 L260.3 918.5 L260.7 918.6 L261.1 918.5 L261.5 918.3 L261.9 918.0 L262.2 918.4 L262.6 918.2 L263.0 918.8 L263.4 918.1 L263.8 918.4 L264.2 918.3 L264.6 918.5 L265.0 918.1 L265.4 917.9 L265.8 917.5 L266.1 918.1 L266.5 918.4 L266.9 918.9 L267.3 918.6 L267.7 918.0 L268.1 917.3 L268.5 916.9 L268.9 917.2 L269.3 916.9 L269.6 916.4 L270.0 915.3 L270.4 914.4 L270.8 913.6 L271.2 912.9 L271.6 913.8 L272.0 915.1 L272.4 916.9 L272.8 917.0 L273.2 917.5 L273.5 917.4 L273.9 917.8 L274.3 917.9 L274.7 918.0 L275.1 918.8 L275.5 918.3 L275.9 918.9 L276.3 918.8 L276.7 919.2 L277.0 918.9 L277.4 918.5 L277.8 918.0 L278.2 917.6 L278.6 917.5 L279.0 918.2 L279.4 918.6 L279.8 918.5 L280.2 917.6 L280.6 917.3 L280.9 917.8 L281.3 918.0 L281.7 918.3 L282.1 918.5 L282.5 918.5 L282.9 918.4 L283.3 918.2 L283.7 918.3 L284.1 918.1 L284.4 918.2 L284.8 918.7 L285.2 919.0 L285.6 919.1 L286.0 918.7 L286.4 918.4 L286.8 918.3 L287.2 918.4 L287.6 918.9 L287.9 918.7 L288.3 918.7 L288.7 918.1 L289.1 917.9 L289.5 917.7 L289.9 917.9 L290.3 918.0 L290.7 917.6 L291.1 917.9 L291.5 917.9 L291.8 918.2 L292.2 917.7 L292.6 917.8 L293.0 918.1 L293.4 918.3 L293.8 918.1 L294.2 918.1 L294.6 918.0 L295.0 918.4 L295.3 917.8 L295.7 917.2 L296.1 917.1 L296.5 917.3 L296.9 918.1 L297.3 917.2 L297.7 916.0 L298.1 914.2 L298.5 913.4 L298.9 911.5 L299.2 908.2 L299.6 904.4 L300.0 900.0 L300.4 895.2 L300.8 890.3 L301.2 886.7 L301.6 886.8 L302.0 889.1 L302.4 894.1 L302.7 899.1 L303.1 903.8 L303.5 907.4 L303.9 910.1 L304.3 912.3 L304.7 914.0 L305.1 915.0 L305.5 915.5 L305.9 915.9 L306.3 916.4 L306.6 916.8 L307.0 916.9 L307.4 917.3 L307.8 917.5 L308.2 917.5 L308.6 917.8 L309.0 917.9 L309.4 917.9 L309.8 917.7 L310.1 918.2 L310.5 917.8 L310.9 917.3 L311.3 916.4 L311.7 916.9 L312.1 917.4 L312.5 918.6 L312.9 918.5 L313.3 918.0 L313.6 917.5 L314.0 917.8 L314.4 918.3 L314.8 917.6 L315.2 918.1 L315.6 917.6 L316.0 918.0 L316.4 918.0 L316.8 918.8 L317.2 918.8 L317.5 918.0 L317.9 917.8 L318.3 918.0 L318.7 918.5 L319.1 918.1 L319.5 918.0 L319.9 918.1 L320.3 918.5 L320.7 918.7 L321.0 918.4 L321.4 917.9 L321.8 917.7 L322.2 917.8 L322.6 918.5 L323.0 918.2 L323.4 918.1 L323.8 917.3 L324.2 917.9 L324.6 917.4 L324.9 917.6 L325.3 916.9 L325.7 917.0 L326.1 916.9 L326.5 916.5 L326.9 916.0 L327.3 915.2 L327.7 914.1 L328.1 912.5 L328.4 910.3 L328.8 907.3 L329.2 903.2 L329.6 897.8 L330.0 891.7 L330.4 886.8 L330.8 883.6 L331.2 884.7 L331.6 888.0 L332.0 893.4 L332.3 898.3 L332.7 903.1 L333.1 906.6 L333.5 909.8 L333.9 912.1 L334.3 913.7 L334.7 914.9 L335.1 915.5 L335.5 915.8 L335.8 915.8 L336.2 915.3 L336.6 915.4 L337.0 915.3 L337.4 915.6 L337.8 915.5 L338.2 916.0 L338.6 915.8 L339.0 915.9 L339.3 914.4 L339.7 914.4 L340.1 913.3 L340.5 912.1 L340.9 909.1 L341.3 905.9 L341.7 901.5 L342.1 895.5 L342.5 887.2 L342.9 877.0 L343.2 866.0 L343.6 855.3 L344.0 847.8 L344.4 846.6 L344.8 851.9 L345.2 861.9 L345.6 873.5 L346.0 884.4 L346.4 894.0 L346.7 900.6 L347.1 905.8 L347.5 909.1 L347.9 911.5 L348.3 913.3 L348.7 914.7 L349.1 915.2 L349.5 915.7 L349.9 915.3 L350.3 915.6 L350.6 916.1 L351.0 917.1 L351.4 917.5 L351.8 917.2 L352.2 917.1 L352.6 917.6 L353.0 917.6 L353.4 917.5 L353.8 917.5 L354.1 917.4 L354.5 917.4 L354.9 916.7 L355.3 916.4 L355.7 915.0 L356.1 913.7 L356.5 911.9 L356.9 910.2 L357.3 907.3 L357.7 903.9 L358.0 901.0 L358.4 900.3 L358.8 901.1 L359.2 903.0 L359.6 905.5 L360.0 908.1 L360.4 910.6 L360.8 912.5 L361.2 913.9 L361.5 915.2 L361.9 916.2 L362.3 917.4 L362.7 917.5 L363.1 918.1 L363.5 917.4 L363.9 917.4 L364.3 916.8 L364.7 917.6 L365.0 918.0 L365.4 918.6 L365.8 918.6 L366.2 918.6 L366.6 918.5 L367.0 918.6 L367.4 918.7 L367.8 918.7 L368.2 918.5 L368.6 918.5 L368.9 918.5 L369.3 918.4 L369.7 918.1 L370.1 917.4 L370.5 917.4 L370.9 917.6 L371.3 918.1 L371.7 917.9 L372.1 918.6 L372.4 918.5 L372.8 918.0 L373.2 917.7 L373.6 917.6 L374.0 918.2 L374.4 917.6 L374.8 917.9 L375.2 917.2 L375.6 917.5 L376.0 917.6 L376.3 918.0 L376.7 918.3 L377.1 918.0 L377.5 918.0 L377.9 917.2 L378.3 916.8 L378.7 915.9 L379.1 916.0 L379.5 915.5 L379.8 916.1 L380.2 915.3 L380.6 913.9 L381.0 910.9 L381.4 907.2 L381.8 903.2 L382.2 897.9 L382.6 892.6 L383.0 887.5 L383.4 884.6 L383.7 884.6 L384.1 887.1 L384.5 891.8 L384.9 896.9 L385.3 902.1 L385.7 907.0 L386.1 910.8 L386.5 913.8 L386.9 914.9 L387.2 915.4 L387.6 915.6 L388.0 916.0 L388.4 916.7 L388.8 917.0 L389.2 917.0 L389.6 917.3 L390.0 917.1 L390.4 917.8 L390.8 917.2 L391.1 916.9 L391.5 916.4 L391.9 916.5 L392.3 915.8 L392.7 915.3 L393.1 913.9 L393.5 912.3 L393.9 910.1 L394.3 907.9 L394.6 906.3 L395.0 905.3 L395.4 905.1 L395.8 906.2 L396.2 907.7 L396.6 910.2 L397.0 912.2 L397.4 914.0 L397.8 915.5 L398.1 916.6 L398.5 917.3 L398.9 917.3 L399.3 917.2 L399.7 916.9 L400.1 917.5 L400.5 917.9 L400.9 918.0 L401.3 917.9 L401.7 917.5 L402.0 917.9 L402.4 917.9 L402.8 918.1 L403.2 918.5 L403.6 917.7 L404.0 917.7 L404.4 917.4 L404.8 918.4 L405.2 918.6 L405.5 918.3 L405.9 918.1 L406.3 917.7 L406.7 918.1 L407.1 918.1 L407.5 918.8 L407.9 919.1 L408.3 918.6 L408.7 918.4 L409.1 918.2 L409.4 918.2 L409.8 918.4 L410.2 918.0 L410.6 918.2 L411.0 917.4 L411.4 917.2 L411.8 917.5 L412.2 917.3 L412.6 917.7 L412.9 918.0 L413.3 919.0 L413.7 918.5 L414.1 917.9 L414.5 916.9 L414.9 917.2 L415.3 917.7 L415.7 918.0 L416.1 917.2 L416.5 915.8 L416.8 915.5 L417.2 914.4 L417.6 912.8 L418.0 909.8 L418.4 907.0 L418.8 903.7 L419.2 899.8 L419.6 896.1 L420.0 893.6 L420.3 892.7 L420.7 894.4 L421.1 897.8 L421.5 902.0 L421.9 906.0 L422.3 909.0 L422.7 911.9 L423.1 913.9 L423.5 915.4 L423.8 916.3 L424.2 916.7 L424.6 917.4 L425.0 917.2 L425.4 918.1 L425.8 917.7 L426.2 917.5 L426.6 917.0 L427.0 917.2 L427.4 917.8 L427.7 917.8 L428.1 918.4 L428.5 918.5 L428.9 918.9 L429.3 918.6 L429.7 918.7 L430.1 918.6 L430.5 918.3 L430.9 918.5 L431.2 918.3 L431.6 918.5 L432.0 918.0 L432.4 918.1 L432.8 918.3 L433.2 918.9 L433.6 918.2 L434.0 917.9 L434.4 918.2 L434.8 919.5 L435.1 919.5 L435.5 919.2 L435.9 918.6 L436.3 919.0 L436.7 918.6 L437.1 918.7 L437.5 918.8 L437.9 918.9 L438.3 919.1 L438.6 918.4 L439.0 918.8 L439.4 918.9 L439.8 919.5 L440.2 919.1 L440.6 918.5 L441.0 918.1 L441.4 918.9 L441.8 919.3 L442.2 919.2 L442.5 918.8 L442.9 919.2 L443.3 919.1 L443.7 919.0 L444.1 918.7 L444.5 918.9 L444.9 919.1 L445.3 918.7 L445.7 918.7 L446.0 918.2 L446.4 918.6 L446.8 918.3 L447.2 918.2 L447.6 917.8 L448.0 917.8 L448.4 918.3 L448.8 918.5 L449.2 918.9 L449.5 918.1 L449.9 917.8 L450.3 917.4 L450.7 917.5 L451.1 916.8 L451.5 916.0 L451.9 915.0 L452.3 913.7 L452.7 912.6 L453.1 911.2 L453.4 909.9 L453.8 909.2 L454.2 908.9 L454.6 909.4 L455.0 910.7 L455.4 912.4 L455.8 914.5 L456.2 915.5 L456.6 916.3 L456.9 916.7 L457.3 917.0 L457.7 917.6 L458.1 917.7 L458.5 917.8 L458.9 917.5 L459.3 917.5 L459.7 917.9 L460.1 918.3 L460.5 918.6 L460.8 918.1 L461.2 918.1 L461.6 917.7 L462.0 917.9 L462.4 917.6 L462.8 917.6 L463.2 917.7 L463.6 917.9 L464.0 918.3 L464.3 918.3 L464.7 918.4 L465.1 918.6 L465.5 919.0 L465.9 918.3 L466.3 918.4 L466.7 918.3 L467.1 919.0 L467.5 918.9 L467.9 918.8 L468.2 918.9 L468.6 919.3 L469.0 919.1 L469.4 918.5 L469.8 917.8 L470.2 917.5 L470.6 918.0 L471.0 918.2 L471.4 918.0 L471.7 917.4 L472.1 917.5 L472.5 917.5 L472.9 917.3 L473.3 916.8 L473.7 916.7 L474.1 916.7 L474.5 916.4 L474.9 916.3 L475.3 916.1 L475.6 916.4 L476.0 916.5 L476.4 917.3 L476.8 917.8 L477.2 918.3 L477.6 918.4 L478.0 918.6 L478.4 918.2 L478.8 917.9 L479.1 917.1 L479.5 917.5 L479.9 917.4 L480.3 917.9 L480.7 918.2 L481.1 918.8 L481.5 918.8 L481.9 918.9 L482.3 918.7 L482.6 919.2 L483.0 918.6 L483.4 919.0 L483.8 918.5 L484.2 918.5 L484.6 918.2 L485.0 918.1 L485.4 917.7 L485.8 918.0 L486.2 918.5 L486.5 918.9 L486.9 918.4 L487.3 918.0 L487.7 918.0 L488.1 918.2 L488.5 917.9 L488.9 918.3 L489.3 918.6 L489.7 919.3 L490.0 919.0 L490.4 918.6 L490.8 918.0 L491.2 918.4 L491.6 918.3 L492.0 918.9 L492.4 918.6 L492.8 918.5 L493.2 918.3 L493.6 918.2 L493.9 918.3 L494.3 918.1 L494.7 918.5 L495.1 918.9 L495.5 918.4 L495.9 918.3 L496.3 918.3 L496.7 918.8 L497.1 919.1 L497.4 919.4 L497.8 919.7 L498.2 919.3 L498.6 918.7 L499.0 918.5 L499.4 918.5 L499.8 918.2 L500.2 918.1 L500.6 918.5 L501.0 918.6 L501.3 918.9 L501.7 919.0 L502.1 919.3 L502.5 919.3 L502.9 918.4 L503.3 918.2 L503.7 918.3 L504.1 918.5 L504.5 918.7 L504.8 918.7 L505.2 918.8 L505.6 918.6 L506.0 918.3 L506.4 918.5 L506.8 918.4 L507.2 918.3 L507.6 918.2 L508.0 918.1 L508.3 917.8 L508.7 917.8 L509.1 918.0" stroke="#666699" stroke-width="3" fill="none" stroke-linejoin="round"/>
<path d="M73.0 854.9 L73.4 855.0 L73.8 855.0 L74.2 855.0 L74.6 855.5 L74.9 855.6 L75.3 856.0 L75.7 855.6 L76.1 855.4 L76.5 855.2 L76.9 855.0 L77.3 854.7 L77.7 854.5 L78.1 854.8 L78.5 854.8 L78.8 854.9 L79.2 854.4 L79.6 854.3 L80.0 854.3 L80.4 854.7 L80.8 855.2 L81.2 855.1 L81.6 855.4 L82.0 855.1 L82.3 855.6 L82.7 855.6 L83.1 855.3 L83.5 854.4 L83.9 853.7 L84.3 854.6 L84.7 855.4 L85.1 856.1 L85.5 856.1 L85.9 855.6 L86.2 855.3 L86.6 854.9 L87.0 855.1 L87.4 855.1 L87.8 854.6 L88.2 854.3 L88.6 854.3 L89.0 854.5 L89.4 854.8 L89.7 854.6 L90.1 854.5 L90.5 854.5 L90.9 854.5 L91.3 854.9 L91.7 854.2 L92.1 853.6 L92.5 853.4 L92.9 853.3 L93.2 854.1 L93.6 854.1 L94.0 854.1 L94.4 853.7 L94.8 853.3 L95.2 853.2 L95.6 852.4 L96.0 851.6 L96.4 850.7 L96.8 849.2 L97.1 847.1 L97.5 843.6 L97.9 840.8 L98.3 837.9 L98.7 835.8 L99.1 834.9 L99.5 835.5 L99.9 838.6 L100.3 842.6 L100.6 846.0 L101.0 848.5 L101.4 849.9 L101.8 852.0 L102.2 853.1 L102.6 853.5 L103.0 853.5 L103.4 853.7 L103.8 853.9 L104.2 854.1 L104.5 854.5 L104.9 854.7 L105.3 854.7 L105.7 854.0 L106.1 854.1 L106.5 854.6 L106.9 854.9 L107.3 854.8 L107.7 854.7 L108.0 855.4 L108.4 855.2 L108.8 855.6 L109.2 855.5 L109.6 855.9 L110.0 855.7 L110.4 855.7 L110.8 855.7 L111.2 855.6 L111.6 855.9 L111.9 856.3 L112.3 856.3 L112.7 855.7 L113.1 855.9 L113.5 855.5 L113.9 856.1 L114.3 855.5 L114.7 855.4 L115.1 854.9 L115.4 855.4 L115.8 855.7 L116.2 855.8 L116.6 855.7 L117.0 856.3 L117.4 856.8 L117.8 857.1 L118.2 856.5 L118.6 856.3 L118.9 856.3 L119.3 857.2 L119.7 857.3 L120.1 857.6 L120.5 857.8 L120.9 858.0 L121.3 858.1 L121.7 858.0 L122.1 858.2 L122.5 858.3 L122.8 858.3 L123.2 858.2 L123.6 858.9 L124.0 859.2 L124.4 859.4 L124.8 858.7 L125.2 858.3 L125.6 858.0 L126.0 857.7 L126.3 857.6 L126.7 856.6 L127.1 855.8 L127.5 854.3 L127.9 853.2 L128.3 851.6 L128.7 851.0 L129.1 851.5 L129.5 852.8 L129.9 854.3 L130.2 855.9 L130.6 856.8 L131.0 858.0 L131.4 859.1 L131.8 860.1 L132.2 860.7 L132.6 860.8 L133.0 860.8 L133.4 860.6 L133.7 861.1 L134.1 861.5 L134.5 862.0 L134.9 861.6 L135.3 861.8 L135.7 862.2 L136.1 863.4 L136.5 863.6 L136.9 863.5 L137.3 862.8 L137.6 862.1 L138.0 861.8 L138.4 861.4 L138.8 862.2 L139.2 862.0 L139.6 862.4 L140.0 862.5 L140.4 862.8 L140.8 862.6 L141.1 862.4 L141.5 861.9 L141.9 861.8 L142.3 861.8 L142.7 862.8 L143.1 862.5 L143.5 861.8 L143.9 860.9 L144.3 861.2 L144.6 861.6 L145.0 861.5 L145.4 861.2 L145.8 860.9 L146.2 860.7 L146.6 860.2 L147.0 860.2 L147.4 860.3 L147.8 860.4 L148.2 860.2 L148.5 859.8 L148.9 860.0 L149.3 859.5 L149.7 859.7 L150.1 858.9 L150.5 858.8 L150.9 858.7 L151.3 858.9 L151.7 859.1 L152.0 858.6 L152.4 858.3 L152.8 857.8 L153.2 857.6 L153.6 857.2 L154.0 857.0 L154.4 857.2 L154.8 856.7 L155.2 856.2 L155.6 855.6 L155.9 855.3 L156.3 855.2 L156.7 854.5 L157.1 854.5 L157.5 854.1 L157.9 854.2 L158.3 853.9 L158.7 853.6 L159.1 853.3 L159.4 853.1 L159.8 852.6 L160.2 852.4 L160.6 851.5 L161.0 851.5 L161.4 851.5 L161.8 852.1 L162.2 851.8 L162.6 851.4 L163.0 851.4 L163.3 851.2 L163.7 851.8 L164.1 851.8 L164.5 852.2 L164.9 851.8 L165.3 851.9 L165.7 851.5 L166.1 851.3 L166.5 851.1 L166.8 851.5 L167.2 851.9 L167.6 852.0 L168.0 851.9 L168.4 851.7 L168.8 851.7 L169.2 852.0 L169.6 852.6 L170.0 853.1 L170.3 852.9 L170.7 852.8 L171.1 852.4 L171.5 851.9 L171.9 851.2 L172.3 850.7 L172.7 850.6 L173.1 850.1 L173.5 849.3 L173.9 848.9 L174.2 848.5 L174.6 847.7 L175.0 846.1 L175.4 843.2 L175.8 840.1 L176.2 835.4 L176.6 827.6 L177.0 812.1 L177.4 785.3 L177.7 743.1 L178.1 683.8 L178.5 618.9 L178.9 571.4 L179.3 571.7 L179.7 619.0 L180.1 683.8 L180.5 743.3 L180.9 785.8 L181.3 813.0 L181.6 827.8 L182.0 836.0 L182.4 840.4 L182.8 842.7 L183.2 844.9 L183.6 846.7 L184.0 848.3 L184.4 848.9 L184.8 849.0 L185.1 850.0 L185.5 850.9 L185.9 851.6 L186.3 851.5 L186.7 851.7 L187.1 851.6 L187.5 851.8 L187.9 851.8 L188.3 852.5 L188.7 853.4 L189.0 853.6 L189.4 853.1 L189.8 852.5 L190.2 852.8 L190.6 853.0 L191.0 853.3 L191.4 852.9 L191.8 853.4 L192.2 853.7 L192.5 853.9 L192.9 853.2 L193.3 853.0 L193.7 852.9 L194.1 852.7 L194.5 852.6 L194.9 852.6 L195.3 853.0 L195.7 852.3 L196.1 851.9 L196.4 851.5 L196.8 851.2 L197.2 849.7 L197.6 847.2 L198.0 843.9 L198.4 839.4 L198.8 833.9 L199.2 827.7 L199.6 821.6 L199.9 815.4 L200.3 811.2 L200.7 810.6 L201.1 814.3 L201.5 820.9 L201.9 827.9 L202.3 835.0 L202.7 840.7 L203.1 845.5 L203.4 847.9 L203.8 849.3 L204.2 850.0 L204.6 850.6 L205.0 851.6 L205.4 852.1 L205.8 853.0 L206.2 853.0 L206.6 853.1 L207.0 853.2 L207.3 853.4 L207.7 853.5 L208.1 853.6 L208.5 853.4 L208.9 853.4 L209.3 853.4 L209.7 853.4 L210.1 853.5 L210.5 853.0 L210.8 853.3 L211.2 853.0 L211.6 853.1 L212.0 852.4 L212.4 852.7 L212.8 853.1 L213.2 853.0 L213.6 852.8 L214.0 852.2 L214.4 852.5 L214.7 852.6 L215.1 852.7 L215.5 852.2 L215.9 851.8 L216.3 850.3 L216.7 848.1 L217.1 845.7 L217.5 842.3 L217.9 838.0 L218.2 831.3 L218.6 822.7 L219.0 811.8 L219.4 800.8 L219.8 792.7 L220.2 788.4 L220.6 789.8 L221.0 795.7 L221.4 805.7 L221.8 815.6 L222.1 825.9 L222.5 833.7 L222.9 840.7 L223.3 844.6 L223.7 847.5 L224.1 849.3 L224.5 850.4 L224.9 851.7 L225.3 852.3 L225.6 852.7 L226.0 852.9 L226.4 852.8 L226.8 853.2 L227.2 853.4 L227.6 853.6 L228.0 853.8 L228.4 853.1 L228.8 853.1 L229.1 852.5 L229.5 853.3 L229.9 853.0 L230.3 853.5 L230.7 853.1 L231.1 853.5 L231.5 853.2 L231.9 852.8 L232.3 852.8 L232.7 853.2 L233.0 853.2 L233.4 853.1 L233.8 852.8 L234.2 853.3 L234.6 853.2 L235.0 852.8 L235.4 852.0 L235.8 851.1 L236.2 849.1 L236.5 846.6 L236.9 843.2 L237.3 839.0 L237.7 832.9 L238.1 826.5 L238.5 820.9 L238.9 817.3 L239.3 817.1 L239.7 819.6 L240.1 824.7 L240.4 829.6 L240.8 836.0 L241.2 841.3 L241.6 845.5 L242.0 847.5 L242.4 849.3 L242.8 850.6 L243.2 851.9 L243.6 853.0 L243.9 853.3 L244.3 853.7 L244.7 853.6 L245.1 853.7 L245.5 854.0 L245.9 854.1 L246.3 854.3 L246.7 854.1 L247.1 854.4 L247.5 854.0 L247.8 853.7 L248.2 853.2 L248.6 853.9 L249.0 854.2 L249.4 854.6 L249.8 854.3 L250.2 854.3 L250.6 853.9 L251.0 854.1 L251.3 853.9 L251.7 853.6 L252.1 852.9 L252.5 853.2 L252.9 853.1 L253.3 853.0 L253.7 852.6 L254.1 852.4 L254.5 852.2 L254.8 852.2 L255.2 852.6 L255.6 853.1 L256.0 853.3 L256.4 853.1 L256.8 853.0 L257.2 853.6 L257.6 854.0 L258.0 854.5 L258.4 854.5 L258.7 854.7 L259.1 854.9 L259.5 854.8 L259.9 854.5 L260.3 854.1 L260.7 853.5 L261.1 853.7 L261.5 854.3 L261.9 854.6 L262.2 854.6 L262.6 854.5 L263.0 854.5 L263.4 854.7 L263.8 854.3 L264.2 854.6 L264.6 854.2 L265.0 854.8 L265.4 854.6 L265.8 854.9 L266.1 855.2 L266.5 855.4 L266.9 855.0 L267.3 854.8 L267.7 854.4 L268.1 853.8 L268.5 853.1 L268.9 852.5 L269.3 852.4 L269.6 851.3 L270.0 850.8 L270.4 850.6 L270.8 850.6 L271.2 850.3 L271.6 850.3 L272.0 851.1 L272.4 852.1 L272.8 853.2 L273.2 853.2 L273.5 853.9 L273.9 853.7 L274.3 854.3 L274.7 854.3 L275.1 854.9 L275.5 855.0 L275.9 855.0 L276.3 854.7 L276.7 855.2 L277.0 855.2 L277.4 855.3 L277.8 854.8 L278.2 854.8 L278.6 855.0 L279.0 855.3 L279.4 855.2 L279.8 855.4 L280.2 855.3 L280.6 855.4 L280.9 854.6 L281.3 854.2 L281.7 853.9 L282.1 854.5 L282.5 854.7 L282.9 854.8 L283.3 854.7 L283.7 854.5 L284.1 854.5 L284.4 854.7 L284.8 854.8 L285.2 854.9 L285.6 854.4 L286.0 854.4 L286.4 854.4 L286.8 854.6 L287.2 854.3 L287.6 854.1 L287.9 854.8 L288.3 855.1 L288.7 855.3 L289.1 854.9 L289.5 854.8 L289.9 854.5 L290.3 854.4 L290.7 854.6 L291.1 854.9 L291.5 855.4 L291.8 855.5 L292.2 855.1 L292.6 854.6 L293.0 854.8 L293.4 855.2 L293.8 855.1 L294.2 854.6 L294.6 854.8 L295.0 855.0 L295.3 854.7 L295.7 853.6 L296.1 853.4 L296.5 854.1 L296.9 855.0 L297.3 855.2 L297.7 854.9 L298.1 854.4 L298.5 853.6 L298.9 854.1 L299.2 854.3 L299.6 854.6 L300.0 854.0 L300.4 853.9 L300.8 853.9 L301.2 853.2 L301.6 852.7 L302.0 852.3 L302.4 851.4 L302.7 850.0 L303.1 848.4 L303.5 846.7 L303.9 843.7 L304.3 839.4 L304.7 835.3 L305.1 831.3 L305.5 829.0 L305.9 828.5 L306.3 831.4 L306.6 835.7 L307.0 839.9 L307.4 843.5 L307.8 846.0 L308.2 848.8 L308.6 850.4 L309.0 852.6 L309.4 853.4 L309.8 853.9 L310.1 854.0 L310.5 854.2 L310.9 854.6 L311.3 854.2 L311.7 853.6 L312.1 853.9 L312.5 854.4 L312.9 854.3 L313.3 853.4 L313.6 853.3 L314.0 853.9 L314.4 854.4 L314.8 854.1 L315.2 854.3 L315.6 854.1 L316.0 854.8 L316.4 854.6 L316.8 855.6 L317.2 854.9 L317.5 854.6 L317.9 853.8 L318.3 854.4 L318.7 854.5 L319.1 855.0 L319.5 854.7 L319.9 854.4 L320.3 853.9 L320.7 854.2 L321.0 854.2 L321.4 854.5 L321.8 854.3 L322.2 854.4 L322.6 854.6 L323.0 854.4 L323.4 854.6 L323.8 854.6 L324.2 854.7 L324.6 854.7 L324.9 854.2 L325.3 854.1 L325.7 853.9 L326.1 853.8 L326.5 853.9 L326.9 854.2 L327.3 854.1 L327.7 854.3 L328.1 854.0 L328.4 854.3 L328.8 853.9 L329.2 854.5 L329.6 854.0 L330.0 854.2 L330.4 853.7 L330.8 853.8 L331.2 852.9 L331.6 852.6 L332.0 851.7 L332.3 851.3 L332.7 850.4 L333.1 848.7 L333.5 846.4 L333.9 843.4 L334.3 840.2 L334.7 835.0 L335.1 829.7 L335.5 825.6 L335.8 824.2 L336.2 825.3 L336.6 828.7 L337.0 833.7 L337.4 838.0 L337.8 842.3 L338.2 845.3 L338.6 848.6 L339.0 850.7 L339.3 852.0 L339.7 852.6 L340.1 852.2 L340.5 852.4 L340.9 852.6 L341.3 852.5 L341.7 852.7 L342.1 852.9 L342.5 853.4 L342.9 853.5 L343.2 853.4 L343.6 852.8 L344.0 852.4 L344.4 851.5 L344.8 851.1 L345.2 850.8 L345.6 850.0 L346.0 848.7 L346.4 846.0 L346.7 841.8 L347.1 835.7 L347.5 828.0 L347.9 819.9 L348.3 809.9 L348.7 799.7 L349.1 790.9 L349.5 788.2 L349.9 791.9 L350.3 800.5 L350.6 810.3 L351.0 819.8 L351.4 828.2 L351.8 835.9 L352.2 841.6 L352.6 845.4 L353.0 847.8 L353.4 849.3 L353.8 850.7 L354.1 851.2 L354.5 852.1 L354.9 852.2 L355.3 852.7 L355.7 852.5 L356.1 853.2 L356.5 853.4 L356.9 853.8 L357.3 853.4 L357.7 853.2 L358.0 853.1 L358.4 853.2 L358.8 852.9 L359.2 852.8 L359.6 852.6 L360.0 852.6 L360.4 851.7 L360.8 851.4 L361.2 850.4 L361.5 849.1 L361.9 846.5 L362.3 843.9 L362.7 841.5 L363.1 840.2 L363.5 839.9 L363.9 840.7 L364.3 842.7 L364.7 844.6 L365.0 847.2 L365.4 848.7 L365.8 850.6 L366.2 851.7 L366.6 852.3 L367.0 853.2 L367.4 854.1 L367.8 854.3 L368.2 854.1 L368.6 854.2 L368.9 854.1 L369.3 854.4 L369.7 854.0 L370.1 854.6 L370.5 854.3 L370.9 854.9 L371.3 855.1 L371.7 855.0 L372.1 854.9 L372.4 854.1 L372.8 853.9 L373.2 853.8 L373.6 854.1 L374.0 854.4 L374.4 854.4 L374.8 854.2 L375.2 854.6 L375.6 854.7 L376.0 854.5 L376.3 854.0 L376.7 853.9 L377.1 854.5 L377.5 854.7 L377.9 854.3 L378.3 854.0 L378.7 853.8 L379.1 854.1 L379.5 854.2 L379.8 854.4 L380.2 853.8 L380.6 853.5 L381.0 853.6 L381.4 854.0 L381.8 854.1 L382.2 853.7 L382.6 853.7 L383.0 853.6 L383.4 853.5 L383.7 853.4 L384.1 853.0 L384.5 852.9 L384.9 852.3 L385.3 852.1 L385.7 850.9 L386.1 849.8 L386.5 847.5 L386.9 844.2 L387.2 840.3 L387.6 835.6 L388.0 830.5 L388.4 825.7 L388.8 822.7 L389.2 822.3 L389.6 824.2 L390.0 828.9 L390.4 834.1 L390.8 839.8 L391.1 843.6 L391.5 847.1 L391.9 849.2 L392.3 851.4 L392.7 851.7 L393.1 852.6 L393.5 852.1 L393.9 853.0 L394.3 853.2 L394.6 853.6 L395.0 853.4 L395.4 853.3 L395.8 853.0 L396.2 852.9 L396.6 852.4 L397.0 852.2 L397.4 851.3 L397.8 849.5 L398.1 847.9 L398.5 846.0 L398.9 845.5 L399.3 845.0 L399.7 845.5 L400.1 846.5 L400.5 847.6 L400.9 848.9 L401.3 849.9 L401.7 851.6 L402.0 852.1 L402.4 852.8 L402.8 852.8 L403.2 853.4 L403.6 853.7 L404.0 853.9 L404.4 854.2 L404.8 854.1 L405.2 854.5 L405.5 855.3 L405.9 856.0 L406.3 856.0 L406.7 855.4 L407.1 854.8 L407.5 854.6 L407.9 854.8 L408.3 854.5 L408.7 854.2 L409.1 853.7 L409.4 854.4 L409.8 854.5 L410.2 854.4 L410.6 854.6 L411.0 855.0 L411.4 855.7 L411.8 855.1 L412.2 855.1 L412.6 854.9 L412.9 855.4 L413.3 855.1 L413.7 854.9 L414.1 854.4 L414.5 854.1 L414.9 853.9 L415.3 853.9 L415.7 854.5 L416.1 854.8 L416.5 855.1 L416.8 855.0 L417.2 854.6 L417.6 854.4 L418.0 854.4 L418.4 855.0 L418.8 854.9 L419.2 855.1 L419.6 854.4 L420.0 854.4 L420.3 854.2 L420.7 854.5 L421.1 854.6 L421.5 853.8 L421.9 853.4 L422.3 853.0 L422.7 852.6 L423.1 851.0 L423.5 848.7 L423.8 845.9 L424.2 842.8 L424.6 840.4 L425.0 838.0 L425.4 836.0 L425.8 834.7 L426.2 835.6 L426.6 838.6 L427.0 842.4 L427.4 846.0 L427.7 848.2 L428.1 850.0 L428.5 851.0 L428.9 852.2 L429.3 853.0 L429.7 853.5 L430.1 853.4 L430.5 853.0 L430.9 853.2 L431.2 853.6 L431.6 854.2 L432.0 854.2 L432.4 854.5 L432.8 854.2 L433.2 854.3 L433.6 854.0 L434.0 854.7 L434.4 855.0 L434.8 855.2 L435.1 854.3 L435.5 854.5 L435.9 854.7 L436.3 855.3 L436.7 855.2 L437.1 855.0 L437.5 855.1 L437.9 854.7 L438.3 854.8 L438.6 855.1 L439.0 855.1 L439.4 855.4 L439.8 854.8 L440.2 855.0 L440.6 854.5 L441.0 854.5 L441.4 854.1 L441.8 854.5 L442.2 855.1 L442.5 855.4 L442.9 855.2 L443.3 854.9 L443.7 854.8 L444.1 854.7 L444.5 854.3 L444.9 855.1 L445.3 855.3 L445.7 855.5 L446.0 855.1 L446.4 854.6 L446.8 855.2 L447.2 854.7 L447.6 854.5 L448.0 854.2 L448.4 854.1 L448.8 855.0 L449.2 854.8 L449.5 855.3 L449.9 854.6 L450.3 854.6 L450.7 854.4 L451.1 855.2 L451.5 855.1 L451.9 854.8 L452.3 854.0 L452.7 854.1 L453.1 854.2 L453.4 854.4 L453.8 854.0 L454.2 854.1 L454.6 854.0 L455.0 854.5 L455.4 854.0 L455.8 853.8 L456.2 853.5 L456.6 854.2 L456.9 854.6 L457.3 854.2 L457.7 853.2 L458.1 851.5 L458.5 850.8 L458.9 849.8 L459.3 848.8 L459.7 847.6 L460.1 846.9 L460.5 847.7 L460.8 848.7 L461.2 849.6 L461.6 850.3 L462.0 850.8 L462.4 852.3 L462.8 853.3 L463.2 854.0 L463.6 854.1 L464.0 854.4 L464.3 854.6 L464.7 854.6 L465.1 854.5 L465.5 854.3 L465.9 854.1 L466.3 853.8 L466.7 854.0 L467.1 854.5 L467.5 855.4 L467.9 855.0 L468.2 854.8 L468.6 853.9 L469.0 854.2 L469.4 853.8 L469.8 853.9 L470.2 854.2 L470.6 854.7 L471.0 855.3 L471.4 855.5 L471.7 855.4 L472.1 855.4 L472.5 855.0 L472.9 854.9 L473.3 854.5 L473.7 854.9 L474.1 855.0 L474.5 855.0 L474.9 854.8 L475.3 854.4 L475.6 854.7 L476.0 854.9 L476.4 855.0 L476.8 854.5 L477.2 854.1 L477.6 854.2 L478.0 854.3 L478.4 854.1 L478.8 853.8 L479.1 854.1 L479.5 854.2 L479.9 853.9 L480.3 853.3 L480.7 852.9 L481.1 852.6 L481.5 851.9 L481.9 851.8 L482.3 851.7 L482.6 852.3 L483.0 853.1 L483.4 854.2 L483.8 855.1 L484.2 854.7 L484.6 855.0 L485.0 854.1 L485.4 854.3 L485.8 854.1 L486.2 854.8 L486.5 854.7 L486.9 854.2 L487.3 854.5 L487.7 854.8 L488.1 855.1 L488.5 854.6 L488.9 854.6 L489.3 854.9 L489.7 854.8 L490.0 855.6 L490.4 854.9 L490.8 854.9 L491.2 853.9 L491.6 854.7 L492.0 855.3 L492.4 855.5 L492.8 855.4 L493.2 855.3 L493.6 855.4 L493.9 855.2 L494.3 855.2 L494.7 855.3 L495.1 855.5 L495.5 855.3 L495.9 855.2 L496.3 854.9 L496.7 854.9 L497.1 854.7 L497.4 854.5 L497.8 854.4 L498.2 854.5 L498.6 854.8 L499.0 853.9 L499.4 854.4 L499.8 854.4 L500.2 855.7 L500.6 855.2 L501.0 855.6 L501.3 855.0 L501.7 854.8 L502.1 854.3 L502.5 854.5 L502.9 854.2 L503.3 854.2 L503.7 854.6 L504.1 855.4 L504.5 855.8 L504.8 855.3 L505.2 854.6 L505.6 854.7 L506.0 854.7 L506.4 854.8 L506.8 854.1 L507.2 854.5 L507.6 854.2 L508.0 854.7 L508.3 854.5 L508.7 855.0 L509.1 855.0" stroke="#9a9a9a" stroke-width="3" fill="none" stroke-linejoin="round"/>
<path d="M73.0 787.8 L73.4 788.0 L73.8 788.0 L74.2 787.9 L74.6 787.9 L74.9 788.2 L75.3 787.7 L75.7 787.8 L76.1 787.5 L76.5 787.8 L76.9 787.5 L77.3 787.7 L77.7 787.8 L78.1 788.0 L78.5 787.3 L78.8 787.1 L79.2 787.4 L79.6 788.2 L80.0 787.4 L80.4 787.1 L80.8 786.8 L81.2 787.4 L81.6 786.9 L82.0 786.7 L82.3 786.6 L82.7 787.0 L83.1 787.3 L83.5 787.5 L83.9 787.6 L84.3 787.8 L84.7 788.5 L85.1 788.1 L85.5 787.4 L85.9 786.6 L86.2 786.8 L86.6 787.0 L87.0 787.5 L87.4 787.9 L87.8 788.2 L88.2 788.0 L88.6 787.9 L89.0 788.1 L89.4 787.8 L89.7 787.4 L90.1 786.6 L90.5 786.3 L90.9 786.6 L91.3 786.9 L91.7 787.3 L92.1 787.0 L92.5 786.6 L92.9 786.1 L93.2 786.1 L93.6 786.3 L94.0 786.5 L94.4 786.7 L94.8 786.9 L95.2 787.2 L95.6 786.7 L96.0 786.8 L96.4 786.6 L96.8 786.8 L97.1 786.4 L97.5 785.3 L97.9 784.3 L98.3 783.4 L98.7 782.5 L99.1 780.4 L99.5 777.8 L99.9 775.4 L100.3 774.0 L100.6 773.4 L101.0 774.5 L101.4 776.3 L101.8 778.6 L102.2 780.8 L102.6 782.5 L103.0 784.0 L103.4 784.8 L103.8 785.5 L104.2 786.0 L104.5 786.7 L104.9 786.9 L105.3 786.9 L105.7 787.0 L106.1 787.6 L106.5 787.7 L106.9 787.4 L107.3 787.6 L107.7 787.8 L108.0 788.2 L108.4 787.9 L108.8 787.7 L109.2 787.1 L109.6 787.3 L110.0 787.1 L110.4 787.4 L110.8 786.6 L111.2 787.0 L111.6 787.3 L111.9 787.7 L112.3 787.6 L112.7 787.3 L113.1 787.5 L113.5 787.4 L113.9 787.8 L114.3 788.2 L114.7 788.3 L115.1 788.6 L115.4 788.5 L115.8 788.8 L116.2 788.6 L116.6 789.1 L117.0 788.8 L117.4 788.8 L117.8 788.5 L118.2 789.2 L118.6 789.8 L118.9 790.0 L119.3 790.0 L119.7 789.9 L120.1 789.8 L120.5 789.5 L120.9 789.6 L121.3 790.1 L121.7 789.9 L122.1 789.5 L122.5 789.6 L122.8 790.2 L123.2 790.2 L123.6 789.7 L124.0 789.6 L124.4 790.1 L124.8 790.9 L125.2 791.1 L125.6 791.0 L126.0 791.1 L126.3 790.8 L126.7 791.3 L127.1 789.9 L127.5 789.8 L127.9 789.0 L128.3 788.7 L128.7 787.4 L129.1 785.9 L129.5 784.6 L129.9 784.6 L130.2 785.4 L130.6 786.7 L131.0 788.0 L131.4 789.1 L131.8 790.2 L132.2 790.7 L132.6 791.6 L133.0 792.0 L133.4 792.2 L133.7 792.4 L134.1 792.5 L134.5 792.9 L134.9 793.4 L135.3 793.5 L135.7 793.5 L136.1 792.8 L136.5 793.3 L136.9 793.4 L137.3 793.9 L137.6 794.1 L138.0 794.1 L138.4 793.5 L138.8 793.1 L139.2 793.3 L139.6 793.8 L140.0 794.2 L140.4 794.0 L140.8 793.6 L141.1 793.4 L141.5 793.5 L141.9 793.8 L142.3 793.9 L142.7 793.3 L143.1 792.9 L143.5 792.5 L143.9 793.1 L144.3 793.4 L144.6 793.0 L145.0 792.4 L145.4 791.5 L145.8 791.4 L146.2 791.5 L146.6 792.1 L147.0 792.7 L147.4 792.4 L147.8 792.7 L148.2 792.2 L148.5 792.3 L148.9 791.6 L149.3 791.3 L149.7 790.8 L150.1 790.6 L150.5 790.6 L150.9 790.5 L151.3 790.4 L151.7 790.4 L152.0 790.2 L152.4 790.2 L152.8 789.7 L153.2 789.5 L153.6 789.3 L154.0 789.4 L154.4 789.1 L154.8 788.8 L155.2 788.3 L155.6 788.1 L155.9 787.9 L156.3 787.6 L156.7 787.4 L157.1 787.2 L157.5 787.1 L157.9 786.9 L158.3 786.1 L158.7 786.1 L159.1 785.6 L159.4 785.3 L159.8 784.8 L160.2 784.8 L160.6 785.2 L161.0 784.7 L161.4 784.7 L161.8 784.0 L162.2 784.5 L162.6 784.0 L163.0 784.2 L163.3 783.9 L163.7 783.9 L164.1 783.7 L164.5 784.0 L164.9 784.3 L165.3 784.3 L165.7 784.2 L166.1 784.3 L166.5 784.7 L166.8 784.9 L167.2 785.0 L167.6 785.3 L168.0 785.2 L168.4 785.1 L168.8 785.1 L169.2 785.4 L169.6 785.7 L170.0 785.8 L170.3 785.6 L170.7 785.3 L171.1 784.9 L171.5 784.7 L171.9 785.0 L172.3 784.7 L172.7 784.8 L173.1 784.4 L173.5 784.4 L173.9 784.2 L174.2 783.9 L174.6 783.5 L175.0 782.8 L175.4 782.3 L175.8 780.7 L176.2 778.6 L176.6 776.0 L177.0 773.2 L177.4 767.5 L177.7 756.9 L178.1 740.2 L178.5 715.3 L178.9 683.1 L179.3 646.9 L179.7 615.7 L180.1 602.7 L180.5 615.3 L180.9 647.3 L181.3 683.9 L181.6 715.8 L182.0 740.1 L182.4 757.0 L182.8 767.5 L183.2 773.3 L183.6 776.6 L184.0 778.8 L184.4 780.4 L184.8 781.4 L185.1 782.6 L185.5 782.8 L185.9 783.3 L186.3 783.7 L186.7 784.0 L187.1 784.2 L187.5 784.2 L187.9 784.6 L188.3 785.1 L188.7 785.3 L189.0 785.8 L189.4 785.4 L189.8 785.5 L190.2 785.4 L190.6 785.7 L191.0 785.6 L191.4 785.9 L191.8 785.9 L192.2 786.5 L192.5 786.5 L192.9 787.1 L193.3 786.4 L193.7 786.0 L194.1 785.8 L194.5 785.8 L194.9 786.2 L195.3 785.6 L195.7 785.7 L196.1 784.8 L196.4 784.7 L196.8 784.0 L197.2 784.4 L197.6 784.7 L198.0 784.6 L198.4 783.5 L198.8 781.6 L199.2 779.4 L199.6 776.4 L199.9 772.3 L200.3 766.3 L200.7 760.4 L201.1 754.8 L201.5 752.0 L201.9 750.5 L202.3 752.7 L202.7 756.8 L203.1 763.0 L203.4 768.8 L203.8 773.2 L204.2 777.0 L204.6 779.2 L205.0 781.1 L205.4 782.3 L205.8 783.9 L206.2 784.5 L206.6 784.9 L207.0 784.9 L207.3 785.1 L207.7 784.8 L208.1 785.4 L208.5 785.9 L208.9 786.6 L209.3 785.7 L209.7 785.5 L210.1 784.9 L210.5 784.8 L210.8 784.8 L211.2 785.1 L211.6 785.4 L212.0 785.0 L212.4 784.9 L212.8 784.7 L213.2 785.1 L213.6 785.0 L214.0 785.2 L214.4 784.1 L214.7 783.6 L215.1 783.0 L215.5 782.5 L215.9 781.1 L216.3 779.0 L216.7 777.1 L217.1 774.3 L217.5 770.1 L217.9 764.2 L218.2 756.3 L218.6 747.6 L219.0 736.8 L219.4 726.1 L219.8 715.8 L220.2 708.5 L220.6 705.6 L221.0 707.5 L221.4 713.4 L221.8 723.0 L222.1 733.7 L222.5 744.8 L222.9 753.8 L223.3 761.9 L223.7 768.2 L224.1 773.2 L224.5 776.3 L224.9 778.9 L225.3 780.7 L225.6 781.8 L226.0 782.5 L226.4 782.8 L226.8 784.0 L227.2 784.5 L227.6 784.9 L228.0 785.1 L228.4 785.2 L228.8 785.6 L229.1 785.6 L229.5 785.9 L229.9 785.7 L230.3 786.3 L230.7 786.0 L231.1 786.0 L231.5 785.5 L231.9 785.1 L232.3 785.1 L232.7 784.7 L233.0 784.9 L233.4 784.9 L233.8 785.3 L234.2 785.5 L234.6 785.1 L235.0 784.5 L235.4 783.5 L235.8 782.1 L236.2 780.1 L236.5 777.3 L236.9 774.1 L237.3 769.6 L237.7 766.1 L238.1 762.9 L238.5 762.3 L238.9 764.0 L239.3 767.4 L239.7 771.2 L240.1 774.6 L240.4 777.3 L240.8 780.1 L241.2 781.9 L241.6 783.7 L242.0 784.5 L242.4 785.3 L242.8 785.5 L243.2 785.7 L243.6 786.1 L243.9 786.4 L244.3 786.8 L244.7 786.6 L245.1 786.8 L245.5 786.6 L245.9 787.0 L246.3 787.2 L246.7 787.1 L247.1 786.7 L247.5 786.2 L247.8 786.4 L248.2 786.5 L248.6 786.6 L249.0 786.8 L249.4 786.8 L249.8 786.8 L250.2 787.0 L250.6 786.6 L251.0 786.9 L251.3 787.1 L251.7 787.4 L252.1 787.8 L252.5 787.6 L252.9 787.6 L253.3 787.0 L253.7 787.3 L254.1 787.1 L254.5 787.3 L254.8 786.7 L255.2 786.8 L255.6 786.5 L256.0 786.4 L256.4 786.5 L256.8 787.5 L257.2 787.8 L257.6 787.9 L258.0 787.3 L258.4 787.4 L258.7 787.2 L259.1 787.3 L259.5 787.4 L259.9 787.6 L260.3 787.9 L260.7 787.5 L261.1 787.6 L261.5 787.3 L261.9 787.2 L262.2 787.4 L262.6 787.5 L263.0 787.9 L263.4 787.6 L263.8 787.9 L264.2 787.8 L264.6 787.6 L265.0 786.7 L265.4 786.6 L265.8 786.6 L266.1 787.0 L266.5 787.0 L266.9 787.2 L267.3 787.2 L267.7 787.5 L268.1 787.7 L268.5 787.7 L268.9 787.3 L269.3 787.2 L269.6 786.8 L270.0 786.6 L270.4 786.0 L270.8 785.8 L271.2 785.2 L271.6 784.9 L272.0 784.5 L272.4 784.2 L272.8 783.8 L273.2 783.7 L273.5 784.2 L273.9 784.7 L274.3 785.4 L274.7 785.8 L275.1 786.8 L275.5 787.4 L275.9 787.7 L276.3 787.4 L276.7 787.3 L277.0 787.1 L277.4 787.4 L277.8 787.0 L278.2 786.8 L278.6 786.8 L279.0 787.3 L279.4 787.6 L279.8 787.7 L280.2 787.2 L280.6 787.0 L280.9 787.1 L281.3 787.1 L281.7 786.7 L282.1 785.8 L282.5 785.3 L282.9 785.0 L283.3 784.8 L283.7 784.1 L284.1 784.2 L284.4 784.2 L284.8 785.1 L285.2 785.2 L285.6 785.9 L286.0 785.9 L286.4 786.7 L286.8 787.1 L287.2 787.2 L287.6 786.8 L287.9 787.0 L288.3 787.2 L288.7 787.4 L289.1 786.8 L289.5 787.2 L289.9 787.0 L290.3 787.3 L290.7 787.2 L291.1 787.7 L291.5 787.5 L291.8 787.0 L292.2 786.6 L292.6 787.4 L293.0 787.7 L293.4 786.9 L293.8 786.7 L294.2 787.3 L294.6 788.1 L295.0 787.6 L295.3 787.2 L295.7 787.2 L296.1 786.8 L296.5 787.1 L296.9 786.8 L297.3 786.8 L297.7 785.8 L298.1 786.4 L298.5 786.7 L298.9 787.5 L299.2 787.4 L299.6 787.5 L300.0 787.6 L300.4 787.8 L300.8 787.7 L301.2 787.4 L301.6 787.0 L302.0 786.8 L302.4 786.5 L302.7 786.8 L303.1 787.3 L303.5 787.3 L303.9 786.8 L304.3 786.1 L304.7 785.6 L305.1 785.3 L305.5 784.9 L305.9 783.3 L306.3 781.6 L306.6 779.8 L307.0 779.2 L307.4 777.0 L307.8 775.2 L308.2 773.6 L308.6 774.7 L309.0 776.1 L309.4 777.5 L309.8 779.7 L310.1 781.6 L310.5 783.7 L310.9 784.1 L311.3 785.5 L311.7 785.9 L312.1 786.6 L312.5 786.6 L312.9 786.4 L313.3 786.6 L313.6 786.4 L314.0 786.4 L314.4 786.1 L314.8 786.3 L315.2 787.3 L315.6 788.0 L316.0 788.0 L316.4 788.1 L316.8 787.5 L317.2 787.3 L317.5 786.8 L317.9 787.2 L318.3 787.4 L318.7 787.6 L319.1 786.9 L319.5 787.0 L319.9 787.0 L320.3 787.6 L320.7 787.3 L321.0 787.3 L321.4 787.0 L321.8 787.1 L322.2 787.2 L322.6 786.8 L323.0 786.5 L323.4 786.5 L323.8 786.8 L324.2 787.1 L324.6 786.3 L324.9 786.1 L325.3 786.0 L325.7 786.6 L326.1 787.0 L326.5 787.0 L326.9 786.9 L327.3 786.6 L327.7 786.4 L328.1 786.1 L328.4 785.9 L328.8 785.4 L329.2 785.2 L329.6 783.7 L330.0 782.4 L330.4 781.3 L330.8 780.1 L331.2 778.7 L331.6 776.3 L332.0 775.6 L332.3 775.5 L332.7 777.1 L333.1 778.0 L333.5 779.6 L333.9 781.2 L334.3 782.5 L334.7 783.4 L335.1 783.5 L335.5 783.7 L335.8 783.3 L336.2 782.4 L336.6 781.2 L337.0 779.9 L337.4 778.4 L337.8 775.3 L338.2 770.4 L338.6 763.6 L339.0 755.2 L339.3 745.3 L339.7 734.4 L340.1 724.7 L340.5 718.1 L340.9 718.1 L341.3 723.1 L341.7 732.9 L342.1 743.8 L342.5 754.3 L342.9 762.3 L343.2 767.8 L343.6 771.9 L344.0 773.4 L344.4 772.9 L344.8 769.5 L345.2 765.4 L345.6 759.8 L346.0 753.1 L346.4 745.5 L346.7 739.2 L347.1 736.6 L347.5 738.5 L347.9 744.3 L348.3 752.1 L348.7 760.2 L349.1 766.3 L349.5 771.4 L349.9 775.8 L350.3 779.3 L350.6 781.6 L351.0 782.4 L351.4 783.3 L351.8 783.8 L352.2 784.9 L352.6 785.2 L353.0 785.2 L353.4 785.3 L353.8 786.2 L354.1 786.3 L354.5 786.4 L354.9 785.8 L355.3 786.0 L355.7 785.9 L356.1 786.3 L356.5 786.5 L356.9 786.3 L357.3 785.7 L357.7 785.1 L358.0 785.7 L358.4 786.1 L358.8 786.3 L359.2 785.5 L359.6 785.1 L360.0 784.2 L360.4 783.4 L360.8 781.3 L361.2 780.1 L361.5 778.4 L361.9 778.6 L362.3 779.2 L362.7 780.7 L363.1 782.0 L363.5 782.6 L363.9 783.5 L364.3 784.6 L364.7 785.7 L365.0 786.0 L365.4 786.0 L365.8 786.0 L366.2 786.5 L366.6 786.8 L367.0 787.3 L367.4 787.2 L367.8 786.9 L368.2 786.8 L368.6 787.5 L368.9 787.2 L369.3 787.4 L369.7 787.0 L370.1 787.6 L370.5 787.2 L370.9 787.2 L371.3 786.8 L371.7 787.0 L372.1 786.9 L372.4 787.2 L372.8 787.6 L373.2 787.3 L373.6 787.2 L374.0 786.5 L374.4 786.3 L374.8 786.6 L375.2 786.7 L375.6 787.4 L376.0 787.3 L376.3 787.7 L376.7 787.5 L377.1 786.8 L377.5 786.8 L377.9 787.0 L378.3 787.5 L378.7 787.6 L379.1 787.3 L379.5 787.2 L379.8 787.0 L380.2 787.3 L380.6 787.5 L381.0 787.4 L381.4 787.8 L381.8 787.4 L382.2 787.6 L382.6 787.0 L383.0 787.3 L383.4 787.5 L383.7 787.2 L384.1 787.2 L384.5 786.9 L384.9 787.1 L385.3 787.5 L385.7 786.9 L386.1 786.6 L386.5 786.4 L386.9 786.6 L387.2 786.7 L387.6 785.1 L388.0 784.6 L388.4 783.0 L388.8 781.4 L389.2 778.2 L389.6 775.0 L390.0 771.4 L390.4 768.2 L390.8 765.9 L391.1 765.4 L391.5 766.4 L391.9 769.9 L392.3 773.7 L392.7 777.3 L393.1 780.1 L393.5 782.0 L393.9 783.5 L394.3 784.8 L394.6 785.3 L395.0 785.6 L395.4 785.5 L395.8 786.5 L396.2 787.7 L396.6 788.0 L397.0 787.0 L397.4 786.5 L397.8 786.4 L398.1 786.8 L398.5 786.9 L398.9 786.9 L399.3 787.5 L399.7 787.1 L400.1 786.9 L400.5 786.7 L400.9 787.2 L401.3 787.3 L401.7 786.6 L402.0 786.6 L402.4 786.7 L402.8 787.4 L403.2 787.2 L403.6 787.0 L404.0 787.2 L404.4 787.1 L404.8 787.7 L405.2 787.3 L405.5 787.3 L405.9 787.2 L406.3 787.4 L406.7 788.1 L407.1 787.5 L407.5 787.5 L407.9 786.9 L408.3 787.2 L408.7 787.4 L409.1 788.0 L409.4 787.7 L409.8 787.6 L410.2 787.3 L410.6 788.1 L411.0 787.9 L411.4 787.6 L411.8 787.0 L412.2 787.2 L412.6 787.5 L412.9 787.0 L413.3 786.7 L413.7 786.9 L414.1 787.0 L414.5 787.2 L414.9 787.5 L415.3 787.9 L415.7 787.4 L416.1 787.0 L416.5 787.2 L416.8 786.9 L417.2 786.9 L417.6 786.6 L418.0 787.2 L418.4 786.7 L418.8 786.7 L419.2 786.8 L419.6 786.6 L420.0 786.6 L420.3 786.3 L420.7 786.5 L421.1 786.7 L421.5 786.7 L421.9 786.6 L422.3 786.0 L422.7 785.9 L423.1 785.9 L423.5 785.7 L423.8 785.2 L424.2 784.3 L424.6 783.4 L425.0 782.6 L425.4 782.1 L425.8 781.3 L426.2 780.6 L426.6 780.0 L427.0 778.7 L427.4 777.9 L427.7 776.9 L428.1 776.6 L428.5 776.4 L428.9 776.6 L429.3 777.2 L429.7 777.4 L430.1 776.7 L430.5 777.2 L430.9 777.4 L431.2 778.8 L431.6 779.7 L432.0 780.7 L432.4 782.1 L432.8 783.0 L433.2 784.3 L433.6 784.3 L434.0 784.9 L434.4 785.1 L434.8 786.1 L435.1 786.5 L435.5 787.0 L435.9 786.6 L436.3 786.7 L436.7 786.2 L437.1 786.4 L437.5 786.4 L437.9 786.6 L438.3 786.5 L438.6 787.0 L439.0 787.1 L439.4 786.9 L439.8 786.1 L440.2 786.4 L440.6 787.4 L441.0 788.4 L441.4 788.8 L441.8 788.3 L442.2 787.6 L442.5 787.5 L442.9 786.9 L443.3 787.0 L443.7 786.2 L444.1 786.9 L444.5 786.4 L444.9 786.6 L445.3 786.3 L445.7 787.1 L446.0 787.5 L446.4 787.0 L446.8 787.0 L447.2 786.6 L447.6 787.0 L448.0 787.0 L448.4 787.0 L448.8 787.1 L449.2 786.7 L449.5 786.3 L449.9 786.6 L450.3 786.7 L450.7 786.8 L451.1 786.8 L451.5 787.3 L451.9 787.6 L452.3 786.9 L452.7 786.4 L453.1 786.9 L453.4 787.6 L453.8 787.8 L454.2 787.6 L454.6 787.2 L455.0 786.7 L455.4 786.2 L455.8 786.1 L456.2 786.1 L456.6 786.0 L456.9 786.3 L457.3 787.0 L457.7 787.5 L458.1 787.1 L458.5 787.1 L458.9 786.9 L459.3 787.5 L459.7 787.0 L460.1 786.3 L460.5 785.7 L460.8 784.9 L461.2 784.7 L461.6 783.8 L462.0 783.5 L462.4 782.7 L462.8 782.4 L463.2 782.8 L463.6 783.7 L464.0 785.3 L464.3 786.2 L464.7 786.8 L465.1 786.7 L465.5 786.6 L465.9 786.7 L466.3 787.1 L466.7 787.4 L467.1 787.4 L467.5 787.5 L467.9 787.5 L468.2 787.9 L468.6 787.6 L469.0 787.7 L469.4 787.2 L469.8 786.9 L470.2 786.7 L470.6 787.5 L471.0 787.0 L471.4 787.0 L471.7 786.2 L472.1 786.9 L472.5 786.8 L472.9 787.0 L473.3 787.1 L473.7 787.0 L474.1 786.9 L474.5 787.1 L474.9 787.4 L475.3 787.5 L475.6 787.0 L476.0 786.7 L476.4 786.5 L476.8 787.0 L477.2 787.1 L477.6 787.2 L478.0 787.5 L478.4 787.4 L478.8 787.7 L479.1 787.3 L479.5 787.4 L479.9 786.5 L480.3 786.0 L480.7 785.5 L481.1 785.5 L481.5 785.0 L481.9 784.6 L482.3 784.7 L482.6 785.3 L483.0 785.9 L483.4 786.1 L483.8 786.2 L484.2 785.5 L484.6 785.8 L485.0 786.0 L485.4 787.0 L485.8 787.0 L486.2 787.3 L486.5 787.2 L486.9 787.5 L487.3 787.7 L487.7 788.3 L488.1 788.5 L488.5 788.3 L488.9 787.5 L489.3 787.0 L489.7 787.2 L490.0 788.0 L490.4 788.2 L490.8 788.0 L491.2 787.8 L491.6 787.5 L492.0 787.5 L492.4 787.0 L492.8 787.0 L493.2 786.7 L493.6 787.1 L493.9 787.6 L494.3 788.1 L494.7 788.4 L495.1 787.4 L495.5 787.3 L495.9 787.1 L496.3 787.8 L496.7 787.5 L497.1 787.7 L497.4 787.3 L497.8 787.2 L498.2 786.7 L498.6 787.1 L499.0 787.3 L499.4 787.3 L499.8 787.4 L500.2 787.4 L500.6 787.6 L501.0 787.4 L501.3 787.7 L501.7 787.4 L502.1 787.3 L502.5 786.9 L502.9 787.2 L503.3 787.3 L503.7 787.4 L504.1 787.2 L504.5 787.5 L504.8 788.2 L505.2 788.0 L505.6 788.1 L506.0 787.3 L506.4 787.8 L506.8 787.8 L507.2 788.4 L507.6 788.4 L508.0 787.4 L508.3 787.3 L508.7 787.1 L509.1 787.6" stroke="#ff6a6a" stroke-width="3" fill="none" stroke-linejoin="round"/>
<path d="M73.0 729.4 L73.4 729.2 L73.8 729.0 L74.2 728.2 L74.6 727.9 L74.9 728.2 L75.3 728.6 L75.7 729.0 L76.1 729.1 L76.5 728.4 L76.9 728.2 L77.3 728.5 L77.7 729.2 L78.1 729.3 L78.5 729.3 L78.8 728.9 L79.2 729.2 L79.6 729.0 L80.0 729.4 L80.4 729.6 L80.8 729.0 L81.2 728.8 L81.6 728.6 L82.0 729.1 L82.3 729.2 L82.7 729.4 L83.1 729.2 L83.5 729.4 L83.9 729.0 L84.3 728.8 L84.7 728.6 L85.1 728.7 L85.5 728.8 L85.9 728.5 L86.2 728.3 L86.6 728.3 L87.0 728.4 L87.4 728.9 L87.8 729.6 L88.2 730.1 L88.6 728.8 L89.0 728.3 L89.4 728.1 L89.7 728.9 L90.1 728.9 L90.5 728.5 L90.9 728.5 L91.3 728.7 L91.7 729.1 L92.1 729.0 L92.5 729.0 L92.9 728.7 L93.2 729.1 L93.6 728.8 L94.0 728.6 L94.4 728.6 L94.8 728.4 L95.2 728.7 L95.6 728.7 L96.0 729.1 L96.4 728.8 L96.8 728.8 L97.1 729.4 L97.5 729.6 L97.9 729.1 L98.3 728.0 L98.7 727.5 L99.1 726.3 L99.5 725.6 L99.9 724.8 L100.3 724.1 L100.6 722.4 L101.0 719.9 L101.4 717.7 L101.8 716.1 L102.2 715.9 L102.6 716.3 L103.0 717.7 L103.4 719.5 L103.8 722.1 L104.2 724.0 L104.5 725.5 L104.9 726.7 L105.3 727.4 L105.7 728.0 L106.1 727.5 L106.5 728.8 L106.9 728.7 L107.3 729.5 L107.7 729.0 L108.0 729.3 L108.4 728.4 L108.8 728.6 L109.2 728.5 L109.6 729.0 L110.0 728.6 L110.4 729.1 L110.8 729.6 L111.2 729.2 L111.6 729.1 L111.9 729.1 L112.3 729.6 L112.7 729.3 L113.1 729.0 L113.5 728.8 L113.9 729.2 L114.3 730.0 L114.7 730.4 L115.1 730.8 L115.4 730.9 L115.8 731.2 L116.2 731.3 L116.6 731.2 L117.0 731.1 L117.4 730.7 L117.8 730.5 L118.2 730.9 L118.6 730.9 L118.9 730.9 L119.3 731.4 L119.7 731.9 L120.1 732.0 L120.5 731.6 L120.9 731.4 L121.3 731.8 L121.7 731.1 L122.1 731.6 L122.5 732.0 L122.8 732.7 L123.2 733.0 L123.6 733.0 L124.0 733.3 L124.4 733.5 L124.8 733.3 L125.2 733.2 L125.6 733.0 L126.0 733.9 L126.3 733.6 L126.7 734.3 L127.1 734.0 L127.5 734.4 L127.9 734.3 L128.3 733.7 L128.7 733.7 L129.1 733.0 L129.5 732.9 L129.9 731.8 L130.2 730.7 L130.6 730.1 L131.0 729.7 L131.4 729.7 L131.8 729.6 L132.2 730.1 L132.6 731.1 L133.0 732.3 L133.4 733.3 L133.7 734.0 L134.1 734.6 L134.5 734.9 L134.9 735.2 L135.3 735.3 L135.7 736.0 L136.1 736.2 L136.5 736.4 L136.9 736.0 L137.3 736.3 L137.6 736.4 L138.0 736.6 L138.4 736.0 L138.8 735.9 L139.2 736.2 L139.6 736.2 L140.0 736.1 L140.4 735.8 L140.8 736.1 L141.1 736.1 L141.5 736.2 L141.9 736.1 L142.3 736.4 L142.7 736.6 L143.1 736.8 L143.5 736.1 L143.9 735.8 L144.3 734.7 L144.6 735.5 L145.0 735.3 L145.4 735.3 L145.8 735.0 L146.2 735.2 L146.6 735.3 L147.0 734.7 L147.4 734.2 L147.8 734.4 L148.2 734.4 L148.5 733.7 L148.9 733.1 L149.3 732.9 L149.7 733.5 L150.1 733.7 L150.5 733.1 L150.9 732.4 L151.3 732.6 L151.7 733.0 L152.0 733.0 L152.4 731.8 L152.8 731.8 L153.2 731.7 L153.6 731.6 L154.0 730.6 L154.4 730.8 L154.8 731.1 L155.2 730.9 L155.6 730.4 L155.9 729.8 L156.3 729.6 L156.7 728.8 L157.1 729.1 L157.5 728.8 L157.9 728.5 L158.3 728.0 L158.7 727.5 L159.1 727.7 L159.4 727.3 L159.8 726.8 L160.2 726.2 L160.6 725.5 L161.0 726.1 L161.4 726.1 L161.8 726.1 L162.2 725.4 L162.6 725.1 L163.0 725.7 L163.3 726.1 L163.7 726.4 L164.1 725.7 L164.5 725.8 L164.9 726.1 L165.3 726.4 L165.7 726.2 L166.1 725.7 L166.5 726.0 L166.8 726.1 L167.2 727.0 L167.6 726.5 L168.0 726.9 L168.4 726.8 L168.8 727.0 L169.2 727.2 L169.6 727.7 L170.0 728.0 L170.3 727.9 L170.7 727.2 L171.1 727.6 L171.5 727.7 L171.9 728.4 L172.3 728.2 L172.7 728.5 L173.1 728.1 L173.5 727.9 L173.9 727.7 L174.2 727.8 L174.6 727.9 L175.0 726.9 L175.4 726.5 L175.8 726.1 L176.2 726.3 L176.6 725.7 L177.0 725.0 L177.4 724.6 L177.7 724.0 L178.1 722.9 L178.5 721.0 L178.9 718.5 L179.3 714.5 L179.7 707.9 L180.1 696.9 L180.5 680.2 L180.9 657.6 L181.3 632.6 L181.6 611.3 L182.0 602.7 L182.4 611.9 L182.8 633.2 L183.2 658.0 L183.6 680.0 L184.0 696.8 L184.4 708.3 L184.8 715.4 L185.1 720.0 L185.5 722.4 L185.9 723.4 L186.3 724.3 L186.7 724.6 L187.1 725.3 L187.5 725.2 L187.9 725.6 L188.3 726.1 L188.7 727.5 L189.0 727.7 L189.4 727.4 L189.8 726.9 L190.2 726.9 L190.6 727.2 L191.0 727.3 L191.4 727.2 L191.8 727.6 L192.2 727.6 L192.5 727.9 L192.9 727.5 L193.3 727.1 L193.7 726.5 L194.1 726.8 L194.5 727.2 L194.9 727.5 L195.3 727.4 L195.7 727.7 L196.1 727.7 L196.4 727.7 L196.8 727.6 L197.2 727.4 L197.6 727.3 L198.0 727.2 L198.4 727.1 L198.8 726.4 L199.2 725.3 L199.6 724.4 L199.9 723.7 L200.3 722.3 L200.7 720.1 L201.1 716.7 L201.5 712.3 L201.9 706.2 L202.3 699.9 L202.7 692.8 L203.1 688.6 L203.4 686.6 L203.8 689.0 L204.2 693.2 L204.6 699.3 L205.0 705.9 L205.4 711.7 L205.8 716.3 L206.2 719.6 L206.6 722.0 L207.0 724.2 L207.3 725.2 L207.7 725.9 L208.1 725.9 L208.5 725.9 L208.9 726.5 L209.3 726.6 L209.7 727.1 L210.1 727.4 L210.5 727.7 L210.8 727.1 L211.2 726.9 L211.6 726.4 L212.0 727.1 L212.4 727.0 L212.8 726.9 L213.2 726.4 L213.6 726.1 L214.0 726.8 L214.4 725.9 L214.7 725.6 L215.1 725.1 L215.5 725.6 L215.9 725.4 L216.3 724.3 L216.7 723.7 L217.1 722.2 L217.5 720.7 L217.9 718.6 L218.2 716.0 L218.6 712.8 L219.0 708.7 L219.4 704.0 L219.8 698.4 L220.2 692.0 L220.6 685.5 L221.0 679.1 L221.4 673.0 L221.8 668.7 L222.1 666.2 L222.5 666.6 L222.9 669.6 L223.3 674.5 L223.7 680.9 L224.1 687.5 L224.5 693.9 L224.9 699.8 L225.3 705.0 L225.6 710.2 L226.0 714.0 L226.4 717.0 L226.8 719.2 L227.2 721.2 L227.6 722.6 L228.0 724.0 L228.4 724.4 L228.8 724.8 L229.1 725.3 L229.5 725.8 L229.9 726.1 L230.3 726.0 L230.7 726.8 L231.1 727.2 L231.5 727.3 L231.9 727.1 L232.3 726.8 L232.7 727.1 L233.0 727.2 L233.4 727.3 L233.8 726.4 L234.2 726.3 L234.6 727.0 L235.0 727.4 L235.4 727.7 L235.8 727.8 L236.2 727.6 L236.5 727.3 L236.9 726.9 L237.3 727.4 L237.7 727.5 L238.1 727.6 L238.5 727.4 L238.9 726.9 L239.3 726.3 L239.7 725.7 L240.1 724.4 L240.4 723.0 L240.8 720.9 L241.2 718.3 L241.6 714.6 L242.0 710.3 L242.4 706.6 L242.8 703.9 L243.2 703.5 L243.6 705.7 L243.9 709.6 L244.3 712.8 L244.7 715.7 L245.1 719.0 L245.5 721.8 L245.9 724.3 L246.3 725.2 L246.7 726.8 L247.1 727.0 L247.5 726.8 L247.8 726.6 L248.2 726.4 L248.6 726.8 L249.0 727.2 L249.4 727.7 L249.8 728.2 L250.2 727.8 L250.6 727.9 L251.0 728.2 L251.3 728.5 L251.7 728.6 L252.1 728.1 L252.5 728.4 L252.9 728.6 L253.3 728.8 L253.7 728.8 L254.1 728.7 L254.5 728.5 L254.8 728.7 L255.2 728.4 L255.6 728.3 L256.0 728.2 L256.4 728.4 L256.8 729.0 L257.2 728.9 L257.6 728.7 L258.0 728.5 L258.4 728.9 L258.7 728.7 L259.1 728.7 L259.5 728.8 L259.9 728.8 L260.3 728.7 L260.7 727.8 L261.1 728.2 L261.5 728.0 L261.9 728.9 L262.2 728.6 L262.6 728.6 L263.0 728.4 L263.4 728.0 L263.8 728.1 L264.2 728.3 L264.6 728.7 L265.0 729.6 L265.4 729.8 L265.8 729.6 L266.1 728.5 L266.5 728.1 L266.9 728.0 L267.3 728.3 L267.7 727.8 L268.1 728.4 L268.5 728.0 L268.9 728.7 L269.3 727.6 L269.6 727.0 L270.0 726.3 L270.4 726.3 L270.8 726.7 L271.2 726.6 L271.6 727.1 L272.0 726.8 L272.4 727.2 L272.8 726.7 L273.2 727.7 L273.5 727.7 L273.9 728.2 L274.3 728.2 L274.7 728.6 L275.1 728.2 L275.5 728.3 L275.9 728.1 L276.3 728.4 L276.7 728.3 L277.0 728.6 L277.4 729.2 L277.8 729.0 L278.2 728.8 L278.6 728.1 L279.0 727.5 L279.4 726.5 L279.8 725.9 L280.2 725.7 L280.6 725.6 L280.9 725.6 L281.3 725.5 L281.7 726.3 L282.1 726.7 L282.5 727.7 L282.9 727.5 L283.3 728.2 L283.7 728.5 L284.1 728.8 L284.4 728.4 L284.8 727.9 L285.2 728.3 L285.6 728.4 L286.0 728.3 L286.4 728.0 L286.8 728.1 L287.2 728.4 L287.6 728.4 L287.9 728.1 L288.3 727.9 L288.7 728.3 L289.1 729.1 L289.5 729.2 L289.9 729.5 L290.3 729.0 L290.7 729.7 L291.1 728.9 L291.5 729.2 L291.8 728.9 L292.2 729.1 L292.6 728.6 L293.0 728.8 L293.4 729.4 L293.8 729.4 L294.2 728.6 L294.6 728.0 L295.0 728.1 L295.3 728.7 L295.7 728.4 L296.1 728.8 L296.5 728.3 L296.9 728.9 L297.3 728.8 L297.7 729.1 L298.1 729.2 L298.5 729.0 L298.9 728.7 L299.2 728.3 L299.6 728.2 L300.0 728.5 L300.4 728.6 L300.8 728.2 L301.2 728.6 L301.6 728.5 L302.0 729.0 L302.4 728.2 L302.7 729.1 L303.1 729.0 L303.5 729.2 L303.9 728.9 L304.3 728.9 L304.7 728.9 L305.1 728.3 L305.5 728.1 L305.9 728.0 L306.3 727.8 L306.6 727.4 L307.0 725.7 L307.4 724.3 L307.8 723.5 L308.2 722.5 L308.6 721.6 L309.0 720.7 L309.4 721.0 L309.8 721.5 L310.1 722.3 L310.5 724.0 L310.9 725.3 L311.3 726.1 L311.7 726.6 L312.1 726.9 L312.5 727.6 L312.9 728.0 L313.3 728.1 L313.6 728.4 L314.0 728.3 L314.4 728.6 L314.8 728.3 L315.2 728.2 L315.6 727.9 L316.0 728.0 L316.4 728.5 L316.8 729.0 L317.2 729.1 L317.5 729.0 L317.9 729.1 L318.3 729.0 L318.7 728.4 L319.1 728.7 L319.5 728.9 L319.9 729.1 L320.3 728.1 L320.7 727.4 L321.0 727.3 L321.4 727.5 L321.8 727.6 L322.2 728.0 L322.6 728.3 L323.0 728.9 L323.4 729.1 L323.8 729.1 L324.2 728.9 L324.6 728.8 L324.9 729.2 L325.3 728.7 L325.7 728.8 L326.1 728.0 L326.5 728.5 L326.9 727.9 L327.3 728.1 L327.7 728.7 L328.1 729.3 L328.4 729.7 L328.8 728.6 L329.2 728.4 L329.6 728.1 L330.0 728.4 L330.4 728.6 L330.8 728.5 L331.2 728.8 L331.6 728.8 L332.0 728.5 L332.3 728.3 L332.7 728.5 L333.1 728.6 L333.5 728.4 L333.9 728.2 L334.3 728.4 L334.7 728.3 L335.1 728.3 L335.5 728.0 L335.8 728.3 L336.2 727.3 L336.6 726.8 L337.0 725.1 L337.4 723.8 L337.8 721.9 L338.2 720.1 L338.6 717.9 L339.0 715.9 L339.3 714.1 L339.7 713.1 L340.1 713.7 L340.5 715.3 L340.9 717.7 L341.3 720.2 L341.7 721.9 L342.1 722.9 L342.5 723.9 L342.9 724.2 L343.2 724.8 L343.6 724.2 L344.0 724.0 L344.4 722.2 L344.8 720.4 L345.2 718.5 L345.6 716.4 L346.0 713.0 L346.4 706.5 L346.7 697.6 L347.1 687.2 L347.5 676.2 L347.9 666.7 L348.3 659.9 L348.7 660.5 L349.1 666.1 L349.5 675.9 L349.9 685.8 L350.3 696.3 L350.6 704.4 L351.0 710.1 L351.4 713.9 L351.8 716.2 L352.2 716.8 L352.6 715.7 L353.0 712.1 L353.4 707.5 L353.8 702.1 L354.1 697.0 L354.5 692.7 L354.9 690.1 L355.3 691.1 L355.7 695.8 L356.1 702.2 L356.5 708.2 L356.9 713.0 L357.3 717.3 L357.7 720.8 L358.0 723.5 L358.4 724.6 L358.8 725.5 L359.2 725.8 L359.6 726.1 L360.0 726.0 L360.4 726.3 L360.8 726.6 L361.2 726.9 L361.5 727.2 L361.9 727.3 L362.3 727.4 L362.7 727.7 L363.1 727.4 L363.5 727.3 L363.9 727.3 L364.3 727.6 L364.7 728.0 L365.0 727.7 L365.4 727.8 L365.8 727.9 L366.2 727.1 L366.6 726.0 L367.0 724.7 L367.4 724.1 L367.8 723.5 L368.2 722.3 L368.6 721.1 L368.9 720.7 L369.3 721.1 L369.7 722.5 L370.1 723.5 L370.5 725.2 L370.9 726.6 L371.3 727.6 L371.7 727.6 L372.1 727.3 L372.4 727.0 L372.8 727.4 L373.2 727.5 L373.6 728.2 L374.0 728.1 L374.4 728.5 L374.8 728.0 L375.2 727.8 L375.6 727.4 L376.0 728.0 L376.3 728.3 L376.7 728.7 L377.1 728.1 L377.5 728.2 L377.9 728.0 L378.3 728.5 L378.7 728.7 L379.1 728.7 L379.5 728.8 L379.8 729.1 L380.2 729.8 L380.6 729.3 L381.0 728.6 L381.4 727.9 L381.8 728.2 L382.2 729.2 L382.6 729.6 L383.0 729.6 L383.4 729.0 L383.7 728.8 L384.1 728.5 L384.5 728.2 L384.9 728.1 L385.3 728.4 L385.7 728.7 L386.1 728.7 L386.5 728.9 L386.9 729.0 L387.2 728.9 L387.6 728.5 L388.0 728.2 L388.4 727.7 L388.8 727.4 L389.2 726.9 L389.6 727.6 L390.0 727.9 L390.4 727.4 L390.8 725.6 L391.1 724.5 L391.5 722.2 L391.9 720.6 L392.3 717.4 L392.7 715.5 L393.1 712.9 L393.5 712.0 L393.9 712.5 L394.3 714.4 L394.6 716.7 L395.0 719.4 L395.4 721.6 L395.8 724.0 L396.2 725.0 L396.6 726.2 L397.0 726.2 L397.4 726.9 L397.8 727.6 L398.1 728.4 L398.5 728.7 L398.9 728.1 L399.3 728.2 L399.7 727.9 L400.1 728.0 L400.5 727.8 L400.9 728.3 L401.3 728.5 L401.7 728.8 L402.0 728.9 L402.4 728.9 L402.8 728.8 L403.2 728.9 L403.6 728.6 L404.0 728.2 L404.4 727.6 L404.8 727.9 L405.2 728.8 L405.5 729.1 L405.9 728.9 L406.3 728.2 L406.7 728.5 L407.1 728.7 L407.5 728.8 L407.9 729.0 L408.3 729.2 L408.7 729.6 L409.1 729.3 L409.4 729.0 L409.8 728.7 L410.2 728.7 L410.6 728.9 L411.0 729.1 L411.4 729.0 L411.8 729.0 L412.2 728.8 L412.6 729.1 L412.9 728.8 L413.3 728.8 L413.7 728.5 L414.1 728.4 L414.5 728.4 L414.9 727.9 L415.3 727.8 L415.7 728.4 L416.1 729.1 L416.5 729.5 L416.8 728.8 L417.2 728.8 L417.6 729.1 L418.0 729.1 L418.4 729.3 L418.8 729.1 L419.2 729.2 L419.6 728.7 L420.0 728.5 L420.3 728.6 L420.7 728.5 L421.1 728.5 L421.5 728.3 L421.9 728.8 L422.3 729.2 L422.7 729.2 L423.1 728.4 L423.5 727.5 L423.8 727.5 L424.2 728.2 L424.6 728.4 L425.0 728.1 L425.4 727.8 L425.8 727.7 L426.2 727.4 L426.6 726.4 L427.0 725.8 L427.4 725.0 L427.7 724.8 L428.1 724.1 L428.5 724.2 L428.9 723.6 L429.3 723.0 L429.7 721.7 L430.1 721.1 L430.5 721.2 L430.9 721.0 L431.2 720.9 L431.6 720.7 L432.0 721.3 L432.4 721.1 L432.8 721.5 L433.2 721.8 L433.6 722.9 L434.0 723.7 L434.4 724.4 L434.8 724.9 L435.1 725.1 L435.5 725.8 L435.9 725.7 L436.3 726.0 L436.7 726.0 L437.1 726.7 L437.5 727.0 L437.9 727.6 L438.3 727.4 L438.6 727.2 L439.0 726.9 L439.4 726.8 L439.8 727.5 L440.2 726.9 L440.6 727.0 L441.0 726.2 L441.4 726.3 L441.8 726.0 L442.2 725.5 L442.5 724.7 L442.9 724.0 L443.3 723.4 L443.7 723.0 L444.1 722.6 L444.5 722.4 L444.9 722.0 L445.3 721.5 L445.7 722.0 L446.0 722.3 L446.4 723.0 L446.8 723.3 L447.2 724.2 L447.6 724.3 L448.0 725.0 L448.4 725.6 L448.8 725.9 L449.2 726.3 L449.5 726.4 L449.9 727.1 L450.3 727.2 L450.7 727.2 L451.1 727.6 L451.5 727.5 L451.9 727.8 L452.3 727.8 L452.7 728.1 L453.1 728.4 L453.4 728.5 L453.8 728.5 L454.2 728.3 L454.6 728.2 L455.0 728.4 L455.4 728.7 L455.8 728.9 L456.2 728.6 L456.6 728.5 L456.9 728.4 L457.3 728.3 L457.7 728.0 L458.1 727.9 L458.5 727.7 L458.9 727.8 L459.3 728.4 L459.7 729.0 L460.1 729.2 L460.5 728.3 L460.8 728.2 L461.2 728.7 L461.6 729.1 L462.0 728.8 L462.4 728.4 L462.8 728.0 L463.2 727.9 L463.6 727.3 L464.0 727.3 L464.3 726.7 L464.7 725.7 L465.1 724.9 L465.5 724.8 L465.9 725.7 L466.3 726.0 L466.7 726.5 L467.1 726.5 L467.5 727.6 L467.9 727.6 L468.2 728.0 L468.6 728.2 L469.0 728.7 L469.4 729.1 L469.8 729.0 L470.2 729.0 L470.6 728.8 L471.0 728.8 L471.4 728.2 L471.7 728.4 L472.1 728.6 L472.5 729.7 L472.9 729.6 L473.3 729.3 L473.7 728.9 L474.1 728.6 L474.5 728.5 L474.9 728.1 L475.3 728.1 L475.6 728.2 L476.0 728.0 L476.4 728.0 L476.8 727.9 L477.2 728.2 L477.6 728.3 L478.0 728.9 L478.4 729.3 L478.8 729.6 L479.1 729.0 L479.5 728.9 L479.9 728.8 L480.3 729.1 L480.7 729.2 L481.1 729.6 L481.5 729.6 L481.9 729.0 L482.3 728.6 L482.6 729.0 L483.0 729.4 L483.4 729.8 L483.8 729.4 L484.2 729.7 L484.6 729.1 L485.0 728.8 L485.4 728.5 L485.8 728.5 L486.2 728.8 L486.5 728.4 L486.9 728.6 L487.3 728.6 L487.7 729.0 L488.1 729.2 L488.5 729.4 L488.9 729.8 L489.3 729.7 L489.7 729.7 L490.0 729.0 L490.4 728.9 L490.8 728.6 L491.2 728.7 L491.6 728.4 L492.0 728.7 L492.4 729.1 L492.8 729.0 L493.2 728.7 L493.6 728.6 L493.9 729.2 L494.3 729.3 L494.7 729.2 L495.1 728.8 L495.5 729.0 L495.9 729.1 L496.3 729.1 L496.7 729.2 L497.1 729.3 L497.4 729.1 L497.8 728.9 L498.2 728.7 L498.6 728.9 L499.0 729.2 L499.4 729.5 L499.8 728.6 L500.2 728.6 L500.6 728.3 L501.0 728.8 L501.3 729.0 L501.7 729.0 L502.1 729.2 L502.5 728.5 L502.9 728.9 L503.3 728.6 L503.7 728.8 L504.1 728.4 L504.5 728.1 L504.8 728.1 L505.2 728.2 L505.6 728.2 L506.0 728.8 L506.4 728.6 L506.8 729.5 L507.2 728.7 L507.6 729.4 L508.0 729.7 L508.3 730.0 L508.7 729.9 L509.1 729.2" stroke="#6a9bcf" stroke-width="3" fill="none" stroke-linejoin="round"/>
<path d="M73.0 668.9 L73.4 669.1 L73.8 668.7 L74.2 669.1 L74.6 668.8 L74.9 669.3 L75.3 668.9 L75.7 668.9 L76.1 668.8 L76.5 668.8 L76.9 668.8 L77.3 668.7 L77.7 669.3 L78.1 669.0 L78.5 668.6 L78.8 668.4 L79.2 668.6 L79.6 669.4 L80.0 669.1 L80.4 669.2 L80.8 668.8 L81.2 669.1 L81.6 668.9 L82.0 669.5 L82.3 669.0 L82.7 668.9 L83.1 668.3 L83.5 668.4 L83.9 669.3 L84.3 669.4 L84.7 670.0 L85.1 669.3 L85.5 669.3 L85.9 669.1 L86.2 669.6 L86.6 669.0 L87.0 669.3 L87.4 669.3 L87.8 669.3 L88.2 668.5 L88.6 668.5 L89.0 668.7 L89.4 668.6 L89.7 668.6 L90.1 668.3 L90.5 668.1 L90.9 668.1 L91.3 668.5 L91.7 669.5 L92.1 669.3 L92.5 668.9 L92.9 668.1 L93.2 668.8 L93.6 668.7 L94.0 668.4 L94.4 667.8 L94.8 668.4 L95.2 669.1 L95.6 669.2 L96.0 669.3 L96.4 669.3 L96.8 669.3 L97.1 669.1 L97.5 669.0 L97.9 669.1 L98.3 668.5 L98.7 668.5 L99.1 668.1 L99.5 668.3 L99.9 667.8 L100.3 667.7 L100.6 667.5 L101.0 667.5 L101.4 667.3 L101.8 666.9 L102.2 666.4 L102.6 666.4 L103.0 666.3 L103.4 667.1 L103.8 666.8 L104.2 666.8 L104.5 666.1 L104.9 666.3 L105.3 666.1 L105.7 666.2 L106.1 666.3 L106.5 666.2 L106.9 666.0 L107.3 666.2 L107.7 666.6 L108.0 667.3 L108.4 666.6 L108.8 666.4 L109.2 666.0 L109.6 666.9 L110.0 667.0 L110.4 667.5 L110.8 667.2 L111.2 667.6 L111.6 667.5 L111.9 667.8 L112.3 667.8 L112.7 668.1 L113.1 667.8 L113.5 668.5 L113.9 668.7 L114.3 668.8 L114.7 668.7 L115.1 668.3 L115.4 668.3 L115.8 667.9 L116.2 668.3 L116.6 668.4 L117.0 668.5 L117.4 668.3 L117.8 668.9 L118.2 669.1 L118.6 668.5 L118.9 668.2 L119.3 668.2 L119.7 669.2 L120.1 669.0 L120.5 668.9 L120.9 668.6 L121.3 668.6 L121.7 668.3 L122.1 668.3 L122.5 669.0 L122.8 669.1 L123.2 669.1 L123.6 668.4 L124.0 668.3 L124.4 668.6 L124.8 668.8 L125.2 669.3 L125.6 668.6 L126.0 668.6 L126.3 668.2 L126.7 668.6 L127.1 668.9 L127.5 669.1 L127.9 669.1 L128.3 668.8 L128.7 668.8 L129.1 669.3 L129.5 669.5 L129.9 669.3 L130.2 668.6 L130.6 668.1 L131.0 668.2 L131.4 668.6 L131.8 668.9 L132.2 668.3 L132.6 668.5 L133.0 668.4 L133.4 668.8 L133.7 668.0 L134.1 668.1 L134.5 668.1 L134.9 668.9 L135.3 668.7 L135.7 669.0 L136.1 668.9 L136.5 669.2 L136.9 669.1 L137.3 668.5 L137.6 668.6 L138.0 668.7 L138.4 669.0 L138.8 668.8 L139.2 669.1 L139.6 669.4 L140.0 668.6 L140.4 668.1 L140.8 667.9 L141.1 668.7 L141.5 668.8 L141.9 669.4 L142.3 668.7 L142.7 668.8 L143.1 668.3 L143.5 668.9 L143.9 668.8 L144.3 668.2 L144.6 668.2 L145.0 667.7 L145.4 668.4 L145.8 668.7 L146.2 669.2 L146.6 669.2 L147.0 668.3 L147.4 668.5 L147.8 668.4 L148.2 669.2 L148.5 669.4 L148.9 668.9 L149.3 668.4 L149.7 668.1 L150.1 668.4 L150.5 668.3 L150.9 667.9 L151.3 668.2 L151.7 668.3 L152.0 668.2 L152.4 668.5 L152.8 668.5 L153.2 668.8 L153.6 668.0 L154.0 668.2 L154.4 668.1 L154.8 668.0 L155.2 667.5 L155.6 667.2 L155.9 666.8 L156.3 666.9 L156.7 666.9 L157.1 666.4 L157.5 665.7 L157.9 665.2 L158.3 665.4 L158.7 664.9 L159.1 664.3 L159.4 663.4 L159.8 663.4 L160.2 663.0 L160.6 662.7 L161.0 662.2 L161.4 662.2 L161.8 662.2 L162.2 662.5 L162.6 662.2 L163.0 662.3 L163.3 662.1 L163.7 662.8 L164.1 663.0 L164.5 663.0 L164.9 663.4 L165.3 663.7 L165.7 664.6 L166.1 664.7 L166.5 665.6 L166.8 665.6 L167.2 665.9 L167.6 665.4 L168.0 665.8 L168.4 666.4 L168.8 667.0 L169.2 667.1 L169.6 666.9 L170.0 666.7 L170.3 667.3 L170.7 667.0 L171.1 667.4 L171.5 667.1 L171.9 667.8 L172.3 667.8 L172.7 667.2 L173.1 666.5 L173.5 666.5 L173.9 666.7 L174.2 666.0 L174.6 665.9 L175.0 665.7 L175.4 666.2 L175.8 665.6 L176.2 665.0 L176.6 664.9 L177.0 664.3 L177.4 663.5 L177.7 662.2 L178.1 661.0 L178.5 659.9 L178.9 658.4 L179.3 656.1 L179.7 654.1 L180.1 651.6 L180.5 649.3 L180.9 646.5 L181.3 644.2 L181.6 642.7 L182.0 641.9 L182.4 641.8 L182.8 643.1 L183.2 644.9 L183.6 647.4 L184.0 649.9 L184.4 652.5 L184.8 654.8 L185.1 656.2 L185.5 658.0 L185.9 658.7 L186.3 660.3 L186.7 660.6 L187.1 661.7 L187.5 662.4 L187.9 662.4 L188.3 662.1 L188.7 661.7 L189.0 661.6 L189.4 661.9 L189.8 661.9 L190.2 662.5 L190.6 662.3 L191.0 662.2 L191.4 661.6 L191.8 661.4 L192.2 660.5 L192.5 660.5 L192.9 660.4 L193.3 661.2 L193.7 659.7 L194.1 659.4 L194.5 658.0 L194.9 658.7 L195.3 657.6 L195.7 657.7 L196.1 657.6 L196.4 657.8 L196.8 657.9 L197.2 657.0 L197.6 656.9 L198.0 655.5 L198.4 655.2 L198.8 654.3 L199.2 654.4 L199.6 654.2 L199.9 653.6 L200.3 653.0 L200.7 652.2 L201.1 651.9 L201.5 651.5 L201.9 651.2 L202.3 650.9 L202.7 650.4 L203.1 649.8 L203.4 649.2 L203.8 648.4 L204.2 647.8 L204.6 647.1 L205.0 646.4 L205.4 645.4 L205.8 644.7 L206.2 643.6 L206.6 641.9 L207.0 639.7 L207.3 638.4 L207.7 636.8 L208.1 635.2 L208.5 632.6 L208.9 630.4 L209.3 628.4 L209.7 626.9 L210.1 625.4 L210.5 623.5 L210.8 621.4 L211.2 620.4 L211.6 620.1 L212.0 620.6 L212.4 621.6 L212.8 622.3 L213.2 623.3 L213.6 623.2 L214.0 624.2 L214.4 624.9 L214.7 626.5 L215.1 627.5 L215.5 628.4 L215.9 628.8 L216.3 628.5 L216.7 628.5 L217.1 627.9 L217.5 627.3 L217.9 627.0 L218.2 625.9 L218.6 625.1 L219.0 623.5 L219.4 621.2 L219.8 619.2 L220.2 616.8 L220.6 614.8 L221.0 612.3 L221.4 609.0 L221.8 606.2 L222.1 603.0 L222.5 600.0 L222.9 597.1 L223.3 593.9 L223.7 591.3 L224.1 588.4 L224.5 586.1 L224.9 584.4 L225.3 583.8 L225.6 584.1 L226.0 585.1 L226.4 586.3 L226.8 587.8 L227.2 589.9 L227.6 592.9 L228.0 596.2 L228.4 599.5 L228.8 602.6 L229.1 605.8 L229.5 608.7 L229.9 611.7 L230.3 614.3 L230.7 616.4 L231.1 618.2 L231.5 620.3 L231.9 622.5 L232.3 624.1 L232.7 625.1 L233.0 625.9 L233.4 626.8 L233.8 627.9 L234.2 629.5 L234.6 630.4 L235.0 630.2 L235.4 629.6 L235.8 630.2 L236.2 631.1 L236.5 632.4 L236.9 632.0 L237.3 632.3 L237.7 632.2 L238.1 632.7 L238.5 633.4 L238.9 633.8 L239.3 634.0 L239.7 634.1 L240.1 634.3 L240.4 634.6 L240.8 634.2 L241.2 634.6 L241.6 635.2 L242.0 635.5 L242.4 635.4 L242.8 635.8 L243.2 636.7 L243.6 637.4 L243.9 636.8 L244.3 636.4 L244.7 636.4 L245.1 636.9 L245.5 637.8 L245.9 637.9 L246.3 638.1 L246.7 637.5 L247.1 637.8 L247.5 638.1 L247.8 638.7 L248.2 638.8 L248.6 639.2 L249.0 639.6 L249.4 640.0 L249.8 640.1 L250.2 640.4 L250.6 640.1 L251.0 640.2 L251.3 639.7 L251.7 640.1 L252.1 640.2 L252.5 640.8 L252.9 640.4 L253.3 640.7 L253.7 641.1 L254.1 641.8 L254.5 641.6 L254.8 641.5 L255.2 641.7 L255.6 642.1 L256.0 642.5 L256.4 642.5 L256.8 642.7 L257.2 642.6 L257.6 642.6 L258.0 643.0 L258.4 643.5 L258.7 644.3 L259.1 644.8 L259.5 644.7 L259.9 644.2 L260.3 644.2 L260.7 644.7 L261.1 645.3 L261.5 645.1 L261.9 644.9 L262.2 644.8 L262.6 645.1 L263.0 645.4 L263.4 645.7 L263.8 646.2 L264.2 646.6 L264.6 647.1 L265.0 647.5 L265.4 647.6 L265.8 647.1 L266.1 647.4 L266.5 647.4 L266.9 648.1 L267.3 647.9 L267.7 648.1 L268.1 648.6 L268.5 649.0 L268.9 649.2 L269.3 648.3 L269.6 648.3 L270.0 648.2 L270.4 649.0 L270.8 649.1 L271.2 649.8 L271.6 650.3 L272.0 650.7 L272.4 650.5 L272.8 650.2 L273.2 650.2 L273.5 650.1 L273.9 650.3 L274.3 650.4 L274.7 650.9 L275.1 651.5 L275.5 651.4 L275.9 651.4 L276.3 651.5 L276.7 651.9 L277.0 652.2 L277.4 652.1 L277.8 652.1 L278.2 652.2 L278.6 652.2 L279.0 652.1 L279.4 651.7 L279.8 652.2 L280.2 652.3 L280.6 652.6 L280.9 652.7 L281.3 652.8 L281.7 653.5 L282.1 653.4 L282.5 653.9 L282.9 654.0 L283.3 653.9 L283.7 653.8 L284.1 653.4 L284.4 653.8 L284.8 653.7 L285.2 654.3 L285.6 654.1 L286.0 654.5 L286.4 654.7 L286.8 655.4 L287.2 655.8 L287.6 655.6 L287.9 655.0 L288.3 654.7 L288.7 655.1 L289.1 655.5 L289.5 655.9 L289.9 655.6 L290.3 655.8 L290.7 655.7 L291.1 655.9 L291.5 656.0 L291.8 655.8 L292.2 655.9 L292.6 655.6 L293.0 656.1 L293.4 656.5 L293.8 656.9 L294.2 657.0 L294.6 657.5 L295.0 657.8 L295.3 657.6 L295.7 657.1 L296.1 657.2 L296.5 657.3 L296.9 657.2 L297.3 657.5 L297.7 657.7 L298.1 658.3 L298.5 657.9 L298.9 658.0 L299.2 658.0 L299.6 658.0 L300.0 658.3 L300.4 658.3 L300.8 659.0 L301.2 659.5 L301.6 659.3 L302.0 658.9 L302.4 658.6 L302.7 658.9 L303.1 658.9 L303.5 658.5 L303.9 658.5 L304.3 658.8 L304.7 658.6 L305.1 658.6 L305.5 658.6 L305.9 659.5 L306.3 659.4 L306.6 659.1 L307.0 658.7 L307.4 658.8 L307.8 658.9 L308.2 659.1 L308.6 659.1 L309.0 659.7 L309.4 659.4 L309.8 659.9 L310.1 660.1 L310.5 660.7 L310.9 660.6 L311.3 660.4 L311.7 660.8 L312.1 661.2 L312.5 661.3 L312.9 660.4 L313.3 659.7 L313.6 660.0 L314.0 660.4 L314.4 660.6 L314.8 660.3 L315.2 660.8 L315.6 660.8 L316.0 661.3 L316.4 661.0 L316.8 661.0 L317.2 660.5 L317.5 660.2 L317.9 660.7 L318.3 661.5 L318.7 661.5 L319.1 661.0 L319.5 660.6 L319.9 661.1 L320.3 661.8 L320.7 661.9 L321.0 661.8 L321.4 661.6 L321.8 661.1 L322.2 661.1 L322.6 660.8 L323.0 661.5 L323.4 661.2 L323.8 661.5 L324.2 661.1 L324.6 661.8 L324.9 661.8 L325.3 661.7 L325.7 661.7 L326.1 661.8 L326.5 662.3 L326.9 662.0 L327.3 662.0 L327.7 661.9 L328.1 661.9 L328.4 661.7 L328.8 661.5 L329.2 661.6 L329.6 661.9 L330.0 661.9 L330.4 662.0 L330.8 662.4 L331.2 663.3 L331.6 663.4 L332.0 662.9 L332.3 662.5 L332.7 662.2 L333.1 662.1 L333.5 662.4 L333.9 663.1 L334.3 663.5 L334.7 662.9 L335.1 662.7 L335.5 662.5 L335.8 662.5 L336.2 662.2 L336.6 662.6 L337.0 662.6 L337.4 663.0 L337.8 662.9 L338.2 662.8 L338.6 662.5 L339.0 662.6 L339.3 662.6 L339.7 662.9 L340.1 662.5 L340.5 662.4 L340.9 662.7 L341.3 662.5 L341.7 663.4 L342.1 662.8 L342.5 663.1 L342.9 662.5 L343.2 662.6 L343.6 662.6 L344.0 662.1 L344.4 662.4 L344.8 662.7 L345.2 663.4 L345.6 662.7 L346.0 662.4 L346.4 662.1 L346.7 662.1 L347.1 662.3 L347.5 662.3 L347.9 662.3 L348.3 662.1 L348.7 662.2 L349.1 662.3 L349.5 662.3 L349.9 661.8 L350.3 661.5 L350.6 661.0 L351.0 660.5 L351.4 660.2 L351.8 659.3 L352.2 658.8 L352.6 657.4 L353.0 656.3 L353.4 654.3 L353.8 651.7 L354.1 648.6 L354.5 644.7 L354.9 640.0 L355.3 633.5 L355.7 626.9 L356.1 619.6 L356.5 612.9 L356.9 606.9 L357.3 601.7 L357.7 598.8 L358.0 597.8 L358.4 600.7 L358.8 605.8 L359.2 612.3 L359.6 618.7 L360.0 624.9 L360.4 631.2 L360.8 637.9 L361.2 643.6 L361.5 648.3 L361.9 651.2 L362.3 653.9 L362.7 656.0 L363.1 657.9 L363.5 659.1 L363.9 659.9 L364.3 660.4 L364.7 660.5 L365.0 661.0 L365.4 661.4 L365.8 662.0 L366.2 663.0 L366.6 663.5 L367.0 663.8 L367.4 663.5 L367.8 663.3 L368.2 663.6 L368.6 663.6 L368.9 663.7 L369.3 663.1 L369.7 663.5 L370.1 664.0 L370.5 664.4 L370.9 664.5 L371.3 664.5 L371.7 664.5 L372.1 664.2 L372.4 664.3 L372.8 664.6 L373.2 664.4 L373.6 664.1 L374.0 664.0 L374.4 664.4 L374.8 664.8 L375.2 665.1 L375.6 665.3 L376.0 665.1 L376.3 665.0 L376.7 664.8 L377.1 665.3 L377.5 665.0 L377.9 664.8 L378.3 664.7 L378.7 664.9 L379.1 665.1 L379.5 665.0 L379.8 665.1 L380.2 665.0 L380.6 665.1 L381.0 665.1 L381.4 665.2 L381.8 665.6 L382.2 666.0 L382.6 666.3 L383.0 666.0 L383.4 665.8 L383.7 665.7 L384.1 665.8 L384.5 665.6 L384.9 665.7 L385.3 665.3 L385.7 665.5 L386.1 665.1 L386.5 665.5 L386.9 665.4 L387.2 665.9 L387.6 665.8 L388.0 665.6 L388.4 665.0 L388.8 664.6 L389.2 665.1 L389.6 665.5 L390.0 666.2 L390.4 665.7 L390.8 666.3 L391.1 666.1 L391.5 666.5 L391.9 666.6 L392.3 667.1 L392.7 666.9 L393.1 666.4 L393.5 666.2 L393.9 666.0 L394.3 665.7 L394.6 665.4 L395.0 664.8 L395.4 665.2 L395.8 665.6 L396.2 665.9 L396.6 665.7 L397.0 665.6 L397.4 666.1 L397.8 666.4 L398.1 666.2 L398.5 666.0 L398.9 665.6 L399.3 666.1 L399.7 666.4 L400.1 666.8 L400.5 666.5 L400.9 666.2 L401.3 665.8 L401.7 666.0 L402.0 666.2 L402.4 666.5 L402.8 666.8 L403.2 666.8 L403.6 666.7 L404.0 665.8 L404.4 665.9 L404.8 666.2 L405.2 667.2 L405.5 667.2 L405.9 667.1 L406.3 667.0 L406.7 666.6 L407.1 666.8 L407.5 666.3 L407.9 666.5 L408.3 666.1 L408.7 666.5 L409.1 667.1 L409.4 667.4 L409.8 667.1 L410.2 666.5 L410.6 666.6 L411.0 666.4 L411.4 666.3 L411.8 666.1 L412.2 665.8 L412.6 665.8 L412.9 665.6 L413.3 666.4 L413.7 666.7 L414.1 666.1 L414.5 666.1 L414.9 666.0 L415.3 666.4 L415.7 666.9 L416.1 666.7 L416.5 667.0 L416.8 666.1 L417.2 666.2 L417.6 666.0 L418.0 666.3 L418.4 666.0 L418.8 666.1 L419.2 665.7 L419.6 665.9 L420.0 665.2 L420.3 665.8 L420.7 665.6 L421.1 666.0 L421.5 665.9 L421.9 666.0 L422.3 666.0 L422.7 665.4 L423.1 665.1 L423.5 664.7 L423.8 664.4 L424.2 664.2 L424.6 664.1 L425.0 663.8 L425.4 662.9 L425.8 662.5 L426.2 662.6 L426.6 662.8 L427.0 662.3 L427.4 661.4 L427.7 661.0 L428.1 660.7 L428.5 660.5 L428.9 660.5 L429.3 660.7 L429.7 660.6 L430.1 660.7 L430.5 660.8 L430.9 661.1 L431.2 660.8 L431.6 660.8 L432.0 661.7 L432.4 662.4 L432.8 662.8 L433.2 662.6 L433.6 662.8 L434.0 663.3 L434.4 663.5 L434.8 663.9 L435.1 664.0 L435.5 663.7 L435.9 663.2 L436.3 663.5 L436.7 664.2 L437.1 664.8 L437.5 665.3 L437.9 665.5 L438.3 666.1 L438.6 665.9 L439.0 666.4 L439.4 666.3 L439.8 666.4 L440.2 666.6 L440.6 666.2 L441.0 666.0 L441.4 665.1 L441.8 665.4 L442.2 665.3 L442.5 665.5 L442.9 665.3 L443.3 665.3 L443.7 665.4 L444.1 664.7 L444.5 664.3 L444.9 663.1 L445.3 662.8 L445.7 662.1 L446.0 662.1 L446.4 662.0 L446.8 661.4 L447.2 660.1 L447.6 659.1 L448.0 658.7 L448.4 659.2 L448.8 659.4 L449.2 659.7 L449.5 659.5 L449.9 658.9 L450.3 658.7 L450.7 659.2 L451.1 659.7 L451.5 660.5 L451.9 661.5 L452.3 662.1 L452.7 662.1 L453.1 662.3 L453.4 662.7 L453.8 663.3 L454.2 663.5 L454.6 664.4 L455.0 665.3 L455.4 665.5 L455.8 665.5 L456.2 665.8 L456.6 666.7 L456.9 667.3 L457.3 666.8 L457.7 665.9 L458.1 665.5 L458.5 665.5 L458.9 666.7 L459.3 666.8 L459.7 666.7 L460.1 666.0 L460.5 666.3 L460.8 666.6 L461.2 666.8 L461.6 667.0 L462.0 667.0 L462.4 666.8 L462.8 666.7 L463.2 666.8 L463.6 667.0 L464.0 666.6 L464.3 666.9 L464.7 666.6 L465.1 667.2 L465.5 667.1 L465.9 667.5 L466.3 667.6 L466.7 667.1 L467.1 667.0 L467.5 666.5 L467.9 666.9 L468.2 667.0 L468.6 667.9 L469.0 668.3 L469.4 668.9 L469.8 668.4 L470.2 668.0 L470.6 667.2 L471.0 667.1 L471.4 667.3 L471.7 667.9 L472.1 667.9 L472.5 667.8 L472.9 667.9 L473.3 667.8 L473.7 668.1 L474.1 668.4 L474.5 668.3 L474.9 668.0 L475.3 667.4 L475.6 667.6 L476.0 667.3 L476.4 667.9 L476.8 667.8 L477.2 668.1 L477.6 667.6 L478.0 667.3 L478.4 666.5 L478.8 666.6 L479.1 666.9 L479.5 667.5 L479.9 667.3 L480.3 667.3 L480.7 666.9 L481.1 667.1 L481.5 666.9 L481.9 667.3 L482.3 667.6 L482.6 667.8 L483.0 667.7 L483.4 667.7 L483.8 667.9 L484.2 668.1 L484.6 667.3 L485.0 667.3 L485.4 667.5 L485.8 667.9 L486.2 667.8 L486.5 668.1 L486.9 668.2 L487.3 668.7 L487.7 667.8 L488.1 667.4 L488.5 666.9 L488.9 667.8 L489.3 668.6 L489.7 669.1 L490.0 668.4 L490.4 667.6 L490.8 667.2 L491.2 667.7 L491.6 667.8 L492.0 667.9 L492.4 667.9 L492.8 667.6 L493.2 667.3 L493.6 667.3 L493.9 667.8 L494.3 668.1 L494.7 668.0 L495.1 668.4 L495.5 668.5 L495.9 668.5 L496.3 668.4 L496.7 668.4 L497.1 668.3 L497.4 667.8 L497.8 667.6 L498.2 667.4 L498.6 667.5 L499.0 667.9 L499.4 668.3 L499.8 668.4 L500.2 668.2 L500.6 667.8 L501.0 667.7 L501.3 667.5 L501.7 668.3 L502.1 668.6 L502.5 668.5 L502.9 668.2 L503.3 668.7 L503.7 669.2 L504.1 668.7 L504.5 668.2 L504.8 667.5 L505.2 667.8 L505.6 667.7 L506.0 667.8 L506.4 668.2 L506.8 667.9 L507.2 668.1 L507.6 668.0 L508.0 667.8 L508.3 668.0 L508.7 667.7 L509.1 668.1" stroke="#c8660e" stroke-width="3" fill="none" stroke-linejoin="round"/>
<path d="M73.0 676.3 L74.6 676.3 L76.2 676.3 L77.9 676.3 L79.5 676.3 L81.1 676.3 L82.7 676.3 L84.4 676.3 L86.0 676.3 L87.6 676.3 L89.2 676.3 L90.8 676.3 L92.5 676.3 L94.1 676.3 L95.7 676.3 L97.3 676.3 L99.0 676.3 L100.6 676.3 L102.2 676.3 L103.8 676.3 L105.4 676.3 L107.1 676.3 L108.7 676.3 L110.3 676.3 L111.9 676.3 L113.6 676.3 L115.2 676.3 L116.8 676.2 L118.4 676.2 L120.1 676.2 L121.7 676.2 L123.3 676.2 L124.9 676.2 L126.5 676.2 L128.2 676.2 L129.8 676.1 L131.4 676.1 L133.0 676.1 L134.7 676.1 L136.3 676.0 L137.9 676.0 L139.5 675.9 L141.1 675.9 L142.8 675.8 L144.4 675.8 L146.0 675.7 L147.6 675.7 L149.3 675.6 L150.9 675.5 L152.5 675.4 L154.1 675.3 L155.7 675.2 L157.4 675.1 L159.0 674.9 L160.6 674.8 L162.2 674.7 L163.9 674.5 L165.5 674.3 L167.1 674.1 L168.7 673.9 L170.3 673.7 L172.0 673.5 L173.6 673.2 L175.2 673.0 L176.8 672.7 L178.5 672.4 L180.1 672.1 L181.7 671.7 L183.3 671.4 L185.0 671.0 L186.6 670.6 L188.2 670.2 L189.8 669.8 L191.4 669.4 L193.1 668.9 L194.7 668.5 L196.3 668.0 L197.9 667.5 L199.6 667.0 L201.2 666.5 L202.8 666.0 L204.4 665.5 L206.0 664.9 L207.7 664.4 L209.3 663.8 L210.9 663.3 L212.5 662.8 L214.2 662.2 L215.8 661.7 L217.4 661.2 L219.0 660.6 L220.6 660.1 L222.3 659.7 L223.9 659.2 L225.5 658.7 L227.1 658.3 L228.8 657.9 L230.4 657.5 L232.0 657.1 L233.6 656.8 L235.2 656.5 L236.9 656.2 L238.5 656.0 L240.1 655.8 L241.7 655.6 L243.4 655.5 L245.0 655.4 L246.6 655.3 L248.2 655.3 L249.9 655.3 L251.5 655.4 L253.1 655.4 L254.7 655.5 L256.3 655.6 L258.0 655.8 L259.6 656.0 L261.2 656.2 L262.8 656.4 L264.5 656.6 L266.1 656.9 L267.7 657.2 L269.3 657.5 L270.9 657.8 L272.6 658.2 L274.2 658.5 L275.8 658.9 L277.4 659.3 L279.1 659.7 L280.7 660.1 L282.3 660.5 L283.9 661.0 L285.5 661.4 L287.2 661.9 L288.8 662.3 L290.4 662.8 L292.0 663.2 L293.7 663.7 L295.3 664.1 L296.9 664.6 L298.5 665.0 L300.1 665.5 L301.8 665.9 L303.4 666.4 L305.0 666.8 L306.6 667.2 L308.3 667.6 L309.9 668.0 L311.5 668.3 L313.1 668.7 L314.8 669.0 L316.4 669.3 L318.0 669.6 L319.6 669.8 L321.2 670.0 L322.9 670.2 L324.5 670.4 L326.1 670.5 L327.7 670.6 L329.4 670.7 L331.0 670.7 L332.6 670.8 L334.2 670.8 L335.8 670.8 L337.5 670.7 L339.1 670.7 L340.7 670.6 L342.3 670.6 L344.0 670.6 L345.6 670.6 L347.2 670.6 L348.8 670.7 L350.4 670.7 L352.1 670.8 L353.7 671.0 L355.3 671.1 L356.9 671.3 L358.6 671.6 L360.2 671.8 L361.8 672.1 L363.4 672.4 L365.0 672.7 L366.7 673.0 L368.3 673.3 L369.9 673.6 L371.5 673.9 L373.2 674.2 L374.8 674.4 L376.4 674.7 L378.0 674.9 L379.7 675.1 L381.3 675.3 L382.9 675.4 L384.5 675.6 L386.1 675.7 L387.8 675.8 L389.4 675.9 L391.0 676.0 L392.6 676.0 L394.3 676.1 L395.9 676.1 L397.5 676.1 L399.1 676.2 L400.7 676.2 L402.4 676.2 L404.0 676.2 L405.6 676.2 L407.2 676.2 L408.9 676.3 L410.5 676.3 L412.1 676.3 L413.7 676.3 L415.3 676.3 L417.0 676.3 L418.6 676.3 L420.2 676.3 L421.8 676.3 L423.5 676.3 L425.1 676.3 L426.7 676.3 L428.3 676.3 L429.9 676.3 L431.6 676.3 L433.2 676.3 L434.8 676.3 L436.4 676.3 L438.1 676.3 L439.7 676.3 L441.3 676.3 L442.9 676.3 L444.6 676.3 L446.2 676.3 L447.8 676.3 L449.4 676.3 L451.0 676.3 L452.7 676.3 L454.3 676.3 L455.9 676.3 L457.5 676.3 L459.2 676.3 L460.8 676.3 L462.4 676.3 L464.0 676.3 L465.6 676.3 L467.3 676.3 L468.9 676.3 L470.5 676.3 L472.1 676.3 L473.8 676.3 L475.4 676.3 L477.0 676.3 L478.6 676.3 L480.2 676.3 L481.9 676.3 L483.5 676.3 L485.1 676.3 L486.7 676.3 L488.4 676.3 L490.0 676.3 L491.6 676.3 L493.2 676.3 L494.8 676.3 L496.5 676.3 L498.1 676.3 L499.7 676.3 L501.3 676.3 L503.0 676.3 L504.6 676.3 L506.2 676.3 L507.8 676.3 L509.5 676.3" stroke="#9b0fd0" stroke-width="2.6" stroke-dasharray="12 8" fill="none"/>
</g>
<text x="81.8" y="611" font-size="33" fill="#000">(GPa)</text>
<text x="86" y="657.2" font-size="31.8" fill="#a0561e">18.6</text>
<text x="86" y="711.3" font-size="31.8" fill="#1a7a98">16.9</text>
<text x="86" y="763.8" font-size="31.8" fill="#e07080">13.3</text>
<text x="86" y="827" font-size="31.8" fill="#8c8c8c">11.3</text>
<text x="86" y="891.9" font-size="31.8" fill="#3a3f80">9.4</text>
<text x="86" y="959.8" font-size="31.8" fill="#108a10">7.2</text>
<text x="86" y="1032" font-size="31.8" fill="#e2ac40">5.1</text>
<text x="86" y="1099.6" font-size="31.8" fill="#1a5878">3.3</text>
<text x="86" y="1163.7" font-size="31.8" fill="#dd5566">1.9</text>
<text x="132.3" y="1228.1" font-size="27.5" fill="#000">(222)</text>
<text x="90.4" y="1275.9" font-size="27.5" fill="#000">(022)</text>
<text x="213.8" y="1265" font-size="27.5" fill="#000">(004)</text>
<text x="294.4" y="1265" font-size="27.5" fill="#000">(044)</text>
<text x="367.7" y="1265" font-size="27.5" fill="#000">(226)</text>
<text x="442.3" y="1265" font-size="27.5" fill="#000">(444)</text>
<text x="505.6" y="1235.2" font-size="29.2" fill="#0000ff" text-anchor="end">Cu1 Framework</text>
<text x="505.6" y="1324.3" font-size="29" fill="#ff0000" text-anchor="end">Cu<tspan font-size="21" dy="9">12</tspan><tspan dy="-9">Sb</tspan><tspan font-size="21" dy="9">4</tspan><tspan dy="-9">S</tspan><tspan font-size="21" dy="9">13</tspan></text>
<rect x="700.6" y="581.1" width="308.6" height="400.3" fill="none" stroke="#000" stroke-width="2"/>
<path d="M873.2 594.2 L891.6 575.8 M873.2 617.3 L891.6 598.9 M873.2 640.4 L891.6 622 M873.2 663.5 L891.6 645.1 M873.2 686.6 L891.6 668.2 M873.2 709.7 L891.6 691.3 M873.2 732.8 L891.6 714.4 M873.2 755.9 L891.6 737.5 M873.2 779 L891.6 760.6 M873.2 802.1 L891.6 783.7 M873.2 825.2 L891.6 806.8 M873.2 848.3 L891.6 829.9 M873.2 871.4 L891.6 853 M873.2 894.5 L891.6 876.1 M873.2 917.6 L891.6 899.2 M873.2 940.7 L891.6 922.3 M873.2 963.8 L891.6 945.4 M873.2 986.9 L891.6 968.5 M873.2 1010 L891.6 991.6" stroke="#c0c0c0" stroke-width="5.8" fill="none" clip-path="url(#hc1)"/>
<path d="M700.6 981.4 H709.4" stroke="#000" stroke-width="1.8"/>
<text x="690" y="990.7" font-size="30" fill="#000" text-anchor="end">850</text>
<path d="M700.6 941.4 H705.6" stroke="#000" stroke-width="1.8"/>
<path d="M700.6 901.3 H709.4" stroke="#000" stroke-width="1.8"/>
<text x="690" y="910.6" font-size="30" fill="#000" text-anchor="end">900</text>
<path d="M700.6 861.3 H705.6" stroke="#000" stroke-width="1.8"/>
<path d="M700.6 821.3 H709.4" stroke="#000" stroke-width="1.8"/>
<text x="690" y="830.6" font-size="30" fill="#000" text-anchor="end">950</text>
<path d="M700.6 781.2 H705.6" stroke="#000" stroke-width="1.8"/>
<path d="M700.6 741.2 H709.4" stroke="#000" stroke-width="1.8"/>
<text x="690" y="750.5" font-size="30" fill="#000" text-anchor="end">1000</text>
<path d="M700.6 701.2 H705.6" stroke="#000" stroke-width="1.8"/>
<path d="M700.6 661.2 H709.4" stroke="#000" stroke-width="1.8"/>
<text x="690" y="670.5" font-size="30" fill="#000" text-anchor="end">1050</text>
<path d="M700.6 621.1 H705.6" stroke="#000" stroke-width="1.8"/>
<path d="M700.6 581.1 H709.4" stroke="#000" stroke-width="1.8"/>
<text x="690" y="590.4" font-size="30" fill="#000" text-anchor="end">1100</text>
<path d="M732.7 981.4 V974.4" stroke="#000" stroke-width="1.8"/>
<path d="M765.1 981.4 V969.4" stroke="#000" stroke-width="1.8"/>
<path d="M797.4 981.4 V974.4" stroke="#000" stroke-width="1.8"/>
<path d="M829.8 981.4 V969.4" stroke="#000" stroke-width="1.8"/>
<path d="M862.1 981.4 V974.4" stroke="#000" stroke-width="1.8"/>
<path d="M894.4 981.4 V969.4" stroke="#000" stroke-width="1.8"/>
<path d="M926.8 981.4 V974.4" stroke="#000" stroke-width="1.8"/>
<path d="M959.1 981.4 V969.4" stroke="#000" stroke-width="1.8"/>
<path d="M991.5 981.4 V974.4" stroke="#000" stroke-width="1.8"/>
<path d="M732.7 625.9 L905.8 840.5" stroke="#f00" stroke-width="2" stroke-dasharray="8 6" fill="none"/>
<path d="M849.2 758.8 L991.5 946.2" stroke="#1010e0" stroke-width="2" stroke-dasharray="8 6" fill="none"/>
<circle cx="732.7" cy="629.8" r="9.3" fill="none" stroke="#000" stroke-width="2.6"/>
<circle cx="754.1" cy="662.6" r="9.3" fill="none" stroke="#000" stroke-width="2.6"/>
<circle cx="782.8" cy="704.3" r="9.3" fill="none" stroke="#000" stroke-width="2.6"/>
<circle cx="816.8" cy="751.8" r="9.3" fill="none" stroke="#000" stroke-width="2.6"/>
<circle cx="852.6" cy="787.9" r="9.3" fill="none" stroke="#000" stroke-width="2.6"/>
<circle cx="883.7" cy="816.3" r="9.3" fill="none" stroke="#000" stroke-width="2.6"/>
<circle cx="916.2" cy="857.1" r="9.3" fill="none" stroke="#000" stroke-width="2.6"/>
<circle cx="950" cy="898.1" r="9.3" fill="none" stroke="#000" stroke-width="2.6"/>
<circle cx="974.9" cy="923.6" r="9.3" fill="none" stroke="#000" stroke-width="2.6"/>
<text x="784" y="637" font-size="28.5" fill="#f00"><tspan font-style="italic">B</tspan><tspan font-size="19" dy="6">0</tspan><tspan dy="-6">= 56.4(9) GPa</tspan></text>
<text x="786" y="671.3" font-size="28.5" fill="#f00"><tspan font-style="italic">V</tspan><tspan font-size="19" dy="6">0</tspan><tspan dy="-6">= 1104.5(4) Å</tspan><tspan font-size="19" dy="-11">3</tspan></text>
<text x="726" y="920.7" font-size="28.5" fill="#1010e0"><tspan font-style="italic">B</tspan><tspan font-size="19" dy="6">0</tspan><tspan dy="-6">= 36.4(2) GPa</tspan></text>
<text x="728" y="954.6" font-size="28.5" fill="#1010e0"><tspan font-style="italic">V</tspan><tspan font-size="19" dy="6">0</tspan><tspan dy="-6">= 1195.6(3) Å</tspan><tspan font-size="19" dy="-11">3</tspan></text>
<text x="748" y="736" font-size="22" fill="#f00" font-weight="bold">LP</text>
<text x="953" y="858" font-size="22" fill="#1010e0" font-weight="bold">HP</text>
<text transform="translate(608 768.5) rotate(-90)" font-size="37" text-anchor="middle">Cell Volume (Å<tspan font-size="25" dy="-14">3</tspan><tspan dy="14">)</tspan></text>
<text x="552" y="611" font-size="40" fill="#000" font-weight="bold">c</text>
<rect x="700.5" y="1002.9" width="310" height="401.5" fill="none" stroke="#000" stroke-width="2"/>
<path d="M807.3 991 L825.7 1009.4 M807.3 1014.1 L825.7 1032.5 M807.3 1037.2 L825.7 1055.6 M807.3 1060.3 L825.7 1078.7 M807.3 1083.4 L825.7 1101.8 M807.3 1106.5 L825.7 1124.9 M807.3 1129.6 L825.7 1148 M807.3 1152.7 L825.7 1171.1 M807.3 1175.8 L825.7 1194.2 M807.3 1198.9 L825.7 1217.3 M807.3 1222 L825.7 1240.4 M807.3 1245.1 L825.7 1263.5 M807.3 1268.2 L825.7 1286.6 M807.3 1291.3 L825.7 1309.7 M807.3 1314.4 L825.7 1332.8 M807.3 1337.5 L825.7 1355.9 M807.3 1360.6 L825.7 1379 M807.3 1383.7 L825.7 1402.1 M807.3 1406.8 L825.7 1425.2" stroke="#c0c0c0" stroke-width="5.8" fill="none" clip-path="url(#hc2)"/>
<path d="M874.3 1012.5 L892.1 994.7 M874.3 1035.6 L892.1 1017.8 M874.3 1058.7 L892.1 1040.9 M874.3 1081.8 L892.1 1064 M874.3 1104.9 L892.1 1087.1 M874.3 1128 L892.1 1110.2 M874.3 1151.1 L892.1 1133.3 M874.3 1174.2 L892.1 1156.4 M874.3 1197.3 L892.1 1179.5 M874.3 1220.4 L892.1 1202.6 M874.3 1243.5 L892.1 1225.7 M874.3 1266.6 L892.1 1248.8 M874.3 1289.7 L892.1 1271.9 M874.3 1312.8 L892.1 1295 M874.3 1335.9 L892.1 1318.1 M874.3 1359 L892.1 1341.2 M874.3 1382.1 L892.1 1364.3 M874.3 1405.2 L892.1 1387.4 M874.3 1428.3 L892.1 1410.5" stroke="#c0c0c0" stroke-width="5.8" fill="none" clip-path="url(#hc3)"/>
<path d="M700.5 1404.4 H709.3" stroke="#000" stroke-width="1.8"/>
<text x="690.3" y="1413.6" font-size="30" fill="#000" text-anchor="end">89</text>
<path d="M700.5 1359.8 H705.5" stroke="#000" stroke-width="1.8"/>
<path d="M700.5 1315.2 H709.3" stroke="#000" stroke-width="1.8"/>
<text x="690.3" y="1324.4" font-size="30" fill="#000" text-anchor="end">90</text>
<path d="M700.5 1270.6 H705.5" stroke="#000" stroke-width="1.8"/>
<path d="M700.5 1226 H709.3" stroke="#000" stroke-width="1.8"/>
<text x="690.3" y="1235.2" font-size="30" fill="#000" text-anchor="end">91</text>
<path d="M700.5 1181.4 H705.5" stroke="#000" stroke-width="1.8"/>
<path d="M700.5 1136.8 H709.3" stroke="#000" stroke-width="1.8"/>
<text x="690.3" y="1146" font-size="30" fill="#000" text-anchor="end">92</text>
<path d="M700.5 1092.2 H705.5" stroke="#000" stroke-width="1.8"/>
<path d="M700.5 1047.6 H709.3" stroke="#000" stroke-width="1.8"/>
<text x="690.3" y="1056.8" font-size="30" fill="#000" text-anchor="end">93</text>
<path d="M732.7 1404.4 V1397.4" stroke="#000" stroke-width="1.8"/>
<path d="M765.1 1404.4 V1392.4" stroke="#000" stroke-width="1.8"/>
<path d="M797.4 1404.4 V1397.4" stroke="#000" stroke-width="1.8"/>
<path d="M829.8 1404.4 V1392.4" stroke="#000" stroke-width="1.8"/>
<path d="M862.1 1404.4 V1397.4" stroke="#000" stroke-width="1.8"/>
<path d="M894.4 1404.4 V1392.4" stroke="#000" stroke-width="1.8"/>
<path d="M926.8 1404.4 V1397.4" stroke="#000" stroke-width="1.8"/>
<path d="M959.1 1404.4 V1392.4" stroke="#000" stroke-width="1.8"/>
<path d="M991.5 1404.4 V1397.4" stroke="#000" stroke-width="1.8"/>
<text x="700.4" y="1437.3" font-size="30" fill="#000" text-anchor="middle">0</text>
<text x="765.1" y="1437.3" font-size="30" fill="#000" text-anchor="middle">4</text>
<text x="829.8" y="1437.3" font-size="30" fill="#000" text-anchor="middle">8</text>
<text x="898.4" y="1437.3" font-size="30" fill="#000" text-anchor="middle">12</text>
<text x="963.1" y="1437.3" font-size="30" fill="#000" text-anchor="middle">16</text>
<path d="M785.8 1130.8 L815.3 1326.8 M825.3 1329.1 L845.8 1299.4 M857.9 1274.5 L880.2 1202.5 M890.1 1201.8 L911.1 1247.4 M920.9 1273.6 L947.6 1363.6" stroke="#f00" stroke-width="2" fill="none"/>
<path d="M737.2 1049.6 L747.8 1070.2 M763.4 1093.3 L774.6 1106.3" stroke="#f00" stroke-width="2" stroke-dasharray="9 6" fill="none"/>
<path d="M730.7 1025.6 L718.5 1046.5 L742.9 1046.5 Z" fill="#fff" stroke="#f00" stroke-width="2.7" stroke-linejoin="round"/>
<path d="M754.3 1071 L742.1 1091.9 L766.5 1091.9 Z" fill="#fff" stroke="#f00" stroke-width="2.7" stroke-linejoin="round"/>
<path d="M783.8 1105.4 L771.6 1126.3 L796 1126.3 Z" fill="#fff" stroke="#f00" stroke-width="2.7" stroke-linejoin="round"/>
<path d="M817.4 1329 L805.2 1349.9 L829.6 1349.9 Z" fill="#fff" stroke="#f00" stroke-width="2.7" stroke-linejoin="round"/>
<path d="M853.8 1276.3 L841.6 1297.2 L866 1297.2 Z" fill="#fff" stroke="#f00" stroke-width="2.7" stroke-linejoin="round"/>
<path d="M884.3 1177.5 L872.1 1198.4 L896.5 1198.4 Z" fill="#fff" stroke="#f00" stroke-width="2.7" stroke-linejoin="round"/>
<path d="M916.9 1248.6 L904.7 1269.5 L929.1 1269.5 Z" fill="#fff" stroke="#f00" stroke-width="2.7" stroke-linejoin="round"/>
<path d="M951.6 1365.4 L939.4 1386.3 L963.8 1386.3 Z" fill="#fff" stroke="#f00" stroke-width="2.7" stroke-linejoin="round"/>
<text x="785.5" y="1050.6" font-size="28.7" fill="#000">S-Sb-S</text>
<text x="860.3" y="1491.4" font-size="36.7" fill="#000" text-anchor="middle">Pressure (GPa)</text>
<text transform="translate(608 1212.2) rotate(-90)" font-size="36.8" text-anchor="middle">Bond Angles (degree)</text>
<text x="549" y="1014" font-size="40" fill="#000" font-weight="bold">d</text>
<path d="M932.8 1096 L918.2 1122.4" stroke="#777" stroke-width="1.6" stroke-dasharray="5 4"/>
<path d="M972.4 1091.6 L991.5 1122.4" stroke="#777" stroke-width="1.6" stroke-dasharray="5 4"/>
<path d="M947.5 1103.3 L946.8 1137" stroke="#777" stroke-width="1.6" stroke-dasharray="5 4"/>
<path d="M960.4 1112 V1136" stroke="#8a8a8a" stroke-width="2.5"/>
<path d="M960.4 1101 L953 1114 L967.8 1114 Z M960.4 1147 L953 1134 L967.8 1134 Z" fill="#8a8a8a"/>
<path d="M951.2 1063 L924.8 1049.2" stroke="#9a4414" stroke-width="2.6"/>
<path d="M924.8 1049.2 L898.3 1035.5" stroke="#e8e418" stroke-width="2.6"/>
<path d="M951.2 1063 L954.5 1039.1" stroke="#9a4414" stroke-width="2.6"/>
<path d="M954.5 1039.1 L957.8 1015.3" stroke="#e8e418" stroke-width="2.6"/>
<path d="M951.2 1063 L973.5 1050.1" stroke="#9a4414" stroke-width="2.6"/>
<path d="M973.5 1050.1 L995.9 1037.3" stroke="#e8e418" stroke-width="2.6"/>
<path d="M952.6 1173 L932.8 1152.5" stroke="#f0ea20" stroke-width="2.6"/>
<path d="M932.8 1152.5 L913 1131.9" stroke="#e0206e" stroke-width="2.6"/>
<path d="M952.6 1173 L975.7 1153.2" stroke="#f0ea20" stroke-width="2.6"/>
<path d="M975.7 1153.2 L998.9 1133.4" stroke="#e0206e" stroke-width="2.6"/>
<path d="M952.6 1173 L930.3 1192.8" stroke="#f0ea20" stroke-width="2.6"/>
<path d="M930.3 1192.8 L907.9 1212.6" stroke="#e0206e" stroke-width="2.6"/>
<path d="M952.6 1173 L973.2 1193.6" stroke="#f0ea20" stroke-width="2.6"/>
<path d="M973.2 1193.6 L993.7 1214.1" stroke="#e0206e" stroke-width="2.6"/>
<circle cx="946" cy="1150.3" r="7.6" fill="url(#spCu2)"/>
<path d="M946 1150.3 L949.3 1161.6" stroke="#e0206e" stroke-width="2.6"/>
<path d="M949.3 1161.6 L952.6 1173" stroke="#f0ea20" stroke-width="2.6"/>
<circle cx="898.3" cy="1035.5" r="8.3" fill="url(#spS)"/>
<circle cx="957.8" cy="1015.3" r="8.3" fill="url(#spS)"/>
<circle cx="995.9" cy="1037.3" r="8.3" fill="url(#spS)"/>
<circle cx="951.2" cy="1063" r="10" fill="url(#spSbd)"/>
<ellipse cx="950.4" cy="1085" rx="17.6" ry="11" fill="url(#lobe2)"/>
<circle cx="913" cy="1131.9" r="8" fill="url(#spCu2)"/>
<circle cx="998.9" cy="1133.4" r="8" fill="url(#spCu2)"/>
<circle cx="907.9" cy="1212.6" r="8" fill="url(#spCu2)"/>
<circle cx="993.7" cy="1214.1" r="8" fill="url(#spCu2)"/>
<circle cx="952.6" cy="1173" r="8.8" fill="url(#spS)"/>
<path d="M952.6 1173 L956.3 1184" stroke="#f0ea20" stroke-width="2.6"/>
<path d="M956.3 1184 L960 1195" stroke="#e0206e" stroke-width="2.6"/>
<circle cx="960" cy="1195" r="7.6" fill="url(#spCu2)"/>
<path d="M928.4 1043.9 C929 1030 945 1024 951.2 1039.5" stroke="#4a78d8" stroke-width="2" fill="none"/>
<path d="M911 1062 C905 1052 912 1040 923 1034" stroke="#000" stroke-width="1.4" fill="none"/>
<path d="M916 1031 L925 1032.5 L920 1040 M903 1053 L909 1064 L914 1055" stroke="#000" stroke-width="1.4" fill="none"/>
<path d="M980 1060 C987 1050 981 1038 970 1032" stroke="#000" stroke-width="1.4" fill="none"/>
<path d="M977 1030 L968 1031 L973 1039 M990 1052 L984 1063 L979 1054" stroke="#000" stroke-width="1.4" fill="none"/>
<path d="M1254.8 648.4 L1220.8 619.4" stroke="#d0946c" stroke-width="8"/>
<path d="M1220.8 619.4 L1186.7 590.4" stroke="#ece428" stroke-width="8"/>
<path d="M1254.8 648.4 L1297 620" stroke="#d0946c" stroke-width="8"/>
<path d="M1297 620 L1339.2 591.6" stroke="#ece428" stroke-width="8"/>
<path d="M1254.8 648.4 L1247.1 625.1" stroke="#d0946c" stroke-width="8"/>
<path d="M1247.1 625.1 L1239.4 601.8" stroke="#ece428" stroke-width="8"/>
<path d="M1251.2 648.4 L1216.5 708.6" stroke="#d0946c" stroke-width="8"/>
<path d="M1216.5 708.6 L1181.9 768.8" stroke="#ea2c86" stroke-width="8"/>
<path d="M1255.6 648.4 L1262.9 703.5" stroke="#d0946c" stroke-width="8"/>
<path d="M1262.9 703.5 L1270.2 758.6" stroke="#ea2c86" stroke-width="8"/>
<path d="M1257.9 648.4 L1287.8 708.6" stroke="#d0946c" stroke-width="8"/>
<path d="M1287.8 708.6 L1317.7 768.8" stroke="#ea2c86" stroke-width="8"/>
<path d="M1181.9 768.8 L1219.4 795.1" stroke="#ea2c86" stroke-width="8"/>
<path d="M1219.4 795.1 L1256.9 821.5" stroke="#ece428" stroke-width="8"/>
<path d="M1270.2 758.6 L1263.6 790" stroke="#ea2c86" stroke-width="8"/>
<path d="M1263.6 790 L1256.9 821.5" stroke="#ece428" stroke-width="8"/>
<path d="M1317.7 768.8 L1287.3 795.1" stroke="#ea2c86" stroke-width="8"/>
<path d="M1287.3 795.1 L1256.9 821.5" stroke="#ece428" stroke-width="8"/>
<circle cx="1186.7" cy="590.4" r="17" fill="url(#spS)"/>
<circle cx="1339.2" cy="591.6" r="16.5" fill="url(#spS)"/>
<circle cx="1239.4" cy="601.8" r="17" fill="url(#spS)"/>
<path d="M1254.8 648.4 L1239.4 611.8" stroke="#d0946c" stroke-width="8"/>
<circle cx="1270.2" cy="758.6" r="21" fill="url(#spCu2)"/>
<circle cx="1181.9" cy="768.8" r="22" fill="url(#spCu2)"/>
<circle cx="1317.7" cy="768.8" r="22" fill="url(#spCu2)"/>
<path d="M1267.5 771.3 L1263.6 790" stroke="#ea2c86" stroke-width="8"/>
<path d="M1263.6 790 L1256.9 821.5" stroke="#ece428" stroke-width="8"/>
<circle cx="1256.9" cy="821.5" r="18" fill="url(#spS)"/>
<path d="M1219.8 674.4 C1217.8 661.8 1234.8 660.9 1242.8 668.1 Q1254.8 673.5 1266.8 668.1 C1274.8 660.9 1291.8 661.8 1289.8 674.4 C1288.8 692.4 1272.8 700.5 1254.8 700.5 C1236.8 700.5 1220.8 692.4 1219.8 674.4 Z" fill="url(#lobe)" opacity="0.82"/>
<circle cx="1254.8" cy="648.4" r="23.5" fill="url(#spSbC)"/>
<rect x="1211" y="622.8" width="84.4" height="83.9" fill="none" stroke="#2a1ad8" stroke-width="3.4" stroke-dasharray="7.5 4"/>
<path d="M1254.8 729.4 H1161" stroke="#2a1ad8" stroke-width="3.4" stroke-dasharray="3.6 3.6"/>
<path d="M1176 718.9 L1158 729.4 L1176 739.9" stroke="#2a1ad8" stroke-width="3.8" fill="none"/>
<path d="M1254.8 656 V818" stroke="#2a1ad8" stroke-width="3.4" stroke-dasharray="3.6 3.6"/>
<path d="M1244.3 670 L1254.8 653 L1265.3 670" stroke="#2a1ad8" stroke-width="3.8" fill="none"/>
<path d="M1244.3 804 L1254.8 821 L1265.3 804" stroke="#2a1ad8" stroke-width="3.8" fill="none"/>
<text x="1305.5" y="701.9" font-size="31.5" fill="#2a1ad8">LPEs</text>
<text x="1074.5" y="747.3" font-size="31.5" fill="#000">Sb-S</text>
<path d="M1608.7 664.6 L1578.1 630.2" stroke="#d0946c" stroke-width="8"/>
<path d="M1578.1 630.2 L1547.5 595.7" stroke="#ece428" stroke-width="8"/>
<path d="M1608.7 664.6 L1648.2 633.2" stroke="#d0946c" stroke-width="8"/>
<path d="M1648.2 633.2 L1687.7 601.8" stroke="#ece428" stroke-width="8"/>
<path d="M1608.7 664.6 L1603.1 638.7" stroke="#d0946c" stroke-width="8"/>
<path d="M1603.1 638.7 L1597.4 612.7" stroke="#ece428" stroke-width="8"/>
<path d="M1605 664.6 L1570.2 713.7" stroke="#d0946c" stroke-width="8"/>
<path d="M1570.2 713.7 L1535.3 762.7" stroke="#ea2c86" stroke-width="8"/>
<path d="M1609.1 664.6 L1613.4 709.2" stroke="#d0946c" stroke-width="8"/>
<path d="M1613.4 709.2 L1617.6 753.8" stroke="#ea2c86" stroke-width="8"/>
<path d="M1611.5 664.6 L1637.8 717.3" stroke="#d0946c" stroke-width="8"/>
<path d="M1637.8 717.3 L1664.2 770" stroke="#ea2c86" stroke-width="8"/>
<path d="M1535.3 762.7 L1569.3 789" stroke="#ea2c86" stroke-width="8"/>
<path d="M1569.3 789 L1603.4 815.4" stroke="#ece428" stroke-width="8"/>
<path d="M1617.6 753.8 L1610.5 784.6" stroke="#ea2c86" stroke-width="8"/>
<path d="M1610.5 784.6 L1603.4 815.4" stroke="#ece428" stroke-width="8"/>
<path d="M1664.2 770 L1633.8 792.7" stroke="#ea2c86" stroke-width="8"/>
<path d="M1633.8 792.7 L1603.4 815.4" stroke="#ece428" stroke-width="8"/>
<circle cx="1547.5" cy="595.7" r="17" fill="url(#spS)"/>
<circle cx="1687.7" cy="601.8" r="16.5" fill="url(#spS)"/>
<circle cx="1597.4" cy="612.7" r="17" fill="url(#spS)"/>
<path d="M1608.7 664.6 L1597.4 622.7" stroke="#d0946c" stroke-width="8"/>
<circle cx="1617.6" cy="753.8" r="21" fill="url(#spCu2)"/>
<circle cx="1535.3" cy="762.7" r="22" fill="url(#spCu2)"/>
<circle cx="1664.2" cy="770" r="22" fill="url(#spCu2)"/>
<path d="M1614.7 766.5 L1610.5 784.6" stroke="#ea2c86" stroke-width="8"/>
<path d="M1610.5 784.6 L1603.4 815.4" stroke="#ece428" stroke-width="8"/>
<circle cx="1603.4" cy="815.4" r="18" fill="url(#spS)"/>
<path d="M1575.7 684.1 C1573.9 674.3 1589 673.6 1596.1 679.2 Q1606.7 683.4 1617.3 679.2 C1624.4 673.6 1639.5 674.3 1637.7 684.1 C1636.8 698.1 1622.6 704.4 1606.7 704.4 C1590.8 704.4 1576.6 698.1 1575.7 684.1 Z" fill="url(#lobe)" opacity="0.82"/>
<circle cx="1608.7" cy="664.6" r="23.5" fill="url(#spSbC)"/>
<rect x="1569" y="634.2" width="72.1" height="77.8" fill="none" stroke="#2a1ad8" stroke-width="3.4" stroke-dasharray="7.5 4"/>
<path d="M1603.4 728.2 H1505.1" stroke="#2a1ad8" stroke-width="3.4" stroke-dasharray="3.6 3.6"/>
<path d="M1520.1 717.7 L1502.1 728.2 L1520.1 738.7" stroke="#2a1ad8" stroke-width="3.8" fill="none"/>
<path d="M1603.4 676 V813" stroke="#2a1ad8" stroke-width="3.4" stroke-dasharray="3.6 3.6"/>
<path d="M1592.9 690 L1603.4 673 L1613.9 690" stroke="#2a1ad8" stroke-width="3.8" fill="none"/>
<path d="M1592.9 799 L1603.4 816 L1613.9 799" stroke="#2a1ad8" stroke-width="3.8" fill="none"/>
<text x="1654.9" y="712" font-size="31.5" fill="#2a1ad8">LPEs</text>
<text x="1417" y="747.3" font-size="31.5" fill="#000">Sb-S</text>
<path d="M1137.3 847.3 L1116.5 831.9" stroke="#1010f0" stroke-width="3.2"/>
<path d="M1108.1 825.7 L1120.4 828.4 L1114.3 836.7 Z" fill="#1010f0"/>
<path d="M1137.3 847.3 L1154.3 832.9" stroke="#10d010" stroke-width="3.2"/>
<path d="M1162.3 826.1 L1156.9 837.5 L1150.2 829.6 Z" fill="#10d010"/>
<path d="M1137.3 847.3 L1134.5 861.9" stroke="#d80c0c" stroke-width="3.2"/>
<path d="M1132.5 872.7 L1129.4 859.9 L1140 861.9 Z" fill="#d80c0c"/>
<circle cx="1137.3" cy="847.3" r="4" fill="url(#spW)"/>
<text x="1088.5" y="829.5" font-size="24" fill="#000" font-style="italic">c</text>
<text x="1171" y="829.5" font-size="24" fill="#000" font-style="italic">b</text>
<text x="1128.5" y="895.4" font-size="24" fill="#000" font-style="italic">a</text>
<path d="M1692 846.2 L1671.2 830.8" stroke="#1010f0" stroke-width="3.2"/>
<path d="M1662.8 824.6 L1675.1 827.3 L1669 835.6 Z" fill="#1010f0"/>
<path d="M1692 846.2 L1709 831.8" stroke="#10d010" stroke-width="3.2"/>
<path d="M1717 825 L1711.6 836.4 L1704.9 828.5 Z" fill="#10d010"/>
<path d="M1692 846.2 L1689.2 860.8" stroke="#d80c0c" stroke-width="3.2"/>
<path d="M1687.2 871.6 L1684.1 858.8 L1694.7 860.8 Z" fill="#d80c0c"/>
<circle cx="1692" cy="846.2" r="4" fill="url(#spW)"/>
<text x="1642" y="828.5" font-size="24" fill="#000" font-style="italic">c</text>
<text x="1724.5" y="828.5" font-size="24" fill="#000" font-style="italic">b</text>
<text x="1683" y="894.5" font-size="24" fill="#000" font-style="italic">a</text>
<circle cx="1299.4" cy="875.4" r="9.5" fill="url(#spCu2)"/>
<text x="1311.6" y="885" font-size="29.5" fill="#000">Cu2</text>
<circle cx="1382.5" cy="875.4" r="11.5" fill="url(#spSbd)"/>
<text x="1395.5" y="885" font-size="29.5" fill="#000">Sb</text>
<circle cx="1445.3" cy="875.4" r="9.5" fill="url(#spS)"/>
<text x="1459.5" y="885" font-size="29.5" fill="#000">S</text>
<circle cx="1500" cy="875.4" r="9.5" fill="url(#spCu1)"/>
<text x="1512.2" y="885" font-size="29.5" fill="#000">Cu1</text>
<text x="1262" y="947.5" font-size="32" fill="#000" text-anchor="middle">0 GPa</text>
<text x="1610" y="948.5" font-size="32" fill="#000" text-anchor="middle">9.4 GPa</text>
<text x="1058.5" y="611" font-size="40" fill="#000" font-weight="bold">e</text>
<path d="M1163.6 1155.1 C1166.7 1152.9 1175.5 1148 1181.9 1142.1 C1188.3 1136.3 1192 1128.6 1202.1 1119.8 C1212.3 1111.1 1229.2 1096.9 1242.7 1089.4 C1256.2 1082 1273.1 1078.6 1283.2 1075.3 C1293.3 1071.9 1296.7 1070.5 1303.5 1069.6 C1310.2 1068.7 1318 1069.5 1323.7 1070 C1329.5 1070.5 1331.9 1069.2 1337.9 1072.4 C1344 1075.7 1353.8 1083.2 1360.2 1089.4 C1366.6 1095.7 1371 1099.6 1376.4 1109.7 C1381.8 1119.8 1387.3 1134 1392.7 1150.2 C1398.1 1166.5 1403.5 1188.1 1408.9 1207 C1414.3 1225.9 1419.7 1245.5 1425.1 1263.7 C1430.5 1282 1436.6 1302.9 1441.3 1316.4 C1446 1330 1448.7 1337.4 1453.5 1344.8 C1458.2 1352.2 1462.9 1356.3 1469.7 1361 C1476.4 1365.8 1489.9 1371.2 1494 1373.2 L1494 1402.8 L1163.6 1402.8 Z" fill="url(#g0)" fill-opacity="1"/>
<path d="M1445.4 1344 C1447.4 1344.1 1451.4 1347.4 1457.5 1344.8 C1463.6 1342.2 1475.8 1334 1481.8 1328.6 C1487.9 1323.2 1487.2 1326.6 1494 1312.4 C1500.7 1298.2 1513.6 1265.1 1522.4 1243.5 C1531.1 1221.9 1538.6 1202.9 1546.7 1182.7 C1554.8 1162.4 1561.2 1134.7 1571 1121.9 C1580.8 1109 1596 1106.3 1605.5 1105.7 C1614.9 1105 1620.7 1110.4 1627.8 1117.8 C1634.9 1125.3 1641.9 1136.7 1648 1150.2 C1654.1 1163.8 1658.8 1180.6 1664.2 1198.9 C1669.6 1217.1 1676.4 1246.2 1680.5 1259.7 C1684.5 1273.2 1683.8 1271.2 1688.6 1280 C1693.3 1288.7 1705.5 1307 1708.8 1312.4 L1708.8 1402.8 L1445.4 1402.8 Z" fill="url(#gs9)" fill-opacity="0.8"/>
<path d="M1445.4 1344 C1447.4 1344.1 1451.4 1347.4 1457.5 1344.8 C1463.6 1342.2 1475.8 1334 1481.8 1328.6 C1487.9 1323.2 1487.2 1326.6 1494 1312.4 C1500.7 1298.2 1513.6 1265.1 1522.4 1243.5 C1531.1 1221.9 1538.6 1202.9 1546.7 1182.7 C1554.8 1162.4 1561.2 1134.7 1571 1121.9 C1580.8 1109 1596 1106.3 1605.5 1105.7 C1614.9 1105 1620.7 1110.4 1627.8 1117.8 C1634.9 1125.3 1641.9 1136.7 1648 1150.2 C1654.1 1163.8 1658.8 1180.6 1664.2 1198.9 C1669.6 1217.1 1676.4 1246.2 1680.5 1259.7 C1684.5 1273.2 1683.8 1271.2 1688.6 1280 C1693.3 1288.7 1705.5 1307 1708.8 1312.4" stroke="#7d6c0c" stroke-width="2.6" fill="none"/>
<path d="M1445.4 1344 V1402.8" stroke="#7d6c0c" stroke-width="2.4"/>
<path d="M1494 1373.2 C1500.7 1371.2 1522.4 1369.1 1534.5 1361 C1546.7 1352.9 1556.8 1339.4 1567 1324.5 C1577.1 1309.7 1587.9 1290.1 1595.3 1271.9 C1602.8 1253.6 1606.1 1231.3 1611.5 1215.1 C1616.9 1198.9 1621 1189.1 1627.8 1174.6 C1634.5 1160 1644.6 1137.7 1652.1 1128 C1659.5 1118.2 1665.9 1118.5 1672.3 1115.8 C1678.8 1113.1 1684.5 1111.1 1690.6 1111.7 C1696.7 1112.4 1705.8 1118.5 1708.8 1119.8 L1708.8 1402.8 L1494 1402.8 Z" fill="url(#gs0)" fill-opacity="0.72"/>
<path d="M1163.6 1146.2 C1168 1142.5 1181.5 1131.3 1190 1123.9 C1198.4 1116.5 1204.2 1108.4 1214.3 1101.6 C1224.4 1094.8 1239.3 1088.1 1250.8 1083.4 C1262.3 1078.6 1273.8 1074.2 1283.2 1073.2 C1292.7 1072.2 1298.4 1071.2 1307.5 1077.3 C1316.7 1083.4 1329.2 1096.9 1337.9 1109.7 C1346.7 1122.5 1353.1 1137.4 1360.2 1154.3 C1367.3 1171.2 1373.7 1192.8 1380.5 1211 C1387.3 1229.3 1394.7 1244.2 1400.8 1263.7 C1406.8 1283.3 1412.2 1316.1 1417 1328.6 C1421.7 1341.1 1424.4 1336.2 1429.1 1338.7 C1433.9 1341.3 1442.6 1343.1 1445.4 1344 L1445.4 1402.8 L1163.6 1402.8 Z" fill="url(#g9)" fill-opacity="0.45"/>
<path d="M1163.6 1146.2 C1168 1142.5 1181.5 1131.3 1190 1123.9 C1198.4 1116.5 1204.2 1108.4 1214.3 1101.6 C1224.4 1094.8 1239.3 1088.1 1250.8 1083.4 C1262.3 1078.6 1273.8 1074.2 1283.2 1073.2 C1292.7 1072.2 1298.4 1071.2 1307.5 1077.3 C1316.7 1083.4 1329.2 1096.9 1337.9 1109.7 C1346.7 1122.5 1353.1 1137.4 1360.2 1154.3 C1367.3 1171.2 1373.7 1192.8 1380.5 1211 C1387.3 1229.3 1394.7 1244.2 1400.8 1263.7 C1406.8 1283.3 1412.2 1316.1 1417 1328.6 C1421.7 1341.1 1424.4 1336.2 1429.1 1338.7 C1433.9 1341.3 1442.6 1343.1 1445.4 1344" stroke="#2f6a8c" stroke-opacity="0.7" stroke-width="2.4" fill="none"/>
<path d="M1163.6 1155.1 C1166.7 1152.9 1175.5 1148 1181.9 1142.1 C1188.3 1136.3 1192 1128.6 1202.1 1119.8 C1212.3 1111.1 1229.2 1096.9 1242.7 1089.4 C1256.2 1082 1273.1 1078.6 1283.2 1075.3 C1293.3 1071.9 1296.7 1070.5 1303.5 1069.6 C1310.2 1068.7 1318 1069.5 1323.7 1070 C1329.5 1070.5 1331.9 1069.2 1337.9 1072.4 C1344 1075.7 1353.8 1083.2 1360.2 1089.4 C1366.6 1095.7 1371 1099.6 1376.4 1109.7 C1381.8 1119.8 1387.3 1134 1392.7 1150.2 C1398.1 1166.5 1403.5 1188.1 1408.9 1207 C1414.3 1225.9 1419.7 1245.5 1425.1 1263.7 C1430.5 1282 1436.6 1302.9 1441.3 1316.4 C1446 1330 1448.7 1337.4 1453.5 1344.8 C1458.2 1352.2 1462.9 1356.3 1469.7 1361 C1476.4 1365.8 1489.9 1371.2 1494 1373.2" stroke="#30b4e6" stroke-width="2.6" fill="none"/>
<path d="M1494 1373.2 C1500.7 1371.2 1522.4 1369.1 1534.5 1361 C1546.7 1352.9 1556.8 1339.4 1567 1324.5 C1577.1 1309.7 1587.9 1290.1 1595.3 1271.9 C1602.8 1253.6 1606.1 1231.3 1611.5 1215.1 C1616.9 1198.9 1621 1189.1 1627.8 1174.6 C1634.5 1160 1644.6 1137.7 1652.1 1128 C1659.5 1118.2 1665.9 1118.5 1672.3 1115.8 C1678.8 1113.1 1684.5 1111.1 1690.6 1111.7 C1696.7 1112.4 1705.8 1118.5 1708.8 1119.8" stroke="#f6e040" stroke-width="2.6" fill="none"/>
<path d="M1494 1373.2 V1402.8" stroke="#f6e040" stroke-width="2.4"/>
<path d="M1443.3 1013.2 V1402.8 M1494 1013.2 V1402.8" stroke="#c8c8c8" stroke-width="2.2" stroke-dasharray="9 6"/>
<rect x="1163.6" y="1013.2" width="545.2" height="389.6" fill="none" stroke="#000" stroke-width="2"/>
<path d="M1163.6 1402.8 H1172.4" stroke="#000" stroke-width="1.8"/>
<text x="1153.4" y="1412.1" font-size="29" fill="#000" text-anchor="end">0.0</text>
<path d="M1163.6 1314.1 H1168.6" stroke="#000" stroke-width="1.8"/>
<path d="M1163.6 1225.5 H1172.4" stroke="#000" stroke-width="1.8"/>
<text x="1153.4" y="1234.8" font-size="29" fill="#000" text-anchor="end">0.5</text>
<path d="M1163.6 1136.8 H1168.6" stroke="#000" stroke-width="1.8"/>
<path d="M1163.6 1048.1 H1172.4" stroke="#000" stroke-width="1.8"/>
<text x="1153.4" y="1057.4" font-size="29" fill="#000" text-anchor="end">1.0</text>
<path d="M1241.5 1402.8 V1395.8" stroke="#000" stroke-width="1.8"/>
<path d="M1319.4 1402.8 V1390.8" stroke="#000" stroke-width="1.8"/>
<path d="M1397.3 1402.8 V1395.8" stroke="#000" stroke-width="1.8"/>
<path d="M1475.2 1402.8 V1390.8" stroke="#000" stroke-width="1.8"/>
<path d="M1553.1 1402.8 V1395.8" stroke="#000" stroke-width="1.8"/>
<path d="M1631 1402.8 V1390.8" stroke="#000" stroke-width="1.8"/>
<path d="M1708.9 1402.8 V1395.8" stroke="#000" stroke-width="1.8"/>
<text x="1163.6" y="1434.4" font-size="29" fill="#000" text-anchor="middle">0</text>
<text x="1319.4" y="1434.4" font-size="29" fill="#000" text-anchor="middle">1</text>
<text x="1475.2" y="1434.4" font-size="29" fill="#000" text-anchor="middle">2</text>
<text x="1631" y="1434.4" font-size="29" fill="#000" text-anchor="middle">3</text>
<path d="M1557 1048 H1580.5" stroke="#f5e24a" stroke-width="3.2" stroke-linecap="round"/>
<path d="M1530.5 1048 H1554.5" stroke="#36b6e4" stroke-width="3.2" stroke-linecap="round"/>
<path d="M1557 1083 H1580.5" stroke="#857412" stroke-width="3.2" stroke-linecap="round"/>
<path d="M1530.5 1083 H1554.5" stroke="#3d7593" stroke-width="3.2" stroke-linecap="round"/>
<text x="1590.3" y="1051.5" font-size="28.2" fill="#000">0 GPa</text>
<text x="1589.5" y="1086.3" font-size="28.2" fill="#000">9.4 GPa</text>
<text x="1228.3" y="1374.3" font-size="32.7" fill="#000">LPEs</text>
<text x="1565.5" y="1374.3" font-size="32.7" fill="#000">S atoms</text>
<text x="1451.5" y="1491.4" font-size="36.6" fill="#000" text-anchor="middle">Sb-S Distance (Å)</text>
<text transform="translate(1091 1199.5) rotate(-90)" font-size="36.6" text-anchor="middle">ELF (arb. units)</text>
<text x="1062" y="1014.5" font-size="40" fill="#000" font-weight="bold">f</text>
</svg>
</body></html>
